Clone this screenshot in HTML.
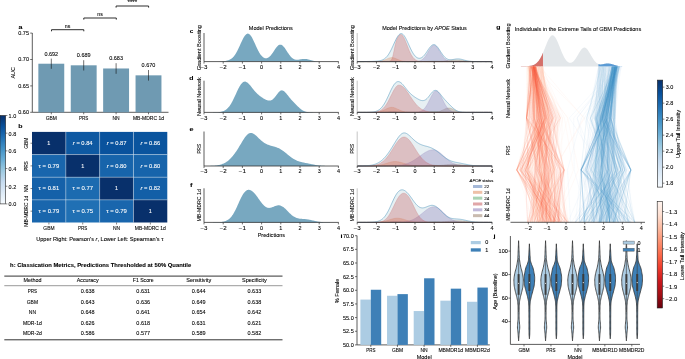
<!DOCTYPE html>
<html><head><meta charset="utf-8"><style>
html,body{margin:0;padding:0;background:#fff;}
svg{display:block;will-change:transform;}
text{font-family:"Liberation Sans", sans-serif;stroke:#000;stroke-width:0.08px;} text.w{stroke:#fff;}
</style></head><body>
<svg width="685" height="359" viewBox="0 0 685 359" font-family='"Liberation Sans", sans-serif'>
<rect width="685" height="359" fill="#fff"/>
<text x="20.6" y="29.22" font-size="5.9" text-anchor="middle" fill="#000" font-weight="bold" textLength="3.98" lengthAdjust="spacingAndGlyphs" >a</text>
<line x1="32.3" y1="33" x2="32.3" y2="112.3" stroke="#333333" stroke-width="0.8" />
<line x1="32.3" y1="112.3" x2="168.5" y2="112.3" stroke="#333333" stroke-width="0.8" />
<line x1="30.2" y1="112.3" x2="32.3" y2="112.3" stroke="#333333" stroke-width="0.7" />
<text x="29" y="114.03" font-size="4.8" text-anchor="end" fill="#000" textLength="10.69" lengthAdjust="spacingAndGlyphs" >0.60</text>
<line x1="30.2" y1="85.9" x2="32.3" y2="85.9" stroke="#333333" stroke-width="0.7" />
<text x="29" y="87.63" font-size="4.8" text-anchor="end" fill="#000" textLength="10.69" lengthAdjust="spacingAndGlyphs" >0.65</text>
<line x1="30.2" y1="59.5" x2="32.3" y2="59.5" stroke="#333333" stroke-width="0.7" />
<text x="29" y="61.23" font-size="4.8" text-anchor="end" fill="#000" textLength="10.69" lengthAdjust="spacingAndGlyphs" >0.70</text>
<line x1="30.2" y1="33.1" x2="32.3" y2="33.1" stroke="#333333" stroke-width="0.7" />
<text x="29" y="34.83" font-size="4.8" text-anchor="end" fill="#000" textLength="10.69" lengthAdjust="spacingAndGlyphs" >0.75</text>
<text transform="translate(12.8,72.8) rotate(-90)" x="0" y="1.94" font-size="5.4" text-anchor="middle" fill="#000" textLength="11.42" lengthAdjust="spacingAndGlyphs" >AUC</text>
<rect x="38.35" y="63.72" width="25.9" height="48.58" fill="#6f9ab2" />
<line x1="51.3" y1="58.6" x2="51.3" y2="68.8" stroke="#111" stroke-width="0.6" />
<text x="51.3" y="55.83" font-size="4.8" text-anchor="middle" fill="#000" textLength="13.74" lengthAdjust="spacingAndGlyphs" >0.692</text>
<line x1="51.3" y1="112.3" x2="51.3" y2="114.3" stroke="#333333" stroke-width="0.7" />
<text x="51.3" y="119.53" font-size="4.8" text-anchor="middle" fill="#000" textLength="11.15" lengthAdjust="spacingAndGlyphs" >GBM</text>
<rect x="70.75" y="65.31" width="25.9" height="46.99" fill="#6f9ab2" />
<line x1="83.7" y1="60.2" x2="83.7" y2="70.5" stroke="#111" stroke-width="0.6" />
<text x="83.7" y="57.43" font-size="4.8" text-anchor="middle" fill="#000" textLength="13.74" lengthAdjust="spacingAndGlyphs" >0.689</text>
<line x1="83.7" y1="112.3" x2="83.7" y2="114.3" stroke="#333333" stroke-width="0.7" />
<text x="83.7" y="119.53" font-size="4.8" text-anchor="middle" fill="#000" textLength="9.28" lengthAdjust="spacingAndGlyphs" >PRS</text>
<rect x="103.15" y="68.48" width="25.9" height="43.82" fill="#6f9ab2" />
<line x1="116.1" y1="63.2" x2="116.1" y2="73.8" stroke="#111" stroke-width="0.6" />
<text x="116.1" y="60.43" font-size="4.8" text-anchor="middle" fill="#000" textLength="13.74" lengthAdjust="spacingAndGlyphs" >0.683</text>
<line x1="116.1" y1="112.3" x2="116.1" y2="114.3" stroke="#333333" stroke-width="0.7" />
<text x="116.1" y="119.53" font-size="4.8" text-anchor="middle" fill="#000" textLength="7.18" lengthAdjust="spacingAndGlyphs" >NN</text>
<rect x="135.55" y="75.34" width="25.9" height="36.96" fill="#6f9ab2" />
<line x1="148.5" y1="70" x2="148.5" y2="80.6" stroke="#111" stroke-width="0.6" />
<text x="148.5" y="67.23" font-size="4.8" text-anchor="middle" fill="#000" textLength="13.74" lengthAdjust="spacingAndGlyphs" >0.670</text>
<line x1="148.5" y1="112.3" x2="148.5" y2="114.3" stroke="#333333" stroke-width="0.7" />
<text x="148.5" y="119.53" font-size="4.8" text-anchor="middle" fill="#000" textLength="31.08" lengthAdjust="spacingAndGlyphs" >MB-MDRC 1d</text>
<path d="M51.5,31.3 L51.5,29.7 L83.8,29.7 L83.8,31.3" fill="none" stroke="#222" stroke-width="0.95"/>
<text x="67.65" y="28.03" font-size="4.8" text-anchor="middle" fill="#000" textLength="5.54" lengthAdjust="spacingAndGlyphs" >ns</text>
<path d="M83.8,19.6 L83.8,18.0 L116.3,18.0 L116.3,19.6" fill="none" stroke="#222" stroke-width="0.95"/>
<text x="100.05" y="16.33" font-size="4.8" text-anchor="middle" fill="#000" textLength="5.54" lengthAdjust="spacingAndGlyphs" >ns</text>
<path d="M116.1,7.6 L116.1,6.0 L148.6,6.0 L148.6,7.6" fill="none" stroke="#222" stroke-width="0.95"/>
<text x="132.35" y="4.13" font-size="4.8" text-anchor="middle" fill="#000" textLength="9.60" lengthAdjust="spacingAndGlyphs" >****</text>
<text x="20.4" y="127.72" font-size="5.9" text-anchor="middle" fill="#000" font-weight="bold" textLength="4.22" lengthAdjust="spacingAndGlyphs" >b</text>
<defs><linearGradient id="gB" x1="0" y1="1" x2="0" y2="0"><stop offset="0.000" stop-color="#f7fbff"/><stop offset="0.062" stop-color="#eaf3fb"/><stop offset="0.125" stop-color="#deebf7"/><stop offset="0.188" stop-color="#d2e3f3"/><stop offset="0.250" stop-color="#c6dbef"/><stop offset="0.312" stop-color="#b2d2e8"/><stop offset="0.375" stop-color="#9dcae1"/><stop offset="0.438" stop-color="#84bcdb"/><stop offset="0.500" stop-color="#6aaed6"/><stop offset="0.562" stop-color="#56a0ce"/><stop offset="0.625" stop-color="#4191c6"/><stop offset="0.688" stop-color="#3181bd"/><stop offset="0.750" stop-color="#2070b4"/><stop offset="0.812" stop-color="#1460a8"/><stop offset="0.875" stop-color="#08509b"/><stop offset="0.938" stop-color="#084082"/><stop offset="1.000" stop-color="#08306b"/></linearGradient>
<linearGradient id="gBu" x1="0" y1="1" x2="0" y2="0"><stop offset="0.000" stop-color="#f7fbff"/><stop offset="0.062" stop-color="#ebf3fb"/><stop offset="0.125" stop-color="#dfebf7"/><stop offset="0.188" stop-color="#d2e3f3"/><stop offset="0.250" stop-color="#c7dbef"/><stop offset="0.312" stop-color="#b2d2e8"/><stop offset="0.375" stop-color="#9fcae1"/><stop offset="0.438" stop-color="#84bcdb"/><stop offset="0.500" stop-color="#6aaed6"/><stop offset="0.562" stop-color="#56a0ce"/><stop offset="0.625" stop-color="#4292c6"/><stop offset="0.688" stop-color="#3282be"/><stop offset="0.750" stop-color="#2070b4"/><stop offset="0.812" stop-color="#1460a8"/><stop offset="0.875" stop-color="#08509b"/><stop offset="0.938" stop-color="#084184"/><stop offset="1.000" stop-color="#08306b"/></linearGradient>
<linearGradient id="gR" x1="0" y1="0" x2="0" y2="1"><stop offset="0.000" stop-color="#fff5f0"/><stop offset="0.062" stop-color="#feeae1"/><stop offset="0.125" stop-color="#fee0d2"/><stop offset="0.188" stop-color="#fdcdb9"/><stop offset="0.250" stop-color="#fcbba1"/><stop offset="0.312" stop-color="#fca689"/><stop offset="0.375" stop-color="#fc9272"/><stop offset="0.438" stop-color="#fb7d5d"/><stop offset="0.500" stop-color="#fb694a"/><stop offset="0.562" stop-color="#f5523a"/><stop offset="0.625" stop-color="#ee3a2c"/><stop offset="0.688" stop-color="#dc2924"/><stop offset="0.750" stop-color="#ca181d"/><stop offset="0.812" stop-color="#b71319"/><stop offset="0.875" stop-color="#a30f15"/><stop offset="0.938" stop-color="#840711"/><stop offset="1.000" stop-color="#67000d"/></linearGradient></defs>
<rect x="0" y="115.5" width="5.6" height="88.4" fill="url(#gB)" stroke="#222" stroke-width="0.6"/>
<line x1="5.6" y1="115.5" x2="7.4" y2="115.5" stroke="#333333" stroke-width="0.6" />
<text x="8.6" y="117.93" font-size="4.8" text-anchor="start" fill="#000" textLength="7.63" lengthAdjust="spacingAndGlyphs" >1.0</text>
<line x1="5.6" y1="133.18" x2="7.4" y2="133.18" stroke="#333333" stroke-width="0.6" />
<text x="8.6" y="135.61" font-size="4.8" text-anchor="start" fill="#000" textLength="7.63" lengthAdjust="spacingAndGlyphs" >0.8</text>
<line x1="5.6" y1="150.86" x2="7.4" y2="150.86" stroke="#333333" stroke-width="0.6" />
<text x="8.6" y="153.29" font-size="4.8" text-anchor="start" fill="#000" textLength="7.63" lengthAdjust="spacingAndGlyphs" >0.6</text>
<line x1="5.6" y1="168.54" x2="7.4" y2="168.54" stroke="#333333" stroke-width="0.6" />
<text x="8.6" y="170.97" font-size="4.8" text-anchor="start" fill="#000" textLength="7.63" lengthAdjust="spacingAndGlyphs" >0.4</text>
<line x1="5.6" y1="186.22" x2="7.4" y2="186.22" stroke="#333333" stroke-width="0.6" />
<text x="8.6" y="188.65" font-size="4.8" text-anchor="start" fill="#000" textLength="7.63" lengthAdjust="spacingAndGlyphs" >0.2</text>
<line x1="5.6" y1="203.9" x2="7.4" y2="203.9" stroke="#333333" stroke-width="0.6" />
<text x="8.6" y="206.33" font-size="4.8" text-anchor="start" fill="#000" textLength="7.63" lengthAdjust="spacingAndGlyphs" >0.0</text>
<rect x="32" y="131.9" width="33.82" height="22.65" fill="#08306b" />
<rect x="65.82" y="131.9" width="33.82" height="22.65" fill="#0e59a2" />
<rect x="99.64" y="131.9" width="33.82" height="22.65" fill="#09529d" />
<rect x="133.46" y="131.9" width="33.82" height="22.65" fill="#0a549e" />
<rect x="32" y="154.55" width="33.82" height="22.65" fill="#1966ad" />
<rect x="65.82" y="154.55" width="33.82" height="22.65" fill="#08306b" />
<rect x="99.64" y="154.55" width="33.82" height="22.65" fill="#1764ab" />
<rect x="133.46" y="154.55" width="33.82" height="22.65" fill="#1764ab" />
<rect x="32" y="177.2" width="33.82" height="22.65" fill="#1561a9" />
<rect x="65.82" y="177.2" width="33.82" height="22.65" fill="#1c6bb0" />
<rect x="99.64" y="177.2" width="33.82" height="22.65" fill="#08306b" />
<rect x="133.46" y="177.2" width="33.82" height="22.65" fill="#135fa7" />
<rect x="32" y="199.85" width="33.82" height="22.65" fill="#1966ad" />
<rect x="65.82" y="199.85" width="33.82" height="22.65" fill="#2070b4" />
<rect x="99.64" y="199.85" width="33.82" height="22.65" fill="#1966ad" />
<rect x="133.46" y="199.85" width="33.82" height="22.65" fill="#08306b" />
<line x1="65.82" y1="131.9" x2="65.82" y2="222.5" stroke="#ffffff" stroke-width="0.5" stroke-opacity="0.7"/>
<line x1="32" y1="154.55" x2="167.28" y2="154.55" stroke="#ffffff" stroke-width="0.5" stroke-opacity="0.7"/>
<line x1="99.64" y1="131.9" x2="99.64" y2="222.5" stroke="#ffffff" stroke-width="0.5" stroke-opacity="0.7"/>
<line x1="32" y1="177.2" x2="167.28" y2="177.2" stroke="#ffffff" stroke-width="0.5" stroke-opacity="0.7"/>
<line x1="133.46" y1="131.9" x2="133.46" y2="222.5" stroke="#ffffff" stroke-width="0.5" stroke-opacity="0.7"/>
<line x1="32" y1="199.85" x2="167.28" y2="199.85" stroke="#ffffff" stroke-width="0.5" stroke-opacity="0.7"/>
<text x="48.91" y="144.95" font-size="4.8" text-anchor="middle" fill="#ffffff" textLength="3.05" lengthAdjust="spacingAndGlyphs" class="w">1</text>
<text x="82.73" y="144.95" font-size="4.8" text-anchor="middle" fill="#ffffff" textLength="19.74" lengthAdjust="spacingAndGlyphs" class="w"><tspan font-style="italic">r</tspan> = 0.84</text>
<text x="116.55" y="144.95" font-size="4.8" text-anchor="middle" fill="#ffffff" textLength="19.74" lengthAdjust="spacingAndGlyphs" class="w"><tspan font-style="italic">r</tspan> = 0.87</text>
<text x="150.37" y="144.95" font-size="4.8" text-anchor="middle" fill="#ffffff" textLength="19.74" lengthAdjust="spacingAndGlyphs" class="w"><tspan font-style="italic">r</tspan> = 0.86</text>
<text x="48.91" y="167.6" font-size="4.8" text-anchor="middle" fill="#ffffff" textLength="20.65" lengthAdjust="spacingAndGlyphs" class="w">τ = 0.79</text>
<text x="82.73" y="167.6" font-size="4.8" text-anchor="middle" fill="#ffffff" textLength="3.05" lengthAdjust="spacingAndGlyphs" class="w">1</text>
<text x="116.55" y="167.6" font-size="4.8" text-anchor="middle" fill="#ffffff" textLength="19.74" lengthAdjust="spacingAndGlyphs" class="w"><tspan font-style="italic">r</tspan> = 0.80</text>
<text x="150.37" y="167.6" font-size="4.8" text-anchor="middle" fill="#ffffff" textLength="19.74" lengthAdjust="spacingAndGlyphs" class="w"><tspan font-style="italic">r</tspan> = 0.80</text>
<text x="48.91" y="190.25" font-size="4.8" text-anchor="middle" fill="#ffffff" textLength="20.65" lengthAdjust="spacingAndGlyphs" class="w">τ = 0.81</text>
<text x="82.73" y="190.25" font-size="4.8" text-anchor="middle" fill="#ffffff" textLength="20.65" lengthAdjust="spacingAndGlyphs" class="w">τ = 0.77</text>
<text x="116.55" y="190.25" font-size="4.8" text-anchor="middle" fill="#ffffff" textLength="3.05" lengthAdjust="spacingAndGlyphs" class="w">1</text>
<text x="150.37" y="190.25" font-size="4.8" text-anchor="middle" fill="#ffffff" textLength="19.74" lengthAdjust="spacingAndGlyphs" class="w"><tspan font-style="italic">r</tspan> = 0.82</text>
<text x="48.91" y="212.9" font-size="4.8" text-anchor="middle" fill="#ffffff" textLength="20.65" lengthAdjust="spacingAndGlyphs" class="w">τ = 0.79</text>
<text x="82.73" y="212.9" font-size="4.8" text-anchor="middle" fill="#ffffff" textLength="20.65" lengthAdjust="spacingAndGlyphs" class="w">τ = 0.75</text>
<text x="116.55" y="212.9" font-size="4.8" text-anchor="middle" fill="#ffffff" textLength="20.65" lengthAdjust="spacingAndGlyphs" class="w">τ = 0.79</text>
<text x="150.37" y="212.9" font-size="4.8" text-anchor="middle" fill="#ffffff" textLength="3.05" lengthAdjust="spacingAndGlyphs" class="w">1</text>
<line x1="30.5" y1="143.22" x2="32.5" y2="143.22" stroke="#333333" stroke-width="0.6" />
<text transform="translate(26,143.22) rotate(-90)" x="0" y="1.73" font-size="4.8" text-anchor="middle" fill="#000" textLength="11.15" lengthAdjust="spacingAndGlyphs" >GBM</text>
<line x1="48.91" y1="222.5" x2="48.91" y2="224.5" stroke="#333333" stroke-width="0.6" />
<text x="48.91" y="229.73" font-size="4.8" text-anchor="middle" fill="#000" textLength="11.15" lengthAdjust="spacingAndGlyphs" >GBM</text>
<line x1="30.5" y1="165.88" x2="32.5" y2="165.88" stroke="#333333" stroke-width="0.6" />
<text transform="translate(26,165.88) rotate(-90)" x="0" y="1.73" font-size="4.8" text-anchor="middle" fill="#000" textLength="9.28" lengthAdjust="spacingAndGlyphs" >PRS</text>
<line x1="82.73" y1="222.5" x2="82.73" y2="224.5" stroke="#333333" stroke-width="0.6" />
<text x="82.73" y="229.73" font-size="4.8" text-anchor="middle" fill="#000" textLength="9.28" lengthAdjust="spacingAndGlyphs" >PRS</text>
<line x1="30.5" y1="188.53" x2="32.5" y2="188.53" stroke="#333333" stroke-width="0.6" />
<text transform="translate(26,188.53) rotate(-90)" x="0" y="1.73" font-size="4.8" text-anchor="middle" fill="#000" textLength="7.18" lengthAdjust="spacingAndGlyphs" >NN</text>
<line x1="116.55" y1="222.5" x2="116.55" y2="224.5" stroke="#333333" stroke-width="0.6" />
<text x="116.55" y="229.73" font-size="4.8" text-anchor="middle" fill="#000" textLength="7.18" lengthAdjust="spacingAndGlyphs" >NN</text>
<line x1="30.5" y1="211.18" x2="32.5" y2="211.18" stroke="#333333" stroke-width="0.6" />
<text transform="translate(26,211.18) rotate(-90)" x="0" y="1.73" font-size="4.8" text-anchor="middle" fill="#000" textLength="31.08" lengthAdjust="spacingAndGlyphs" >MB-MDRC 1d</text>
<line x1="150.37" y1="222.5" x2="150.37" y2="224.5" stroke="#333333" stroke-width="0.6" />
<text x="150.37" y="229.73" font-size="4.8" text-anchor="middle" fill="#000" textLength="31.08" lengthAdjust="spacingAndGlyphs" >MB-MDRC 1d</text>
<text x="99.8" y="240.8" font-size="5" text-anchor="middle" fill="#000" textLength="127.23" lengthAdjust="spacingAndGlyphs" >Upper Right: Pearson's <tspan font-style="italic">r</tspan>, Lower Left: Spearman's τ</text>
<text x="10.1" y="266.88" font-size="4.95" text-anchor="start" fill="#000" font-weight="bold" textLength="181.15" lengthAdjust="spacingAndGlyphs" >h: Classication Metrics, Predictions Thresholded at 50% Quantile</text>
<line x1="4.3" y1="276.1" x2="282.5" y2="276.1" stroke="#333" stroke-width="1.0" />
<line x1="4.3" y1="285.7" x2="282.5" y2="285.7" stroke="#555" stroke-width="0.6" />
<line x1="4.3" y1="339.8" x2="282.5" y2="339.8" stroke="#333" stroke-width="1.0" />
<text x="32.4" y="282.33" font-size="4.8" text-anchor="middle" fill="#000" textLength="18.00" lengthAdjust="spacingAndGlyphs" >Method</text>
<text x="87.7" y="282.33" font-size="4.8" text-anchor="middle" fill="#000" textLength="21.91" lengthAdjust="spacingAndGlyphs" >Accuracy</text>
<text x="143.2" y="282.33" font-size="4.8" text-anchor="middle" fill="#000" textLength="20.79" lengthAdjust="spacingAndGlyphs" >F1 Score</text>
<text x="198.7" y="282.33" font-size="4.8" text-anchor="middle" fill="#000" textLength="24.99" lengthAdjust="spacingAndGlyphs" >Sensitivity</text>
<text x="254.4" y="282.33" font-size="4.8" text-anchor="middle" fill="#000" textLength="24.74" lengthAdjust="spacingAndGlyphs" >Specificity</text>
<text x="32.4" y="293.23" font-size="4.8" text-anchor="middle" fill="#000" textLength="9.28" lengthAdjust="spacingAndGlyphs" >PRS</text>
<text x="87.7" y="293.23" font-size="4.8" text-anchor="middle" fill="#000" textLength="13.74" lengthAdjust="spacingAndGlyphs" >0.638</text>
<text x="143.2" y="293.23" font-size="4.8" text-anchor="middle" fill="#000" textLength="13.74" lengthAdjust="spacingAndGlyphs" >0.631</text>
<text x="198.7" y="293.23" font-size="4.8" text-anchor="middle" fill="#000" textLength="13.74" lengthAdjust="spacingAndGlyphs" >0.644</text>
<text x="254.4" y="293.23" font-size="4.8" text-anchor="middle" fill="#000" textLength="13.74" lengthAdjust="spacingAndGlyphs" >0.633</text>
<text x="32.4" y="303.53" font-size="4.8" text-anchor="middle" fill="#000" textLength="11.15" lengthAdjust="spacingAndGlyphs" >GBM</text>
<text x="87.7" y="303.53" font-size="4.8" text-anchor="middle" fill="#000" textLength="13.74" lengthAdjust="spacingAndGlyphs" >0.643</text>
<text x="143.2" y="303.53" font-size="4.8" text-anchor="middle" fill="#000" textLength="13.74" lengthAdjust="spacingAndGlyphs" >0.636</text>
<text x="198.7" y="303.53" font-size="4.8" text-anchor="middle" fill="#000" textLength="13.74" lengthAdjust="spacingAndGlyphs" >0.649</text>
<text x="254.4" y="303.53" font-size="4.8" text-anchor="middle" fill="#000" textLength="13.74" lengthAdjust="spacingAndGlyphs" >0.638</text>
<text x="32.4" y="314.03" font-size="4.8" text-anchor="middle" fill="#000" textLength="7.18" lengthAdjust="spacingAndGlyphs" >NN</text>
<text x="87.7" y="314.03" font-size="4.8" text-anchor="middle" fill="#000" textLength="13.74" lengthAdjust="spacingAndGlyphs" >0.648</text>
<text x="143.2" y="314.03" font-size="4.8" text-anchor="middle" fill="#000" textLength="13.74" lengthAdjust="spacingAndGlyphs" >0.641</text>
<text x="198.7" y="314.03" font-size="4.8" text-anchor="middle" fill="#000" textLength="13.74" lengthAdjust="spacingAndGlyphs" >0.654</text>
<text x="254.4" y="314.03" font-size="4.8" text-anchor="middle" fill="#000" textLength="13.74" lengthAdjust="spacingAndGlyphs" >0.642</text>
<text x="32.4" y="324.83" font-size="4.8" text-anchor="middle" fill="#000" textLength="18.81" lengthAdjust="spacingAndGlyphs" >MDR-1d</text>
<text x="87.7" y="324.83" font-size="4.8" text-anchor="middle" fill="#000" textLength="13.74" lengthAdjust="spacingAndGlyphs" >0.626</text>
<text x="143.2" y="324.83" font-size="4.8" text-anchor="middle" fill="#000" textLength="13.74" lengthAdjust="spacingAndGlyphs" >0.618</text>
<text x="198.7" y="324.83" font-size="4.8" text-anchor="middle" fill="#000" textLength="13.74" lengthAdjust="spacingAndGlyphs" >0.631</text>
<text x="254.4" y="324.83" font-size="4.8" text-anchor="middle" fill="#000" textLength="13.74" lengthAdjust="spacingAndGlyphs" >0.621</text>
<text x="32.4" y="335.23" font-size="4.8" text-anchor="middle" fill="#000" textLength="18.81" lengthAdjust="spacingAndGlyphs" >MDR-2d</text>
<text x="87.7" y="335.23" font-size="4.8" text-anchor="middle" fill="#000" textLength="13.74" lengthAdjust="spacingAndGlyphs" >0.586</text>
<text x="143.2" y="335.23" font-size="4.8" text-anchor="middle" fill="#000" textLength="13.74" lengthAdjust="spacingAndGlyphs" >0.577</text>
<text x="198.7" y="335.23" font-size="4.8" text-anchor="middle" fill="#000" textLength="13.74" lengthAdjust="spacingAndGlyphs" >0.589</text>
<text x="254.4" y="335.23" font-size="4.8" text-anchor="middle" fill="#000" textLength="13.74" lengthAdjust="spacingAndGlyphs" >0.582</text>
<path d="M204,61.58 L204.48,61.58 L204.96,61.58 L205.44,61.57 L205.92,61.57 L206.4,61.57 L206.88,61.57 L207.36,61.56 L207.84,61.56 L208.32,61.56 L208.8,61.55 L209.28,61.55 L209.76,61.54 L210.24,61.54 L210.72,61.54 L211.2,61.53 L211.68,61.53 L212.16,61.52 L212.64,61.51 L213.12,61.51 L213.6,61.5 L214.08,61.49 L214.56,61.49 L215.04,61.48 L215.52,61.47 L216,61.46 L216.48,61.45 L216.96,61.44 L217.44,61.43 L217.92,61.42 L218.4,61.41 L218.88,61.39 L219.36,61.38 L219.84,61.36 L220.32,61.34 L220.8,61.32 L221.28,61.3 L221.76,61.27 L222.24,61.24 L222.72,61.21 L223.2,61.18 L223.68,61.13 L224.16,61.09 L224.64,61.03 L225.12,60.97 L225.6,60.9 L226.08,60.82 L226.56,60.72 L227.04,60.61 L227.52,60.49 L228,60.35 L228.48,60.19 L228.96,60 L229.44,59.79 L229.92,59.56 L230.4,59.29 L230.88,58.99 L231.36,58.66 L231.84,58.29 L232.32,57.88 L232.8,57.42 L233.28,56.92 L233.76,56.38 L234.24,55.79 L234.72,55.14 L235.2,54.45 L235.68,53.71 L236.16,52.92 L236.64,52.08 L237.12,51.2 L237.6,50.27 L238.08,49.31 L238.56,48.31 L239.04,47.28 L239.52,46.24 L240,45.18 L240.48,44.11 L240.96,43.05 L241.44,41.99 L241.92,40.96 L242.4,39.96 L242.88,39 L243.36,38.09 L243.84,37.25 L244.32,36.47 L244.8,35.77 L245.28,35.16 L245.76,34.64 L246.24,34.23 L246.72,33.91 L247.2,33.71 L247.68,33.62 L248.16,33.65 L248.64,33.78 L249.12,34.03 L249.6,34.39 L250.08,34.85 L250.56,35.4 L251.04,36.05 L251.52,36.79 L252,37.6 L252.48,38.47 L252.96,39.4 L253.44,40.38 L253.92,41.4 L254.4,42.44 L254.88,43.5 L255.36,44.57 L255.84,45.64 L256.32,46.69 L256.8,47.73 L257.28,48.74 L257.76,49.72 L258.24,50.66 L258.72,51.56 L259.2,52.41 L259.68,53.21 L260.16,53.96 L260.64,54.65 L261.12,55.28 L261.6,55.85 L262.08,56.37 L262.56,56.82 L263.04,57.21 L263.52,57.54 L264,57.81 L264.48,58.02 L264.96,58.17 L265.44,58.26 L265.92,58.29 L266.4,58.27 L266.88,58.18 L267.36,58.03 L267.84,57.82 L268.32,57.56 L268.8,57.24 L269.28,56.86 L269.76,56.43 L270.24,55.95 L270.72,55.42 L271.2,54.85 L271.68,54.23 L272.16,53.58 L272.64,52.9 L273.12,52.2 L273.6,51.48 L274.08,50.76 L274.56,50.03 L275.04,49.32 L275.52,48.62 L276,47.96 L276.48,47.33 L276.96,46.75 L277.44,46.22 L277.92,45.76 L278.4,45.37 L278.88,45.06 L279.36,44.83 L279.84,44.69 L280.32,44.63 L280.8,44.67 L281.28,44.79 L281.76,45.01 L282.24,45.3 L282.72,45.68 L283.2,46.13 L283.68,46.65 L284.16,47.23 L284.64,47.85 L285.12,48.52 L285.6,49.22 L286.08,49.95 L286.56,50.69 L287.04,51.44 L287.52,52.18 L288,52.91 L288.48,53.62 L288.96,54.31 L289.44,54.97 L289.92,55.59 L290.4,56.17 L290.88,56.71 L291.36,57.21 L291.84,57.66 L292.32,58.06 L292.8,58.42 L293.28,58.73 L293.76,58.99 L294.24,59.21 L294.72,59.39 L295.2,59.53 L295.68,59.63 L296.16,59.7 L296.64,59.73 L297.12,59.74 L297.6,59.73 L298.08,59.69 L298.56,59.64 L299.04,59.57 L299.52,59.49 L300,59.41 L300.48,59.32 L300.96,59.24 L301.44,59.15 L301.92,59.08 L302.4,59.01 L302.88,58.96 L303.36,58.92 L303.84,58.9 L304.32,58.89 L304.8,58.9 L305.28,58.92 L305.76,58.96 L306.24,59.02 L306.72,59.1 L307.2,59.19 L307.68,59.29 L308.16,59.4 L308.64,59.52 L309.12,59.65 L309.6,59.78 L310.08,59.92 L310.56,60.05 L311.04,60.19 L311.52,60.32 L312,60.44 L312.48,60.57 L312.96,60.68 L313.44,60.79 L313.92,60.89 L314.4,60.98 L314.88,61.07 L315.36,61.14 L315.84,61.21 L316.32,61.27 L316.8,61.32 L317.28,61.37 L317.76,61.41 L318.24,61.44 L318.72,61.47 L319.2,61.49 L319.68,61.51 L320.16,61.53 L320.64,61.55 L321.12,61.56 L321.6,61.57 L322.08,61.57 L322.56,61.58 L323.04,61.58 L323.52,61.59 L324,61.59 L324.48,61.59 L324.96,61.59 L325.44,61.6 L325.92,61.6 L326.4,61.6 L326.88,61.6 L327.36,61.6 L327.84,61.6 L328.32,61.6 L328.8,61.6 L329.28,61.6 L329.76,61.6 L330.24,61.6 L330.72,61.6 L331.2,61.6 L331.68,61.6 L332.16,61.6 L332.64,61.6 L333.12,61.6 L333.6,61.6 L334.08,61.6 L334.56,61.6 L335.04,61.6 L335.52,61.6 L336,61.6 L336.48,61.6 L336.96,61.6 L337.44,61.6 L337.92,61.6 L338.4,61.6 L338.4,61.6 L204,61.6 Z" fill="#78a8c0"/>
<path d="M357.2,61.58 L357.68,61.58 L358.16,61.58 L358.64,61.57 L359.13,61.57 L359.61,61.57 L360.09,61.57 L360.57,61.56 L361.05,61.56 L361.53,61.56 L362.01,61.55 L362.5,61.55 L362.98,61.54 L363.46,61.54 L363.94,61.54 L364.42,61.53 L364.9,61.53 L365.39,61.52 L365.87,61.51 L366.35,61.51 L366.83,61.5 L367.31,61.49 L367.79,61.49 L368.27,61.48 L368.76,61.47 L369.24,61.46 L369.72,61.45 L370.2,61.44 L370.68,61.43 L371.16,61.42 L371.64,61.41 L372.13,61.39 L372.61,61.38 L373.09,61.36 L373.57,61.34 L374.05,61.32 L374.53,61.3 L375.02,61.27 L375.5,61.24 L375.98,61.21 L376.46,61.18 L376.94,61.13 L377.42,61.09 L377.9,61.03 L378.39,60.97 L378.87,60.9 L379.35,60.82 L379.83,60.72 L380.31,60.61 L380.79,60.49 L381.27,60.35 L381.76,60.19 L382.24,60 L382.72,59.79 L383.2,59.56 L383.68,59.29 L384.16,58.99 L384.65,58.66 L385.13,58.29 L385.61,57.88 L386.09,57.42 L386.57,56.92 L387.05,56.38 L387.53,55.79 L388.02,55.14 L388.5,54.45 L388.98,53.71 L389.46,52.92 L389.94,52.08 L390.42,51.2 L390.9,50.27 L391.39,49.31 L391.87,48.31 L392.35,47.28 L392.83,46.24 L393.31,45.18 L393.79,44.11 L394.28,43.05 L394.76,41.99 L395.24,40.96 L395.72,39.96 L396.2,39 L396.68,38.09 L397.16,37.25 L397.65,36.47 L398.13,35.77 L398.61,35.16 L399.09,34.64 L399.57,34.23 L400.05,33.91 L400.53,33.71 L401.02,33.62 L401.5,33.65 L401.98,33.78 L402.46,34.03 L402.94,34.39 L403.42,34.85 L403.91,35.4 L404.39,36.05 L404.87,36.79 L405.35,37.6 L405.83,38.47 L406.31,39.4 L406.79,40.38 L407.28,41.4 L407.76,42.44 L408.24,43.5 L408.72,44.57 L409.2,45.64 L409.68,46.69 L410.16,47.73 L410.65,48.74 L411.13,49.72 L411.61,50.66 L412.09,51.56 L412.57,52.41 L413.05,53.21 L413.54,53.96 L414.02,54.65 L414.5,55.28 L414.98,55.85 L415.46,56.37 L415.94,56.82 L416.42,57.21 L416.91,57.54 L417.39,57.81 L417.87,58.02 L418.35,58.17 L418.83,58.26 L419.31,58.29 L419.8,58.27 L420.28,58.18 L420.76,58.03 L421.24,57.82 L421.72,57.56 L422.2,57.24 L422.68,56.86 L423.17,56.43 L423.65,55.95 L424.13,55.42 L424.61,54.85 L425.09,54.23 L425.57,53.58 L426.05,52.9 L426.54,52.2 L427.02,51.48 L427.5,50.76 L427.98,50.03 L428.46,49.32 L428.94,48.62 L429.43,47.96 L429.91,47.33 L430.39,46.75 L430.87,46.22 L431.35,45.76 L431.83,45.37 L432.31,45.06 L432.8,44.83 L433.28,44.69 L433.76,44.63 L434.24,44.67 L434.72,44.79 L435.2,45.01 L435.68,45.3 L436.17,45.68 L436.65,46.13 L437.13,46.65 L437.61,47.23 L438.09,47.85 L438.57,48.52 L439.06,49.22 L439.54,49.95 L440.02,50.69 L440.5,51.44 L440.98,52.18 L441.46,52.91 L441.94,53.62 L442.43,54.31 L442.91,54.97 L443.39,55.59 L443.87,56.17 L444.35,56.71 L444.83,57.21 L445.31,57.66 L445.8,58.06 L446.28,58.42 L446.76,58.73 L447.24,58.99 L447.72,59.21 L448.2,59.39 L448.69,59.53 L449.17,59.63 L449.65,59.7 L450.13,59.73 L450.61,59.74 L451.09,59.73 L451.57,59.69 L452.06,59.64 L452.54,59.57 L453.02,59.49 L453.5,59.41 L453.98,59.32 L454.46,59.24 L454.94,59.15 L455.43,59.08 L455.91,59.01 L456.39,58.96 L456.87,58.92 L457.35,58.9 L457.83,58.89 L458.31,58.9 L458.8,58.92 L459.28,58.96 L459.76,59.02 L460.24,59.1 L460.72,59.19 L461.2,59.29 L461.69,59.4 L462.17,59.52 L462.65,59.65 L463.13,59.78 L463.61,59.92 L464.09,60.05 L464.57,60.19 L465.06,60.32 L465.54,60.44 L466.02,60.57 L466.5,60.68 L466.98,60.79 L467.46,60.89 L467.94,60.98 L468.43,61.07 L468.91,61.14 L469.39,61.21 L469.87,61.27 L470.35,61.32 L470.83,61.37 L471.32,61.41 L471.8,61.44 L472.28,61.47 L472.76,61.49 L473.24,61.51 L473.72,61.53 L474.2,61.55 L474.69,61.56 L475.17,61.57 L475.65,61.57 L476.13,61.58 L476.61,61.58 L477.09,61.59 L477.57,61.59 L478.06,61.59 L478.54,61.59 L479.02,61.6 L479.5,61.6 L479.98,61.6 L480.46,61.6 L480.95,61.6 L481.43,61.6 L481.91,61.6 L482.39,61.6 L482.87,61.6 L483.35,61.6 L483.83,61.6 L484.32,61.6 L484.8,61.6 L485.28,61.6 L485.76,61.6 L486.24,61.6 L486.72,61.6 L487.21,61.6 L487.69,61.6 L488.17,61.6 L488.65,61.6 L489.13,61.6 L489.61,61.6 L490.09,61.6 L490.58,61.6 L491.06,61.6 L491.54,61.6 L492.02,61.6 L492.02,61.6 L357.2,61.6 Z" fill="#e7f0f3"/>
<path d="M357.2,61.6 L357.68,61.6 L358.16,61.6 L358.64,61.6 L359.13,61.6 L359.61,61.6 L360.09,61.6 L360.57,61.6 L361.05,61.6 L361.53,61.6 L362.01,61.6 L362.5,61.6 L362.98,61.6 L363.46,61.6 L363.94,61.6 L364.42,61.6 L364.9,61.6 L365.39,61.6 L365.87,61.6 L366.35,61.6 L366.83,61.6 L367.31,61.6 L367.79,61.6 L368.27,61.6 L368.76,61.6 L369.24,61.6 L369.72,61.6 L370.2,61.6 L370.68,61.6 L371.16,61.6 L371.64,61.6 L372.13,61.6 L372.61,61.59 L373.09,61.59 L373.57,61.59 L374.05,61.59 L374.53,61.58 L375.02,61.58 L375.5,61.57 L375.98,61.57 L376.46,61.56 L376.94,61.55 L377.42,61.55 L377.9,61.53 L378.39,61.52 L378.87,61.51 L379.35,61.49 L379.83,61.48 L380.31,61.46 L380.79,61.44 L381.27,61.41 L381.76,61.39 L382.24,61.36 L382.72,61.34 L383.2,61.31 L383.68,61.28 L384.16,61.25 L384.65,61.22 L385.13,61.2 L385.61,61.17 L386.09,61.14 L386.57,61.12 L387.05,61.1 L387.53,61.08 L388.02,61.06 L388.5,61.05 L388.98,61.04 L389.46,61.03 L389.94,61.03 L390.42,61.03 L390.9,61.04 L391.39,61.05 L391.87,61.06 L392.35,61.08 L392.83,61.1 L393.31,61.12 L393.79,61.14 L394.28,61.17 L394.76,61.2 L395.24,61.22 L395.72,61.25 L396.2,61.28 L396.68,61.31 L397.16,61.34 L397.65,61.36 L398.13,61.39 L398.61,61.41 L399.09,61.44 L399.57,61.46 L400.05,61.48 L400.53,61.49 L401.02,61.51 L401.5,61.52 L401.98,61.53 L402.46,61.55 L402.94,61.55 L403.42,61.56 L403.91,61.57 L404.39,61.57 L404.87,61.58 L405.35,61.58 L405.83,61.59 L406.31,61.59 L406.79,61.59 L407.28,61.59 L407.76,61.6 L408.24,61.6 L408.72,61.6 L409.2,61.6 L409.68,61.6 L410.16,61.6 L410.65,61.6 L411.13,61.6 L411.61,61.6 L412.09,61.6 L412.57,61.6 L413.05,61.6 L413.54,61.6 L414.02,61.6 L414.5,61.6 L414.98,61.6 L415.46,61.6 L415.94,61.6 L416.42,61.6 L416.91,61.6 L417.39,61.6 L417.87,61.6 L418.35,61.6 L418.83,61.6 L419.31,61.6 L419.8,61.6 L420.28,61.6 L420.76,61.6 L421.24,61.6 L421.72,61.6 L422.2,61.6 L422.68,61.6 L423.17,61.6 L423.65,61.6 L424.13,61.6 L424.61,61.6 L425.09,61.6 L425.57,61.6 L426.05,61.6 L426.54,61.6 L427.02,61.6 L427.5,61.6 L427.98,61.6 L428.46,61.6 L428.94,61.6 L429.43,61.6 L429.91,61.6 L430.39,61.6 L430.87,61.6 L431.35,61.6 L431.83,61.6 L432.31,61.6 L432.8,61.6 L433.28,61.6 L433.76,61.6 L434.24,61.6 L434.72,61.6 L435.2,61.6 L435.68,61.6 L436.17,61.6 L436.65,61.6 L437.13,61.6 L437.61,61.6 L438.09,61.6 L438.57,61.6 L439.06,61.6 L439.54,61.6 L440.02,61.6 L440.5,61.6 L440.98,61.6 L441.46,61.6 L441.94,61.6 L442.43,61.6 L442.91,61.6 L443.39,61.6 L443.87,61.6 L444.35,61.6 L444.83,61.6 L445.31,61.6 L445.8,61.6 L446.28,61.6 L446.76,61.6 L447.24,61.6 L447.72,61.6 L448.2,61.6 L448.69,61.6 L449.17,61.6 L449.65,61.6 L450.13,61.6 L450.61,61.6 L451.09,61.6 L451.57,61.6 L452.06,61.6 L452.54,61.6 L453.02,61.6 L453.5,61.6 L453.98,61.6 L454.46,61.6 L454.94,61.6 L455.43,61.6 L455.91,61.6 L456.39,61.6 L456.87,61.6 L457.35,61.6 L457.83,61.6 L458.31,61.6 L458.8,61.6 L459.28,61.6 L459.76,61.6 L460.24,61.6 L460.72,61.6 L461.2,61.6 L461.69,61.6 L462.17,61.6 L462.65,61.6 L463.13,61.6 L463.61,61.6 L464.09,61.6 L464.57,61.6 L465.06,61.6 L465.54,61.6 L466.02,61.6 L466.5,61.6 L466.98,61.6 L467.46,61.6 L467.94,61.6 L468.43,61.6 L468.91,61.6 L469.39,61.6 L469.87,61.6 L470.35,61.6 L470.83,61.6 L471.32,61.6 L471.8,61.6 L472.28,61.6 L472.76,61.6 L473.24,61.6 L473.72,61.6 L474.2,61.6 L474.69,61.6 L475.17,61.6 L475.65,61.6 L476.13,61.6 L476.61,61.6 L477.09,61.6 L477.57,61.6 L478.06,61.6 L478.54,61.6 L479.02,61.6 L479.5,61.6 L479.98,61.6 L480.46,61.6 L480.95,61.6 L481.43,61.6 L481.91,61.6 L482.39,61.6 L482.87,61.6 L483.35,61.6 L483.83,61.6 L484.32,61.6 L484.8,61.6 L485.28,61.6 L485.76,61.6 L486.24,61.6 L486.72,61.6 L487.21,61.6 L487.69,61.6 L488.17,61.6 L488.65,61.6 L489.13,61.6 L489.61,61.6 L490.09,61.6 L490.58,61.6 L491.06,61.6 L491.54,61.6 L492.02,61.6 L492.02,61.6 L357.2,61.6 Z" fill="#4c72b0" fill-opacity="0.3" stroke="#4c72b0" stroke-opacity="0.4" stroke-width="0.5"/>
<path d="M357.2,61.6 L357.68,61.6 L358.16,61.6 L358.64,61.6 L359.13,61.6 L359.61,61.6 L360.09,61.6 L360.57,61.6 L361.05,61.6 L361.53,61.6 L362.01,61.6 L362.5,61.6 L362.98,61.6 L363.46,61.6 L363.94,61.6 L364.42,61.6 L364.9,61.6 L365.39,61.6 L365.87,61.6 L366.35,61.6 L366.83,61.6 L367.31,61.6 L367.79,61.6 L368.27,61.6 L368.76,61.6 L369.24,61.6 L369.72,61.6 L370.2,61.6 L370.68,61.6 L371.16,61.6 L371.64,61.6 L372.13,61.6 L372.61,61.59 L373.09,61.59 L373.57,61.59 L374.05,61.58 L374.53,61.58 L375.02,61.57 L375.5,61.56 L375.98,61.55 L376.46,61.53 L376.94,61.51 L377.42,61.49 L377.9,61.46 L378.39,61.42 L378.87,61.38 L379.35,61.33 L379.83,61.27 L380.31,61.2 L380.79,61.11 L381.27,61.02 L381.76,60.91 L382.24,60.79 L382.72,60.65 L383.2,60.5 L383.68,60.33 L384.16,60.16 L384.65,59.97 L385.13,59.77 L385.61,59.56 L386.09,59.34 L386.57,59.13 L387.05,58.91 L387.53,58.7 L388.02,58.5 L388.5,58.31 L388.98,58.13 L389.46,57.98 L389.94,57.84 L390.42,57.74 L390.9,57.66 L391.39,57.61 L391.87,57.6 L392.35,57.61 L392.83,57.66 L393.31,57.74 L393.79,57.84 L394.28,57.98 L394.76,58.13 L395.24,58.31 L395.72,58.5 L396.2,58.7 L396.68,58.91 L397.16,59.13 L397.65,59.34 L398.13,59.56 L398.61,59.77 L399.09,59.97 L399.57,60.16 L400.05,60.33 L400.53,60.5 L401.02,60.65 L401.5,60.79 L401.98,60.91 L402.46,61.02 L402.94,61.11 L403.42,61.2 L403.91,61.27 L404.39,61.33 L404.87,61.38 L405.35,61.42 L405.83,61.46 L406.31,61.49 L406.79,61.51 L407.28,61.53 L407.76,61.55 L408.24,61.56 L408.72,61.57 L409.2,61.58 L409.68,61.58 L410.16,61.59 L410.65,61.59 L411.13,61.59 L411.61,61.6 L412.09,61.6 L412.57,61.6 L413.05,61.6 L413.54,61.6 L414.02,61.6 L414.5,61.6 L414.98,61.6 L415.46,61.6 L415.94,61.6 L416.42,61.6 L416.91,61.6 L417.39,61.6 L417.87,61.6 L418.35,61.6 L418.83,61.6 L419.31,61.6 L419.8,61.6 L420.28,61.6 L420.76,61.6 L421.24,61.6 L421.72,61.6 L422.2,61.6 L422.68,61.6 L423.17,61.6 L423.65,61.6 L424.13,61.6 L424.61,61.6 L425.09,61.6 L425.57,61.6 L426.05,61.6 L426.54,61.6 L427.02,61.6 L427.5,61.6 L427.98,61.6 L428.46,61.6 L428.94,61.6 L429.43,61.6 L429.91,61.6 L430.39,61.6 L430.87,61.6 L431.35,61.6 L431.83,61.6 L432.31,61.6 L432.8,61.6 L433.28,61.6 L433.76,61.6 L434.24,61.6 L434.72,61.6 L435.2,61.6 L435.68,61.6 L436.17,61.6 L436.65,61.6 L437.13,61.6 L437.61,61.6 L438.09,61.6 L438.57,61.6 L439.06,61.6 L439.54,61.6 L440.02,61.6 L440.5,61.6 L440.98,61.6 L441.46,61.6 L441.94,61.6 L442.43,61.6 L442.91,61.6 L443.39,61.6 L443.87,61.6 L444.35,61.6 L444.83,61.6 L445.31,61.6 L445.8,61.6 L446.28,61.6 L446.76,61.6 L447.24,61.6 L447.72,61.6 L448.2,61.6 L448.69,61.6 L449.17,61.6 L449.65,61.6 L450.13,61.6 L450.61,61.6 L451.09,61.6 L451.57,61.6 L452.06,61.6 L452.54,61.6 L453.02,61.6 L453.5,61.6 L453.98,61.6 L454.46,61.6 L454.94,61.6 L455.43,61.6 L455.91,61.6 L456.39,61.6 L456.87,61.6 L457.35,61.6 L457.83,61.6 L458.31,61.6 L458.8,61.6 L459.28,61.6 L459.76,61.6 L460.24,61.6 L460.72,61.6 L461.2,61.6 L461.69,61.6 L462.17,61.6 L462.65,61.6 L463.13,61.6 L463.61,61.6 L464.09,61.6 L464.57,61.6 L465.06,61.6 L465.54,61.6 L466.02,61.6 L466.5,61.6 L466.98,61.6 L467.46,61.6 L467.94,61.6 L468.43,61.6 L468.91,61.6 L469.39,61.6 L469.87,61.6 L470.35,61.6 L470.83,61.6 L471.32,61.6 L471.8,61.6 L472.28,61.6 L472.76,61.6 L473.24,61.6 L473.72,61.6 L474.2,61.6 L474.69,61.6 L475.17,61.6 L475.65,61.6 L476.13,61.6 L476.61,61.6 L477.09,61.6 L477.57,61.6 L478.06,61.6 L478.54,61.6 L479.02,61.6 L479.5,61.6 L479.98,61.6 L480.46,61.6 L480.95,61.6 L481.43,61.6 L481.91,61.6 L482.39,61.6 L482.87,61.6 L483.35,61.6 L483.83,61.6 L484.32,61.6 L484.8,61.6 L485.28,61.6 L485.76,61.6 L486.24,61.6 L486.72,61.6 L487.21,61.6 L487.69,61.6 L488.17,61.6 L488.65,61.6 L489.13,61.6 L489.61,61.6 L490.09,61.6 L490.58,61.6 L491.06,61.6 L491.54,61.6 L492.02,61.6 L492.02,61.6 L357.2,61.6 Z" fill="#dd8452" fill-opacity="0.3" stroke="#dd8452" stroke-opacity="0.4" stroke-width="0.5"/>
<path d="M357.2,61.6 L357.68,61.6 L358.16,61.6 L358.64,61.6 L359.13,61.6 L359.61,61.6 L360.09,61.6 L360.57,61.6 L361.05,61.6 L361.53,61.6 L362.01,61.6 L362.5,61.6 L362.98,61.6 L363.46,61.6 L363.94,61.6 L364.42,61.6 L364.9,61.6 L365.39,61.6 L365.87,61.6 L366.35,61.6 L366.83,61.6 L367.31,61.6 L367.79,61.6 L368.27,61.6 L368.76,61.6 L369.24,61.6 L369.72,61.6 L370.2,61.6 L370.68,61.6 L371.16,61.6 L371.64,61.6 L372.13,61.6 L372.61,61.6 L373.09,61.6 L373.57,61.6 L374.05,61.6 L374.53,61.6 L375.02,61.6 L375.5,61.6 L375.98,61.6 L376.46,61.6 L376.94,61.6 L377.42,61.6 L377.9,61.6 L378.39,61.6 L378.87,61.6 L379.35,61.6 L379.83,61.6 L380.31,61.6 L380.79,61.6 L381.27,61.6 L381.76,61.6 L382.24,61.6 L382.72,61.6 L383.2,61.6 L383.68,61.6 L384.16,61.6 L384.65,61.6 L385.13,61.6 L385.61,61.6 L386.09,61.6 L386.57,61.6 L387.05,61.6 L387.53,61.6 L388.02,61.6 L388.5,61.6 L388.98,61.6 L389.46,61.6 L389.94,61.6 L390.42,61.6 L390.9,61.6 L391.39,61.6 L391.87,61.6 L392.35,61.6 L392.83,61.6 L393.31,61.6 L393.79,61.6 L394.28,61.6 L394.76,61.6 L395.24,61.6 L395.72,61.6 L396.2,61.6 L396.68,61.6 L397.16,61.6 L397.65,61.6 L398.13,61.6 L398.61,61.6 L399.09,61.6 L399.57,61.6 L400.05,61.6 L400.53,61.6 L401.02,61.6 L401.5,61.6 L401.98,61.6 L402.46,61.6 L402.94,61.6 L403.42,61.6 L403.91,61.6 L404.39,61.6 L404.87,61.6 L405.35,61.6 L405.83,61.6 L406.31,61.6 L406.79,61.6 L407.28,61.6 L407.76,61.6 L408.24,61.6 L408.72,61.6 L409.2,61.6 L409.68,61.6 L410.16,61.6 L410.65,61.6 L411.13,61.6 L411.61,61.6 L412.09,61.6 L412.57,61.6 L413.05,61.6 L413.54,61.6 L414.02,61.6 L414.5,61.6 L414.98,61.6 L415.46,61.6 L415.94,61.6 L416.42,61.6 L416.91,61.59 L417.39,61.59 L417.87,61.59 L418.35,61.59 L418.83,61.58 L419.31,61.58 L419.8,61.57 L420.28,61.57 L420.76,61.56 L421.24,61.55 L421.72,61.55 L422.2,61.53 L422.68,61.52 L423.17,61.51 L423.65,61.49 L424.13,61.48 L424.61,61.46 L425.09,61.44 L425.57,61.41 L426.05,61.39 L426.54,61.36 L427.02,61.34 L427.5,61.31 L427.98,61.28 L428.46,61.25 L428.94,61.22 L429.43,61.2 L429.91,61.17 L430.39,61.14 L430.87,61.12 L431.35,61.1 L431.83,61.08 L432.31,61.06 L432.8,61.05 L433.28,61.04 L433.76,61.03 L434.24,61.03 L434.72,61.03 L435.2,61.04 L435.68,61.05 L436.17,61.06 L436.65,61.08 L437.13,61.1 L437.61,61.12 L438.09,61.14 L438.57,61.17 L439.06,61.2 L439.54,61.22 L440.02,61.25 L440.5,61.28 L440.98,61.31 L441.46,61.34 L441.94,61.36 L442.43,61.39 L442.91,61.41 L443.39,61.44 L443.87,61.46 L444.35,61.48 L444.83,61.49 L445.31,61.51 L445.8,61.52 L446.28,61.53 L446.76,61.55 L447.24,61.55 L447.72,61.56 L448.2,61.57 L448.69,61.57 L449.17,61.58 L449.65,61.58 L450.13,61.59 L450.61,61.59 L451.09,61.59 L451.57,61.59 L452.06,61.6 L452.54,61.6 L453.02,61.6 L453.5,61.6 L453.98,61.6 L454.46,61.6 L454.94,61.6 L455.43,61.6 L455.91,61.6 L456.39,61.6 L456.87,61.6 L457.35,61.6 L457.83,61.6 L458.31,61.6 L458.8,61.6 L459.28,61.6 L459.76,61.6 L460.24,61.6 L460.72,61.6 L461.2,61.6 L461.69,61.6 L462.17,61.6 L462.65,61.6 L463.13,61.6 L463.61,61.6 L464.09,61.6 L464.57,61.6 L465.06,61.6 L465.54,61.6 L466.02,61.6 L466.5,61.6 L466.98,61.6 L467.46,61.6 L467.94,61.6 L468.43,61.6 L468.91,61.6 L469.39,61.6 L469.87,61.6 L470.35,61.6 L470.83,61.6 L471.32,61.6 L471.8,61.6 L472.28,61.6 L472.76,61.6 L473.24,61.6 L473.72,61.6 L474.2,61.6 L474.69,61.6 L475.17,61.6 L475.65,61.6 L476.13,61.6 L476.61,61.6 L477.09,61.6 L477.57,61.6 L478.06,61.6 L478.54,61.6 L479.02,61.6 L479.5,61.6 L479.98,61.6 L480.46,61.6 L480.95,61.6 L481.43,61.6 L481.91,61.6 L482.39,61.6 L482.87,61.6 L483.35,61.6 L483.83,61.6 L484.32,61.6 L484.8,61.6 L485.28,61.6 L485.76,61.6 L486.24,61.6 L486.72,61.6 L487.21,61.6 L487.69,61.6 L488.17,61.6 L488.65,61.6 L489.13,61.6 L489.61,61.6 L490.09,61.6 L490.58,61.6 L491.06,61.6 L491.54,61.6 L492.02,61.6 L492.02,61.6 L357.2,61.6 Z" fill="#55a868" fill-opacity="0.3" stroke="#55a868" stroke-opacity="0.4" stroke-width="0.5"/>
<path d="M357.2,61.6 L357.68,61.6 L358.16,61.6 L358.64,61.6 L359.13,61.6 L359.61,61.6 L360.09,61.6 L360.57,61.6 L361.05,61.6 L361.53,61.6 L362.01,61.6 L362.5,61.6 L362.98,61.6 L363.46,61.6 L363.94,61.6 L364.42,61.6 L364.9,61.6 L365.39,61.6 L365.87,61.6 L366.35,61.6 L366.83,61.6 L367.31,61.6 L367.79,61.6 L368.27,61.6 L368.76,61.6 L369.24,61.6 L369.72,61.6 L370.2,61.6 L370.68,61.6 L371.16,61.6 L371.64,61.6 L372.13,61.6 L372.61,61.6 L373.09,61.6 L373.57,61.6 L374.05,61.6 L374.53,61.6 L375.02,61.6 L375.5,61.6 L375.98,61.6 L376.46,61.6 L376.94,61.6 L377.42,61.6 L377.9,61.6 L378.39,61.6 L378.87,61.6 L379.35,61.6 L379.83,61.6 L380.31,61.6 L380.79,61.6 L381.27,61.6 L381.76,61.6 L382.24,61.6 L382.72,61.6 L383.2,61.6 L383.68,61.6 L384.16,61.6 L384.65,61.6 L385.13,61.6 L385.61,61.6 L386.09,61.6 L386.57,61.6 L387.05,61.6 L387.53,61.6 L388.02,61.6 L388.5,61.6 L388.98,61.6 L389.46,61.6 L389.94,61.6 L390.42,61.6 L390.9,61.6 L391.39,61.6 L391.87,61.6 L392.35,61.6 L392.83,61.6 L393.31,61.6 L393.79,61.6 L394.28,61.6 L394.76,61.6 L395.24,61.6 L395.72,61.6 L396.2,61.6 L396.68,61.6 L397.16,61.6 L397.65,61.6 L398.13,61.6 L398.61,61.6 L399.09,61.6 L399.57,61.6 L400.05,61.6 L400.53,61.6 L401.02,61.6 L401.5,61.6 L401.98,61.6 L402.46,61.6 L402.94,61.6 L403.42,61.6 L403.91,61.6 L404.39,61.6 L404.87,61.6 L405.35,61.6 L405.83,61.6 L406.31,61.6 L406.79,61.6 L407.28,61.6 L407.76,61.6 L408.24,61.6 L408.72,61.6 L409.2,61.6 L409.68,61.6 L410.16,61.6 L410.65,61.6 L411.13,61.6 L411.61,61.6 L412.09,61.6 L412.57,61.6 L413.05,61.6 L413.54,61.6 L414.02,61.6 L414.5,61.6 L414.98,61.6 L415.46,61.6 L415.94,61.6 L416.42,61.6 L416.91,61.6 L417.39,61.6 L417.87,61.6 L418.35,61.6 L418.83,61.6 L419.31,61.6 L419.8,61.6 L420.28,61.6 L420.76,61.6 L421.24,61.6 L421.72,61.6 L422.2,61.6 L422.68,61.6 L423.17,61.6 L423.65,61.6 L424.13,61.6 L424.61,61.6 L425.09,61.6 L425.57,61.6 L426.05,61.6 L426.54,61.6 L427.02,61.6 L427.5,61.6 L427.98,61.59 L428.46,61.59 L428.94,61.59 L429.43,61.59 L429.91,61.59 L430.39,61.59 L430.87,61.58 L431.35,61.58 L431.83,61.58 L432.31,61.57 L432.8,61.57 L433.28,61.56 L433.76,61.55 L434.24,61.54 L434.72,61.54 L435.2,61.52 L435.68,61.51 L436.17,61.5 L436.65,61.48 L437.13,61.47 L437.61,61.45 L438.09,61.43 L438.57,61.4 L439.06,61.38 L439.54,61.35 L440.02,61.32 L440.5,61.29 L440.98,61.25 L441.46,61.21 L441.94,61.17 L442.43,61.13 L442.91,61.08 L443.39,61.03 L443.87,60.98 L444.35,60.93 L444.83,60.87 L445.31,60.81 L445.8,60.76 L446.28,60.69 L446.76,60.63 L447.24,60.57 L447.72,60.51 L448.2,60.45 L448.69,60.39 L449.17,60.33 L449.65,60.27 L450.13,60.22 L450.61,60.16 L451.09,60.11 L451.57,60.07 L452.06,60.03 L452.54,59.99 L453.02,59.96 L453.5,59.93 L453.98,59.91 L454.46,59.9 L454.94,59.89 L455.43,59.88 L455.91,59.89 L456.39,59.9 L456.87,59.91 L457.35,59.93 L457.83,59.96 L458.31,59.99 L458.8,60.03 L459.28,60.07 L459.76,60.11 L460.24,60.16 L460.72,60.22 L461.2,60.27 L461.69,60.33 L462.17,60.39 L462.65,60.45 L463.13,60.51 L463.61,60.57 L464.09,60.63 L464.57,60.69 L465.06,60.76 L465.54,60.81 L466.02,60.87 L466.5,60.93 L466.98,60.98 L467.46,61.03 L467.94,61.08 L468.43,61.13 L468.91,61.17 L469.39,61.21 L469.87,61.25 L470.35,61.29 L470.83,61.32 L471.32,61.35 L471.8,61.38 L472.28,61.4 L472.76,61.43 L473.24,61.45 L473.72,61.47 L474.2,61.48 L474.69,61.5 L475.17,61.51 L475.65,61.52 L476.13,61.54 L476.61,61.54 L477.09,61.55 L477.57,61.56 L478.06,61.57 L478.54,61.57 L479.02,61.58 L479.5,61.58 L479.98,61.58 L480.46,61.59 L480.95,61.59 L481.43,61.59 L481.91,61.59 L482.39,61.59 L482.87,61.59 L483.35,61.6 L483.83,61.6 L484.32,61.6 L484.8,61.6 L485.28,61.6 L485.76,61.6 L486.24,61.6 L486.72,61.6 L487.21,61.6 L487.69,61.6 L488.17,61.6 L488.65,61.6 L489.13,61.6 L489.61,61.6 L490.09,61.6 L490.58,61.6 L491.06,61.6 L491.54,61.6 L492.02,61.6 L492.02,61.6 L357.2,61.6 Z" fill="#937860" fill-opacity="0.3" stroke="#937860" stroke-opacity="0.4" stroke-width="0.5"/>
<path d="M357.2,61.6 L357.68,61.6 L358.16,61.6 L358.64,61.6 L359.13,61.6 L359.61,61.6 L360.09,61.6 L360.57,61.6 L361.05,61.6 L361.53,61.6 L362.01,61.6 L362.5,61.6 L362.98,61.6 L363.46,61.6 L363.94,61.6 L364.42,61.6 L364.9,61.6 L365.39,61.6 L365.87,61.6 L366.35,61.6 L366.83,61.6 L367.31,61.6 L367.79,61.6 L368.27,61.6 L368.76,61.6 L369.24,61.6 L369.72,61.6 L370.2,61.6 L370.68,61.6 L371.16,61.6 L371.64,61.6 L372.13,61.6 L372.61,61.6 L373.09,61.6 L373.57,61.6 L374.05,61.6 L374.53,61.6 L375.02,61.6 L375.5,61.6 L375.98,61.6 L376.46,61.6 L376.94,61.6 L377.42,61.6 L377.9,61.6 L378.39,61.6 L378.87,61.6 L379.35,61.6 L379.83,61.6 L380.31,61.6 L380.79,61.6 L381.27,61.6 L381.76,61.6 L382.24,61.6 L382.72,61.6 L383.2,61.6 L383.68,61.6 L384.16,61.6 L384.65,61.6 L385.13,61.6 L385.61,61.6 L386.09,61.6 L386.57,61.6 L387.05,61.6 L387.53,61.6 L388.02,61.6 L388.5,61.6 L388.98,61.6 L389.46,61.6 L389.94,61.6 L390.42,61.6 L390.9,61.6 L391.39,61.6 L391.87,61.6 L392.35,61.6 L392.83,61.6 L393.31,61.6 L393.79,61.6 L394.28,61.6 L394.76,61.6 L395.24,61.6 L395.72,61.6 L396.2,61.6 L396.68,61.6 L397.16,61.6 L397.65,61.6 L398.13,61.6 L398.61,61.6 L399.09,61.6 L399.57,61.6 L400.05,61.6 L400.53,61.6 L401.02,61.6 L401.5,61.6 L401.98,61.6 L402.46,61.6 L402.94,61.6 L403.42,61.6 L403.91,61.6 L404.39,61.6 L404.87,61.6 L405.35,61.6 L405.83,61.6 L406.31,61.6 L406.79,61.6 L407.28,61.6 L407.76,61.6 L408.24,61.6 L408.72,61.6 L409.2,61.6 L409.68,61.6 L410.16,61.6 L410.65,61.6 L411.13,61.59 L411.61,61.59 L412.09,61.59 L412.57,61.58 L413.05,61.58 L413.54,61.57 L414.02,61.56 L414.5,61.55 L414.98,61.53 L415.46,61.51 L415.94,61.48 L416.42,61.44 L416.91,61.4 L417.39,61.34 L417.87,61.27 L418.35,61.19 L418.83,61.09 L419.31,60.96 L419.8,60.82 L420.28,60.64 L420.76,60.43 L421.24,60.19 L421.72,59.91 L422.2,59.59 L422.68,59.22 L423.17,58.81 L423.65,58.35 L424.13,57.83 L424.61,57.27 L425.09,56.65 L425.57,55.99 L426.05,55.28 L426.54,54.54 L427.02,53.75 L427.5,52.95 L427.98,52.12 L428.46,51.29 L428.94,50.47 L429.43,49.66 L429.91,48.88 L430.39,48.14 L430.87,47.46 L431.35,46.85 L431.83,46.32 L432.31,45.88 L432.8,45.54 L433.28,45.3 L433.76,45.18 L434.24,45.16 L434.72,45.27 L435.2,45.48 L435.68,45.8 L436.17,46.22 L436.65,46.74 L437.13,47.34 L437.61,48 L438.09,48.73 L438.57,49.5 L439.06,50.3 L439.54,51.13 L440.02,51.96 L440.5,52.78 L440.98,53.6 L441.46,54.38 L441.94,55.14 L442.43,55.85 L442.91,56.52 L443.39,57.15 L443.87,57.72 L444.35,58.25 L444.83,58.72 L445.31,59.14 L445.8,59.52 L446.28,59.85 L446.76,60.14 L447.24,60.39 L447.72,60.6 L448.2,60.78 L448.69,60.94 L449.17,61.06 L449.65,61.17 L450.13,61.26 L450.61,61.33 L451.09,61.39 L451.57,61.43 L452.06,61.47 L452.54,61.5 L453.02,61.52 L453.5,61.54 L453.98,61.56 L454.46,61.57 L454.94,61.58 L455.43,61.58 L455.91,61.59 L456.39,61.59 L456.87,61.59 L457.35,61.6 L457.83,61.6 L458.31,61.6 L458.8,61.6 L459.28,61.6 L459.76,61.6 L460.24,61.6 L460.72,61.6 L461.2,61.6 L461.69,61.6 L462.17,61.6 L462.65,61.6 L463.13,61.6 L463.61,61.6 L464.09,61.6 L464.57,61.6 L465.06,61.6 L465.54,61.6 L466.02,61.6 L466.5,61.6 L466.98,61.6 L467.46,61.6 L467.94,61.6 L468.43,61.6 L468.91,61.6 L469.39,61.6 L469.87,61.6 L470.35,61.6 L470.83,61.6 L471.32,61.6 L471.8,61.6 L472.28,61.6 L472.76,61.6 L473.24,61.6 L473.72,61.6 L474.2,61.6 L474.69,61.6 L475.17,61.6 L475.65,61.6 L476.13,61.6 L476.61,61.6 L477.09,61.6 L477.57,61.6 L478.06,61.6 L478.54,61.6 L479.02,61.6 L479.5,61.6 L479.98,61.6 L480.46,61.6 L480.95,61.6 L481.43,61.6 L481.91,61.6 L482.39,61.6 L482.87,61.6 L483.35,61.6 L483.83,61.6 L484.32,61.6 L484.8,61.6 L485.28,61.6 L485.76,61.6 L486.24,61.6 L486.72,61.6 L487.21,61.6 L487.69,61.6 L488.17,61.6 L488.65,61.6 L489.13,61.6 L489.61,61.6 L490.09,61.6 L490.58,61.6 L491.06,61.6 L491.54,61.6 L492.02,61.6 L492.02,61.6 L357.2,61.6 Z" fill="#8172b3" fill-opacity="0.3" stroke="#8172b3" stroke-opacity="0.4" stroke-width="0.5"/>
<path d="M357.2,61.6 L357.68,61.6 L358.16,61.6 L358.64,61.6 L359.13,61.6 L359.61,61.6 L360.09,61.6 L360.57,61.6 L361.05,61.6 L361.53,61.6 L362.01,61.6 L362.5,61.6 L362.98,61.6 L363.46,61.6 L363.94,61.6 L364.42,61.6 L364.9,61.6 L365.39,61.6 L365.87,61.6 L366.35,61.6 L366.83,61.6 L367.31,61.6 L367.79,61.6 L368.27,61.6 L368.76,61.6 L369.24,61.6 L369.72,61.6 L370.2,61.6 L370.68,61.6 L371.16,61.6 L371.64,61.6 L372.13,61.6 L372.61,61.6 L373.09,61.6 L373.57,61.6 L374.05,61.6 L374.53,61.6 L375.02,61.6 L375.5,61.6 L375.98,61.6 L376.46,61.6 L376.94,61.6 L377.42,61.6 L377.9,61.6 L378.39,61.6 L378.87,61.6 L379.35,61.6 L379.83,61.6 L380.31,61.6 L380.79,61.6 L381.27,61.6 L381.76,61.6 L382.24,61.6 L382.72,61.6 L383.2,61.6 L383.68,61.6 L384.16,61.6 L384.65,61.6 L385.13,61.6 L385.61,61.6 L386.09,61.59 L386.57,61.59 L387.05,61.58 L387.53,61.57 L388.02,61.55 L388.5,61.51 L388.98,61.45 L389.46,61.35 L389.94,61.19 L390.42,60.93 L390.9,60.52 L391.39,59.9 L391.87,58.98 L392.35,57.71 L392.83,56.05 L393.31,54.02 L393.79,51.74 L394.28,49.35 L394.76,47.01 L395.24,44.84 L395.72,42.9 L396.2,41.21 L396.68,39.76 L397.16,38.52 L397.65,37.47 L398.13,36.6 L398.61,35.89 L399.09,35.33 L399.57,34.91 L400.05,34.64 L400.53,34.5 L401.02,34.5 L401.5,34.65 L401.98,34.97 L402.46,35.43 L402.94,36.04 L403.42,36.77 L403.91,37.63 L404.39,38.58 L404.87,39.63 L405.35,40.74 L405.83,41.92 L406.31,43.13 L406.79,44.37 L407.28,45.62 L407.76,46.86 L408.24,48.09 L408.72,49.28 L409.2,50.43 L409.68,51.53 L410.16,52.58 L410.65,53.56 L411.13,54.48 L411.61,55.33 L412.09,56.1 L412.57,56.81 L413.05,57.46 L413.54,58.03 L414.02,58.55 L414.5,59 L414.98,59.4 L415.46,59.75 L415.94,60.05 L416.42,60.31 L416.91,60.54 L417.39,60.72 L417.87,60.88 L418.35,61.02 L418.83,61.13 L419.31,61.22 L419.8,61.3 L420.28,61.36 L420.76,61.41 L421.24,61.45 L421.72,61.48 L422.2,61.51 L422.68,61.53 L423.17,61.55 L423.65,61.56 L424.13,61.57 L424.61,61.58 L425.09,61.58 L425.57,61.59 L426.05,61.59 L426.54,61.59 L427.02,61.59 L427.5,61.6 L427.98,61.6 L428.46,61.6 L428.94,61.6 L429.43,61.6 L429.91,61.6 L430.39,61.6 L430.87,61.6 L431.35,61.6 L431.83,61.6 L432.31,61.6 L432.8,61.6 L433.28,61.6 L433.76,61.6 L434.24,61.6 L434.72,61.6 L435.2,61.6 L435.68,61.6 L436.17,61.6 L436.65,61.6 L437.13,61.6 L437.61,61.6 L438.09,61.6 L438.57,61.6 L439.06,61.6 L439.54,61.6 L440.02,61.6 L440.5,61.6 L440.98,61.6 L441.46,61.6 L441.94,61.6 L442.43,61.6 L442.91,61.6 L443.39,61.6 L443.87,61.6 L444.35,61.6 L444.83,61.6 L445.31,61.6 L445.8,61.6 L446.28,61.6 L446.76,61.6 L447.24,61.6 L447.72,61.6 L448.2,61.6 L448.69,61.6 L449.17,61.6 L449.65,61.6 L450.13,61.6 L450.61,61.6 L451.09,61.6 L451.57,61.6 L452.06,61.6 L452.54,61.6 L453.02,61.6 L453.5,61.6 L453.98,61.6 L454.46,61.6 L454.94,61.6 L455.43,61.6 L455.91,61.6 L456.39,61.6 L456.87,61.6 L457.35,61.6 L457.83,61.6 L458.31,61.6 L458.8,61.6 L459.28,61.6 L459.76,61.6 L460.24,61.6 L460.72,61.6 L461.2,61.6 L461.69,61.6 L462.17,61.6 L462.65,61.6 L463.13,61.6 L463.61,61.6 L464.09,61.6 L464.57,61.6 L465.06,61.6 L465.54,61.6 L466.02,61.6 L466.5,61.6 L466.98,61.6 L467.46,61.6 L467.94,61.6 L468.43,61.6 L468.91,61.6 L469.39,61.6 L469.87,61.6 L470.35,61.6 L470.83,61.6 L471.32,61.6 L471.8,61.6 L472.28,61.6 L472.76,61.6 L473.24,61.6 L473.72,61.6 L474.2,61.6 L474.69,61.6 L475.17,61.6 L475.65,61.6 L476.13,61.6 L476.61,61.6 L477.09,61.6 L477.57,61.6 L478.06,61.6 L478.54,61.6 L479.02,61.6 L479.5,61.6 L479.98,61.6 L480.46,61.6 L480.95,61.6 L481.43,61.6 L481.91,61.6 L482.39,61.6 L482.87,61.6 L483.35,61.6 L483.83,61.6 L484.32,61.6 L484.8,61.6 L485.28,61.6 L485.76,61.6 L486.24,61.6 L486.72,61.6 L487.21,61.6 L487.69,61.6 L488.17,61.6 L488.65,61.6 L489.13,61.6 L489.61,61.6 L490.09,61.6 L490.58,61.6 L491.06,61.6 L491.54,61.6 L492.02,61.6 L492.02,61.6 L357.2,61.6 Z" fill="#c44e52" fill-opacity="0.3" stroke="#c44e52" stroke-opacity="0.4" stroke-width="0.5"/>
<path d="M357.2,61.58 L357.68,61.58 L358.16,61.58 L358.64,61.57 L359.13,61.57 L359.61,61.57 L360.09,61.57 L360.57,61.56 L361.05,61.56 L361.53,61.56 L362.01,61.55 L362.5,61.55 L362.98,61.54 L363.46,61.54 L363.94,61.54 L364.42,61.53 L364.9,61.53 L365.39,61.52 L365.87,61.51 L366.35,61.51 L366.83,61.5 L367.31,61.49 L367.79,61.49 L368.27,61.48 L368.76,61.47 L369.24,61.46 L369.72,61.45 L370.2,61.44 L370.68,61.43 L371.16,61.42 L371.64,61.41 L372.13,61.39 L372.61,61.38 L373.09,61.36 L373.57,61.34 L374.05,61.32 L374.53,61.3 L375.02,61.27 L375.5,61.24 L375.98,61.21 L376.46,61.18 L376.94,61.13 L377.42,61.09 L377.9,61.03 L378.39,60.97 L378.87,60.9 L379.35,60.82 L379.83,60.72 L380.31,60.61 L380.79,60.49 L381.27,60.35 L381.76,60.19 L382.24,60 L382.72,59.79 L383.2,59.56 L383.68,59.29 L384.16,58.99 L384.65,58.66 L385.13,58.29 L385.61,57.88 L386.09,57.42 L386.57,56.92 L387.05,56.38 L387.53,55.79 L388.02,55.14 L388.5,54.45 L388.98,53.71 L389.46,52.92 L389.94,52.08 L390.42,51.2 L390.9,50.27 L391.39,49.31 L391.87,48.31 L392.35,47.28 L392.83,46.24 L393.31,45.18 L393.79,44.11 L394.28,43.05 L394.76,41.99 L395.24,40.96 L395.72,39.96 L396.2,39 L396.68,38.09 L397.16,37.25 L397.65,36.47 L398.13,35.77 L398.61,35.16 L399.09,34.64 L399.57,34.23 L400.05,33.91 L400.53,33.71 L401.02,33.62 L401.5,33.65 L401.98,33.78 L402.46,34.03 L402.94,34.39 L403.42,34.85 L403.91,35.4 L404.39,36.05 L404.87,36.79 L405.35,37.6 L405.83,38.47 L406.31,39.4 L406.79,40.38 L407.28,41.4 L407.76,42.44 L408.24,43.5 L408.72,44.57 L409.2,45.64 L409.68,46.69 L410.16,47.73 L410.65,48.74 L411.13,49.72 L411.61,50.66 L412.09,51.56 L412.57,52.41 L413.05,53.21 L413.54,53.96 L414.02,54.65 L414.5,55.28 L414.98,55.85 L415.46,56.37 L415.94,56.82 L416.42,57.21 L416.91,57.54 L417.39,57.81 L417.87,58.02 L418.35,58.17 L418.83,58.26 L419.31,58.29 L419.8,58.27 L420.28,58.18 L420.76,58.03 L421.24,57.82 L421.72,57.56 L422.2,57.24 L422.68,56.86 L423.17,56.43 L423.65,55.95 L424.13,55.42 L424.61,54.85 L425.09,54.23 L425.57,53.58 L426.05,52.9 L426.54,52.2 L427.02,51.48 L427.5,50.76 L427.98,50.03 L428.46,49.32 L428.94,48.62 L429.43,47.96 L429.91,47.33 L430.39,46.75 L430.87,46.22 L431.35,45.76 L431.83,45.37 L432.31,45.06 L432.8,44.83 L433.28,44.69 L433.76,44.63 L434.24,44.67 L434.72,44.79 L435.2,45.01 L435.68,45.3 L436.17,45.68 L436.65,46.13 L437.13,46.65 L437.61,47.23 L438.09,47.85 L438.57,48.52 L439.06,49.22 L439.54,49.95 L440.02,50.69 L440.5,51.44 L440.98,52.18 L441.46,52.91 L441.94,53.62 L442.43,54.31 L442.91,54.97 L443.39,55.59 L443.87,56.17 L444.35,56.71 L444.83,57.21 L445.31,57.66 L445.8,58.06 L446.28,58.42 L446.76,58.73 L447.24,58.99 L447.72,59.21 L448.2,59.39 L448.69,59.53 L449.17,59.63 L449.65,59.7 L450.13,59.73 L450.61,59.74 L451.09,59.73 L451.57,59.69 L452.06,59.64 L452.54,59.57 L453.02,59.49 L453.5,59.41 L453.98,59.32 L454.46,59.24 L454.94,59.15 L455.43,59.08 L455.91,59.01 L456.39,58.96 L456.87,58.92 L457.35,58.9 L457.83,58.89 L458.31,58.9 L458.8,58.92 L459.28,58.96 L459.76,59.02 L460.24,59.1 L460.72,59.19 L461.2,59.29 L461.69,59.4 L462.17,59.52 L462.65,59.65 L463.13,59.78 L463.61,59.92 L464.09,60.05 L464.57,60.19 L465.06,60.32 L465.54,60.44 L466.02,60.57 L466.5,60.68 L466.98,60.79 L467.46,60.89 L467.94,60.98 L468.43,61.07 L468.91,61.14 L469.39,61.21 L469.87,61.27 L470.35,61.32 L470.83,61.37 L471.32,61.41 L471.8,61.44 L472.28,61.47 L472.76,61.49 L473.24,61.51 L473.72,61.53 L474.2,61.55 L474.69,61.56 L475.17,61.57 L475.65,61.57 L476.13,61.58 L476.61,61.58 L477.09,61.59 L477.57,61.59 L478.06,61.59 L478.54,61.59 L479.02,61.6 L479.5,61.6 L479.98,61.6 L480.46,61.6 L480.95,61.6 L481.43,61.6 L481.91,61.6 L482.39,61.6 L482.87,61.6 L483.35,61.6 L483.83,61.6 L484.32,61.6 L484.8,61.6 L485.28,61.6 L485.76,61.6 L486.24,61.6 L486.72,61.6 L487.21,61.6 L487.69,61.6 L488.17,61.6 L488.65,61.6 L489.13,61.6 L489.61,61.6 L490.09,61.6 L490.58,61.6 L491.06,61.6 L491.54,61.6 L492.02,61.6" fill="none" stroke="#5b9cc0" stroke-opacity="0.9" stroke-width="0.65"/>
<line x1="204" y1="33" x2="204" y2="61.6" stroke="#333333" stroke-width="0.8" />
<line x1="204" y1="61.6" x2="338.7" y2="61.6" stroke="#333333" stroke-width="0.8" />
<line x1="204" y1="61.6" x2="204" y2="63.6" stroke="#333333" stroke-width="0.7" />
<text x="204" y="69.03" font-size="4.8" text-anchor="middle" fill="#000" textLength="7.08" lengthAdjust="spacingAndGlyphs" >−3</text>
<line x1="223.2" y1="61.6" x2="223.2" y2="63.6" stroke="#333333" stroke-width="0.7" />
<text x="223.2" y="69.03" font-size="4.8" text-anchor="middle" fill="#000" textLength="7.08" lengthAdjust="spacingAndGlyphs" >−2</text>
<line x1="242.4" y1="61.6" x2="242.4" y2="63.6" stroke="#333333" stroke-width="0.7" />
<text x="242.4" y="69.03" font-size="4.8" text-anchor="middle" fill="#000" textLength="7.08" lengthAdjust="spacingAndGlyphs" >−1</text>
<line x1="261.6" y1="61.6" x2="261.6" y2="63.6" stroke="#333333" stroke-width="0.7" />
<text x="261.6" y="69.03" font-size="4.8" text-anchor="middle" fill="#000" textLength="3.05" lengthAdjust="spacingAndGlyphs" >0</text>
<line x1="280.8" y1="61.6" x2="280.8" y2="63.6" stroke="#333333" stroke-width="0.7" />
<text x="280.8" y="69.03" font-size="4.8" text-anchor="middle" fill="#000" textLength="3.05" lengthAdjust="spacingAndGlyphs" >1</text>
<line x1="300" y1="61.6" x2="300" y2="63.6" stroke="#333333" stroke-width="0.7" />
<text x="300" y="69.03" font-size="4.8" text-anchor="middle" fill="#000" textLength="3.05" lengthAdjust="spacingAndGlyphs" >2</text>
<line x1="319.2" y1="61.6" x2="319.2" y2="63.6" stroke="#333333" stroke-width="0.7" />
<text x="319.2" y="69.03" font-size="4.8" text-anchor="middle" fill="#000" textLength="3.05" lengthAdjust="spacingAndGlyphs" >3</text>
<line x1="338.4" y1="61.6" x2="338.4" y2="63.6" stroke="#333333" stroke-width="0.7" />
<text x="338.4" y="69.03" font-size="4.8" text-anchor="middle" fill="#000" textLength="3.05" lengthAdjust="spacingAndGlyphs" >4</text>
<line x1="357.2" y1="33" x2="357.2" y2="61.6" stroke="#b8b8b8" stroke-width="0.8" />
<line x1="357.2" y1="61.6" x2="492.32" y2="61.6" stroke="#333333" stroke-width="0.8" />
<line x1="357.2" y1="61.6" x2="357.2" y2="63.6" stroke="#333333" stroke-width="0.7" />
<text x="357.2" y="69.03" font-size="4.8" text-anchor="middle" fill="#000" textLength="7.08" lengthAdjust="spacingAndGlyphs" >−3</text>
<line x1="376.46" y1="61.6" x2="376.46" y2="63.6" stroke="#333333" stroke-width="0.7" />
<text x="376.46" y="69.03" font-size="4.8" text-anchor="middle" fill="#000" textLength="7.08" lengthAdjust="spacingAndGlyphs" >−2</text>
<line x1="395.72" y1="61.6" x2="395.72" y2="63.6" stroke="#333333" stroke-width="0.7" />
<text x="395.72" y="69.03" font-size="4.8" text-anchor="middle" fill="#000" textLength="7.08" lengthAdjust="spacingAndGlyphs" >−1</text>
<line x1="414.98" y1="61.6" x2="414.98" y2="63.6" stroke="#333333" stroke-width="0.7" />
<text x="414.98" y="69.03" font-size="4.8" text-anchor="middle" fill="#000" textLength="3.05" lengthAdjust="spacingAndGlyphs" >0</text>
<line x1="434.24" y1="61.6" x2="434.24" y2="63.6" stroke="#333333" stroke-width="0.7" />
<text x="434.24" y="69.03" font-size="4.8" text-anchor="middle" fill="#000" textLength="3.05" lengthAdjust="spacingAndGlyphs" >1</text>
<line x1="453.5" y1="61.6" x2="453.5" y2="63.6" stroke="#333333" stroke-width="0.7" />
<text x="453.5" y="69.03" font-size="4.8" text-anchor="middle" fill="#000" textLength="3.05" lengthAdjust="spacingAndGlyphs" >2</text>
<line x1="472.76" y1="61.6" x2="472.76" y2="63.6" stroke="#333333" stroke-width="0.7" />
<text x="472.76" y="69.03" font-size="4.8" text-anchor="middle" fill="#000" textLength="3.05" lengthAdjust="spacingAndGlyphs" >3</text>
<line x1="492.02" y1="61.6" x2="492.02" y2="63.6" stroke="#333333" stroke-width="0.7" />
<text x="492.02" y="69.03" font-size="4.8" text-anchor="middle" fill="#000" textLength="3.05" lengthAdjust="spacingAndGlyphs" >4</text>
<text transform="translate(199.1,47.6) rotate(-90)" x="0" y="1.8" font-size="5" text-anchor="middle" fill="#000" textLength="45.20" lengthAdjust="spacingAndGlyphs" >Gradient Boosting</text>
<text transform="translate(352.6,47.6) rotate(-90)" x="0" y="1.8" font-size="5" text-anchor="middle" fill="#000" textLength="45.20" lengthAdjust="spacingAndGlyphs" >Gradient Boosting</text>
<text x="191.4" y="32.52" font-size="5.9" text-anchor="middle" fill="#000" font-weight="bold" textLength="3.50" lengthAdjust="spacingAndGlyphs" >c</text>
<path d="M204,112.4 L204.48,112.4 L204.96,112.4 L205.44,112.4 L205.92,112.4 L206.4,112.4 L206.88,112.4 L207.36,112.4 L207.84,112.4 L208.32,112.4 L208.8,112.4 L209.28,112.39 L209.76,112.39 L210.24,112.39 L210.72,112.39 L211.2,112.39 L211.68,112.38 L212.16,112.38 L212.64,112.38 L213.12,112.37 L213.6,112.36 L214.08,112.36 L214.56,112.35 L215.04,112.33 L215.52,112.32 L216,112.3 L216.48,112.28 L216.96,112.26 L217.44,112.23 L217.92,112.2 L218.4,112.16 L218.88,112.11 L219.36,112.06 L219.84,111.99 L220.32,111.92 L220.8,111.83 L221.28,111.73 L221.76,111.62 L222.24,111.49 L222.72,111.34 L223.2,111.17 L223.68,110.98 L224.16,110.76 L224.64,110.52 L225.12,110.24 L225.6,109.94 L226.08,109.6 L226.56,109.23 L227.04,108.81 L227.52,108.36 L228,107.87 L228.48,107.34 L228.96,106.76 L229.44,106.13 L229.92,105.46 L230.4,104.75 L230.88,103.99 L231.36,103.19 L231.84,102.34 L232.32,101.46 L232.8,100.54 L233.28,99.58 L233.76,98.6 L234.24,97.59 L234.72,96.56 L235.2,95.51 L235.68,94.46 L236.16,93.4 L236.64,92.35 L237.12,91.31 L237.6,90.29 L238.08,89.3 L238.56,88.34 L239.04,87.43 L239.52,86.56 L240,85.74 L240.48,84.99 L240.96,84.3 L241.44,83.69 L241.92,83.15 L242.4,82.68 L242.88,82.3 L243.36,82 L243.84,81.78 L244.32,81.65 L244.8,81.59 L245.28,81.62 L245.76,81.72 L246.24,81.89 L246.72,82.13 L247.2,82.44 L247.68,82.8 L248.16,83.21 L248.64,83.67 L249.12,84.17 L249.6,84.71 L250.08,85.27 L250.56,85.85 L251.04,86.45 L251.52,87.06 L252,87.67 L252.48,88.29 L252.96,88.9 L253.44,89.5 L253.92,90.09 L254.4,90.67 L254.88,91.23 L255.36,91.77 L255.84,92.29 L256.32,92.8 L256.8,93.28 L257.28,93.75 L257.76,94.2 L258.24,94.62 L258.72,95.03 L259.2,95.43 L259.68,95.81 L260.16,96.17 L260.64,96.53 L261.12,96.87 L261.6,97.2 L262.08,97.52 L262.56,97.83 L263.04,98.13 L263.52,98.43 L264,98.71 L264.48,98.98 L264.96,99.24 L265.44,99.48 L265.92,99.71 L266.4,99.92 L266.88,100.11 L267.36,100.28 L267.84,100.41 L268.32,100.52 L268.8,100.58 L269.28,100.61 L269.76,100.59 L270.24,100.52 L270.72,100.41 L271.2,100.23 L271.68,100.01 L272.16,99.72 L272.64,99.38 L273.12,98.99 L273.6,98.54 L274.08,98.04 L274.56,97.5 L275.04,96.92 L275.52,96.31 L276,95.68 L276.48,95.03 L276.96,94.39 L277.44,93.76 L277.92,93.15 L278.4,92.58 L278.88,92.06 L279.36,91.59 L279.84,91.18 L280.32,90.85 L280.8,90.6 L281.28,90.44 L281.76,90.37 L282.24,90.38 L282.72,90.48 L283.2,90.67 L283.68,90.94 L284.16,91.28 L284.64,91.69 L285.12,92.15 L285.6,92.67 L286.08,93.22 L286.56,93.8 L287.04,94.4 L287.52,95.01 L288,95.62 L288.48,96.24 L288.96,96.84 L289.44,97.44 L289.92,98.02 L290.4,98.59 L290.88,99.14 L291.36,99.68 L291.84,100.2 L292.32,100.72 L292.8,101.22 L293.28,101.72 L293.76,102.22 L294.24,102.71 L294.72,103.2 L295.2,103.7 L295.68,104.19 L296.16,104.69 L296.64,105.18 L297.12,105.67 L297.6,106.15 L298.08,106.63 L298.56,107.1 L299.04,107.55 L299.52,107.99 L300,108.42 L300.48,108.82 L300.96,109.2 L301.44,109.56 L301.92,109.89 L302.4,110.2 L302.88,110.48 L303.36,110.74 L303.84,110.97 L304.32,111.18 L304.8,111.36 L305.28,111.52 L305.76,111.66 L306.24,111.79 L306.72,111.89 L307.2,111.98 L307.68,112.06 L308.16,112.12 L308.64,112.18 L309.12,112.22 L309.6,112.26 L310.08,112.29 L310.56,112.31 L311.04,112.33 L311.52,112.35 L312,112.36 L312.48,112.37 L312.96,112.38 L313.44,112.38 L313.92,112.39 L314.4,112.39 L314.88,112.39 L315.36,112.39 L315.84,112.4 L316.32,112.4 L316.8,112.4 L317.28,112.4 L317.76,112.4 L318.24,112.4 L318.72,112.4 L319.2,112.4 L319.68,112.4 L320.16,112.4 L320.64,112.4 L321.12,112.4 L321.6,112.4 L322.08,112.4 L322.56,112.4 L323.04,112.4 L323.52,112.4 L324,112.4 L324.48,112.4 L324.96,112.4 L325.44,112.4 L325.92,112.4 L326.4,112.4 L326.88,112.4 L327.36,112.4 L327.84,112.4 L328.32,112.4 L328.8,112.4 L329.28,112.4 L329.76,112.4 L330.24,112.4 L330.72,112.4 L331.2,112.4 L331.68,112.4 L332.16,112.4 L332.64,112.4 L333.12,112.4 L333.6,112.4 L334.08,112.4 L334.56,112.4 L335.04,112.4 L335.52,112.4 L336,112.4 L336.48,112.4 L336.96,112.4 L337.44,112.4 L337.92,112.4 L338.4,112.4 L338.4,112.4 L204,112.4 Z" fill="#78a8c0"/>
<path d="M357.2,112.4 L357.68,112.4 L358.16,112.4 L358.64,112.4 L359.13,112.4 L359.61,112.4 L360.09,112.4 L360.57,112.4 L361.05,112.4 L361.53,112.4 L362.01,112.4 L362.5,112.39 L362.98,112.39 L363.46,112.39 L363.94,112.39 L364.42,112.39 L364.9,112.38 L365.39,112.38 L365.87,112.38 L366.35,112.37 L366.83,112.36 L367.31,112.36 L367.79,112.35 L368.27,112.33 L368.76,112.32 L369.24,112.3 L369.72,112.28 L370.2,112.26 L370.68,112.23 L371.16,112.2 L371.64,112.16 L372.13,112.11 L372.61,112.06 L373.09,111.99 L373.57,111.92 L374.05,111.83 L374.53,111.73 L375.02,111.62 L375.5,111.49 L375.98,111.34 L376.46,111.17 L376.94,110.98 L377.42,110.76 L377.9,110.52 L378.39,110.24 L378.87,109.94 L379.35,109.6 L379.83,109.23 L380.31,108.81 L380.79,108.36 L381.27,107.87 L381.76,107.34 L382.24,106.76 L382.72,106.13 L383.2,105.46 L383.68,104.75 L384.16,103.99 L384.65,103.19 L385.13,102.34 L385.61,101.46 L386.09,100.54 L386.57,99.58 L387.05,98.6 L387.53,97.59 L388.02,96.56 L388.5,95.51 L388.98,94.46 L389.46,93.4 L389.94,92.35 L390.42,91.31 L390.9,90.29 L391.39,89.3 L391.87,88.34 L392.35,87.43 L392.83,86.56 L393.31,85.74 L393.79,84.99 L394.28,84.3 L394.76,83.69 L395.24,83.15 L395.72,82.68 L396.2,82.3 L396.68,82 L397.16,81.78 L397.65,81.65 L398.13,81.59 L398.61,81.62 L399.09,81.72 L399.57,81.89 L400.05,82.13 L400.53,82.44 L401.02,82.8 L401.5,83.21 L401.98,83.67 L402.46,84.17 L402.94,84.71 L403.42,85.27 L403.91,85.85 L404.39,86.45 L404.87,87.06 L405.35,87.67 L405.83,88.29 L406.31,88.9 L406.79,89.5 L407.28,90.09 L407.76,90.67 L408.24,91.23 L408.72,91.77 L409.2,92.29 L409.68,92.8 L410.16,93.28 L410.65,93.75 L411.13,94.2 L411.61,94.62 L412.09,95.03 L412.57,95.43 L413.05,95.81 L413.54,96.17 L414.02,96.53 L414.5,96.87 L414.98,97.2 L415.46,97.52 L415.94,97.83 L416.42,98.13 L416.91,98.43 L417.39,98.71 L417.87,98.98 L418.35,99.24 L418.83,99.48 L419.31,99.71 L419.8,99.92 L420.28,100.11 L420.76,100.28 L421.24,100.41 L421.72,100.52 L422.2,100.58 L422.68,100.61 L423.17,100.59 L423.65,100.52 L424.13,100.41 L424.61,100.23 L425.09,100.01 L425.57,99.72 L426.05,99.38 L426.54,98.99 L427.02,98.54 L427.5,98.04 L427.98,97.5 L428.46,96.92 L428.94,96.31 L429.43,95.68 L429.91,95.03 L430.39,94.39 L430.87,93.76 L431.35,93.15 L431.83,92.58 L432.31,92.06 L432.8,91.59 L433.28,91.18 L433.76,90.85 L434.24,90.6 L434.72,90.44 L435.2,90.37 L435.68,90.38 L436.17,90.48 L436.65,90.67 L437.13,90.94 L437.61,91.28 L438.09,91.69 L438.57,92.15 L439.06,92.67 L439.54,93.22 L440.02,93.8 L440.5,94.4 L440.98,95.01 L441.46,95.62 L441.94,96.24 L442.43,96.84 L442.91,97.44 L443.39,98.02 L443.87,98.59 L444.35,99.14 L444.83,99.68 L445.31,100.2 L445.8,100.72 L446.28,101.22 L446.76,101.72 L447.24,102.22 L447.72,102.71 L448.2,103.2 L448.69,103.7 L449.17,104.19 L449.65,104.69 L450.13,105.18 L450.61,105.67 L451.09,106.15 L451.57,106.63 L452.06,107.1 L452.54,107.55 L453.02,107.99 L453.5,108.42 L453.98,108.82 L454.46,109.2 L454.94,109.56 L455.43,109.89 L455.91,110.2 L456.39,110.48 L456.87,110.74 L457.35,110.97 L457.83,111.18 L458.31,111.36 L458.8,111.52 L459.28,111.66 L459.76,111.79 L460.24,111.89 L460.72,111.98 L461.2,112.06 L461.69,112.12 L462.17,112.18 L462.65,112.22 L463.13,112.26 L463.61,112.29 L464.09,112.31 L464.57,112.33 L465.06,112.35 L465.54,112.36 L466.02,112.37 L466.5,112.38 L466.98,112.38 L467.46,112.39 L467.94,112.39 L468.43,112.39 L468.91,112.39 L469.39,112.4 L469.87,112.4 L470.35,112.4 L470.83,112.4 L471.32,112.4 L471.8,112.4 L472.28,112.4 L472.76,112.4 L473.24,112.4 L473.72,112.4 L474.2,112.4 L474.69,112.4 L475.17,112.4 L475.65,112.4 L476.13,112.4 L476.61,112.4 L477.09,112.4 L477.57,112.4 L478.06,112.4 L478.54,112.4 L479.02,112.4 L479.5,112.4 L479.98,112.4 L480.46,112.4 L480.95,112.4 L481.43,112.4 L481.91,112.4 L482.39,112.4 L482.87,112.4 L483.35,112.4 L483.83,112.4 L484.32,112.4 L484.8,112.4 L485.28,112.4 L485.76,112.4 L486.24,112.4 L486.72,112.4 L487.21,112.4 L487.69,112.4 L488.17,112.4 L488.65,112.4 L489.13,112.4 L489.61,112.4 L490.09,112.4 L490.58,112.4 L491.06,112.4 L491.54,112.4 L492.02,112.4 L492.02,112.4 L357.2,112.4 Z" fill="#e7f0f3"/>
<path d="M357.2,112.4 L357.68,112.4 L358.16,112.4 L358.64,112.4 L359.13,112.4 L359.61,112.4 L360.09,112.4 L360.57,112.4 L361.05,112.4 L361.53,112.4 L362.01,112.4 L362.5,112.4 L362.98,112.4 L363.46,112.4 L363.94,112.4 L364.42,112.4 L364.9,112.4 L365.39,112.4 L365.87,112.4 L366.35,112.4 L366.83,112.4 L367.31,112.4 L367.79,112.4 L368.27,112.4 L368.76,112.4 L369.24,112.4 L369.72,112.4 L370.2,112.4 L370.68,112.4 L371.16,112.4 L371.64,112.4 L372.13,112.4 L372.61,112.4 L373.09,112.4 L373.57,112.4 L374.05,112.39 L374.53,112.39 L375.02,112.39 L375.5,112.39 L375.98,112.39 L376.46,112.38 L376.94,112.38 L377.42,112.37 L377.9,112.37 L378.39,112.36 L378.87,112.35 L379.35,112.34 L379.83,112.33 L380.31,112.31 L380.79,112.3 L381.27,112.28 L381.76,112.26 L382.24,112.24 L382.72,112.22 L383.2,112.19 L383.68,112.17 L384.16,112.14 L384.65,112.11 L385.13,112.08 L385.61,112.05 L386.09,112.02 L386.57,111.98 L387.05,111.95 L387.53,111.92 L388.02,111.89 L388.5,111.87 L388.98,111.84 L389.46,111.82 L389.94,111.8 L390.42,111.79 L390.9,111.77 L391.39,111.77 L391.87,111.77 L392.35,111.77 L392.83,111.77 L393.31,111.79 L393.79,111.8 L394.28,111.82 L394.76,111.84 L395.24,111.87 L395.72,111.89 L396.2,111.92 L396.68,111.95 L397.16,111.98 L397.65,112.02 L398.13,112.05 L398.61,112.08 L399.09,112.11 L399.57,112.14 L400.05,112.17 L400.53,112.19 L401.02,112.22 L401.5,112.24 L401.98,112.26 L402.46,112.28 L402.94,112.3 L403.42,112.31 L403.91,112.33 L404.39,112.34 L404.87,112.35 L405.35,112.36 L405.83,112.37 L406.31,112.37 L406.79,112.38 L407.28,112.38 L407.76,112.39 L408.24,112.39 L408.72,112.39 L409.2,112.39 L409.68,112.39 L410.16,112.4 L410.65,112.4 L411.13,112.4 L411.61,112.4 L412.09,112.4 L412.57,112.4 L413.05,112.4 L413.54,112.4 L414.02,112.4 L414.5,112.4 L414.98,112.4 L415.46,112.4 L415.94,112.4 L416.42,112.4 L416.91,112.4 L417.39,112.4 L417.87,112.4 L418.35,112.4 L418.83,112.4 L419.31,112.4 L419.8,112.4 L420.28,112.4 L420.76,112.4 L421.24,112.4 L421.72,112.4 L422.2,112.4 L422.68,112.4 L423.17,112.4 L423.65,112.4 L424.13,112.4 L424.61,112.4 L425.09,112.4 L425.57,112.4 L426.05,112.4 L426.54,112.4 L427.02,112.4 L427.5,112.4 L427.98,112.4 L428.46,112.4 L428.94,112.4 L429.43,112.4 L429.91,112.4 L430.39,112.4 L430.87,112.4 L431.35,112.4 L431.83,112.4 L432.31,112.4 L432.8,112.4 L433.28,112.4 L433.76,112.4 L434.24,112.4 L434.72,112.4 L435.2,112.4 L435.68,112.4 L436.17,112.4 L436.65,112.4 L437.13,112.4 L437.61,112.4 L438.09,112.4 L438.57,112.4 L439.06,112.4 L439.54,112.4 L440.02,112.4 L440.5,112.4 L440.98,112.4 L441.46,112.4 L441.94,112.4 L442.43,112.4 L442.91,112.4 L443.39,112.4 L443.87,112.4 L444.35,112.4 L444.83,112.4 L445.31,112.4 L445.8,112.4 L446.28,112.4 L446.76,112.4 L447.24,112.4 L447.72,112.4 L448.2,112.4 L448.69,112.4 L449.17,112.4 L449.65,112.4 L450.13,112.4 L450.61,112.4 L451.09,112.4 L451.57,112.4 L452.06,112.4 L452.54,112.4 L453.02,112.4 L453.5,112.4 L453.98,112.4 L454.46,112.4 L454.94,112.4 L455.43,112.4 L455.91,112.4 L456.39,112.4 L456.87,112.4 L457.35,112.4 L457.83,112.4 L458.31,112.4 L458.8,112.4 L459.28,112.4 L459.76,112.4 L460.24,112.4 L460.72,112.4 L461.2,112.4 L461.69,112.4 L462.17,112.4 L462.65,112.4 L463.13,112.4 L463.61,112.4 L464.09,112.4 L464.57,112.4 L465.06,112.4 L465.54,112.4 L466.02,112.4 L466.5,112.4 L466.98,112.4 L467.46,112.4 L467.94,112.4 L468.43,112.4 L468.91,112.4 L469.39,112.4 L469.87,112.4 L470.35,112.4 L470.83,112.4 L471.32,112.4 L471.8,112.4 L472.28,112.4 L472.76,112.4 L473.24,112.4 L473.72,112.4 L474.2,112.4 L474.69,112.4 L475.17,112.4 L475.65,112.4 L476.13,112.4 L476.61,112.4 L477.09,112.4 L477.57,112.4 L478.06,112.4 L478.54,112.4 L479.02,112.4 L479.5,112.4 L479.98,112.4 L480.46,112.4 L480.95,112.4 L481.43,112.4 L481.91,112.4 L482.39,112.4 L482.87,112.4 L483.35,112.4 L483.83,112.4 L484.32,112.4 L484.8,112.4 L485.28,112.4 L485.76,112.4 L486.24,112.4 L486.72,112.4 L487.21,112.4 L487.69,112.4 L488.17,112.4 L488.65,112.4 L489.13,112.4 L489.61,112.4 L490.09,112.4 L490.58,112.4 L491.06,112.4 L491.54,112.4 L492.02,112.4 L492.02,112.4 L357.2,112.4 Z" fill="#4c72b0" fill-opacity="0.3" stroke="#4c72b0" stroke-opacity="0.4" stroke-width="0.5"/>
<path d="M357.2,112.4 L357.68,112.4 L358.16,112.4 L358.64,112.4 L359.13,112.4 L359.61,112.4 L360.09,112.4 L360.57,112.4 L361.05,112.4 L361.53,112.4 L362.01,112.4 L362.5,112.4 L362.98,112.4 L363.46,112.4 L363.94,112.4 L364.42,112.4 L364.9,112.4 L365.39,112.4 L365.87,112.4 L366.35,112.4 L366.83,112.4 L367.31,112.4 L367.79,112.4 L368.27,112.39 L368.76,112.39 L369.24,112.39 L369.72,112.39 L370.2,112.38 L370.68,112.38 L371.16,112.37 L371.64,112.36 L372.13,112.36 L372.61,112.34 L373.09,112.33 L373.57,112.31 L374.05,112.29 L374.53,112.27 L375.02,112.24 L375.5,112.2 L375.98,112.16 L376.46,112.11 L376.94,112.05 L377.42,111.99 L377.9,111.91 L378.39,111.83 L378.87,111.73 L379.35,111.63 L379.83,111.51 L380.31,111.37 L380.79,111.23 L381.27,111.07 L381.76,110.9 L382.24,110.72 L382.72,110.52 L383.2,110.31 L383.68,110.1 L384.16,109.88 L384.65,109.65 L385.13,109.42 L385.61,109.18 L386.09,108.95 L386.57,108.73 L387.05,108.51 L387.53,108.3 L388.02,108.1 L388.5,107.92 L388.98,107.76 L389.46,107.63 L389.94,107.51 L390.42,107.43 L390.9,107.37 L391.39,107.33 L391.87,107.33 L392.35,107.36 L392.83,107.41 L393.31,107.49 L393.79,107.6 L394.28,107.74 L394.76,107.89 L395.24,108.07 L395.72,108.26 L396.2,108.46 L396.68,108.68 L397.16,108.91 L397.65,109.14 L398.13,109.37 L398.61,109.6 L399.09,109.83 L399.57,110.06 L400.05,110.27 L400.53,110.48 L401.02,110.68 L401.5,110.86 L401.98,111.04 L402.46,111.2 L402.94,111.35 L403.42,111.48 L403.91,111.6 L404.39,111.71 L404.87,111.81 L405.35,111.9 L405.83,111.98 L406.31,112.04 L406.79,112.1 L407.28,112.15 L407.76,112.19 L408.24,112.23 L408.72,112.26 L409.2,112.29 L409.68,112.31 L410.16,112.33 L410.65,112.34 L411.13,112.35 L411.61,112.36 L412.09,112.37 L412.57,112.38 L413.05,112.38 L413.54,112.39 L414.02,112.39 L414.5,112.39 L414.98,112.39 L415.46,112.4 L415.94,112.4 L416.42,112.4 L416.91,112.4 L417.39,112.4 L417.87,112.4 L418.35,112.4 L418.83,112.4 L419.31,112.4 L419.8,112.4 L420.28,112.4 L420.76,112.4 L421.24,112.4 L421.72,112.4 L422.2,112.4 L422.68,112.4 L423.17,112.4 L423.65,112.4 L424.13,112.4 L424.61,112.4 L425.09,112.4 L425.57,112.4 L426.05,112.4 L426.54,112.4 L427.02,112.4 L427.5,112.4 L427.98,112.4 L428.46,112.4 L428.94,112.4 L429.43,112.4 L429.91,112.4 L430.39,112.4 L430.87,112.4 L431.35,112.4 L431.83,112.4 L432.31,112.4 L432.8,112.4 L433.28,112.4 L433.76,112.4 L434.24,112.4 L434.72,112.4 L435.2,112.4 L435.68,112.4 L436.17,112.4 L436.65,112.4 L437.13,112.4 L437.61,112.4 L438.09,112.4 L438.57,112.4 L439.06,112.4 L439.54,112.4 L440.02,112.4 L440.5,112.4 L440.98,112.4 L441.46,112.4 L441.94,112.4 L442.43,112.4 L442.91,112.4 L443.39,112.4 L443.87,112.4 L444.35,112.4 L444.83,112.4 L445.31,112.4 L445.8,112.4 L446.28,112.4 L446.76,112.4 L447.24,112.4 L447.72,112.4 L448.2,112.4 L448.69,112.4 L449.17,112.4 L449.65,112.4 L450.13,112.4 L450.61,112.4 L451.09,112.4 L451.57,112.4 L452.06,112.4 L452.54,112.4 L453.02,112.4 L453.5,112.4 L453.98,112.4 L454.46,112.4 L454.94,112.4 L455.43,112.4 L455.91,112.4 L456.39,112.4 L456.87,112.4 L457.35,112.4 L457.83,112.4 L458.31,112.4 L458.8,112.4 L459.28,112.4 L459.76,112.4 L460.24,112.4 L460.72,112.4 L461.2,112.4 L461.69,112.4 L462.17,112.4 L462.65,112.4 L463.13,112.4 L463.61,112.4 L464.09,112.4 L464.57,112.4 L465.06,112.4 L465.54,112.4 L466.02,112.4 L466.5,112.4 L466.98,112.4 L467.46,112.4 L467.94,112.4 L468.43,112.4 L468.91,112.4 L469.39,112.4 L469.87,112.4 L470.35,112.4 L470.83,112.4 L471.32,112.4 L471.8,112.4 L472.28,112.4 L472.76,112.4 L473.24,112.4 L473.72,112.4 L474.2,112.4 L474.69,112.4 L475.17,112.4 L475.65,112.4 L476.13,112.4 L476.61,112.4 L477.09,112.4 L477.57,112.4 L478.06,112.4 L478.54,112.4 L479.02,112.4 L479.5,112.4 L479.98,112.4 L480.46,112.4 L480.95,112.4 L481.43,112.4 L481.91,112.4 L482.39,112.4 L482.87,112.4 L483.35,112.4 L483.83,112.4 L484.32,112.4 L484.8,112.4 L485.28,112.4 L485.76,112.4 L486.24,112.4 L486.72,112.4 L487.21,112.4 L487.69,112.4 L488.17,112.4 L488.65,112.4 L489.13,112.4 L489.61,112.4 L490.09,112.4 L490.58,112.4 L491.06,112.4 L491.54,112.4 L492.02,112.4 L492.02,112.4 L357.2,112.4 Z" fill="#dd8452" fill-opacity="0.3" stroke="#dd8452" stroke-opacity="0.4" stroke-width="0.5"/>
<path d="M357.2,112.4 L357.68,112.4 L358.16,112.4 L358.64,112.4 L359.13,112.4 L359.61,112.4 L360.09,112.4 L360.57,112.4 L361.05,112.4 L361.53,112.4 L362.01,112.4 L362.5,112.4 L362.98,112.4 L363.46,112.4 L363.94,112.4 L364.42,112.4 L364.9,112.4 L365.39,112.4 L365.87,112.4 L366.35,112.4 L366.83,112.4 L367.31,112.4 L367.79,112.4 L368.27,112.4 L368.76,112.4 L369.24,112.4 L369.72,112.4 L370.2,112.4 L370.68,112.4 L371.16,112.4 L371.64,112.4 L372.13,112.4 L372.61,112.4 L373.09,112.4 L373.57,112.4 L374.05,112.4 L374.53,112.4 L375.02,112.4 L375.5,112.4 L375.98,112.4 L376.46,112.4 L376.94,112.4 L377.42,112.4 L377.9,112.4 L378.39,112.4 L378.87,112.4 L379.35,112.4 L379.83,112.4 L380.31,112.4 L380.79,112.4 L381.27,112.4 L381.76,112.4 L382.24,112.4 L382.72,112.4 L383.2,112.4 L383.68,112.4 L384.16,112.4 L384.65,112.4 L385.13,112.4 L385.61,112.4 L386.09,112.4 L386.57,112.4 L387.05,112.4 L387.53,112.4 L388.02,112.4 L388.5,112.4 L388.98,112.4 L389.46,112.4 L389.94,112.4 L390.42,112.4 L390.9,112.4 L391.39,112.4 L391.87,112.4 L392.35,112.4 L392.83,112.4 L393.31,112.4 L393.79,112.4 L394.28,112.4 L394.76,112.4 L395.24,112.4 L395.72,112.4 L396.2,112.4 L396.68,112.4 L397.16,112.4 L397.65,112.4 L398.13,112.4 L398.61,112.4 L399.09,112.4 L399.57,112.4 L400.05,112.4 L400.53,112.4 L401.02,112.4 L401.5,112.4 L401.98,112.4 L402.46,112.4 L402.94,112.4 L403.42,112.4 L403.91,112.4 L404.39,112.4 L404.87,112.4 L405.35,112.4 L405.83,112.4 L406.31,112.4 L406.79,112.4 L407.28,112.4 L407.76,112.4 L408.24,112.4 L408.72,112.4 L409.2,112.4 L409.68,112.4 L410.16,112.4 L410.65,112.4 L411.13,112.4 L411.61,112.4 L412.09,112.4 L412.57,112.4 L413.05,112.4 L413.54,112.4 L414.02,112.4 L414.5,112.4 L414.98,112.4 L415.46,112.4 L415.94,112.39 L416.42,112.39 L416.91,112.39 L417.39,112.39 L417.87,112.38 L418.35,112.38 L418.83,112.37 L419.31,112.37 L419.8,112.36 L420.28,112.35 L420.76,112.34 L421.24,112.32 L421.72,112.31 L422.2,112.29 L422.68,112.27 L423.17,112.25 L423.65,112.22 L424.13,112.19 L424.61,112.16 L425.09,112.13 L425.57,112.09 L426.05,112.05 L426.54,112.01 L427.02,111.96 L427.5,111.92 L427.98,111.87 L428.46,111.82 L428.94,111.78 L429.43,111.73 L429.91,111.68 L430.39,111.64 L430.87,111.6 L431.35,111.56 L431.83,111.53 L432.31,111.5 L432.8,111.48 L433.28,111.46 L433.76,111.45 L434.24,111.45 L434.72,111.45 L435.2,111.46 L435.68,111.48 L436.17,111.5 L436.65,111.53 L437.13,111.56 L437.61,111.6 L438.09,111.64 L438.57,111.68 L439.06,111.73 L439.54,111.78 L440.02,111.82 L440.5,111.87 L440.98,111.92 L441.46,111.96 L441.94,112.01 L442.43,112.05 L442.91,112.09 L443.39,112.13 L443.87,112.16 L444.35,112.19 L444.83,112.22 L445.31,112.25 L445.8,112.27 L446.28,112.29 L446.76,112.31 L447.24,112.32 L447.72,112.34 L448.2,112.35 L448.69,112.36 L449.17,112.37 L449.65,112.37 L450.13,112.38 L450.61,112.38 L451.09,112.39 L451.57,112.39 L452.06,112.39 L452.54,112.39 L453.02,112.4 L453.5,112.4 L453.98,112.4 L454.46,112.4 L454.94,112.4 L455.43,112.4 L455.91,112.4 L456.39,112.4 L456.87,112.4 L457.35,112.4 L457.83,112.4 L458.31,112.4 L458.8,112.4 L459.28,112.4 L459.76,112.4 L460.24,112.4 L460.72,112.4 L461.2,112.4 L461.69,112.4 L462.17,112.4 L462.65,112.4 L463.13,112.4 L463.61,112.4 L464.09,112.4 L464.57,112.4 L465.06,112.4 L465.54,112.4 L466.02,112.4 L466.5,112.4 L466.98,112.4 L467.46,112.4 L467.94,112.4 L468.43,112.4 L468.91,112.4 L469.39,112.4 L469.87,112.4 L470.35,112.4 L470.83,112.4 L471.32,112.4 L471.8,112.4 L472.28,112.4 L472.76,112.4 L473.24,112.4 L473.72,112.4 L474.2,112.4 L474.69,112.4 L475.17,112.4 L475.65,112.4 L476.13,112.4 L476.61,112.4 L477.09,112.4 L477.57,112.4 L478.06,112.4 L478.54,112.4 L479.02,112.4 L479.5,112.4 L479.98,112.4 L480.46,112.4 L480.95,112.4 L481.43,112.4 L481.91,112.4 L482.39,112.4 L482.87,112.4 L483.35,112.4 L483.83,112.4 L484.32,112.4 L484.8,112.4 L485.28,112.4 L485.76,112.4 L486.24,112.4 L486.72,112.4 L487.21,112.4 L487.69,112.4 L488.17,112.4 L488.65,112.4 L489.13,112.4 L489.61,112.4 L490.09,112.4 L490.58,112.4 L491.06,112.4 L491.54,112.4 L492.02,112.4 L492.02,112.4 L357.2,112.4 Z" fill="#55a868" fill-opacity="0.3" stroke="#55a868" stroke-opacity="0.4" stroke-width="0.5"/>
<path d="M357.2,112.4 L357.68,112.4 L358.16,112.4 L358.64,112.4 L359.13,112.4 L359.61,112.4 L360.09,112.4 L360.57,112.4 L361.05,112.4 L361.53,112.4 L362.01,112.4 L362.5,112.4 L362.98,112.4 L363.46,112.4 L363.94,112.4 L364.42,112.4 L364.9,112.4 L365.39,112.4 L365.87,112.4 L366.35,112.4 L366.83,112.4 L367.31,112.4 L367.79,112.4 L368.27,112.4 L368.76,112.4 L369.24,112.4 L369.72,112.4 L370.2,112.4 L370.68,112.4 L371.16,112.4 L371.64,112.4 L372.13,112.4 L372.61,112.4 L373.09,112.4 L373.57,112.4 L374.05,112.4 L374.53,112.4 L375.02,112.4 L375.5,112.4 L375.98,112.4 L376.46,112.4 L376.94,112.4 L377.42,112.4 L377.9,112.4 L378.39,112.4 L378.87,112.4 L379.35,112.4 L379.83,112.4 L380.31,112.4 L380.79,112.4 L381.27,112.4 L381.76,112.4 L382.24,112.4 L382.72,112.4 L383.2,112.4 L383.68,112.4 L384.16,112.4 L384.65,112.4 L385.13,112.4 L385.61,112.4 L386.09,112.4 L386.57,112.4 L387.05,112.4 L387.53,112.4 L388.02,112.4 L388.5,112.4 L388.98,112.4 L389.46,112.4 L389.94,112.4 L390.42,112.4 L390.9,112.4 L391.39,112.4 L391.87,112.4 L392.35,112.4 L392.83,112.4 L393.31,112.4 L393.79,112.4 L394.28,112.4 L394.76,112.4 L395.24,112.4 L395.72,112.4 L396.2,112.4 L396.68,112.4 L397.16,112.4 L397.65,112.4 L398.13,112.4 L398.61,112.4 L399.09,112.4 L399.57,112.4 L400.05,112.4 L400.53,112.4 L401.02,112.4 L401.5,112.4 L401.98,112.4 L402.46,112.4 L402.94,112.4 L403.42,112.4 L403.91,112.4 L404.39,112.4 L404.87,112.4 L405.35,112.4 L405.83,112.4 L406.31,112.4 L406.79,112.4 L407.28,112.4 L407.76,112.4 L408.24,112.4 L408.72,112.4 L409.2,112.4 L409.68,112.4 L410.16,112.4 L410.65,112.4 L411.13,112.4 L411.61,112.4 L412.09,112.4 L412.57,112.4 L413.05,112.4 L413.54,112.4 L414.02,112.4 L414.5,112.4 L414.98,112.4 L415.46,112.4 L415.94,112.4 L416.42,112.4 L416.91,112.4 L417.39,112.4 L417.87,112.4 L418.35,112.4 L418.83,112.4 L419.31,112.4 L419.8,112.4 L420.28,112.4 L420.76,112.4 L421.24,112.4 L421.72,112.4 L422.2,112.4 L422.68,112.4 L423.17,112.4 L423.65,112.4 L424.13,112.4 L424.61,112.4 L425.09,112.4 L425.57,112.4 L426.05,112.4 L426.54,112.4 L427.02,112.4 L427.5,112.4 L427.98,112.4 L428.46,112.4 L428.94,112.39 L429.43,112.39 L429.91,112.39 L430.39,112.39 L430.87,112.38 L431.35,112.37 L431.83,112.37 L432.31,112.36 L432.8,112.34 L433.28,112.33 L433.76,112.3 L434.24,112.28 L434.72,112.24 L435.2,112.21 L435.68,112.16 L436.17,112.1 L436.65,112.03 L437.13,111.95 L437.61,111.86 L438.09,111.76 L438.57,111.63 L439.06,111.5 L439.54,111.35 L440.02,111.18 L440.5,111 L440.98,110.8 L441.46,110.59 L441.94,110.37 L442.43,110.14 L442.91,109.9 L443.39,109.66 L443.87,109.42 L444.35,109.19 L444.83,108.96 L445.31,108.75 L445.8,108.56 L446.28,108.38 L446.76,108.24 L447.24,108.12 L447.72,108.03 L448.2,107.98 L448.69,107.96 L449.17,107.98 L449.65,108.03 L450.13,108.12 L450.61,108.24 L451.09,108.38 L451.57,108.56 L452.06,108.75 L452.54,108.96 L453.02,109.19 L453.5,109.42 L453.98,109.66 L454.46,109.9 L454.94,110.14 L455.43,110.37 L455.91,110.59 L456.39,110.8 L456.87,111 L457.35,111.18 L457.83,111.35 L458.31,111.5 L458.8,111.63 L459.28,111.76 L459.76,111.86 L460.24,111.95 L460.72,112.03 L461.2,112.1 L461.69,112.16 L462.17,112.21 L462.65,112.24 L463.13,112.28 L463.61,112.3 L464.09,112.33 L464.57,112.34 L465.06,112.36 L465.54,112.37 L466.02,112.37 L466.5,112.38 L466.98,112.39 L467.46,112.39 L467.94,112.39 L468.43,112.39 L468.91,112.4 L469.39,112.4 L469.87,112.4 L470.35,112.4 L470.83,112.4 L471.32,112.4 L471.8,112.4 L472.28,112.4 L472.76,112.4 L473.24,112.4 L473.72,112.4 L474.2,112.4 L474.69,112.4 L475.17,112.4 L475.65,112.4 L476.13,112.4 L476.61,112.4 L477.09,112.4 L477.57,112.4 L478.06,112.4 L478.54,112.4 L479.02,112.4 L479.5,112.4 L479.98,112.4 L480.46,112.4 L480.95,112.4 L481.43,112.4 L481.91,112.4 L482.39,112.4 L482.87,112.4 L483.35,112.4 L483.83,112.4 L484.32,112.4 L484.8,112.4 L485.28,112.4 L485.76,112.4 L486.24,112.4 L486.72,112.4 L487.21,112.4 L487.69,112.4 L488.17,112.4 L488.65,112.4 L489.13,112.4 L489.61,112.4 L490.09,112.4 L490.58,112.4 L491.06,112.4 L491.54,112.4 L492.02,112.4 L492.02,112.4 L357.2,112.4 Z" fill="#937860" fill-opacity="0.3" stroke="#937860" stroke-opacity="0.4" stroke-width="0.5"/>
<path d="M357.2,112.4 L357.68,112.4 L358.16,112.4 L358.64,112.4 L359.13,112.4 L359.61,112.4 L360.09,112.4 L360.57,112.4 L361.05,112.4 L361.53,112.4 L362.01,112.4 L362.5,112.4 L362.98,112.4 L363.46,112.4 L363.94,112.4 L364.42,112.4 L364.9,112.4 L365.39,112.4 L365.87,112.4 L366.35,112.4 L366.83,112.4 L367.31,112.4 L367.79,112.4 L368.27,112.4 L368.76,112.4 L369.24,112.4 L369.72,112.4 L370.2,112.4 L370.68,112.4 L371.16,112.4 L371.64,112.4 L372.13,112.4 L372.61,112.4 L373.09,112.4 L373.57,112.4 L374.05,112.4 L374.53,112.4 L375.02,112.4 L375.5,112.4 L375.98,112.4 L376.46,112.4 L376.94,112.4 L377.42,112.4 L377.9,112.4 L378.39,112.4 L378.87,112.4 L379.35,112.4 L379.83,112.4 L380.31,112.4 L380.79,112.4 L381.27,112.4 L381.76,112.4 L382.24,112.4 L382.72,112.4 L383.2,112.4 L383.68,112.4 L384.16,112.4 L384.65,112.4 L385.13,112.4 L385.61,112.4 L386.09,112.4 L386.57,112.4 L387.05,112.4 L387.53,112.4 L388.02,112.4 L388.5,112.4 L388.98,112.4 L389.46,112.4 L389.94,112.4 L390.42,112.4 L390.9,112.4 L391.39,112.4 L391.87,112.4 L392.35,112.4 L392.83,112.4 L393.31,112.4 L393.79,112.4 L394.28,112.4 L394.76,112.4 L395.24,112.4 L395.72,112.4 L396.2,112.4 L396.68,112.4 L397.16,112.4 L397.65,112.4 L398.13,112.4 L398.61,112.4 L399.09,112.4 L399.57,112.4 L400.05,112.4 L400.53,112.4 L401.02,112.4 L401.5,112.4 L401.98,112.4 L402.46,112.4 L402.94,112.4 L403.42,112.4 L403.91,112.4 L404.39,112.4 L404.87,112.4 L405.35,112.4 L405.83,112.4 L406.31,112.4 L406.79,112.4 L407.28,112.4 L407.76,112.4 L408.24,112.4 L408.72,112.4 L409.2,112.4 L409.68,112.4 L410.16,112.39 L410.65,112.39 L411.13,112.39 L411.61,112.39 L412.09,112.38 L412.57,112.38 L413.05,112.37 L413.54,112.36 L414.02,112.35 L414.5,112.34 L414.98,112.32 L415.46,112.29 L415.94,112.26 L416.42,112.23 L416.91,112.18 L417.39,112.13 L417.87,112.06 L418.35,111.98 L418.83,111.88 L419.31,111.76 L419.8,111.62 L420.28,111.45 L420.76,111.26 L421.24,111.03 L421.72,110.77 L422.2,110.47 L422.68,110.13 L423.17,109.74 L423.65,109.3 L424.13,108.81 L424.61,108.27 L425.09,107.68 L425.57,107.02 L426.05,106.32 L426.54,105.56 L427.02,104.75 L427.5,103.89 L427.98,102.99 L428.46,102.06 L428.94,101.1 L429.43,100.12 L429.91,99.13 L430.39,98.14 L430.87,97.17 L431.35,96.22 L431.83,95.31 L432.31,94.46 L432.8,93.67 L433.28,92.96 L433.76,92.34 L434.24,91.81 L434.72,91.39 L435.2,91.09 L435.68,90.91 L436.17,90.84 L436.65,90.91 L437.13,91.09 L437.61,91.39 L438.09,91.81 L438.57,92.34 L439.06,92.96 L439.54,93.67 L440.02,94.46 L440.5,95.31 L440.98,96.22 L441.46,97.17 L441.94,98.14 L442.43,99.13 L442.91,100.12 L443.39,101.1 L443.87,102.06 L444.35,102.99 L444.83,103.89 L445.31,104.75 L445.8,105.56 L446.28,106.32 L446.76,107.02 L447.24,107.68 L447.72,108.27 L448.2,108.81 L448.69,109.3 L449.17,109.74 L449.65,110.13 L450.13,110.47 L450.61,110.77 L451.09,111.03 L451.57,111.26 L452.06,111.45 L452.54,111.62 L453.02,111.76 L453.5,111.88 L453.98,111.98 L454.46,112.06 L454.94,112.13 L455.43,112.18 L455.91,112.23 L456.39,112.26 L456.87,112.29 L457.35,112.32 L457.83,112.34 L458.31,112.35 L458.8,112.36 L459.28,112.37 L459.76,112.38 L460.24,112.38 L460.72,112.39 L461.2,112.39 L461.69,112.39 L462.17,112.39 L462.65,112.4 L463.13,112.4 L463.61,112.4 L464.09,112.4 L464.57,112.4 L465.06,112.4 L465.54,112.4 L466.02,112.4 L466.5,112.4 L466.98,112.4 L467.46,112.4 L467.94,112.4 L468.43,112.4 L468.91,112.4 L469.39,112.4 L469.87,112.4 L470.35,112.4 L470.83,112.4 L471.32,112.4 L471.8,112.4 L472.28,112.4 L472.76,112.4 L473.24,112.4 L473.72,112.4 L474.2,112.4 L474.69,112.4 L475.17,112.4 L475.65,112.4 L476.13,112.4 L476.61,112.4 L477.09,112.4 L477.57,112.4 L478.06,112.4 L478.54,112.4 L479.02,112.4 L479.5,112.4 L479.98,112.4 L480.46,112.4 L480.95,112.4 L481.43,112.4 L481.91,112.4 L482.39,112.4 L482.87,112.4 L483.35,112.4 L483.83,112.4 L484.32,112.4 L484.8,112.4 L485.28,112.4 L485.76,112.4 L486.24,112.4 L486.72,112.4 L487.21,112.4 L487.69,112.4 L488.17,112.4 L488.65,112.4 L489.13,112.4 L489.61,112.4 L490.09,112.4 L490.58,112.4 L491.06,112.4 L491.54,112.4 L492.02,112.4 L492.02,112.4 L357.2,112.4 Z" fill="#8172b3" fill-opacity="0.3" stroke="#8172b3" stroke-opacity="0.4" stroke-width="0.5"/>
<path d="M357.2,112.4 L357.68,112.4 L358.16,112.4 L358.64,112.4 L359.13,112.4 L359.61,112.4 L360.09,112.4 L360.57,112.4 L361.05,112.4 L361.53,112.4 L362.01,112.4 L362.5,112.4 L362.98,112.4 L363.46,112.4 L363.94,112.4 L364.42,112.4 L364.9,112.4 L365.39,112.4 L365.87,112.39 L366.35,112.39 L366.83,112.39 L367.31,112.39 L367.79,112.38 L368.27,112.38 L368.76,112.37 L369.24,112.37 L369.72,112.36 L370.2,112.35 L370.68,112.34 L371.16,112.33 L371.64,112.31 L372.13,112.29 L372.61,112.27 L373.09,112.24 L373.57,112.2 L374.05,112.16 L374.53,112.12 L375.02,112.06 L375.5,112 L375.98,111.92 L376.46,111.84 L376.94,111.74 L377.42,111.62 L377.9,111.49 L378.39,111.34 L378.87,111.17 L379.35,110.97 L379.83,110.75 L380.31,110.51 L380.79,110.23 L381.27,109.92 L381.76,109.58 L382.24,109.21 L382.72,108.8 L383.2,108.35 L383.68,107.85 L384.16,107.32 L384.65,106.75 L385.13,106.13 L385.61,105.47 L386.09,104.76 L386.57,104.02 L387.05,103.23 L387.53,102.41 L388.02,101.55 L388.5,100.65 L388.98,99.73 L389.46,98.79 L389.94,97.82 L390.42,96.85 L390.9,95.86 L391.39,94.88 L391.87,93.91 L392.35,92.94 L392.83,92.01 L393.31,91.1 L393.79,90.23 L394.28,89.4 L394.76,88.63 L395.24,87.92 L395.72,87.28 L396.2,86.72 L396.68,86.23 L397.16,85.83 L397.65,85.51 L398.13,85.29 L398.61,85.17 L399.09,85.14 L399.57,85.18 L400.05,85.26 L400.53,85.41 L401.02,85.6 L401.5,85.84 L401.98,86.13 L402.46,86.46 L402.94,86.85 L403.42,87.27 L403.91,87.73 L404.39,88.24 L404.87,88.77 L405.35,89.34 L405.83,89.94 L406.31,90.57 L406.79,91.22 L407.28,91.89 L407.76,92.58 L408.24,93.28 L408.72,93.99 L409.2,94.71 L409.68,95.43 L410.16,96.15 L410.65,96.88 L411.13,97.6 L411.61,98.31 L412.09,99.02 L412.57,99.71 L413.05,100.39 L413.54,101.06 L414.02,101.71 L414.5,102.34 L414.98,102.96 L415.46,103.55 L415.94,104.12 L416.42,104.67 L416.91,105.2 L417.39,105.7 L417.87,106.18 L418.35,106.64 L418.83,107.07 L419.31,107.48 L419.8,107.87 L420.28,108.24 L420.76,108.58 L421.24,108.9 L421.72,109.2 L422.2,109.48 L422.68,109.74 L423.17,109.99 L423.65,110.21 L424.13,110.42 L424.61,110.61 L425.09,110.78 L425.57,110.95 L426.05,111.09 L426.54,111.23 L427.02,111.35 L427.5,111.46 L427.98,111.56 L428.46,111.66 L428.94,111.74 L429.43,111.82 L429.91,111.88 L430.39,111.94 L430.87,112 L431.35,112.05 L431.83,112.09 L432.31,112.13 L432.8,112.16 L433.28,112.19 L433.76,112.22 L434.24,112.24 L434.72,112.26 L435.2,112.28 L435.68,112.3 L436.17,112.31 L436.65,112.32 L437.13,112.33 L437.61,112.34 L438.09,112.35 L438.57,112.36 L439.06,112.37 L439.54,112.37 L440.02,112.37 L440.5,112.38 L440.98,112.38 L441.46,112.38 L441.94,112.39 L442.43,112.39 L442.91,112.39 L443.39,112.39 L443.87,112.39 L444.35,112.39 L444.83,112.4 L445.31,112.4 L445.8,112.4 L446.28,112.4 L446.76,112.4 L447.24,112.4 L447.72,112.4 L448.2,112.4 L448.69,112.4 L449.17,112.4 L449.65,112.4 L450.13,112.4 L450.61,112.4 L451.09,112.4 L451.57,112.4 L452.06,112.4 L452.54,112.4 L453.02,112.4 L453.5,112.4 L453.98,112.4 L454.46,112.4 L454.94,112.4 L455.43,112.4 L455.91,112.4 L456.39,112.4 L456.87,112.4 L457.35,112.4 L457.83,112.4 L458.31,112.4 L458.8,112.4 L459.28,112.4 L459.76,112.4 L460.24,112.4 L460.72,112.4 L461.2,112.4 L461.69,112.4 L462.17,112.4 L462.65,112.4 L463.13,112.4 L463.61,112.4 L464.09,112.4 L464.57,112.4 L465.06,112.4 L465.54,112.4 L466.02,112.4 L466.5,112.4 L466.98,112.4 L467.46,112.4 L467.94,112.4 L468.43,112.4 L468.91,112.4 L469.39,112.4 L469.87,112.4 L470.35,112.4 L470.83,112.4 L471.32,112.4 L471.8,112.4 L472.28,112.4 L472.76,112.4 L473.24,112.4 L473.72,112.4 L474.2,112.4 L474.69,112.4 L475.17,112.4 L475.65,112.4 L476.13,112.4 L476.61,112.4 L477.09,112.4 L477.57,112.4 L478.06,112.4 L478.54,112.4 L479.02,112.4 L479.5,112.4 L479.98,112.4 L480.46,112.4 L480.95,112.4 L481.43,112.4 L481.91,112.4 L482.39,112.4 L482.87,112.4 L483.35,112.4 L483.83,112.4 L484.32,112.4 L484.8,112.4 L485.28,112.4 L485.76,112.4 L486.24,112.4 L486.72,112.4 L487.21,112.4 L487.69,112.4 L488.17,112.4 L488.65,112.4 L489.13,112.4 L489.61,112.4 L490.09,112.4 L490.58,112.4 L491.06,112.4 L491.54,112.4 L492.02,112.4 L492.02,112.4 L357.2,112.4 Z" fill="#c44e52" fill-opacity="0.3" stroke="#c44e52" stroke-opacity="0.4" stroke-width="0.5"/>
<path d="M357.2,112.4 L357.68,112.4 L358.16,112.4 L358.64,112.4 L359.13,112.4 L359.61,112.4 L360.09,112.4 L360.57,112.4 L361.05,112.4 L361.53,112.4 L362.01,112.4 L362.5,112.39 L362.98,112.39 L363.46,112.39 L363.94,112.39 L364.42,112.39 L364.9,112.38 L365.39,112.38 L365.87,112.38 L366.35,112.37 L366.83,112.36 L367.31,112.36 L367.79,112.35 L368.27,112.33 L368.76,112.32 L369.24,112.3 L369.72,112.28 L370.2,112.26 L370.68,112.23 L371.16,112.2 L371.64,112.16 L372.13,112.11 L372.61,112.06 L373.09,111.99 L373.57,111.92 L374.05,111.83 L374.53,111.73 L375.02,111.62 L375.5,111.49 L375.98,111.34 L376.46,111.17 L376.94,110.98 L377.42,110.76 L377.9,110.52 L378.39,110.24 L378.87,109.94 L379.35,109.6 L379.83,109.23 L380.31,108.81 L380.79,108.36 L381.27,107.87 L381.76,107.34 L382.24,106.76 L382.72,106.13 L383.2,105.46 L383.68,104.75 L384.16,103.99 L384.65,103.19 L385.13,102.34 L385.61,101.46 L386.09,100.54 L386.57,99.58 L387.05,98.6 L387.53,97.59 L388.02,96.56 L388.5,95.51 L388.98,94.46 L389.46,93.4 L389.94,92.35 L390.42,91.31 L390.9,90.29 L391.39,89.3 L391.87,88.34 L392.35,87.43 L392.83,86.56 L393.31,85.74 L393.79,84.99 L394.28,84.3 L394.76,83.69 L395.24,83.15 L395.72,82.68 L396.2,82.3 L396.68,82 L397.16,81.78 L397.65,81.65 L398.13,81.59 L398.61,81.62 L399.09,81.72 L399.57,81.89 L400.05,82.13 L400.53,82.44 L401.02,82.8 L401.5,83.21 L401.98,83.67 L402.46,84.17 L402.94,84.71 L403.42,85.27 L403.91,85.85 L404.39,86.45 L404.87,87.06 L405.35,87.67 L405.83,88.29 L406.31,88.9 L406.79,89.5 L407.28,90.09 L407.76,90.67 L408.24,91.23 L408.72,91.77 L409.2,92.29 L409.68,92.8 L410.16,93.28 L410.65,93.75 L411.13,94.2 L411.61,94.62 L412.09,95.03 L412.57,95.43 L413.05,95.81 L413.54,96.17 L414.02,96.53 L414.5,96.87 L414.98,97.2 L415.46,97.52 L415.94,97.83 L416.42,98.13 L416.91,98.43 L417.39,98.71 L417.87,98.98 L418.35,99.24 L418.83,99.48 L419.31,99.71 L419.8,99.92 L420.28,100.11 L420.76,100.28 L421.24,100.41 L421.72,100.52 L422.2,100.58 L422.68,100.61 L423.17,100.59 L423.65,100.52 L424.13,100.41 L424.61,100.23 L425.09,100.01 L425.57,99.72 L426.05,99.38 L426.54,98.99 L427.02,98.54 L427.5,98.04 L427.98,97.5 L428.46,96.92 L428.94,96.31 L429.43,95.68 L429.91,95.03 L430.39,94.39 L430.87,93.76 L431.35,93.15 L431.83,92.58 L432.31,92.06 L432.8,91.59 L433.28,91.18 L433.76,90.85 L434.24,90.6 L434.72,90.44 L435.2,90.37 L435.68,90.38 L436.17,90.48 L436.65,90.67 L437.13,90.94 L437.61,91.28 L438.09,91.69 L438.57,92.15 L439.06,92.67 L439.54,93.22 L440.02,93.8 L440.5,94.4 L440.98,95.01 L441.46,95.62 L441.94,96.24 L442.43,96.84 L442.91,97.44 L443.39,98.02 L443.87,98.59 L444.35,99.14 L444.83,99.68 L445.31,100.2 L445.8,100.72 L446.28,101.22 L446.76,101.72 L447.24,102.22 L447.72,102.71 L448.2,103.2 L448.69,103.7 L449.17,104.19 L449.65,104.69 L450.13,105.18 L450.61,105.67 L451.09,106.15 L451.57,106.63 L452.06,107.1 L452.54,107.55 L453.02,107.99 L453.5,108.42 L453.98,108.82 L454.46,109.2 L454.94,109.56 L455.43,109.89 L455.91,110.2 L456.39,110.48 L456.87,110.74 L457.35,110.97 L457.83,111.18 L458.31,111.36 L458.8,111.52 L459.28,111.66 L459.76,111.79 L460.24,111.89 L460.72,111.98 L461.2,112.06 L461.69,112.12 L462.17,112.18 L462.65,112.22 L463.13,112.26 L463.61,112.29 L464.09,112.31 L464.57,112.33 L465.06,112.35 L465.54,112.36 L466.02,112.37 L466.5,112.38 L466.98,112.38 L467.46,112.39 L467.94,112.39 L468.43,112.39 L468.91,112.39 L469.39,112.4 L469.87,112.4 L470.35,112.4 L470.83,112.4 L471.32,112.4 L471.8,112.4 L472.28,112.4 L472.76,112.4 L473.24,112.4 L473.72,112.4 L474.2,112.4 L474.69,112.4 L475.17,112.4 L475.65,112.4 L476.13,112.4 L476.61,112.4 L477.09,112.4 L477.57,112.4 L478.06,112.4 L478.54,112.4 L479.02,112.4 L479.5,112.4 L479.98,112.4 L480.46,112.4 L480.95,112.4 L481.43,112.4 L481.91,112.4 L482.39,112.4 L482.87,112.4 L483.35,112.4 L483.83,112.4 L484.32,112.4 L484.8,112.4 L485.28,112.4 L485.76,112.4 L486.24,112.4 L486.72,112.4 L487.21,112.4 L487.69,112.4 L488.17,112.4 L488.65,112.4 L489.13,112.4 L489.61,112.4 L490.09,112.4 L490.58,112.4 L491.06,112.4 L491.54,112.4 L492.02,112.4" fill="none" stroke="#5b9cc0" stroke-opacity="0.9" stroke-width="0.65"/>
<line x1="204" y1="80.7" x2="204" y2="112.4" stroke="#333333" stroke-width="0.8" />
<line x1="204" y1="112.4" x2="338.7" y2="112.4" stroke="#333333" stroke-width="0.8" />
<line x1="204" y1="112.4" x2="204" y2="114.4" stroke="#333333" stroke-width="0.7" />
<text x="204" y="119.83" font-size="4.8" text-anchor="middle" fill="#000" textLength="7.08" lengthAdjust="spacingAndGlyphs" >−3</text>
<line x1="223.2" y1="112.4" x2="223.2" y2="114.4" stroke="#333333" stroke-width="0.7" />
<text x="223.2" y="119.83" font-size="4.8" text-anchor="middle" fill="#000" textLength="7.08" lengthAdjust="spacingAndGlyphs" >−2</text>
<line x1="242.4" y1="112.4" x2="242.4" y2="114.4" stroke="#333333" stroke-width="0.7" />
<text x="242.4" y="119.83" font-size="4.8" text-anchor="middle" fill="#000" textLength="7.08" lengthAdjust="spacingAndGlyphs" >−1</text>
<line x1="261.6" y1="112.4" x2="261.6" y2="114.4" stroke="#333333" stroke-width="0.7" />
<text x="261.6" y="119.83" font-size="4.8" text-anchor="middle" fill="#000" textLength="3.05" lengthAdjust="spacingAndGlyphs" >0</text>
<line x1="280.8" y1="112.4" x2="280.8" y2="114.4" stroke="#333333" stroke-width="0.7" />
<text x="280.8" y="119.83" font-size="4.8" text-anchor="middle" fill="#000" textLength="3.05" lengthAdjust="spacingAndGlyphs" >1</text>
<line x1="300" y1="112.4" x2="300" y2="114.4" stroke="#333333" stroke-width="0.7" />
<text x="300" y="119.83" font-size="4.8" text-anchor="middle" fill="#000" textLength="3.05" lengthAdjust="spacingAndGlyphs" >2</text>
<line x1="319.2" y1="112.4" x2="319.2" y2="114.4" stroke="#333333" stroke-width="0.7" />
<text x="319.2" y="119.83" font-size="4.8" text-anchor="middle" fill="#000" textLength="3.05" lengthAdjust="spacingAndGlyphs" >3</text>
<line x1="338.4" y1="112.4" x2="338.4" y2="114.4" stroke="#333333" stroke-width="0.7" />
<text x="338.4" y="119.83" font-size="4.8" text-anchor="middle" fill="#000" textLength="3.05" lengthAdjust="spacingAndGlyphs" >4</text>
<line x1="357.2" y1="80.7" x2="357.2" y2="112.4" stroke="#b8b8b8" stroke-width="0.8" />
<line x1="357.2" y1="112.4" x2="492.32" y2="112.4" stroke="#333333" stroke-width="0.8" />
<line x1="357.2" y1="112.4" x2="357.2" y2="114.4" stroke="#333333" stroke-width="0.7" />
<text x="357.2" y="119.83" font-size="4.8" text-anchor="middle" fill="#000" textLength="7.08" lengthAdjust="spacingAndGlyphs" >−3</text>
<line x1="376.46" y1="112.4" x2="376.46" y2="114.4" stroke="#333333" stroke-width="0.7" />
<text x="376.46" y="119.83" font-size="4.8" text-anchor="middle" fill="#000" textLength="7.08" lengthAdjust="spacingAndGlyphs" >−2</text>
<line x1="395.72" y1="112.4" x2="395.72" y2="114.4" stroke="#333333" stroke-width="0.7" />
<text x="395.72" y="119.83" font-size="4.8" text-anchor="middle" fill="#000" textLength="7.08" lengthAdjust="spacingAndGlyphs" >−1</text>
<line x1="414.98" y1="112.4" x2="414.98" y2="114.4" stroke="#333333" stroke-width="0.7" />
<text x="414.98" y="119.83" font-size="4.8" text-anchor="middle" fill="#000" textLength="3.05" lengthAdjust="spacingAndGlyphs" >0</text>
<line x1="434.24" y1="112.4" x2="434.24" y2="114.4" stroke="#333333" stroke-width="0.7" />
<text x="434.24" y="119.83" font-size="4.8" text-anchor="middle" fill="#000" textLength="3.05" lengthAdjust="spacingAndGlyphs" >1</text>
<line x1="453.5" y1="112.4" x2="453.5" y2="114.4" stroke="#333333" stroke-width="0.7" />
<text x="453.5" y="119.83" font-size="4.8" text-anchor="middle" fill="#000" textLength="3.05" lengthAdjust="spacingAndGlyphs" >2</text>
<line x1="472.76" y1="112.4" x2="472.76" y2="114.4" stroke="#333333" stroke-width="0.7" />
<text x="472.76" y="119.83" font-size="4.8" text-anchor="middle" fill="#000" textLength="3.05" lengthAdjust="spacingAndGlyphs" >3</text>
<line x1="492.02" y1="112.4" x2="492.02" y2="114.4" stroke="#333333" stroke-width="0.7" />
<text x="492.02" y="119.83" font-size="4.8" text-anchor="middle" fill="#000" textLength="3.05" lengthAdjust="spacingAndGlyphs" >4</text>
<text transform="translate(199.1,96.55) rotate(-90)" x="0" y="1.8" font-size="5" text-anchor="middle" fill="#000" textLength="38.96" lengthAdjust="spacingAndGlyphs" >Neural Network</text>
<text transform="translate(352.6,96.55) rotate(-90)" x="0" y="1.8" font-size="5" text-anchor="middle" fill="#000" textLength="38.96" lengthAdjust="spacingAndGlyphs" >Neural Network</text>
<text x="191.4" y="79.82" font-size="5.9" text-anchor="middle" fill="#000" font-weight="bold" textLength="4.22" lengthAdjust="spacingAndGlyphs" >d</text>
<path d="M204,165.98 L204.48,165.98 L204.96,165.97 L205.44,165.97 L205.92,165.96 L206.4,165.96 L206.88,165.95 L207.36,165.95 L207.84,165.94 L208.32,165.93 L208.8,165.92 L209.28,165.91 L209.76,165.89 L210.24,165.88 L210.72,165.86 L211.2,165.84 L211.68,165.82 L212.16,165.8 L212.64,165.77 L213.12,165.74 L213.6,165.71 L214.08,165.67 L214.56,165.63 L215.04,165.59 L215.52,165.54 L216,165.48 L216.48,165.42 L216.96,165.35 L217.44,165.28 L217.92,165.2 L218.4,165.11 L218.88,165.01 L219.36,164.91 L219.84,164.79 L220.32,164.67 L220.8,164.53 L221.28,164.38 L221.76,164.22 L222.24,164.05 L222.72,163.87 L223.2,163.67 L223.68,163.45 L224.16,163.23 L224.64,162.98 L225.12,162.72 L225.6,162.44 L226.08,162.15 L226.56,161.83 L227.04,161.5 L227.52,161.15 L228,160.78 L228.48,160.39 L228.96,159.97 L229.44,159.54 L229.92,159.09 L230.4,158.62 L230.88,158.13 L231.36,157.61 L231.84,157.08 L232.32,156.52 L232.8,155.95 L233.28,155.35 L233.76,154.74 L234.24,154.11 L234.72,153.45 L235.2,152.78 L235.68,152.1 L236.16,151.39 L236.64,150.67 L237.12,149.94 L237.6,149.19 L238.08,148.42 L238.56,147.65 L239.04,146.87 L239.52,146.08 L240,145.28 L240.48,144.48 L240.96,143.68 L241.44,142.88 L241.92,142.08 L242.4,141.29 L242.88,140.52 L243.36,139.76 L243.84,139.02 L244.32,138.3 L244.8,137.61 L245.28,136.95 L245.76,136.33 L246.24,135.75 L246.72,135.22 L247.2,134.74 L247.68,134.3 L248.16,133.93 L248.64,133.61 L249.12,133.35 L249.6,133.15 L250.08,133.01 L250.56,132.94 L251.04,132.92 L251.52,132.96 L252,133.06 L252.48,133.21 L252.96,133.41 L253.44,133.66 L253.92,133.95 L254.4,134.28 L254.88,134.64 L255.36,135.03 L255.84,135.44 L256.32,135.87 L256.8,136.32 L257.28,136.78 L257.76,137.24 L258.24,137.71 L258.72,138.18 L259.2,138.64 L259.68,139.1 L260.16,139.55 L260.64,139.99 L261.12,140.41 L261.6,140.82 L262.08,141.22 L262.56,141.6 L263.04,141.96 L263.52,142.31 L264,142.64 L264.48,142.95 L264.96,143.25 L265.44,143.53 L265.92,143.79 L266.4,144.03 L266.88,144.26 L267.36,144.48 L267.84,144.68 L268.32,144.87 L268.8,145.04 L269.28,145.21 L269.76,145.36 L270.24,145.51 L270.72,145.65 L271.2,145.79 L271.68,145.92 L272.16,146.05 L272.64,146.17 L273.12,146.3 L273.6,146.43 L274.08,146.57 L274.56,146.7 L275.04,146.85 L275.52,147 L276,147.16 L276.48,147.33 L276.96,147.51 L277.44,147.7 L277.92,147.9 L278.4,148.12 L278.88,148.35 L279.36,148.59 L279.84,148.84 L280.32,149.11 L280.8,149.39 L281.28,149.69 L281.76,150 L282.24,150.32 L282.72,150.65 L283.2,150.99 L283.68,151.35 L284.16,151.71 L284.64,152.08 L285.12,152.46 L285.6,152.84 L286.08,153.23 L286.56,153.62 L287.04,154.01 L287.52,154.41 L288,154.8 L288.48,155.19 L288.96,155.58 L289.44,155.97 L289.92,156.34 L290.4,156.72 L290.88,157.08 L291.36,157.43 L291.84,157.78 L292.32,158.11 L292.8,158.44 L293.28,158.75 L293.76,159.04 L294.24,159.33 L294.72,159.6 L295.2,159.86 L295.68,160.1 L296.16,160.33 L296.64,160.55 L297.12,160.75 L297.6,160.94 L298.08,161.12 L298.56,161.29 L299.04,161.45 L299.52,161.59 L300,161.73 L300.48,161.86 L300.96,161.98 L301.44,162.1 L301.92,162.21 L302.4,162.31 L302.88,162.41 L303.36,162.51 L303.84,162.6 L304.32,162.69 L304.8,162.78 L305.28,162.88 L305.76,162.97 L306.24,163.06 L306.72,163.15 L307.2,163.24 L307.68,163.34 L308.16,163.43 L308.64,163.53 L309.12,163.63 L309.6,163.73 L310.08,163.83 L310.56,163.93 L311.04,164.03 L311.52,164.13 L312,164.23 L312.48,164.33 L312.96,164.42 L313.44,164.52 L313.92,164.62 L314.4,164.71 L314.88,164.8 L315.36,164.89 L315.84,164.97 L316.32,165.05 L316.8,165.13 L317.28,165.2 L317.76,165.27 L318.24,165.34 L318.72,165.4 L319.2,165.46 L319.68,165.51 L320.16,165.56 L320.64,165.61 L321.12,165.65 L321.6,165.69 L322.08,165.72 L322.56,165.76 L323.04,165.79 L323.52,165.81 L324,165.84 L324.48,165.86 L324.96,165.88 L325.44,165.89 L325.92,165.91 L326.4,165.92 L326.88,165.93 L327.36,165.94 L327.84,165.95 L328.32,165.96 L328.8,165.96 L329.28,165.97 L329.76,165.98 L330.24,165.98 L330.72,165.98 L331.2,165.99 L331.68,165.99 L332.16,165.99 L332.64,165.99 L333.12,165.99 L333.6,165.99 L334.08,166 L334.56,166 L335.04,166 L335.52,166 L336,166 L336.48,166 L336.96,166 L337.44,166 L337.92,166 L338.4,166 L338.4,166 L204,166 Z" fill="#78a8c0"/>
<path d="M357.2,165.98 L357.68,165.98 L358.16,165.97 L358.64,165.97 L359.13,165.96 L359.61,165.96 L360.09,165.95 L360.57,165.95 L361.05,165.94 L361.53,165.93 L362.01,165.92 L362.5,165.91 L362.98,165.89 L363.46,165.88 L363.94,165.86 L364.42,165.84 L364.9,165.82 L365.39,165.8 L365.87,165.77 L366.35,165.74 L366.83,165.71 L367.31,165.67 L367.79,165.63 L368.27,165.59 L368.76,165.54 L369.24,165.48 L369.72,165.42 L370.2,165.35 L370.68,165.28 L371.16,165.2 L371.64,165.11 L372.13,165.01 L372.61,164.91 L373.09,164.79 L373.57,164.67 L374.05,164.53 L374.53,164.38 L375.02,164.22 L375.5,164.05 L375.98,163.87 L376.46,163.67 L376.94,163.45 L377.42,163.23 L377.9,162.98 L378.39,162.72 L378.87,162.44 L379.35,162.15 L379.83,161.83 L380.31,161.5 L380.79,161.15 L381.27,160.78 L381.76,160.39 L382.24,159.97 L382.72,159.54 L383.2,159.09 L383.68,158.62 L384.16,158.13 L384.65,157.61 L385.13,157.08 L385.61,156.52 L386.09,155.95 L386.57,155.35 L387.05,154.74 L387.53,154.11 L388.02,153.45 L388.5,152.78 L388.98,152.1 L389.46,151.39 L389.94,150.67 L390.42,149.94 L390.9,149.19 L391.39,148.42 L391.87,147.65 L392.35,146.87 L392.83,146.08 L393.31,145.28 L393.79,144.48 L394.28,143.68 L394.76,142.88 L395.24,142.08 L395.72,141.29 L396.2,140.52 L396.68,139.76 L397.16,139.02 L397.65,138.3 L398.13,137.61 L398.61,136.95 L399.09,136.33 L399.57,135.75 L400.05,135.22 L400.53,134.74 L401.02,134.3 L401.5,133.93 L401.98,133.61 L402.46,133.35 L402.94,133.15 L403.42,133.01 L403.91,132.94 L404.39,132.92 L404.87,132.96 L405.35,133.06 L405.83,133.21 L406.31,133.41 L406.79,133.66 L407.28,133.95 L407.76,134.28 L408.24,134.64 L408.72,135.03 L409.2,135.44 L409.68,135.87 L410.16,136.32 L410.65,136.78 L411.13,137.24 L411.61,137.71 L412.09,138.18 L412.57,138.64 L413.05,139.1 L413.54,139.55 L414.02,139.99 L414.5,140.41 L414.98,140.82 L415.46,141.22 L415.94,141.6 L416.42,141.96 L416.91,142.31 L417.39,142.64 L417.87,142.95 L418.35,143.25 L418.83,143.53 L419.31,143.79 L419.8,144.03 L420.28,144.26 L420.76,144.48 L421.24,144.68 L421.72,144.87 L422.2,145.04 L422.68,145.21 L423.17,145.36 L423.65,145.51 L424.13,145.65 L424.61,145.79 L425.09,145.92 L425.57,146.05 L426.05,146.17 L426.54,146.3 L427.02,146.43 L427.5,146.57 L427.98,146.7 L428.46,146.85 L428.94,147 L429.43,147.16 L429.91,147.33 L430.39,147.51 L430.87,147.7 L431.35,147.9 L431.83,148.12 L432.31,148.35 L432.8,148.59 L433.28,148.84 L433.76,149.11 L434.24,149.39 L434.72,149.69 L435.2,150 L435.68,150.32 L436.17,150.65 L436.65,150.99 L437.13,151.35 L437.61,151.71 L438.09,152.08 L438.57,152.46 L439.06,152.84 L439.54,153.23 L440.02,153.62 L440.5,154.01 L440.98,154.41 L441.46,154.8 L441.94,155.19 L442.43,155.58 L442.91,155.97 L443.39,156.34 L443.87,156.72 L444.35,157.08 L444.83,157.43 L445.31,157.78 L445.8,158.11 L446.28,158.44 L446.76,158.75 L447.24,159.04 L447.72,159.33 L448.2,159.6 L448.69,159.86 L449.17,160.1 L449.65,160.33 L450.13,160.55 L450.61,160.75 L451.09,160.94 L451.57,161.12 L452.06,161.29 L452.54,161.45 L453.02,161.59 L453.5,161.73 L453.98,161.86 L454.46,161.98 L454.94,162.1 L455.43,162.21 L455.91,162.31 L456.39,162.41 L456.87,162.51 L457.35,162.6 L457.83,162.69 L458.31,162.78 L458.8,162.88 L459.28,162.97 L459.76,163.06 L460.24,163.15 L460.72,163.24 L461.2,163.34 L461.69,163.43 L462.17,163.53 L462.65,163.63 L463.13,163.73 L463.61,163.83 L464.09,163.93 L464.57,164.03 L465.06,164.13 L465.54,164.23 L466.02,164.33 L466.5,164.42 L466.98,164.52 L467.46,164.62 L467.94,164.71 L468.43,164.8 L468.91,164.89 L469.39,164.97 L469.87,165.05 L470.35,165.13 L470.83,165.2 L471.32,165.27 L471.8,165.34 L472.28,165.4 L472.76,165.46 L473.24,165.51 L473.72,165.56 L474.2,165.61 L474.69,165.65 L475.17,165.69 L475.65,165.72 L476.13,165.76 L476.61,165.79 L477.09,165.81 L477.57,165.84 L478.06,165.86 L478.54,165.88 L479.02,165.89 L479.5,165.91 L479.98,165.92 L480.46,165.93 L480.95,165.94 L481.43,165.95 L481.91,165.96 L482.39,165.96 L482.87,165.97 L483.35,165.98 L483.83,165.98 L484.32,165.98 L484.8,165.99 L485.28,165.99 L485.76,165.99 L486.24,165.99 L486.72,165.99 L487.21,165.99 L487.69,166 L488.17,166 L488.65,166 L489.13,166 L489.61,166 L490.09,166 L490.58,166 L491.06,166 L491.54,166 L492.02,166 L492.02,166 L357.2,166 Z" fill="#e7f0f3"/>
<path d="M357.2,166 L357.68,166 L358.16,166 L358.64,166 L359.13,166 L359.61,166 L360.09,166 L360.57,166 L361.05,166 L361.53,166 L362.01,166 L362.5,166 L362.98,166 L363.46,166 L363.94,166 L364.42,166 L364.9,166 L365.39,166 L365.87,166 L366.35,166 L366.83,166 L367.31,166 L367.79,166 L368.27,166 L368.76,166 L369.24,166 L369.72,166 L370.2,166 L370.68,166 L371.16,166 L371.64,165.99 L372.13,165.99 L372.61,165.99 L373.09,165.99 L373.57,165.99 L374.05,165.99 L374.53,165.98 L375.02,165.98 L375.5,165.98 L375.98,165.97 L376.46,165.97 L376.94,165.96 L377.42,165.96 L377.9,165.95 L378.39,165.95 L378.87,165.94 L379.35,165.93 L379.83,165.92 L380.31,165.91 L380.79,165.89 L381.27,165.88 L381.76,165.87 L382.24,165.85 L382.72,165.83 L383.2,165.82 L383.68,165.8 L384.16,165.78 L384.65,165.75 L385.13,165.73 L385.61,165.71 L386.09,165.68 L386.57,165.66 L387.05,165.63 L387.53,165.61 L388.02,165.58 L388.5,165.56 L388.98,165.53 L389.46,165.5 L389.94,165.48 L390.42,165.46 L390.9,165.43 L391.39,165.41 L391.87,165.39 L392.35,165.37 L392.83,165.36 L393.31,165.34 L393.79,165.33 L394.28,165.32 L394.76,165.32 L395.24,165.31 L395.72,165.31 L396.2,165.31 L396.68,165.32 L397.16,165.32 L397.65,165.33 L398.13,165.34 L398.61,165.36 L399.09,165.37 L399.57,165.39 L400.05,165.41 L400.53,165.43 L401.02,165.46 L401.5,165.48 L401.98,165.5 L402.46,165.53 L402.94,165.56 L403.42,165.58 L403.91,165.61 L404.39,165.63 L404.87,165.66 L405.35,165.68 L405.83,165.71 L406.31,165.73 L406.79,165.75 L407.28,165.78 L407.76,165.8 L408.24,165.82 L408.72,165.83 L409.2,165.85 L409.68,165.87 L410.16,165.88 L410.65,165.89 L411.13,165.91 L411.61,165.92 L412.09,165.93 L412.57,165.94 L413.05,165.95 L413.54,165.95 L414.02,165.96 L414.5,165.96 L414.98,165.97 L415.46,165.97 L415.94,165.98 L416.42,165.98 L416.91,165.98 L417.39,165.99 L417.87,165.99 L418.35,165.99 L418.83,165.99 L419.31,165.99 L419.8,165.99 L420.28,166 L420.76,166 L421.24,166 L421.72,166 L422.2,166 L422.68,166 L423.17,166 L423.65,166 L424.13,166 L424.61,166 L425.09,166 L425.57,166 L426.05,166 L426.54,166 L427.02,166 L427.5,166 L427.98,166 L428.46,166 L428.94,166 L429.43,166 L429.91,166 L430.39,166 L430.87,166 L431.35,166 L431.83,166 L432.31,166 L432.8,166 L433.28,166 L433.76,166 L434.24,166 L434.72,166 L435.2,166 L435.68,166 L436.17,166 L436.65,166 L437.13,166 L437.61,166 L438.09,166 L438.57,166 L439.06,166 L439.54,166 L440.02,166 L440.5,166 L440.98,166 L441.46,166 L441.94,166 L442.43,166 L442.91,166 L443.39,166 L443.87,166 L444.35,166 L444.83,166 L445.31,166 L445.8,166 L446.28,166 L446.76,166 L447.24,166 L447.72,166 L448.2,166 L448.69,166 L449.17,166 L449.65,166 L450.13,166 L450.61,166 L451.09,166 L451.57,166 L452.06,166 L452.54,166 L453.02,166 L453.5,166 L453.98,166 L454.46,166 L454.94,166 L455.43,166 L455.91,166 L456.39,166 L456.87,166 L457.35,166 L457.83,166 L458.31,166 L458.8,166 L459.28,166 L459.76,166 L460.24,166 L460.72,166 L461.2,166 L461.69,166 L462.17,166 L462.65,166 L463.13,166 L463.61,166 L464.09,166 L464.57,166 L465.06,166 L465.54,166 L466.02,166 L466.5,166 L466.98,166 L467.46,166 L467.94,166 L468.43,166 L468.91,166 L469.39,166 L469.87,166 L470.35,166 L470.83,166 L471.32,166 L471.8,166 L472.28,166 L472.76,166 L473.24,166 L473.72,166 L474.2,166 L474.69,166 L475.17,166 L475.65,166 L476.13,166 L476.61,166 L477.09,166 L477.57,166 L478.06,166 L478.54,166 L479.02,166 L479.5,166 L479.98,166 L480.46,166 L480.95,166 L481.43,166 L481.91,166 L482.39,166 L482.87,166 L483.35,166 L483.83,166 L484.32,166 L484.8,166 L485.28,166 L485.76,166 L486.24,166 L486.72,166 L487.21,166 L487.69,166 L488.17,166 L488.65,166 L489.13,166 L489.61,166 L490.09,166 L490.58,166 L491.06,166 L491.54,166 L492.02,166 L492.02,166 L357.2,166 Z" fill="#4c72b0" fill-opacity="0.3" stroke="#4c72b0" stroke-opacity="0.4" stroke-width="0.5"/>
<path d="M357.2,166 L357.68,166 L358.16,166 L358.64,166 L359.13,166 L359.61,166 L360.09,166 L360.57,166 L361.05,166 L361.53,166 L362.01,166 L362.5,166 L362.98,166 L363.46,165.99 L363.94,165.99 L364.42,165.99 L364.9,165.99 L365.39,165.99 L365.87,165.99 L366.35,165.98 L366.83,165.98 L367.31,165.97 L367.79,165.97 L368.27,165.96 L368.76,165.96 L369.24,165.95 L369.72,165.94 L370.2,165.93 L370.68,165.92 L371.16,165.9 L371.64,165.89 L372.13,165.87 L372.61,165.85 L373.09,165.82 L373.57,165.8 L374.05,165.77 L374.53,165.73 L375.02,165.7 L375.5,165.66 L375.98,165.61 L376.46,165.56 L376.94,165.51 L377.42,165.45 L377.9,165.38 L378.39,165.31 L378.87,165.23 L379.35,165.15 L379.83,165.06 L380.31,164.96 L380.79,164.86 L381.27,164.75 L381.76,164.64 L382.24,164.52 L382.72,164.39 L383.2,164.26 L383.68,164.13 L384.16,163.99 L384.65,163.85 L385.13,163.7 L385.61,163.55 L386.09,163.4 L386.57,163.25 L387.05,163.1 L387.53,162.95 L388.02,162.8 L388.5,162.66 L388.98,162.52 L389.46,162.38 L389.94,162.25 L390.42,162.13 L390.9,162.02 L391.39,161.92 L391.87,161.82 L392.35,161.74 L392.83,161.67 L393.31,161.61 L393.79,161.57 L394.28,161.54 L394.76,161.52 L395.24,161.52 L395.72,161.52 L396.2,161.55 L396.68,161.59 L397.16,161.64 L397.65,161.7 L398.13,161.77 L398.61,161.86 L399.09,161.96 L399.57,162.06 L400.05,162.18 L400.53,162.3 L401.02,162.44 L401.5,162.57 L401.98,162.71 L402.46,162.86 L402.94,163.01 L403.42,163.16 L403.91,163.31 L404.39,163.46 L404.87,163.61 L405.35,163.76 L405.83,163.9 L406.31,164.05 L406.79,164.18 L407.28,164.32 L407.76,164.45 L408.24,164.57 L408.72,164.69 L409.2,164.8 L409.68,164.9 L410.16,165 L410.65,165.09 L411.13,165.18 L411.61,165.26 L412.09,165.34 L412.57,165.41 L413.05,165.47 L413.54,165.53 L414.02,165.58 L414.5,165.63 L414.98,165.67 L415.46,165.71 L415.94,165.75 L416.42,165.78 L416.91,165.81 L417.39,165.83 L417.87,165.86 L418.35,165.88 L418.83,165.89 L419.31,165.91 L419.8,165.92 L420.28,165.93 L420.76,165.94 L421.24,165.95 L421.72,165.96 L422.2,165.97 L422.68,165.97 L423.17,165.98 L423.65,165.98 L424.13,165.98 L424.61,165.99 L425.09,165.99 L425.57,165.99 L426.05,165.99 L426.54,165.99 L427.02,165.99 L427.5,166 L427.98,166 L428.46,166 L428.94,166 L429.43,166 L429.91,166 L430.39,166 L430.87,166 L431.35,166 L431.83,166 L432.31,166 L432.8,166 L433.28,166 L433.76,166 L434.24,166 L434.72,166 L435.2,166 L435.68,166 L436.17,166 L436.65,166 L437.13,166 L437.61,166 L438.09,166 L438.57,166 L439.06,166 L439.54,166 L440.02,166 L440.5,166 L440.98,166 L441.46,166 L441.94,166 L442.43,166 L442.91,166 L443.39,166 L443.87,166 L444.35,166 L444.83,166 L445.31,166 L445.8,166 L446.28,166 L446.76,166 L447.24,166 L447.72,166 L448.2,166 L448.69,166 L449.17,166 L449.65,166 L450.13,166 L450.61,166 L451.09,166 L451.57,166 L452.06,166 L452.54,166 L453.02,166 L453.5,166 L453.98,166 L454.46,166 L454.94,166 L455.43,166 L455.91,166 L456.39,166 L456.87,166 L457.35,166 L457.83,166 L458.31,166 L458.8,166 L459.28,166 L459.76,166 L460.24,166 L460.72,166 L461.2,166 L461.69,166 L462.17,166 L462.65,166 L463.13,166 L463.61,166 L464.09,166 L464.57,166 L465.06,166 L465.54,166 L466.02,166 L466.5,166 L466.98,166 L467.46,166 L467.94,166 L468.43,166 L468.91,166 L469.39,166 L469.87,166 L470.35,166 L470.83,166 L471.32,166 L471.8,166 L472.28,166 L472.76,166 L473.24,166 L473.72,166 L474.2,166 L474.69,166 L475.17,166 L475.65,166 L476.13,166 L476.61,166 L477.09,166 L477.57,166 L478.06,166 L478.54,166 L479.02,166 L479.5,166 L479.98,166 L480.46,166 L480.95,166 L481.43,166 L481.91,166 L482.39,166 L482.87,166 L483.35,166 L483.83,166 L484.32,166 L484.8,166 L485.28,166 L485.76,166 L486.24,166 L486.72,166 L487.21,166 L487.69,166 L488.17,166 L488.65,166 L489.13,166 L489.61,166 L490.09,166 L490.58,166 L491.06,166 L491.54,166 L492.02,166 L492.02,166 L357.2,166 Z" fill="#dd8452" fill-opacity="0.3" stroke="#dd8452" stroke-opacity="0.4" stroke-width="0.5"/>
<path d="M357.2,166 L357.68,166 L358.16,166 L358.64,166 L359.13,166 L359.61,166 L360.09,166 L360.57,166 L361.05,166 L361.53,166 L362.01,166 L362.5,166 L362.98,166 L363.46,166 L363.94,166 L364.42,166 L364.9,166 L365.39,166 L365.87,166 L366.35,166 L366.83,166 L367.31,166 L367.79,166 L368.27,166 L368.76,166 L369.24,166 L369.72,166 L370.2,166 L370.68,166 L371.16,166 L371.64,166 L372.13,166 L372.61,166 L373.09,166 L373.57,166 L374.05,166 L374.53,166 L375.02,166 L375.5,166 L375.98,166 L376.46,166 L376.94,166 L377.42,166 L377.9,166 L378.39,166 L378.87,166 L379.35,166 L379.83,166 L380.31,166 L380.79,166 L381.27,166 L381.76,166 L382.24,166 L382.72,166 L383.2,166 L383.68,166 L384.16,166 L384.65,166 L385.13,166 L385.61,166 L386.09,166 L386.57,166 L387.05,166 L387.53,166 L388.02,166 L388.5,166 L388.98,166 L389.46,166 L389.94,166 L390.42,166 L390.9,166 L391.39,166 L391.87,166 L392.35,166 L392.83,166 L393.31,166 L393.79,166 L394.28,166 L394.76,166 L395.24,166 L395.72,166 L396.2,166 L396.68,166 L397.16,166 L397.65,166 L398.13,166 L398.61,166 L399.09,166 L399.57,166 L400.05,166 L400.53,166 L401.02,166 L401.5,166 L401.98,166 L402.46,166 L402.94,166 L403.42,166 L403.91,166 L404.39,166 L404.87,166 L405.35,166 L405.83,166 L406.31,166 L406.79,166 L407.28,166 L407.76,166 L408.24,166 L408.72,166 L409.2,166 L409.68,166 L410.16,165.99 L410.65,165.99 L411.13,165.99 L411.61,165.99 L412.09,165.99 L412.57,165.99 L413.05,165.98 L413.54,165.98 L414.02,165.98 L414.5,165.97 L414.98,165.97 L415.46,165.96 L415.94,165.96 L416.42,165.95 L416.91,165.95 L417.39,165.94 L417.87,165.93 L418.35,165.92 L418.83,165.91 L419.31,165.89 L419.8,165.88 L420.28,165.87 L420.76,165.85 L421.24,165.83 L421.72,165.82 L422.2,165.8 L422.68,165.78 L423.17,165.75 L423.65,165.73 L424.13,165.71 L424.61,165.68 L425.09,165.66 L425.57,165.63 L426.05,165.61 L426.54,165.58 L427.02,165.56 L427.5,165.53 L427.98,165.5 L428.46,165.48 L428.94,165.46 L429.43,165.43 L429.91,165.41 L430.39,165.39 L430.87,165.37 L431.35,165.36 L431.83,165.34 L432.31,165.33 L432.8,165.32 L433.28,165.32 L433.76,165.31 L434.24,165.31 L434.72,165.31 L435.2,165.32 L435.68,165.32 L436.17,165.33 L436.65,165.34 L437.13,165.36 L437.61,165.37 L438.09,165.39 L438.57,165.41 L439.06,165.43 L439.54,165.46 L440.02,165.48 L440.5,165.5 L440.98,165.53 L441.46,165.56 L441.94,165.58 L442.43,165.61 L442.91,165.63 L443.39,165.66 L443.87,165.68 L444.35,165.71 L444.83,165.73 L445.31,165.75 L445.8,165.78 L446.28,165.8 L446.76,165.82 L447.24,165.83 L447.72,165.85 L448.2,165.87 L448.69,165.88 L449.17,165.89 L449.65,165.91 L450.13,165.92 L450.61,165.93 L451.09,165.94 L451.57,165.95 L452.06,165.95 L452.54,165.96 L453.02,165.96 L453.5,165.97 L453.98,165.97 L454.46,165.98 L454.94,165.98 L455.43,165.98 L455.91,165.99 L456.39,165.99 L456.87,165.99 L457.35,165.99 L457.83,165.99 L458.31,165.99 L458.8,166 L459.28,166 L459.76,166 L460.24,166 L460.72,166 L461.2,166 L461.69,166 L462.17,166 L462.65,166 L463.13,166 L463.61,166 L464.09,166 L464.57,166 L465.06,166 L465.54,166 L466.02,166 L466.5,166 L466.98,166 L467.46,166 L467.94,166 L468.43,166 L468.91,166 L469.39,166 L469.87,166 L470.35,166 L470.83,166 L471.32,166 L471.8,166 L472.28,166 L472.76,166 L473.24,166 L473.72,166 L474.2,166 L474.69,166 L475.17,166 L475.65,166 L476.13,166 L476.61,166 L477.09,166 L477.57,166 L478.06,166 L478.54,166 L479.02,166 L479.5,166 L479.98,166 L480.46,166 L480.95,166 L481.43,166 L481.91,166 L482.39,166 L482.87,166 L483.35,166 L483.83,166 L484.32,166 L484.8,166 L485.28,166 L485.76,166 L486.24,166 L486.72,166 L487.21,166 L487.69,166 L488.17,166 L488.65,166 L489.13,166 L489.61,166 L490.09,166 L490.58,166 L491.06,166 L491.54,166 L492.02,166 L492.02,166 L357.2,166 Z" fill="#55a868" fill-opacity="0.3" stroke="#55a868" stroke-opacity="0.4" stroke-width="0.5"/>
<path d="M357.2,166 L357.68,166 L358.16,166 L358.64,166 L359.13,166 L359.61,166 L360.09,166 L360.57,166 L361.05,166 L361.53,166 L362.01,166 L362.5,166 L362.98,166 L363.46,166 L363.94,166 L364.42,166 L364.9,166 L365.39,166 L365.87,166 L366.35,166 L366.83,166 L367.31,166 L367.79,166 L368.27,166 L368.76,166 L369.24,166 L369.72,166 L370.2,166 L370.68,166 L371.16,166 L371.64,166 L372.13,166 L372.61,166 L373.09,166 L373.57,166 L374.05,166 L374.53,166 L375.02,166 L375.5,166 L375.98,166 L376.46,166 L376.94,166 L377.42,166 L377.9,166 L378.39,166 L378.87,166 L379.35,166 L379.83,166 L380.31,166 L380.79,166 L381.27,166 L381.76,166 L382.24,166 L382.72,166 L383.2,166 L383.68,166 L384.16,166 L384.65,166 L385.13,166 L385.61,166 L386.09,166 L386.57,166 L387.05,166 L387.53,166 L388.02,166 L388.5,166 L388.98,166 L389.46,166 L389.94,166 L390.42,166 L390.9,166 L391.39,166 L391.87,166 L392.35,166 L392.83,166 L393.31,166 L393.79,166 L394.28,166 L394.76,166 L395.24,166 L395.72,166 L396.2,166 L396.68,166 L397.16,166 L397.65,166 L398.13,166 L398.61,166 L399.09,166 L399.57,166 L400.05,166 L400.53,166 L401.02,166 L401.5,166 L401.98,166 L402.46,166 L402.94,166 L403.42,166 L403.91,166 L404.39,166 L404.87,166 L405.35,166 L405.83,166 L406.31,166 L406.79,166 L407.28,166 L407.76,166 L408.24,166 L408.72,166 L409.2,166 L409.68,166 L410.16,166 L410.65,166 L411.13,166 L411.61,166 L412.09,166 L412.57,166 L413.05,166 L413.54,166 L414.02,166 L414.5,166 L414.98,166 L415.46,166 L415.94,166 L416.42,166 L416.91,166 L417.39,166 L417.87,166 L418.35,166 L418.83,166 L419.31,166 L419.8,166 L420.28,166 L420.76,165.99 L421.24,165.99 L421.72,165.99 L422.2,165.99 L422.68,165.99 L423.17,165.99 L423.65,165.99 L424.13,165.98 L424.61,165.98 L425.09,165.98 L425.57,165.97 L426.05,165.97 L426.54,165.97 L427.02,165.96 L427.5,165.95 L427.98,165.95 L428.46,165.94 L428.94,165.93 L429.43,165.92 L429.91,165.91 L430.39,165.9 L430.87,165.89 L431.35,165.88 L431.83,165.86 L432.31,165.85 L432.8,165.83 L433.28,165.81 L433.76,165.79 L434.24,165.77 L434.72,165.74 L435.2,165.72 L435.68,165.69 L436.17,165.66 L436.65,165.63 L437.13,165.59 L437.61,165.56 L438.09,165.52 L438.57,165.48 L439.06,165.44 L439.54,165.4 L440.02,165.35 L440.5,165.31 L440.98,165.26 L441.46,165.21 L441.94,165.16 L442.43,165.11 L442.91,165.06 L443.39,165.01 L443.87,164.95 L444.35,164.9 L444.83,164.85 L445.31,164.8 L445.8,164.75 L446.28,164.7 L446.76,164.65 L447.24,164.6 L447.72,164.56 L448.2,164.52 L448.69,164.48 L449.17,164.44 L449.65,164.41 L450.13,164.38 L450.61,164.35 L451.09,164.33 L451.57,164.31 L452.06,164.29 L452.54,164.28 L453.02,164.28 L453.5,164.28 L453.98,164.28 L454.46,164.28 L454.94,164.29 L455.43,164.31 L455.91,164.33 L456.39,164.35 L456.87,164.38 L457.35,164.41 L457.83,164.44 L458.31,164.48 L458.8,164.52 L459.28,164.56 L459.76,164.6 L460.24,164.65 L460.72,164.7 L461.2,164.75 L461.69,164.8 L462.17,164.85 L462.65,164.9 L463.13,164.95 L463.61,165.01 L464.09,165.06 L464.57,165.11 L465.06,165.16 L465.54,165.21 L466.02,165.26 L466.5,165.31 L466.98,165.35 L467.46,165.4 L467.94,165.44 L468.43,165.48 L468.91,165.52 L469.39,165.56 L469.87,165.59 L470.35,165.63 L470.83,165.66 L471.32,165.69 L471.8,165.72 L472.28,165.74 L472.76,165.77 L473.24,165.79 L473.72,165.81 L474.2,165.83 L474.69,165.85 L475.17,165.86 L475.65,165.88 L476.13,165.89 L476.61,165.9 L477.09,165.91 L477.57,165.92 L478.06,165.93 L478.54,165.94 L479.02,165.95 L479.5,165.95 L479.98,165.96 L480.46,165.97 L480.95,165.97 L481.43,165.97 L481.91,165.98 L482.39,165.98 L482.87,165.98 L483.35,165.99 L483.83,165.99 L484.32,165.99 L484.8,165.99 L485.28,165.99 L485.76,165.99 L486.24,165.99 L486.72,166 L487.21,166 L487.69,166 L488.17,166 L488.65,166 L489.13,166 L489.61,166 L490.09,166 L490.58,166 L491.06,166 L491.54,166 L492.02,166 L492.02,166 L357.2,166 Z" fill="#937860" fill-opacity="0.3" stroke="#937860" stroke-opacity="0.4" stroke-width="0.5"/>
<path d="M357.2,166 L357.68,166 L358.16,166 L358.64,166 L359.13,166 L359.61,166 L360.09,166 L360.57,166 L361.05,166 L361.53,166 L362.01,166 L362.5,166 L362.98,166 L363.46,166 L363.94,166 L364.42,166 L364.9,166 L365.39,166 L365.87,166 L366.35,166 L366.83,166 L367.31,166 L367.79,166 L368.27,166 L368.76,166 L369.24,166 L369.72,166 L370.2,166 L370.68,166 L371.16,166 L371.64,166 L372.13,166 L372.61,166 L373.09,166 L373.57,166 L374.05,166 L374.53,166 L375.02,166 L375.5,166 L375.98,166 L376.46,166 L376.94,166 L377.42,166 L377.9,166 L378.39,166 L378.87,166 L379.35,165.99 L379.83,165.99 L380.31,165.99 L380.79,165.99 L381.27,165.99 L381.76,165.99 L382.24,165.99 L382.72,165.99 L383.2,165.98 L383.68,165.98 L384.16,165.98 L384.65,165.98 L385.13,165.97 L385.61,165.97 L386.09,165.96 L386.57,165.96 L387.05,165.95 L387.53,165.95 L388.02,165.94 L388.5,165.93 L388.98,165.93 L389.46,165.92 L389.94,165.91 L390.42,165.9 L390.9,165.88 L391.39,165.87 L391.87,165.85 L392.35,165.84 L392.83,165.82 L393.31,165.8 L393.79,165.78 L394.28,165.75 L394.76,165.73 L395.24,165.7 L395.72,165.67 L396.2,165.63 L396.68,165.59 L397.16,165.55 L397.65,165.51 L398.13,165.46 L398.61,165.41 L399.09,165.35 L399.57,165.29 L400.05,165.22 L400.53,165.15 L401.02,165.07 L401.5,164.99 L401.98,164.9 L402.46,164.81 L402.94,164.71 L403.42,164.6 L403.91,164.49 L404.39,164.37 L404.87,164.24 L405.35,164.1 L405.83,163.96 L406.31,163.81 L406.79,163.64 L407.28,163.47 L407.76,163.3 L408.24,163.11 L408.72,162.91 L409.2,162.71 L409.68,162.49 L410.16,162.27 L410.65,162.04 L411.13,161.79 L411.61,161.54 L412.09,161.28 L412.57,161.01 L413.05,160.74 L413.54,160.45 L414.02,160.16 L414.5,159.85 L414.98,159.54 L415.46,159.23 L415.94,158.9 L416.42,158.58 L416.91,158.24 L417.39,157.9 L417.87,157.56 L418.35,157.21 L418.83,156.87 L419.31,156.52 L419.8,156.17 L420.28,155.81 L420.76,155.46 L421.24,155.12 L421.72,154.77 L422.2,154.43 L422.68,154.09 L423.17,153.76 L423.65,153.44 L424.13,153.12 L424.61,152.81 L425.09,152.51 L425.57,152.23 L426.05,151.95 L426.54,151.69 L427.02,151.44 L427.5,151.21 L427.98,150.99 L428.46,150.79 L428.94,150.6 L429.43,150.43 L429.91,150.28 L430.39,150.15 L430.87,150.04 L431.35,149.95 L431.83,149.88 L432.31,149.83 L432.8,149.8 L433.28,149.78 L433.76,149.8 L434.24,149.85 L434.72,149.94 L435.2,150.05 L435.68,150.2 L436.17,150.38 L436.65,150.59 L437.13,150.82 L437.61,151.09 L438.09,151.38 L438.57,151.69 L439.06,152.03 L439.54,152.38 L440.02,152.76 L440.5,153.15 L440.98,153.55 L441.46,153.97 L441.94,154.4 L442.43,154.83 L442.91,155.27 L443.39,155.72 L443.87,156.17 L444.35,156.61 L444.83,157.06 L445.31,157.5 L445.8,157.93 L446.28,158.36 L446.76,158.79 L447.24,159.2 L447.72,159.6 L448.2,159.99 L448.69,160.37 L449.17,160.74 L449.65,161.09 L450.13,161.43 L450.61,161.75 L451.09,162.06 L451.57,162.35 L452.06,162.63 L452.54,162.89 L453.02,163.14 L453.5,163.38 L453.98,163.6 L454.46,163.81 L454.94,164 L455.43,164.18 L455.91,164.34 L456.39,164.5 L456.87,164.64 L457.35,164.77 L457.83,164.9 L458.31,165.01 L458.8,165.11 L459.28,165.2 L459.76,165.29 L460.24,165.36 L460.72,165.43 L461.2,165.5 L461.69,165.56 L462.17,165.61 L462.65,165.65 L463.13,165.69 L463.61,165.73 L464.09,165.76 L464.57,165.79 L465.06,165.82 L465.54,165.84 L466.02,165.86 L466.5,165.88 L466.98,165.9 L467.46,165.91 L467.94,165.92 L468.43,165.93 L468.91,165.94 L469.39,165.95 L469.87,165.96 L470.35,165.96 L470.83,165.97 L471.32,165.97 L471.8,165.98 L472.28,165.98 L472.76,165.98 L473.24,165.99 L473.72,165.99 L474.2,165.99 L474.69,165.99 L475.17,165.99 L475.65,165.99 L476.13,166 L476.61,166 L477.09,166 L477.57,166 L478.06,166 L478.54,166 L479.02,166 L479.5,166 L479.98,166 L480.46,166 L480.95,166 L481.43,166 L481.91,166 L482.39,166 L482.87,166 L483.35,166 L483.83,166 L484.32,166 L484.8,166 L485.28,166 L485.76,166 L486.24,166 L486.72,166 L487.21,166 L487.69,166 L488.17,166 L488.65,166 L489.13,166 L489.61,166 L490.09,166 L490.58,166 L491.06,166 L491.54,166 L492.02,166 L492.02,166 L357.2,166 Z" fill="#8172b3" fill-opacity="0.3" stroke="#8172b3" stroke-opacity="0.4" stroke-width="0.5"/>
<path d="M357.2,166 L357.68,166 L358.16,166 L358.64,165.99 L359.13,165.99 L359.61,165.99 L360.09,165.99 L360.57,165.99 L361.05,165.99 L361.53,165.98 L362.01,165.98 L362.5,165.98 L362.98,165.97 L363.46,165.97 L363.94,165.96 L364.42,165.96 L364.9,165.95 L365.39,165.94 L365.87,165.93 L366.35,165.92 L366.83,165.91 L367.31,165.89 L367.79,165.87 L368.27,165.85 L368.76,165.83 L369.24,165.81 L369.72,165.78 L370.2,165.75 L370.68,165.71 L371.16,165.67 L371.64,165.62 L372.13,165.57 L372.61,165.51 L373.09,165.45 L373.57,165.38 L374.05,165.3 L374.53,165.21 L375.02,165.11 L375.5,165 L375.98,164.89 L376.46,164.75 L376.94,164.61 L377.42,164.45 L377.9,164.28 L378.39,164.1 L378.87,163.89 L379.35,163.67 L379.83,163.43 L380.31,163.18 L380.79,162.9 L381.27,162.6 L381.76,162.28 L382.24,161.94 L382.72,161.57 L383.2,161.19 L383.68,160.77 L384.16,160.34 L384.65,159.88 L385.13,159.39 L385.61,158.88 L386.09,158.34 L386.57,157.78 L387.05,157.2 L387.53,156.59 L388.02,155.96 L388.5,155.31 L388.98,154.64 L389.46,153.95 L389.94,153.24 L390.42,152.51 L390.9,151.77 L391.39,151.03 L391.87,150.27 L392.35,149.5 L392.83,148.73 L393.31,147.96 L393.79,147.19 L394.28,146.43 L394.76,145.67 L395.24,144.93 L395.72,144.2 L396.2,143.48 L396.68,142.79 L397.16,142.13 L397.65,141.49 L398.13,140.89 L398.61,140.31 L399.09,139.78 L399.57,139.29 L400.05,138.83 L400.53,138.43 L401.02,138.07 L401.5,137.76 L401.98,137.51 L402.46,137.3 L402.94,137.15 L403.42,137.06 L403.91,137.02 L404.39,137.04 L404.87,137.11 L405.35,137.24 L405.83,137.42 L406.31,137.66 L406.79,137.94 L407.28,138.28 L407.76,138.67 L408.24,139.1 L408.72,139.58 L409.2,140.1 L409.68,140.65 L410.16,141.25 L410.65,141.87 L411.13,142.53 L411.61,143.21 L412.09,143.91 L412.57,144.63 L413.05,145.37 L413.54,146.12 L414.02,146.88 L414.5,147.65 L414.98,148.42 L415.46,149.19 L415.94,149.96 L416.42,150.72 L416.91,151.48 L417.39,152.22 L417.87,152.95 L418.35,153.66 L418.83,154.36 L419.31,155.04 L419.8,155.7 L420.28,156.34 L420.76,156.96 L421.24,157.55 L421.72,158.12 L422.2,158.67 L422.68,159.19 L423.17,159.68 L423.65,160.16 L424.13,160.6 L424.61,161.02 L425.09,161.42 L425.57,161.8 L426.05,162.15 L426.54,162.47 L427.02,162.78 L427.5,163.07 L427.98,163.33 L428.46,163.58 L428.94,163.81 L429.43,164.02 L429.91,164.21 L430.39,164.39 L430.87,164.55 L431.35,164.7 L431.83,164.83 L432.31,164.96 L432.8,165.07 L433.28,165.17 L433.76,165.26 L434.24,165.35 L434.72,165.42 L435.2,165.49 L435.68,165.55 L436.17,165.6 L436.65,165.65 L437.13,165.69 L437.61,165.73 L438.09,165.77 L438.57,165.8 L439.06,165.82 L439.54,165.85 L440.02,165.87 L440.5,165.88 L440.98,165.9 L441.46,165.91 L441.94,165.93 L442.43,165.94 L442.91,165.95 L443.39,165.95 L443.87,165.96 L444.35,165.97 L444.83,165.97 L445.31,165.98 L445.8,165.98 L446.28,165.98 L446.76,165.99 L447.24,165.99 L447.72,165.99 L448.2,165.99 L448.69,165.99 L449.17,165.99 L449.65,165.99 L450.13,166 L450.61,166 L451.09,166 L451.57,166 L452.06,166 L452.54,166 L453.02,166 L453.5,166 L453.98,166 L454.46,166 L454.94,166 L455.43,166 L455.91,166 L456.39,166 L456.87,166 L457.35,166 L457.83,166 L458.31,166 L458.8,166 L459.28,166 L459.76,166 L460.24,166 L460.72,166 L461.2,166 L461.69,166 L462.17,166 L462.65,166 L463.13,166 L463.61,166 L464.09,166 L464.57,166 L465.06,166 L465.54,166 L466.02,166 L466.5,166 L466.98,166 L467.46,166 L467.94,166 L468.43,166 L468.91,166 L469.39,166 L469.87,166 L470.35,166 L470.83,166 L471.32,166 L471.8,166 L472.28,166 L472.76,166 L473.24,166 L473.72,166 L474.2,166 L474.69,166 L475.17,166 L475.65,166 L476.13,166 L476.61,166 L477.09,166 L477.57,166 L478.06,166 L478.54,166 L479.02,166 L479.5,166 L479.98,166 L480.46,166 L480.95,166 L481.43,166 L481.91,166 L482.39,166 L482.87,166 L483.35,166 L483.83,166 L484.32,166 L484.8,166 L485.28,166 L485.76,166 L486.24,166 L486.72,166 L487.21,166 L487.69,166 L488.17,166 L488.65,166 L489.13,166 L489.61,166 L490.09,166 L490.58,166 L491.06,166 L491.54,166 L492.02,166 L492.02,166 L357.2,166 Z" fill="#c44e52" fill-opacity="0.3" stroke="#c44e52" stroke-opacity="0.4" stroke-width="0.5"/>
<path d="M357.2,165.98 L357.68,165.98 L358.16,165.97 L358.64,165.97 L359.13,165.96 L359.61,165.96 L360.09,165.95 L360.57,165.95 L361.05,165.94 L361.53,165.93 L362.01,165.92 L362.5,165.91 L362.98,165.89 L363.46,165.88 L363.94,165.86 L364.42,165.84 L364.9,165.82 L365.39,165.8 L365.87,165.77 L366.35,165.74 L366.83,165.71 L367.31,165.67 L367.79,165.63 L368.27,165.59 L368.76,165.54 L369.24,165.48 L369.72,165.42 L370.2,165.35 L370.68,165.28 L371.16,165.2 L371.64,165.11 L372.13,165.01 L372.61,164.91 L373.09,164.79 L373.57,164.67 L374.05,164.53 L374.53,164.38 L375.02,164.22 L375.5,164.05 L375.98,163.87 L376.46,163.67 L376.94,163.45 L377.42,163.23 L377.9,162.98 L378.39,162.72 L378.87,162.44 L379.35,162.15 L379.83,161.83 L380.31,161.5 L380.79,161.15 L381.27,160.78 L381.76,160.39 L382.24,159.97 L382.72,159.54 L383.2,159.09 L383.68,158.62 L384.16,158.13 L384.65,157.61 L385.13,157.08 L385.61,156.52 L386.09,155.95 L386.57,155.35 L387.05,154.74 L387.53,154.11 L388.02,153.45 L388.5,152.78 L388.98,152.1 L389.46,151.39 L389.94,150.67 L390.42,149.94 L390.9,149.19 L391.39,148.42 L391.87,147.65 L392.35,146.87 L392.83,146.08 L393.31,145.28 L393.79,144.48 L394.28,143.68 L394.76,142.88 L395.24,142.08 L395.72,141.29 L396.2,140.52 L396.68,139.76 L397.16,139.02 L397.65,138.3 L398.13,137.61 L398.61,136.95 L399.09,136.33 L399.57,135.75 L400.05,135.22 L400.53,134.74 L401.02,134.3 L401.5,133.93 L401.98,133.61 L402.46,133.35 L402.94,133.15 L403.42,133.01 L403.91,132.94 L404.39,132.92 L404.87,132.96 L405.35,133.06 L405.83,133.21 L406.31,133.41 L406.79,133.66 L407.28,133.95 L407.76,134.28 L408.24,134.64 L408.72,135.03 L409.2,135.44 L409.68,135.87 L410.16,136.32 L410.65,136.78 L411.13,137.24 L411.61,137.71 L412.09,138.18 L412.57,138.64 L413.05,139.1 L413.54,139.55 L414.02,139.99 L414.5,140.41 L414.98,140.82 L415.46,141.22 L415.94,141.6 L416.42,141.96 L416.91,142.31 L417.39,142.64 L417.87,142.95 L418.35,143.25 L418.83,143.53 L419.31,143.79 L419.8,144.03 L420.28,144.26 L420.76,144.48 L421.24,144.68 L421.72,144.87 L422.2,145.04 L422.68,145.21 L423.17,145.36 L423.65,145.51 L424.13,145.65 L424.61,145.79 L425.09,145.92 L425.57,146.05 L426.05,146.17 L426.54,146.3 L427.02,146.43 L427.5,146.57 L427.98,146.7 L428.46,146.85 L428.94,147 L429.43,147.16 L429.91,147.33 L430.39,147.51 L430.87,147.7 L431.35,147.9 L431.83,148.12 L432.31,148.35 L432.8,148.59 L433.28,148.84 L433.76,149.11 L434.24,149.39 L434.72,149.69 L435.2,150 L435.68,150.32 L436.17,150.65 L436.65,150.99 L437.13,151.35 L437.61,151.71 L438.09,152.08 L438.57,152.46 L439.06,152.84 L439.54,153.23 L440.02,153.62 L440.5,154.01 L440.98,154.41 L441.46,154.8 L441.94,155.19 L442.43,155.58 L442.91,155.97 L443.39,156.34 L443.87,156.72 L444.35,157.08 L444.83,157.43 L445.31,157.78 L445.8,158.11 L446.28,158.44 L446.76,158.75 L447.24,159.04 L447.72,159.33 L448.2,159.6 L448.69,159.86 L449.17,160.1 L449.65,160.33 L450.13,160.55 L450.61,160.75 L451.09,160.94 L451.57,161.12 L452.06,161.29 L452.54,161.45 L453.02,161.59 L453.5,161.73 L453.98,161.86 L454.46,161.98 L454.94,162.1 L455.43,162.21 L455.91,162.31 L456.39,162.41 L456.87,162.51 L457.35,162.6 L457.83,162.69 L458.31,162.78 L458.8,162.88 L459.28,162.97 L459.76,163.06 L460.24,163.15 L460.72,163.24 L461.2,163.34 L461.69,163.43 L462.17,163.53 L462.65,163.63 L463.13,163.73 L463.61,163.83 L464.09,163.93 L464.57,164.03 L465.06,164.13 L465.54,164.23 L466.02,164.33 L466.5,164.42 L466.98,164.52 L467.46,164.62 L467.94,164.71 L468.43,164.8 L468.91,164.89 L469.39,164.97 L469.87,165.05 L470.35,165.13 L470.83,165.2 L471.32,165.27 L471.8,165.34 L472.28,165.4 L472.76,165.46 L473.24,165.51 L473.72,165.56 L474.2,165.61 L474.69,165.65 L475.17,165.69 L475.65,165.72 L476.13,165.76 L476.61,165.79 L477.09,165.81 L477.57,165.84 L478.06,165.86 L478.54,165.88 L479.02,165.89 L479.5,165.91 L479.98,165.92 L480.46,165.93 L480.95,165.94 L481.43,165.95 L481.91,165.96 L482.39,165.96 L482.87,165.97 L483.35,165.98 L483.83,165.98 L484.32,165.98 L484.8,165.99 L485.28,165.99 L485.76,165.99 L486.24,165.99 L486.72,165.99 L487.21,165.99 L487.69,166 L488.17,166 L488.65,166 L489.13,166 L489.61,166 L490.09,166 L490.58,166 L491.06,166 L491.54,166 L492.02,166" fill="none" stroke="#5b9cc0" stroke-opacity="0.9" stroke-width="0.65"/>
<line x1="204" y1="131.5" x2="204" y2="166" stroke="#333333" stroke-width="0.8" />
<line x1="204" y1="166" x2="338.7" y2="166" stroke="#333333" stroke-width="0.8" />
<line x1="204" y1="166" x2="204" y2="168" stroke="#333333" stroke-width="0.7" />
<text x="204" y="173.43" font-size="4.8" text-anchor="middle" fill="#000" textLength="7.08" lengthAdjust="spacingAndGlyphs" >−3</text>
<line x1="223.2" y1="166" x2="223.2" y2="168" stroke="#333333" stroke-width="0.7" />
<text x="223.2" y="173.43" font-size="4.8" text-anchor="middle" fill="#000" textLength="7.08" lengthAdjust="spacingAndGlyphs" >−2</text>
<line x1="242.4" y1="166" x2="242.4" y2="168" stroke="#333333" stroke-width="0.7" />
<text x="242.4" y="173.43" font-size="4.8" text-anchor="middle" fill="#000" textLength="7.08" lengthAdjust="spacingAndGlyphs" >−1</text>
<line x1="261.6" y1="166" x2="261.6" y2="168" stroke="#333333" stroke-width="0.7" />
<text x="261.6" y="173.43" font-size="4.8" text-anchor="middle" fill="#000" textLength="3.05" lengthAdjust="spacingAndGlyphs" >0</text>
<line x1="280.8" y1="166" x2="280.8" y2="168" stroke="#333333" stroke-width="0.7" />
<text x="280.8" y="173.43" font-size="4.8" text-anchor="middle" fill="#000" textLength="3.05" lengthAdjust="spacingAndGlyphs" >1</text>
<line x1="300" y1="166" x2="300" y2="168" stroke="#333333" stroke-width="0.7" />
<text x="300" y="173.43" font-size="4.8" text-anchor="middle" fill="#000" textLength="3.05" lengthAdjust="spacingAndGlyphs" >2</text>
<line x1="319.2" y1="166" x2="319.2" y2="168" stroke="#333333" stroke-width="0.7" />
<text x="319.2" y="173.43" font-size="4.8" text-anchor="middle" fill="#000" textLength="3.05" lengthAdjust="spacingAndGlyphs" >3</text>
<line x1="338.4" y1="166" x2="338.4" y2="168" stroke="#333333" stroke-width="0.7" />
<text x="338.4" y="173.43" font-size="4.8" text-anchor="middle" fill="#000" textLength="3.05" lengthAdjust="spacingAndGlyphs" >4</text>
<line x1="357.2" y1="131.5" x2="357.2" y2="166" stroke="#b8b8b8" stroke-width="0.8" />
<line x1="357.2" y1="166" x2="492.32" y2="166" stroke="#333333" stroke-width="0.8" />
<line x1="357.2" y1="166" x2="357.2" y2="168" stroke="#333333" stroke-width="0.7" />
<text x="357.2" y="173.43" font-size="4.8" text-anchor="middle" fill="#000" textLength="7.08" lengthAdjust="spacingAndGlyphs" >−3</text>
<line x1="376.46" y1="166" x2="376.46" y2="168" stroke="#333333" stroke-width="0.7" />
<text x="376.46" y="173.43" font-size="4.8" text-anchor="middle" fill="#000" textLength="7.08" lengthAdjust="spacingAndGlyphs" >−2</text>
<line x1="395.72" y1="166" x2="395.72" y2="168" stroke="#333333" stroke-width="0.7" />
<text x="395.72" y="173.43" font-size="4.8" text-anchor="middle" fill="#000" textLength="7.08" lengthAdjust="spacingAndGlyphs" >−1</text>
<line x1="414.98" y1="166" x2="414.98" y2="168" stroke="#333333" stroke-width="0.7" />
<text x="414.98" y="173.43" font-size="4.8" text-anchor="middle" fill="#000" textLength="3.05" lengthAdjust="spacingAndGlyphs" >0</text>
<line x1="434.24" y1="166" x2="434.24" y2="168" stroke="#333333" stroke-width="0.7" />
<text x="434.24" y="173.43" font-size="4.8" text-anchor="middle" fill="#000" textLength="3.05" lengthAdjust="spacingAndGlyphs" >1</text>
<line x1="453.5" y1="166" x2="453.5" y2="168" stroke="#333333" stroke-width="0.7" />
<text x="453.5" y="173.43" font-size="4.8" text-anchor="middle" fill="#000" textLength="3.05" lengthAdjust="spacingAndGlyphs" >2</text>
<line x1="472.76" y1="166" x2="472.76" y2="168" stroke="#333333" stroke-width="0.7" />
<text x="472.76" y="173.43" font-size="4.8" text-anchor="middle" fill="#000" textLength="3.05" lengthAdjust="spacingAndGlyphs" >3</text>
<line x1="492.02" y1="166" x2="492.02" y2="168" stroke="#333333" stroke-width="0.7" />
<text x="492.02" y="173.43" font-size="4.8" text-anchor="middle" fill="#000" textLength="3.05" lengthAdjust="spacingAndGlyphs" >4</text>
<text transform="translate(199.1,148.75) rotate(-90)" x="0" y="1.8" font-size="5" text-anchor="middle" fill="#000" textLength="9.66" lengthAdjust="spacingAndGlyphs" >PRS</text>
<text transform="translate(352.6,148.75) rotate(-90)" x="0" y="1.8" font-size="5" text-anchor="middle" fill="#000" textLength="9.66" lengthAdjust="spacingAndGlyphs" >PRS</text>
<text x="191.4" y="130.52" font-size="5.9" text-anchor="middle" fill="#000" font-weight="bold" textLength="4.00" lengthAdjust="spacingAndGlyphs" >e</text>
<path d="M204,222.4 L204.48,222.4 L204.96,222.4 L205.44,222.4 L205.92,222.4 L206.4,222.4 L206.88,222.4 L207.36,222.4 L207.84,222.4 L208.32,222.4 L208.8,222.39 L209.28,222.39 L209.76,222.39 L210.24,222.39 L210.72,222.39 L211.2,222.39 L211.68,222.38 L212.16,222.38 L212.64,222.38 L213.12,222.37 L213.6,222.37 L214.08,222.36 L214.56,222.35 L215.04,222.34 L215.52,222.33 L216,222.32 L216.48,222.31 L216.96,222.29 L217.44,222.27 L217.92,222.25 L218.4,222.23 L218.88,222.2 L219.36,222.17 L219.84,222.13 L220.32,222.08 L220.8,222.04 L221.28,221.98 L221.76,221.91 L222.24,221.84 L222.72,221.76 L223.2,221.66 L223.68,221.56 L224.16,221.44 L224.64,221.3 L225.12,221.15 L225.6,220.98 L226.08,220.78 L226.56,220.57 L227.04,220.33 L227.52,220.06 L228,219.76 L228.48,219.43 L228.96,219.06 L229.44,218.66 L229.92,218.22 L230.4,217.74 L230.88,217.21 L231.36,216.65 L231.84,216.03 L232.32,215.37 L232.8,214.66 L233.28,213.9 L233.76,213.1 L234.24,212.25 L234.72,211.36 L235.2,210.43 L235.68,209.47 L236.16,208.47 L236.64,207.44 L237.12,206.4 L237.6,205.33 L238.08,204.26 L238.56,203.18 L239.04,202.11 L239.52,201.05 L240,200 L240.48,198.98 L240.96,198 L241.44,197.05 L241.92,196.15 L242.4,195.29 L242.88,194.49 L243.36,193.75 L243.84,193.07 L244.32,192.45 L244.8,191.9 L245.28,191.41 L245.76,190.99 L246.24,190.64 L246.72,190.35 L247.2,190.12 L247.68,189.96 L248.16,189.86 L248.64,189.82 L249.12,189.84 L249.6,189.91 L250.08,190.04 L250.56,190.22 L251.04,190.45 L251.52,190.72 L252,191.04 L252.48,191.4 L252.96,191.8 L253.44,192.24 L253.92,192.72 L254.4,193.23 L254.88,193.78 L255.36,194.35 L255.84,194.95 L256.32,195.57 L256.8,196.21 L257.28,196.86 L257.76,197.53 L258.24,198.21 L258.72,198.89 L259.2,199.57 L259.68,200.25 L260.16,200.93 L260.64,201.58 L261.12,202.23 L261.6,202.85 L262.08,203.45 L262.56,204.02 L263.04,204.57 L263.52,205.07 L264,205.54 L264.48,205.98 L264.96,206.37 L265.44,206.71 L265.92,207.02 L266.4,207.27 L266.88,207.49 L267.36,207.66 L267.84,207.78 L268.32,207.86 L268.8,207.9 L269.28,207.91 L269.76,207.87 L270.24,207.8 L270.72,207.71 L271.2,207.58 L271.68,207.43 L272.16,207.26 L272.64,207.08 L273.12,206.89 L273.6,206.69 L274.08,206.49 L274.56,206.3 L275.04,206.11 L275.52,205.93 L276,205.77 L276.48,205.63 L276.96,205.51 L277.44,205.42 L277.92,205.36 L278.4,205.33 L278.88,205.33 L279.36,205.37 L279.84,205.45 L280.32,205.56 L280.8,205.71 L281.28,205.9 L281.76,206.13 L282.24,206.39 L282.72,206.68 L283.2,207.01 L283.68,207.37 L284.16,207.75 L284.64,208.17 L285.12,208.6 L285.6,209.05 L286.08,209.52 L286.56,210 L287.04,210.49 L287.52,210.98 L288,211.47 L288.48,211.97 L288.96,212.46 L289.44,212.94 L289.92,213.41 L290.4,213.87 L290.88,214.32 L291.36,214.74 L291.84,215.15 L292.32,215.53 L292.8,215.9 L293.28,216.24 L293.76,216.56 L294.24,216.85 L294.72,217.12 L295.2,217.36 L295.68,217.59 L296.16,217.78 L296.64,217.96 L297.12,218.12 L297.6,218.25 L298.08,218.37 L298.56,218.47 L299.04,218.56 L299.52,218.64 L300,218.7 L300.48,218.75 L300.96,218.8 L301.44,218.84 L301.92,218.87 L302.4,218.9 L302.88,218.93 L303.36,218.96 L303.84,219 L304.32,219.03 L304.8,219.07 L305.28,219.11 L305.76,219.16 L306.24,219.21 L306.72,219.27 L307.2,219.34 L307.68,219.41 L308.16,219.49 L308.64,219.57 L309.12,219.66 L309.6,219.75 L310.08,219.85 L310.56,219.95 L311.04,220.06 L311.52,220.17 L312,220.28 L312.48,220.39 L312.96,220.5 L313.44,220.61 L313.92,220.72 L314.4,220.83 L314.88,220.94 L315.36,221.04 L315.84,221.14 L316.32,221.24 L316.8,221.34 L317.28,221.42 L317.76,221.51 L318.24,221.59 L318.72,221.67 L319.2,221.74 L319.68,221.8 L320.16,221.87 L320.64,221.92 L321.12,221.97 L321.6,222.02 L322.08,222.07 L322.56,222.11 L323.04,222.14 L323.52,222.17 L324,222.2 L324.48,222.23 L324.96,222.25 L325.44,222.27 L325.92,222.29 L326.4,222.31 L326.88,222.32 L327.36,222.33 L327.84,222.34 L328.32,222.35 L328.8,222.36 L329.28,222.37 L329.76,222.37 L330.24,222.38 L330.72,222.38 L331.2,222.38 L331.68,222.39 L332.16,222.39 L332.64,222.39 L333.12,222.39 L333.6,222.39 L334.08,222.4 L334.56,222.4 L335.04,222.4 L335.52,222.4 L336,222.4 L336.48,222.4 L336.96,222.4 L337.44,222.4 L337.92,222.4 L338.4,222.4 L338.4,222.4 L204,222.4 Z" fill="#78a8c0"/>
<path d="M357.2,222.4 L357.68,222.4 L358.16,222.4 L358.64,222.4 L359.13,222.4 L359.61,222.4 L360.09,222.4 L360.57,222.4 L361.05,222.4 L361.53,222.4 L362.01,222.39 L362.5,222.39 L362.98,222.39 L363.46,222.39 L363.94,222.39 L364.42,222.39 L364.9,222.38 L365.39,222.38 L365.87,222.38 L366.35,222.37 L366.83,222.37 L367.31,222.36 L367.79,222.35 L368.27,222.34 L368.76,222.33 L369.24,222.32 L369.72,222.31 L370.2,222.29 L370.68,222.27 L371.16,222.25 L371.64,222.23 L372.13,222.2 L372.61,222.17 L373.09,222.13 L373.57,222.08 L374.05,222.04 L374.53,221.98 L375.02,221.91 L375.5,221.84 L375.98,221.76 L376.46,221.66 L376.94,221.56 L377.42,221.44 L377.9,221.3 L378.39,221.15 L378.87,220.98 L379.35,220.78 L379.83,220.57 L380.31,220.33 L380.79,220.06 L381.27,219.76 L381.76,219.43 L382.24,219.06 L382.72,218.66 L383.2,218.22 L383.68,217.74 L384.16,217.21 L384.65,216.65 L385.13,216.03 L385.61,215.37 L386.09,214.66 L386.57,213.9 L387.05,213.1 L387.53,212.25 L388.02,211.36 L388.5,210.43 L388.98,209.47 L389.46,208.47 L389.94,207.44 L390.42,206.4 L390.9,205.33 L391.39,204.26 L391.87,203.18 L392.35,202.11 L392.83,201.05 L393.31,200 L393.79,198.98 L394.28,198 L394.76,197.05 L395.24,196.15 L395.72,195.29 L396.2,194.49 L396.68,193.75 L397.16,193.07 L397.65,192.45 L398.13,191.9 L398.61,191.41 L399.09,190.99 L399.57,190.64 L400.05,190.35 L400.53,190.12 L401.02,189.96 L401.5,189.86 L401.98,189.82 L402.46,189.84 L402.94,189.91 L403.42,190.04 L403.91,190.22 L404.39,190.45 L404.87,190.72 L405.35,191.04 L405.83,191.4 L406.31,191.8 L406.79,192.24 L407.28,192.72 L407.76,193.23 L408.24,193.78 L408.72,194.35 L409.2,194.95 L409.68,195.57 L410.16,196.21 L410.65,196.86 L411.13,197.53 L411.61,198.21 L412.09,198.89 L412.57,199.57 L413.05,200.25 L413.54,200.93 L414.02,201.58 L414.5,202.23 L414.98,202.85 L415.46,203.45 L415.94,204.02 L416.42,204.57 L416.91,205.07 L417.39,205.54 L417.87,205.98 L418.35,206.37 L418.83,206.71 L419.31,207.02 L419.8,207.27 L420.28,207.49 L420.76,207.66 L421.24,207.78 L421.72,207.86 L422.2,207.9 L422.68,207.91 L423.17,207.87 L423.65,207.8 L424.13,207.71 L424.61,207.58 L425.09,207.43 L425.57,207.26 L426.05,207.08 L426.54,206.89 L427.02,206.69 L427.5,206.49 L427.98,206.3 L428.46,206.11 L428.94,205.93 L429.43,205.77 L429.91,205.63 L430.39,205.51 L430.87,205.42 L431.35,205.36 L431.83,205.33 L432.31,205.33 L432.8,205.37 L433.28,205.45 L433.76,205.56 L434.24,205.71 L434.72,205.9 L435.2,206.13 L435.68,206.39 L436.17,206.68 L436.65,207.01 L437.13,207.37 L437.61,207.75 L438.09,208.17 L438.57,208.6 L439.06,209.05 L439.54,209.52 L440.02,210 L440.5,210.49 L440.98,210.98 L441.46,211.47 L441.94,211.97 L442.43,212.46 L442.91,212.94 L443.39,213.41 L443.87,213.87 L444.35,214.32 L444.83,214.74 L445.31,215.15 L445.8,215.53 L446.28,215.9 L446.76,216.24 L447.24,216.56 L447.72,216.85 L448.2,217.12 L448.69,217.36 L449.17,217.59 L449.65,217.78 L450.13,217.96 L450.61,218.12 L451.09,218.25 L451.57,218.37 L452.06,218.47 L452.54,218.56 L453.02,218.64 L453.5,218.7 L453.98,218.75 L454.46,218.8 L454.94,218.84 L455.43,218.87 L455.91,218.9 L456.39,218.93 L456.87,218.96 L457.35,219 L457.83,219.03 L458.31,219.07 L458.8,219.11 L459.28,219.16 L459.76,219.21 L460.24,219.27 L460.72,219.34 L461.2,219.41 L461.69,219.49 L462.17,219.57 L462.65,219.66 L463.13,219.75 L463.61,219.85 L464.09,219.95 L464.57,220.06 L465.06,220.17 L465.54,220.28 L466.02,220.39 L466.5,220.5 L466.98,220.61 L467.46,220.72 L467.94,220.83 L468.43,220.94 L468.91,221.04 L469.39,221.14 L469.87,221.24 L470.35,221.34 L470.83,221.42 L471.32,221.51 L471.8,221.59 L472.28,221.67 L472.76,221.74 L473.24,221.8 L473.72,221.87 L474.2,221.92 L474.69,221.97 L475.17,222.02 L475.65,222.07 L476.13,222.11 L476.61,222.14 L477.09,222.17 L477.57,222.2 L478.06,222.23 L478.54,222.25 L479.02,222.27 L479.5,222.29 L479.98,222.31 L480.46,222.32 L480.95,222.33 L481.43,222.34 L481.91,222.35 L482.39,222.36 L482.87,222.37 L483.35,222.37 L483.83,222.38 L484.32,222.38 L484.8,222.38 L485.28,222.39 L485.76,222.39 L486.24,222.39 L486.72,222.39 L487.21,222.39 L487.69,222.4 L488.17,222.4 L488.65,222.4 L489.13,222.4 L489.61,222.4 L490.09,222.4 L490.58,222.4 L491.06,222.4 L491.54,222.4 L492.02,222.4 L492.02,222.4 L357.2,222.4 Z" fill="#e7f0f3"/>
<path d="M357.2,222.4 L357.68,222.4 L358.16,222.4 L358.64,222.4 L359.13,222.4 L359.61,222.4 L360.09,222.4 L360.57,222.4 L361.05,222.4 L361.53,222.4 L362.01,222.4 L362.5,222.4 L362.98,222.4 L363.46,222.4 L363.94,222.4 L364.42,222.4 L364.9,222.4 L365.39,222.4 L365.87,222.4 L366.35,222.4 L366.83,222.4 L367.31,222.4 L367.79,222.4 L368.27,222.4 L368.76,222.4 L369.24,222.4 L369.72,222.4 L370.2,222.4 L370.68,222.4 L371.16,222.4 L371.64,222.39 L372.13,222.39 L372.61,222.39 L373.09,222.39 L373.57,222.39 L374.05,222.39 L374.53,222.38 L375.02,222.38 L375.5,222.38 L375.98,222.37 L376.46,222.37 L376.94,222.37 L377.42,222.36 L377.9,222.35 L378.39,222.35 L378.87,222.34 L379.35,222.33 L379.83,222.32 L380.31,222.31 L380.79,222.3 L381.27,222.28 L381.76,222.27 L382.24,222.25 L382.72,222.24 L383.2,222.22 L383.68,222.2 L384.16,222.18 L384.65,222.16 L385.13,222.14 L385.61,222.11 L386.09,222.09 L386.57,222.06 L387.05,222.04 L387.53,222.01 L388.02,221.99 L388.5,221.96 L388.98,221.93 L389.46,221.91 L389.94,221.89 L390.42,221.86 L390.9,221.84 L391.39,221.82 L391.87,221.8 L392.35,221.78 L392.83,221.76 L393.31,221.75 L393.79,221.74 L394.28,221.73 L394.76,221.72 L395.24,221.72 L395.72,221.72 L396.2,221.72 L396.68,221.72 L397.16,221.73 L397.65,221.74 L398.13,221.75 L398.61,221.76 L399.09,221.78 L399.57,221.8 L400.05,221.82 L400.53,221.84 L401.02,221.86 L401.5,221.89 L401.98,221.91 L402.46,221.93 L402.94,221.96 L403.42,221.99 L403.91,222.01 L404.39,222.04 L404.87,222.06 L405.35,222.09 L405.83,222.11 L406.31,222.14 L406.79,222.16 L407.28,222.18 L407.76,222.2 L408.24,222.22 L408.72,222.24 L409.2,222.25 L409.68,222.27 L410.16,222.28 L410.65,222.3 L411.13,222.31 L411.61,222.32 L412.09,222.33 L412.57,222.34 L413.05,222.35 L413.54,222.35 L414.02,222.36 L414.5,222.37 L414.98,222.37 L415.46,222.37 L415.94,222.38 L416.42,222.38 L416.91,222.38 L417.39,222.39 L417.87,222.39 L418.35,222.39 L418.83,222.39 L419.31,222.39 L419.8,222.39 L420.28,222.4 L420.76,222.4 L421.24,222.4 L421.72,222.4 L422.2,222.4 L422.68,222.4 L423.17,222.4 L423.65,222.4 L424.13,222.4 L424.61,222.4 L425.09,222.4 L425.57,222.4 L426.05,222.4 L426.54,222.4 L427.02,222.4 L427.5,222.4 L427.98,222.4 L428.46,222.4 L428.94,222.4 L429.43,222.4 L429.91,222.4 L430.39,222.4 L430.87,222.4 L431.35,222.4 L431.83,222.4 L432.31,222.4 L432.8,222.4 L433.28,222.4 L433.76,222.4 L434.24,222.4 L434.72,222.4 L435.2,222.4 L435.68,222.4 L436.17,222.4 L436.65,222.4 L437.13,222.4 L437.61,222.4 L438.09,222.4 L438.57,222.4 L439.06,222.4 L439.54,222.4 L440.02,222.4 L440.5,222.4 L440.98,222.4 L441.46,222.4 L441.94,222.4 L442.43,222.4 L442.91,222.4 L443.39,222.4 L443.87,222.4 L444.35,222.4 L444.83,222.4 L445.31,222.4 L445.8,222.4 L446.28,222.4 L446.76,222.4 L447.24,222.4 L447.72,222.4 L448.2,222.4 L448.69,222.4 L449.17,222.4 L449.65,222.4 L450.13,222.4 L450.61,222.4 L451.09,222.4 L451.57,222.4 L452.06,222.4 L452.54,222.4 L453.02,222.4 L453.5,222.4 L453.98,222.4 L454.46,222.4 L454.94,222.4 L455.43,222.4 L455.91,222.4 L456.39,222.4 L456.87,222.4 L457.35,222.4 L457.83,222.4 L458.31,222.4 L458.8,222.4 L459.28,222.4 L459.76,222.4 L460.24,222.4 L460.72,222.4 L461.2,222.4 L461.69,222.4 L462.17,222.4 L462.65,222.4 L463.13,222.4 L463.61,222.4 L464.09,222.4 L464.57,222.4 L465.06,222.4 L465.54,222.4 L466.02,222.4 L466.5,222.4 L466.98,222.4 L467.46,222.4 L467.94,222.4 L468.43,222.4 L468.91,222.4 L469.39,222.4 L469.87,222.4 L470.35,222.4 L470.83,222.4 L471.32,222.4 L471.8,222.4 L472.28,222.4 L472.76,222.4 L473.24,222.4 L473.72,222.4 L474.2,222.4 L474.69,222.4 L475.17,222.4 L475.65,222.4 L476.13,222.4 L476.61,222.4 L477.09,222.4 L477.57,222.4 L478.06,222.4 L478.54,222.4 L479.02,222.4 L479.5,222.4 L479.98,222.4 L480.46,222.4 L480.95,222.4 L481.43,222.4 L481.91,222.4 L482.39,222.4 L482.87,222.4 L483.35,222.4 L483.83,222.4 L484.32,222.4 L484.8,222.4 L485.28,222.4 L485.76,222.4 L486.24,222.4 L486.72,222.4 L487.21,222.4 L487.69,222.4 L488.17,222.4 L488.65,222.4 L489.13,222.4 L489.61,222.4 L490.09,222.4 L490.58,222.4 L491.06,222.4 L491.54,222.4 L492.02,222.4 L492.02,222.4 L357.2,222.4 Z" fill="#4c72b0" fill-opacity="0.3" stroke="#4c72b0" stroke-opacity="0.4" stroke-width="0.5"/>
<path d="M357.2,222.4 L357.68,222.4 L358.16,222.4 L358.64,222.4 L359.13,222.4 L359.61,222.4 L360.09,222.4 L360.57,222.4 L361.05,222.4 L361.53,222.4 L362.01,222.4 L362.5,222.4 L362.98,222.4 L363.46,222.4 L363.94,222.4 L364.42,222.4 L364.9,222.4 L365.39,222.4 L365.87,222.4 L366.35,222.4 L366.83,222.4 L367.31,222.4 L367.79,222.39 L368.27,222.39 L368.76,222.39 L369.24,222.39 L369.72,222.39 L370.2,222.38 L370.68,222.38 L371.16,222.38 L371.64,222.37 L372.13,222.37 L372.61,222.36 L373.09,222.35 L373.57,222.34 L374.05,222.33 L374.53,222.32 L375.02,222.3 L375.5,222.29 L375.98,222.27 L376.46,222.24 L376.94,222.22 L377.42,222.19 L377.9,222.16 L378.39,222.12 L378.87,222.08 L379.35,222.04 L379.83,221.99 L380.31,221.93 L380.79,221.87 L381.27,221.8 L381.76,221.73 L382.24,221.65 L382.72,221.56 L383.2,221.47 L383.68,221.37 L384.16,221.26 L384.65,221.15 L385.13,221.03 L385.61,220.9 L386.09,220.77 L386.57,220.63 L387.05,220.49 L387.53,220.35 L388.02,220.2 L388.5,220.05 L388.98,219.9 L389.46,219.74 L389.94,219.59 L390.42,219.44 L390.9,219.29 L391.39,219.15 L391.87,219.01 L392.35,218.88 L392.83,218.76 L393.31,218.65 L393.79,218.54 L394.28,218.45 L394.76,218.37 L395.24,218.3 L395.72,218.25 L396.2,218.21 L396.68,218.18 L397.16,218.17 L397.65,218.18 L398.13,218.2 L398.61,218.23 L399.09,218.28 L399.57,218.34 L400.05,218.42 L400.53,218.5 L401.02,218.6 L401.5,218.71 L401.98,218.83 L402.46,218.96 L402.94,219.1 L403.42,219.24 L403.91,219.38 L404.39,219.53 L404.87,219.68 L405.35,219.84 L405.83,219.99 L406.31,220.14 L406.79,220.29 L407.28,220.44 L407.76,220.58 L408.24,220.72 L408.72,220.85 L409.2,220.98 L409.68,221.1 L410.16,221.22 L410.65,221.32 L411.13,221.43 L411.61,221.52 L412.09,221.61 L412.57,221.7 L413.05,221.77 L413.54,221.84 L414.02,221.91 L414.5,221.96 L414.98,222.02 L415.46,222.06 L415.94,222.11 L416.42,222.14 L416.91,222.18 L417.39,222.21 L417.87,222.24 L418.35,222.26 L418.83,222.28 L419.31,222.3 L419.8,222.31 L420.28,222.33 L420.76,222.34 L421.24,222.35 L421.72,222.36 L422.2,222.36 L422.68,222.37 L423.17,222.37 L423.65,222.38 L424.13,222.38 L424.61,222.39 L425.09,222.39 L425.57,222.39 L426.05,222.39 L426.54,222.39 L427.02,222.4 L427.5,222.4 L427.98,222.4 L428.46,222.4 L428.94,222.4 L429.43,222.4 L429.91,222.4 L430.39,222.4 L430.87,222.4 L431.35,222.4 L431.83,222.4 L432.31,222.4 L432.8,222.4 L433.28,222.4 L433.76,222.4 L434.24,222.4 L434.72,222.4 L435.2,222.4 L435.68,222.4 L436.17,222.4 L436.65,222.4 L437.13,222.4 L437.61,222.4 L438.09,222.4 L438.57,222.4 L439.06,222.4 L439.54,222.4 L440.02,222.4 L440.5,222.4 L440.98,222.4 L441.46,222.4 L441.94,222.4 L442.43,222.4 L442.91,222.4 L443.39,222.4 L443.87,222.4 L444.35,222.4 L444.83,222.4 L445.31,222.4 L445.8,222.4 L446.28,222.4 L446.76,222.4 L447.24,222.4 L447.72,222.4 L448.2,222.4 L448.69,222.4 L449.17,222.4 L449.65,222.4 L450.13,222.4 L450.61,222.4 L451.09,222.4 L451.57,222.4 L452.06,222.4 L452.54,222.4 L453.02,222.4 L453.5,222.4 L453.98,222.4 L454.46,222.4 L454.94,222.4 L455.43,222.4 L455.91,222.4 L456.39,222.4 L456.87,222.4 L457.35,222.4 L457.83,222.4 L458.31,222.4 L458.8,222.4 L459.28,222.4 L459.76,222.4 L460.24,222.4 L460.72,222.4 L461.2,222.4 L461.69,222.4 L462.17,222.4 L462.65,222.4 L463.13,222.4 L463.61,222.4 L464.09,222.4 L464.57,222.4 L465.06,222.4 L465.54,222.4 L466.02,222.4 L466.5,222.4 L466.98,222.4 L467.46,222.4 L467.94,222.4 L468.43,222.4 L468.91,222.4 L469.39,222.4 L469.87,222.4 L470.35,222.4 L470.83,222.4 L471.32,222.4 L471.8,222.4 L472.28,222.4 L472.76,222.4 L473.24,222.4 L473.72,222.4 L474.2,222.4 L474.69,222.4 L475.17,222.4 L475.65,222.4 L476.13,222.4 L476.61,222.4 L477.09,222.4 L477.57,222.4 L478.06,222.4 L478.54,222.4 L479.02,222.4 L479.5,222.4 L479.98,222.4 L480.46,222.4 L480.95,222.4 L481.43,222.4 L481.91,222.4 L482.39,222.4 L482.87,222.4 L483.35,222.4 L483.83,222.4 L484.32,222.4 L484.8,222.4 L485.28,222.4 L485.76,222.4 L486.24,222.4 L486.72,222.4 L487.21,222.4 L487.69,222.4 L488.17,222.4 L488.65,222.4 L489.13,222.4 L489.61,222.4 L490.09,222.4 L490.58,222.4 L491.06,222.4 L491.54,222.4 L492.02,222.4 L492.02,222.4 L357.2,222.4 Z" fill="#dd8452" fill-opacity="0.3" stroke="#dd8452" stroke-opacity="0.4" stroke-width="0.5"/>
<path d="M357.2,222.4 L357.68,222.4 L358.16,222.4 L358.64,222.4 L359.13,222.4 L359.61,222.4 L360.09,222.4 L360.57,222.4 L361.05,222.4 L361.53,222.4 L362.01,222.4 L362.5,222.4 L362.98,222.4 L363.46,222.4 L363.94,222.4 L364.42,222.4 L364.9,222.4 L365.39,222.4 L365.87,222.4 L366.35,222.4 L366.83,222.4 L367.31,222.4 L367.79,222.4 L368.27,222.4 L368.76,222.4 L369.24,222.4 L369.72,222.4 L370.2,222.4 L370.68,222.4 L371.16,222.4 L371.64,222.4 L372.13,222.4 L372.61,222.4 L373.09,222.4 L373.57,222.4 L374.05,222.4 L374.53,222.4 L375.02,222.4 L375.5,222.4 L375.98,222.4 L376.46,222.4 L376.94,222.4 L377.42,222.4 L377.9,222.4 L378.39,222.4 L378.87,222.4 L379.35,222.4 L379.83,222.4 L380.31,222.4 L380.79,222.4 L381.27,222.4 L381.76,222.4 L382.24,222.4 L382.72,222.4 L383.2,222.4 L383.68,222.4 L384.16,222.4 L384.65,222.4 L385.13,222.4 L385.61,222.4 L386.09,222.4 L386.57,222.4 L387.05,222.4 L387.53,222.4 L388.02,222.4 L388.5,222.4 L388.98,222.4 L389.46,222.4 L389.94,222.4 L390.42,222.4 L390.9,222.4 L391.39,222.4 L391.87,222.4 L392.35,222.4 L392.83,222.4 L393.31,222.4 L393.79,222.4 L394.28,222.4 L394.76,222.4 L395.24,222.4 L395.72,222.4 L396.2,222.4 L396.68,222.4 L397.16,222.4 L397.65,222.4 L398.13,222.4 L398.61,222.4 L399.09,222.4 L399.57,222.4 L400.05,222.4 L400.53,222.4 L401.02,222.4 L401.5,222.4 L401.98,222.4 L402.46,222.4 L402.94,222.4 L403.42,222.4 L403.91,222.4 L404.39,222.4 L404.87,222.4 L405.35,222.4 L405.83,222.4 L406.31,222.4 L406.79,222.4 L407.28,222.4 L407.76,222.4 L408.24,222.4 L408.72,222.4 L409.2,222.4 L409.68,222.4 L410.16,222.39 L410.65,222.39 L411.13,222.39 L411.61,222.39 L412.09,222.39 L412.57,222.39 L413.05,222.38 L413.54,222.38 L414.02,222.38 L414.5,222.37 L414.98,222.37 L415.46,222.37 L415.94,222.36 L416.42,222.35 L416.91,222.35 L417.39,222.34 L417.87,222.33 L418.35,222.32 L418.83,222.31 L419.31,222.3 L419.8,222.28 L420.28,222.27 L420.76,222.25 L421.24,222.24 L421.72,222.22 L422.2,222.2 L422.68,222.18 L423.17,222.16 L423.65,222.14 L424.13,222.11 L424.61,222.09 L425.09,222.06 L425.57,222.04 L426.05,222.01 L426.54,221.99 L427.02,221.96 L427.5,221.93 L427.98,221.91 L428.46,221.89 L428.94,221.86 L429.43,221.84 L429.91,221.82 L430.39,221.8 L430.87,221.78 L431.35,221.76 L431.83,221.75 L432.31,221.74 L432.8,221.73 L433.28,221.72 L433.76,221.72 L434.24,221.72 L434.72,221.72 L435.2,221.72 L435.68,221.73 L436.17,221.74 L436.65,221.75 L437.13,221.76 L437.61,221.78 L438.09,221.8 L438.57,221.82 L439.06,221.84 L439.54,221.86 L440.02,221.89 L440.5,221.91 L440.98,221.93 L441.46,221.96 L441.94,221.99 L442.43,222.01 L442.91,222.04 L443.39,222.06 L443.87,222.09 L444.35,222.11 L444.83,222.14 L445.31,222.16 L445.8,222.18 L446.28,222.2 L446.76,222.22 L447.24,222.24 L447.72,222.25 L448.2,222.27 L448.69,222.28 L449.17,222.3 L449.65,222.31 L450.13,222.32 L450.61,222.33 L451.09,222.34 L451.57,222.35 L452.06,222.35 L452.54,222.36 L453.02,222.37 L453.5,222.37 L453.98,222.37 L454.46,222.38 L454.94,222.38 L455.43,222.38 L455.91,222.39 L456.39,222.39 L456.87,222.39 L457.35,222.39 L457.83,222.39 L458.31,222.39 L458.8,222.4 L459.28,222.4 L459.76,222.4 L460.24,222.4 L460.72,222.4 L461.2,222.4 L461.69,222.4 L462.17,222.4 L462.65,222.4 L463.13,222.4 L463.61,222.4 L464.09,222.4 L464.57,222.4 L465.06,222.4 L465.54,222.4 L466.02,222.4 L466.5,222.4 L466.98,222.4 L467.46,222.4 L467.94,222.4 L468.43,222.4 L468.91,222.4 L469.39,222.4 L469.87,222.4 L470.35,222.4 L470.83,222.4 L471.32,222.4 L471.8,222.4 L472.28,222.4 L472.76,222.4 L473.24,222.4 L473.72,222.4 L474.2,222.4 L474.69,222.4 L475.17,222.4 L475.65,222.4 L476.13,222.4 L476.61,222.4 L477.09,222.4 L477.57,222.4 L478.06,222.4 L478.54,222.4 L479.02,222.4 L479.5,222.4 L479.98,222.4 L480.46,222.4 L480.95,222.4 L481.43,222.4 L481.91,222.4 L482.39,222.4 L482.87,222.4 L483.35,222.4 L483.83,222.4 L484.32,222.4 L484.8,222.4 L485.28,222.4 L485.76,222.4 L486.24,222.4 L486.72,222.4 L487.21,222.4 L487.69,222.4 L488.17,222.4 L488.65,222.4 L489.13,222.4 L489.61,222.4 L490.09,222.4 L490.58,222.4 L491.06,222.4 L491.54,222.4 L492.02,222.4 L492.02,222.4 L357.2,222.4 Z" fill="#55a868" fill-opacity="0.3" stroke="#55a868" stroke-opacity="0.4" stroke-width="0.5"/>
<path d="M357.2,222.4 L357.68,222.4 L358.16,222.4 L358.64,222.4 L359.13,222.4 L359.61,222.4 L360.09,222.4 L360.57,222.4 L361.05,222.4 L361.53,222.4 L362.01,222.4 L362.5,222.4 L362.98,222.4 L363.46,222.4 L363.94,222.4 L364.42,222.4 L364.9,222.4 L365.39,222.4 L365.87,222.4 L366.35,222.4 L366.83,222.4 L367.31,222.4 L367.79,222.4 L368.27,222.4 L368.76,222.4 L369.24,222.4 L369.72,222.4 L370.2,222.4 L370.68,222.4 L371.16,222.4 L371.64,222.4 L372.13,222.4 L372.61,222.4 L373.09,222.4 L373.57,222.4 L374.05,222.4 L374.53,222.4 L375.02,222.4 L375.5,222.4 L375.98,222.4 L376.46,222.4 L376.94,222.4 L377.42,222.4 L377.9,222.4 L378.39,222.4 L378.87,222.4 L379.35,222.4 L379.83,222.4 L380.31,222.4 L380.79,222.4 L381.27,222.4 L381.76,222.4 L382.24,222.4 L382.72,222.4 L383.2,222.4 L383.68,222.4 L384.16,222.4 L384.65,222.4 L385.13,222.4 L385.61,222.4 L386.09,222.4 L386.57,222.4 L387.05,222.4 L387.53,222.4 L388.02,222.4 L388.5,222.4 L388.98,222.4 L389.46,222.4 L389.94,222.4 L390.42,222.4 L390.9,222.4 L391.39,222.4 L391.87,222.4 L392.35,222.4 L392.83,222.4 L393.31,222.4 L393.79,222.4 L394.28,222.4 L394.76,222.4 L395.24,222.4 L395.72,222.4 L396.2,222.4 L396.68,222.4 L397.16,222.4 L397.65,222.4 L398.13,222.4 L398.61,222.4 L399.09,222.4 L399.57,222.4 L400.05,222.4 L400.53,222.4 L401.02,222.4 L401.5,222.4 L401.98,222.4 L402.46,222.4 L402.94,222.4 L403.42,222.4 L403.91,222.4 L404.39,222.4 L404.87,222.4 L405.35,222.4 L405.83,222.4 L406.31,222.4 L406.79,222.4 L407.28,222.4 L407.76,222.4 L408.24,222.4 L408.72,222.4 L409.2,222.4 L409.68,222.4 L410.16,222.4 L410.65,222.4 L411.13,222.4 L411.61,222.4 L412.09,222.4 L412.57,222.4 L413.05,222.4 L413.54,222.4 L414.02,222.4 L414.5,222.4 L414.98,222.4 L415.46,222.4 L415.94,222.4 L416.42,222.4 L416.91,222.4 L417.39,222.4 L417.87,222.4 L418.35,222.4 L418.83,222.4 L419.31,222.4 L419.8,222.4 L420.28,222.4 L420.76,222.4 L421.24,222.4 L421.72,222.4 L422.2,222.4 L422.68,222.4 L423.17,222.4 L423.65,222.4 L424.13,222.4 L424.61,222.39 L425.09,222.39 L425.57,222.39 L426.05,222.39 L426.54,222.39 L427.02,222.39 L427.5,222.39 L427.98,222.38 L428.46,222.38 L428.94,222.38 L429.43,222.37 L429.91,222.37 L430.39,222.37 L430.87,222.36 L431.35,222.36 L431.83,222.35 L432.31,222.34 L432.8,222.33 L433.28,222.33 L433.76,222.32 L434.24,222.3 L434.72,222.29 L435.2,222.28 L435.68,222.26 L436.17,222.25 L436.65,222.23 L437.13,222.21 L437.61,222.19 L438.09,222.17 L438.57,222.15 L439.06,222.12 L439.54,222.09 L440.02,222.06 L440.5,222.03 L440.98,222 L441.46,221.96 L441.94,221.93 L442.43,221.89 L442.91,221.85 L443.39,221.8 L443.87,221.76 L444.35,221.71 L444.83,221.67 L445.31,221.62 L445.8,221.57 L446.28,221.52 L446.76,221.47 L447.24,221.42 L447.72,221.37 L448.2,221.31 L448.69,221.26 L449.17,221.21 L449.65,221.16 L450.13,221.11 L450.61,221.07 L451.09,221.02 L451.57,220.98 L452.06,220.93 L452.54,220.9 L453.02,220.86 L453.5,220.83 L453.98,220.8 L454.46,220.77 L454.94,220.75 L455.43,220.73 L455.91,220.71 L456.39,220.7 L456.87,220.7 L457.35,220.69 L457.83,220.7 L458.31,220.7 L458.8,220.71 L459.28,220.73 L459.76,220.75 L460.24,220.77 L460.72,220.8 L461.2,220.83 L461.69,220.86 L462.17,220.9 L462.65,220.93 L463.13,220.98 L463.61,221.02 L464.09,221.07 L464.57,221.11 L465.06,221.16 L465.54,221.21 L466.02,221.26 L466.5,221.31 L466.98,221.37 L467.46,221.42 L467.94,221.47 L468.43,221.52 L468.91,221.57 L469.39,221.62 L469.87,221.67 L470.35,221.71 L470.83,221.76 L471.32,221.8 L471.8,221.85 L472.28,221.89 L472.76,221.93 L473.24,221.96 L473.72,222 L474.2,222.03 L474.69,222.06 L475.17,222.09 L475.65,222.12 L476.13,222.15 L476.61,222.17 L477.09,222.19 L477.57,222.21 L478.06,222.23 L478.54,222.25 L479.02,222.26 L479.5,222.28 L479.98,222.29 L480.46,222.3 L480.95,222.32 L481.43,222.33 L481.91,222.33 L482.39,222.34 L482.87,222.35 L483.35,222.36 L483.83,222.36 L484.32,222.37 L484.8,222.37 L485.28,222.37 L485.76,222.38 L486.24,222.38 L486.72,222.38 L487.21,222.39 L487.69,222.39 L488.17,222.39 L488.65,222.39 L489.13,222.39 L489.61,222.39 L490.09,222.39 L490.58,222.4 L491.06,222.4 L491.54,222.4 L492.02,222.4 L492.02,222.4 L357.2,222.4 Z" fill="#937860" fill-opacity="0.3" stroke="#937860" stroke-opacity="0.4" stroke-width="0.5"/>
<path d="M357.2,222.4 L357.68,222.4 L358.16,222.4 L358.64,222.4 L359.13,222.4 L359.61,222.4 L360.09,222.4 L360.57,222.4 L361.05,222.4 L361.53,222.4 L362.01,222.4 L362.5,222.4 L362.98,222.4 L363.46,222.4 L363.94,222.4 L364.42,222.4 L364.9,222.4 L365.39,222.4 L365.87,222.4 L366.35,222.4 L366.83,222.4 L367.31,222.4 L367.79,222.4 L368.27,222.4 L368.76,222.4 L369.24,222.4 L369.72,222.4 L370.2,222.4 L370.68,222.4 L371.16,222.4 L371.64,222.4 L372.13,222.4 L372.61,222.4 L373.09,222.4 L373.57,222.4 L374.05,222.4 L374.53,222.4 L375.02,222.4 L375.5,222.4 L375.98,222.4 L376.46,222.4 L376.94,222.4 L377.42,222.4 L377.9,222.4 L378.39,222.4 L378.87,222.4 L379.35,222.4 L379.83,222.4 L380.31,222.4 L380.79,222.4 L381.27,222.4 L381.76,222.4 L382.24,222.4 L382.72,222.4 L383.2,222.4 L383.68,222.4 L384.16,222.4 L384.65,222.4 L385.13,222.4 L385.61,222.4 L386.09,222.4 L386.57,222.4 L387.05,222.4 L387.53,222.4 L388.02,222.39 L388.5,222.39 L388.98,222.39 L389.46,222.39 L389.94,222.39 L390.42,222.39 L390.9,222.39 L391.39,222.38 L391.87,222.38 L392.35,222.38 L392.83,222.37 L393.31,222.37 L393.79,222.37 L394.28,222.36 L394.76,222.35 L395.24,222.35 L395.72,222.34 L396.2,222.33 L396.68,222.32 L397.16,222.31 L397.65,222.3 L398.13,222.28 L398.61,222.26 L399.09,222.25 L399.57,222.23 L400.05,222.2 L400.53,222.18 L401.02,222.15 L401.5,222.12 L401.98,222.08 L402.46,222.04 L402.94,222 L403.42,221.95 L403.91,221.9 L404.39,221.84 L404.87,221.78 L405.35,221.71 L405.83,221.64 L406.31,221.55 L406.79,221.47 L407.28,221.37 L407.76,221.26 L408.24,221.15 L408.72,221.03 L409.2,220.9 L409.68,220.76 L410.16,220.61 L410.65,220.45 L411.13,220.28 L411.61,220.09 L412.09,219.9 L412.57,219.7 L413.05,219.48 L413.54,219.25 L414.02,219.01 L414.5,218.75 L414.98,218.49 L415.46,218.21 L415.94,217.92 L416.42,217.62 L416.91,217.31 L417.39,216.98 L417.87,216.65 L418.35,216.31 L418.83,215.95 L419.31,215.59 L419.8,215.22 L420.28,214.84 L420.76,214.46 L421.24,214.07 L421.72,213.68 L422.2,213.28 L422.68,212.89 L423.17,212.49 L423.65,212.09 L424.13,211.7 L424.61,211.32 L425.09,210.93 L425.57,210.56 L426.05,210.19 L426.54,209.84 L427.02,209.5 L427.5,209.17 L427.98,208.85 L428.46,208.56 L428.94,208.28 L429.43,208.02 L429.91,207.78 L430.39,207.56 L430.87,207.37 L431.35,207.2 L431.83,207.05 L432.31,206.93 L432.8,206.84 L433.28,206.77 L433.76,206.73 L434.24,206.71 L434.72,206.73 L435.2,206.79 L435.68,206.89 L436.17,207.02 L436.65,207.2 L437.13,207.4 L437.61,207.65 L438.09,207.92 L438.57,208.22 L439.06,208.56 L439.54,208.92 L440.02,209.3 L440.5,209.7 L440.98,210.12 L441.46,210.56 L441.94,211.01 L442.43,211.47 L442.91,211.94 L443.39,212.41 L443.87,212.89 L444.35,213.36 L444.83,213.83 L445.31,214.3 L445.8,214.76 L446.28,215.22 L446.76,215.66 L447.24,216.09 L447.72,216.51 L448.2,216.92 L448.69,217.31 L449.17,217.68 L449.65,218.04 L450.13,218.38 L450.61,218.7 L451.09,219.01 L451.57,219.3 L452.06,219.57 L452.54,219.82 L453.02,220.06 L453.5,220.28 L453.98,220.48 L454.46,220.67 L454.94,220.84 L455.43,221.01 L455.91,221.15 L456.39,221.29 L456.87,221.41 L457.35,221.52 L457.83,221.62 L458.31,221.71 L458.8,221.79 L459.28,221.87 L459.76,221.93 L460.24,221.99 L460.72,222.04 L461.2,222.09 L461.69,222.13 L462.17,222.17 L462.65,222.2 L463.13,222.23 L463.61,222.25 L464.09,222.27 L464.57,222.29 L465.06,222.31 L465.54,222.32 L466.02,222.33 L466.5,222.34 L466.98,222.35 L467.46,222.36 L467.94,222.37 L468.43,222.37 L468.91,222.38 L469.39,222.38 L469.87,222.38 L470.35,222.39 L470.83,222.39 L471.32,222.39 L471.8,222.39 L472.28,222.39 L472.76,222.39 L473.24,222.4 L473.72,222.4 L474.2,222.4 L474.69,222.4 L475.17,222.4 L475.65,222.4 L476.13,222.4 L476.61,222.4 L477.09,222.4 L477.57,222.4 L478.06,222.4 L478.54,222.4 L479.02,222.4 L479.5,222.4 L479.98,222.4 L480.46,222.4 L480.95,222.4 L481.43,222.4 L481.91,222.4 L482.39,222.4 L482.87,222.4 L483.35,222.4 L483.83,222.4 L484.32,222.4 L484.8,222.4 L485.28,222.4 L485.76,222.4 L486.24,222.4 L486.72,222.4 L487.21,222.4 L487.69,222.4 L488.17,222.4 L488.65,222.4 L489.13,222.4 L489.61,222.4 L490.09,222.4 L490.58,222.4 L491.06,222.4 L491.54,222.4 L492.02,222.4 L492.02,222.4 L357.2,222.4 Z" fill="#8172b3" fill-opacity="0.3" stroke="#8172b3" stroke-opacity="0.4" stroke-width="0.5"/>
<path d="M357.2,222.4 L357.68,222.4 L358.16,222.4 L358.64,222.4 L359.13,222.4 L359.61,222.4 L360.09,222.4 L360.57,222.4 L361.05,222.4 L361.53,222.4 L362.01,222.4 L362.5,222.4 L362.98,222.4 L363.46,222.4 L363.94,222.4 L364.42,222.4 L364.9,222.4 L365.39,222.4 L365.87,222.4 L366.35,222.4 L366.83,222.4 L367.31,222.4 L367.79,222.4 L368.27,222.4 L368.76,222.4 L369.24,222.4 L369.72,222.4 L370.2,222.4 L370.68,222.39 L371.16,222.39 L371.64,222.39 L372.13,222.39 L372.61,222.39 L373.09,222.38 L373.57,222.37 L374.05,222.37 L374.53,222.36 L375.02,222.35 L375.5,222.33 L375.98,222.32 L376.46,222.3 L376.94,222.27 L377.42,222.24 L377.9,222.2 L378.39,222.15 L378.87,222.1 L379.35,222.03 L379.83,221.95 L380.31,221.86 L380.79,221.75 L381.27,221.62 L381.76,221.48 L382.24,221.31 L382.72,221.11 L383.2,220.89 L383.68,220.63 L384.16,220.34 L384.65,220.02 L385.13,219.66 L385.61,219.26 L386.09,218.81 L386.57,218.32 L387.05,217.79 L387.53,217.21 L388.02,216.58 L388.5,215.91 L388.98,215.19 L389.46,214.42 L389.94,213.61 L390.42,212.76 L390.9,211.88 L391.39,210.96 L391.87,210.01 L392.35,209.04 L392.83,208.05 L393.31,207.05 L393.79,206.05 L394.28,205.04 L394.76,204.04 L395.24,203.06 L395.72,202.09 L396.2,201.15 L396.68,200.24 L397.16,199.37 L397.65,198.55 L398.13,197.77 L398.61,197.04 L399.09,196.37 L399.57,195.76 L400.05,195.21 L400.53,194.73 L401.02,194.3 L401.5,193.95 L401.98,193.67 L402.46,193.45 L402.94,193.3 L403.42,193.23 L403.91,193.22 L404.39,193.28 L404.87,193.41 L405.35,193.62 L405.83,193.89 L406.31,194.23 L406.79,194.64 L407.28,195.11 L407.76,195.65 L408.24,196.25 L408.72,196.91 L409.2,197.62 L409.68,198.39 L410.16,199.21 L410.65,200.07 L411.13,200.97 L411.61,201.9 L412.09,202.86 L412.57,203.84 L413.05,204.84 L413.54,205.84 L414.02,206.85 L414.5,207.85 L414.98,208.85 L415.46,209.82 L415.94,210.77 L416.42,211.7 L416.91,212.59 L417.39,213.45 L417.87,214.26 L418.35,215.04 L418.83,215.77 L419.31,216.45 L419.8,217.09 L420.28,217.68 L420.76,218.22 L421.24,218.72 L421.72,219.17 L422.2,219.58 L422.68,219.95 L423.17,220.28 L423.65,220.58 L424.13,220.84 L424.61,221.07 L425.09,221.27 L425.57,221.44 L426.05,221.6 L426.54,221.73 L427.02,221.84 L427.5,221.94 L427.98,222.02 L428.46,222.08 L428.94,222.14 L429.43,222.19 L429.91,222.23 L430.39,222.26 L430.87,222.29 L431.35,222.31 L431.83,222.33 L432.31,222.35 L432.8,222.36 L433.28,222.37 L433.76,222.37 L434.24,222.38 L434.72,222.38 L435.2,222.39 L435.68,222.39 L436.17,222.39 L436.65,222.39 L437.13,222.4 L437.61,222.4 L438.09,222.4 L438.57,222.4 L439.06,222.4 L439.54,222.4 L440.02,222.4 L440.5,222.4 L440.98,222.4 L441.46,222.4 L441.94,222.4 L442.43,222.4 L442.91,222.4 L443.39,222.4 L443.87,222.4 L444.35,222.4 L444.83,222.4 L445.31,222.4 L445.8,222.4 L446.28,222.4 L446.76,222.4 L447.24,222.4 L447.72,222.4 L448.2,222.4 L448.69,222.4 L449.17,222.4 L449.65,222.4 L450.13,222.4 L450.61,222.4 L451.09,222.4 L451.57,222.4 L452.06,222.4 L452.54,222.4 L453.02,222.4 L453.5,222.4 L453.98,222.4 L454.46,222.4 L454.94,222.4 L455.43,222.4 L455.91,222.4 L456.39,222.4 L456.87,222.4 L457.35,222.4 L457.83,222.4 L458.31,222.4 L458.8,222.4 L459.28,222.4 L459.76,222.4 L460.24,222.4 L460.72,222.4 L461.2,222.4 L461.69,222.4 L462.17,222.4 L462.65,222.4 L463.13,222.4 L463.61,222.4 L464.09,222.4 L464.57,222.4 L465.06,222.4 L465.54,222.4 L466.02,222.4 L466.5,222.4 L466.98,222.4 L467.46,222.4 L467.94,222.4 L468.43,222.4 L468.91,222.4 L469.39,222.4 L469.87,222.4 L470.35,222.4 L470.83,222.4 L471.32,222.4 L471.8,222.4 L472.28,222.4 L472.76,222.4 L473.24,222.4 L473.72,222.4 L474.2,222.4 L474.69,222.4 L475.17,222.4 L475.65,222.4 L476.13,222.4 L476.61,222.4 L477.09,222.4 L477.57,222.4 L478.06,222.4 L478.54,222.4 L479.02,222.4 L479.5,222.4 L479.98,222.4 L480.46,222.4 L480.95,222.4 L481.43,222.4 L481.91,222.4 L482.39,222.4 L482.87,222.4 L483.35,222.4 L483.83,222.4 L484.32,222.4 L484.8,222.4 L485.28,222.4 L485.76,222.4 L486.24,222.4 L486.72,222.4 L487.21,222.4 L487.69,222.4 L488.17,222.4 L488.65,222.4 L489.13,222.4 L489.61,222.4 L490.09,222.4 L490.58,222.4 L491.06,222.4 L491.54,222.4 L492.02,222.4 L492.02,222.4 L357.2,222.4 Z" fill="#c44e52" fill-opacity="0.3" stroke="#c44e52" stroke-opacity="0.4" stroke-width="0.5"/>
<path d="M357.2,222.4 L357.68,222.4 L358.16,222.4 L358.64,222.4 L359.13,222.4 L359.61,222.4 L360.09,222.4 L360.57,222.4 L361.05,222.4 L361.53,222.4 L362.01,222.39 L362.5,222.39 L362.98,222.39 L363.46,222.39 L363.94,222.39 L364.42,222.39 L364.9,222.38 L365.39,222.38 L365.87,222.38 L366.35,222.37 L366.83,222.37 L367.31,222.36 L367.79,222.35 L368.27,222.34 L368.76,222.33 L369.24,222.32 L369.72,222.31 L370.2,222.29 L370.68,222.27 L371.16,222.25 L371.64,222.23 L372.13,222.2 L372.61,222.17 L373.09,222.13 L373.57,222.08 L374.05,222.04 L374.53,221.98 L375.02,221.91 L375.5,221.84 L375.98,221.76 L376.46,221.66 L376.94,221.56 L377.42,221.44 L377.9,221.3 L378.39,221.15 L378.87,220.98 L379.35,220.78 L379.83,220.57 L380.31,220.33 L380.79,220.06 L381.27,219.76 L381.76,219.43 L382.24,219.06 L382.72,218.66 L383.2,218.22 L383.68,217.74 L384.16,217.21 L384.65,216.65 L385.13,216.03 L385.61,215.37 L386.09,214.66 L386.57,213.9 L387.05,213.1 L387.53,212.25 L388.02,211.36 L388.5,210.43 L388.98,209.47 L389.46,208.47 L389.94,207.44 L390.42,206.4 L390.9,205.33 L391.39,204.26 L391.87,203.18 L392.35,202.11 L392.83,201.05 L393.31,200 L393.79,198.98 L394.28,198 L394.76,197.05 L395.24,196.15 L395.72,195.29 L396.2,194.49 L396.68,193.75 L397.16,193.07 L397.65,192.45 L398.13,191.9 L398.61,191.41 L399.09,190.99 L399.57,190.64 L400.05,190.35 L400.53,190.12 L401.02,189.96 L401.5,189.86 L401.98,189.82 L402.46,189.84 L402.94,189.91 L403.42,190.04 L403.91,190.22 L404.39,190.45 L404.87,190.72 L405.35,191.04 L405.83,191.4 L406.31,191.8 L406.79,192.24 L407.28,192.72 L407.76,193.23 L408.24,193.78 L408.72,194.35 L409.2,194.95 L409.68,195.57 L410.16,196.21 L410.65,196.86 L411.13,197.53 L411.61,198.21 L412.09,198.89 L412.57,199.57 L413.05,200.25 L413.54,200.93 L414.02,201.58 L414.5,202.23 L414.98,202.85 L415.46,203.45 L415.94,204.02 L416.42,204.57 L416.91,205.07 L417.39,205.54 L417.87,205.98 L418.35,206.37 L418.83,206.71 L419.31,207.02 L419.8,207.27 L420.28,207.49 L420.76,207.66 L421.24,207.78 L421.72,207.86 L422.2,207.9 L422.68,207.91 L423.17,207.87 L423.65,207.8 L424.13,207.71 L424.61,207.58 L425.09,207.43 L425.57,207.26 L426.05,207.08 L426.54,206.89 L427.02,206.69 L427.5,206.49 L427.98,206.3 L428.46,206.11 L428.94,205.93 L429.43,205.77 L429.91,205.63 L430.39,205.51 L430.87,205.42 L431.35,205.36 L431.83,205.33 L432.31,205.33 L432.8,205.37 L433.28,205.45 L433.76,205.56 L434.24,205.71 L434.72,205.9 L435.2,206.13 L435.68,206.39 L436.17,206.68 L436.65,207.01 L437.13,207.37 L437.61,207.75 L438.09,208.17 L438.57,208.6 L439.06,209.05 L439.54,209.52 L440.02,210 L440.5,210.49 L440.98,210.98 L441.46,211.47 L441.94,211.97 L442.43,212.46 L442.91,212.94 L443.39,213.41 L443.87,213.87 L444.35,214.32 L444.83,214.74 L445.31,215.15 L445.8,215.53 L446.28,215.9 L446.76,216.24 L447.24,216.56 L447.72,216.85 L448.2,217.12 L448.69,217.36 L449.17,217.59 L449.65,217.78 L450.13,217.96 L450.61,218.12 L451.09,218.25 L451.57,218.37 L452.06,218.47 L452.54,218.56 L453.02,218.64 L453.5,218.7 L453.98,218.75 L454.46,218.8 L454.94,218.84 L455.43,218.87 L455.91,218.9 L456.39,218.93 L456.87,218.96 L457.35,219 L457.83,219.03 L458.31,219.07 L458.8,219.11 L459.28,219.16 L459.76,219.21 L460.24,219.27 L460.72,219.34 L461.2,219.41 L461.69,219.49 L462.17,219.57 L462.65,219.66 L463.13,219.75 L463.61,219.85 L464.09,219.95 L464.57,220.06 L465.06,220.17 L465.54,220.28 L466.02,220.39 L466.5,220.5 L466.98,220.61 L467.46,220.72 L467.94,220.83 L468.43,220.94 L468.91,221.04 L469.39,221.14 L469.87,221.24 L470.35,221.34 L470.83,221.42 L471.32,221.51 L471.8,221.59 L472.28,221.67 L472.76,221.74 L473.24,221.8 L473.72,221.87 L474.2,221.92 L474.69,221.97 L475.17,222.02 L475.65,222.07 L476.13,222.11 L476.61,222.14 L477.09,222.17 L477.57,222.2 L478.06,222.23 L478.54,222.25 L479.02,222.27 L479.5,222.29 L479.98,222.31 L480.46,222.32 L480.95,222.33 L481.43,222.34 L481.91,222.35 L482.39,222.36 L482.87,222.37 L483.35,222.37 L483.83,222.38 L484.32,222.38 L484.8,222.38 L485.28,222.39 L485.76,222.39 L486.24,222.39 L486.72,222.39 L487.21,222.39 L487.69,222.4 L488.17,222.4 L488.65,222.4 L489.13,222.4 L489.61,222.4 L490.09,222.4 L490.58,222.4 L491.06,222.4 L491.54,222.4 L492.02,222.4" fill="none" stroke="#5b9cc0" stroke-opacity="0.9" stroke-width="0.65"/>
<line x1="204" y1="188.3" x2="204" y2="222.4" stroke="#333333" stroke-width="0.8" />
<line x1="204" y1="222.4" x2="338.7" y2="222.4" stroke="#333333" stroke-width="0.8" />
<line x1="204" y1="222.4" x2="204" y2="224.4" stroke="#333333" stroke-width="0.7" />
<text x="204" y="229.83" font-size="4.8" text-anchor="middle" fill="#000" textLength="7.08" lengthAdjust="spacingAndGlyphs" >−3</text>
<line x1="223.2" y1="222.4" x2="223.2" y2="224.4" stroke="#333333" stroke-width="0.7" />
<text x="223.2" y="229.83" font-size="4.8" text-anchor="middle" fill="#000" textLength="7.08" lengthAdjust="spacingAndGlyphs" >−2</text>
<line x1="242.4" y1="222.4" x2="242.4" y2="224.4" stroke="#333333" stroke-width="0.7" />
<text x="242.4" y="229.83" font-size="4.8" text-anchor="middle" fill="#000" textLength="7.08" lengthAdjust="spacingAndGlyphs" >−1</text>
<line x1="261.6" y1="222.4" x2="261.6" y2="224.4" stroke="#333333" stroke-width="0.7" />
<text x="261.6" y="229.83" font-size="4.8" text-anchor="middle" fill="#000" textLength="3.05" lengthAdjust="spacingAndGlyphs" >0</text>
<line x1="280.8" y1="222.4" x2="280.8" y2="224.4" stroke="#333333" stroke-width="0.7" />
<text x="280.8" y="229.83" font-size="4.8" text-anchor="middle" fill="#000" textLength="3.05" lengthAdjust="spacingAndGlyphs" >1</text>
<line x1="300" y1="222.4" x2="300" y2="224.4" stroke="#333333" stroke-width="0.7" />
<text x="300" y="229.83" font-size="4.8" text-anchor="middle" fill="#000" textLength="3.05" lengthAdjust="spacingAndGlyphs" >2</text>
<line x1="319.2" y1="222.4" x2="319.2" y2="224.4" stroke="#333333" stroke-width="0.7" />
<text x="319.2" y="229.83" font-size="4.8" text-anchor="middle" fill="#000" textLength="3.05" lengthAdjust="spacingAndGlyphs" >3</text>
<line x1="338.4" y1="222.4" x2="338.4" y2="224.4" stroke="#333333" stroke-width="0.7" />
<text x="338.4" y="229.83" font-size="4.8" text-anchor="middle" fill="#000" textLength="3.05" lengthAdjust="spacingAndGlyphs" >4</text>
<line x1="357.2" y1="188.3" x2="357.2" y2="222.4" stroke="#b8b8b8" stroke-width="0.8" />
<line x1="357.2" y1="222.4" x2="492.32" y2="222.4" stroke="#333333" stroke-width="0.8" />
<line x1="357.2" y1="222.4" x2="357.2" y2="224.4" stroke="#333333" stroke-width="0.7" />
<text x="357.2" y="229.83" font-size="4.8" text-anchor="middle" fill="#000" textLength="7.08" lengthAdjust="spacingAndGlyphs" >−3</text>
<line x1="376.46" y1="222.4" x2="376.46" y2="224.4" stroke="#333333" stroke-width="0.7" />
<text x="376.46" y="229.83" font-size="4.8" text-anchor="middle" fill="#000" textLength="7.08" lengthAdjust="spacingAndGlyphs" >−2</text>
<line x1="395.72" y1="222.4" x2="395.72" y2="224.4" stroke="#333333" stroke-width="0.7" />
<text x="395.72" y="229.83" font-size="4.8" text-anchor="middle" fill="#000" textLength="7.08" lengthAdjust="spacingAndGlyphs" >−1</text>
<line x1="414.98" y1="222.4" x2="414.98" y2="224.4" stroke="#333333" stroke-width="0.7" />
<text x="414.98" y="229.83" font-size="4.8" text-anchor="middle" fill="#000" textLength="3.05" lengthAdjust="spacingAndGlyphs" >0</text>
<line x1="434.24" y1="222.4" x2="434.24" y2="224.4" stroke="#333333" stroke-width="0.7" />
<text x="434.24" y="229.83" font-size="4.8" text-anchor="middle" fill="#000" textLength="3.05" lengthAdjust="spacingAndGlyphs" >1</text>
<line x1="453.5" y1="222.4" x2="453.5" y2="224.4" stroke="#333333" stroke-width="0.7" />
<text x="453.5" y="229.83" font-size="4.8" text-anchor="middle" fill="#000" textLength="3.05" lengthAdjust="spacingAndGlyphs" >2</text>
<line x1="472.76" y1="222.4" x2="472.76" y2="224.4" stroke="#333333" stroke-width="0.7" />
<text x="472.76" y="229.83" font-size="4.8" text-anchor="middle" fill="#000" textLength="3.05" lengthAdjust="spacingAndGlyphs" >3</text>
<line x1="492.02" y1="222.4" x2="492.02" y2="224.4" stroke="#333333" stroke-width="0.7" />
<text x="492.02" y="229.83" font-size="4.8" text-anchor="middle" fill="#000" textLength="3.05" lengthAdjust="spacingAndGlyphs" >4</text>
<text transform="translate(199.1,205.35) rotate(-90)" x="0" y="1.8" font-size="5" text-anchor="middle" fill="#000" textLength="32.37" lengthAdjust="spacingAndGlyphs" >MB-MDRC 1d</text>
<text transform="translate(352.6,205.35) rotate(-90)" x="0" y="1.8" font-size="5" text-anchor="middle" fill="#000" textLength="32.37" lengthAdjust="spacingAndGlyphs" >MB-MDRC 1d</text>
<text x="191.4" y="187.12" font-size="5.9" text-anchor="middle" fill="#000" font-weight="bold" textLength="2.57" lengthAdjust="spacingAndGlyphs" >f</text>
<text x="270.8" y="30.1" font-size="5" text-anchor="middle" fill="#000" textLength="44.05" lengthAdjust="spacingAndGlyphs" >Model Predictions</text>
<text x="424.5" y="30.1" font-size="5" text-anchor="middle" fill="#000" textLength="84.41" lengthAdjust="spacingAndGlyphs" >Model Predictions by <tspan font-style="italic">APOE</tspan> Status</text>
<text x="271.4" y="236.7" font-size="5" text-anchor="middle" fill="#000" textLength="27.44" lengthAdjust="spacingAndGlyphs" >Predictions</text>
<text x="481.5" y="182.2" font-size="3.9" text-anchor="middle" fill="#000" textLength="23.78" lengthAdjust="spacingAndGlyphs" ><tspan font-style="italic">APOE</tspan> status</text>
<rect x="473" y="185" width="9.3" height="3" fill="#4c72b0" fill-opacity="0.5"/>
<text x="484.2" y="187.9" font-size="3.9" text-anchor="start" fill="#000" textLength="4.96" lengthAdjust="spacingAndGlyphs" >22</text>
<rect x="473" y="190.83" width="9.3" height="3" fill="#dd8452" fill-opacity="0.5"/>
<text x="484.2" y="193.73" font-size="3.9" text-anchor="start" fill="#000" textLength="4.96" lengthAdjust="spacingAndGlyphs" >23</text>
<rect x="473" y="196.66" width="9.3" height="3" fill="#55a868" fill-opacity="0.5"/>
<text x="484.2" y="199.56" font-size="3.9" text-anchor="start" fill="#000" textLength="4.96" lengthAdjust="spacingAndGlyphs" >24</text>
<rect x="473" y="202.49" width="9.3" height="3" fill="#c44e52" fill-opacity="0.5"/>
<text x="484.2" y="205.39" font-size="3.9" text-anchor="start" fill="#000" textLength="4.96" lengthAdjust="spacingAndGlyphs" >33</text>
<rect x="473" y="208.32" width="9.3" height="3" fill="#8172b3" fill-opacity="0.5"/>
<text x="484.2" y="211.22" font-size="3.9" text-anchor="start" fill="#000" textLength="4.96" lengthAdjust="spacingAndGlyphs" >34</text>
<rect x="473" y="214.15" width="9.3" height="3" fill="#937860" fill-opacity="0.5"/>
<text x="484.2" y="217.05" font-size="3.9" text-anchor="start" fill="#000" textLength="4.96" lengthAdjust="spacingAndGlyphs" >44</text>
<text x="498.5" y="28.52" font-size="5.9" text-anchor="middle" fill="#000" font-weight="bold" textLength="4.22" lengthAdjust="spacingAndGlyphs" >g</text>
<text x="578" y="30.5" font-size="5" text-anchor="middle" fill="#000" textLength="126.45" lengthAdjust="spacingAndGlyphs" >Individuals in the Extreme Tails of GBM Predictions</text>
<path d="M520.88,66.36 L521.35,66.35 L521.82,66.33 L522.29,66.32 L522.76,66.31 L523.23,66.3 L523.7,66.28 L524.17,66.27 L524.64,66.25 L525.11,66.23 L525.58,66.21 L526.05,66.19 L526.52,66.16 L526.99,66.14 L527.46,66.1 L527.93,66.07 L528.4,66.03 L528.87,65.98 L529.34,65.93 L529.81,65.87 L530.28,65.8 L530.75,65.72 L531.22,65.63 L531.69,65.52 L532.16,65.4 L532.63,65.26 L533.1,65.1 L533.57,64.92 L534.04,64.72 L534.51,64.48 L534.98,64.22 L535.45,63.93 L535.92,63.59 L536.39,63.22 L536.86,62.81 L537.33,62.35 L537.8,61.84 L538.27,61.29 L538.74,60.68 L539.21,60.01 L539.68,59.3 L540.15,58.53 L540.62,57.7 L541.09,56.82 L541.56,55.88 L542.03,54.9 L542.5,53.86 L542.97,52.79 L543.44,51.67 L543.91,50.53 L544.38,49.36 L544.85,48.18 L545.32,46.99 L545.79,45.8 L546.26,44.63 L546.73,43.48 L547.2,42.36 L547.67,41.29 L548.14,40.28 L548.61,39.34 L549.08,38.47 L549.55,37.69 L550.02,37.01 L550.49,36.43 L550.96,35.97 L551.43,35.62 L551.9,35.4 L552.37,35.3 L552.84,35.32 L553.31,35.47 L553.78,35.75 L554.25,36.15 L554.72,36.66 L555.19,37.28 L555.66,38.01 L556.13,38.82 L556.6,39.73 L557.07,40.7 L557.54,41.74 L558.01,42.84 L558.48,43.97 L558.95,45.13 L559.42,46.32 L559.89,47.51 L560.36,48.7 L560.83,49.87 L561.3,51.03 L561.77,52.16 L562.24,53.25 L562.71,54.3 L563.18,55.3 L563.65,56.25 L564.12,57.14 L564.59,57.98 L565.06,58.74 L565.53,59.45 L566,60.09 L566.47,60.66 L566.94,61.17 L567.41,61.6 L567.88,61.97 L568.35,62.28 L568.82,62.51 L569.29,62.68 L569.76,62.78 L570.23,62.81 L570.7,62.78 L571.17,62.68 L571.64,62.52 L572.11,62.29 L572.58,61.99 L573.05,61.63 L573.52,61.21 L573.99,60.73 L574.46,60.2 L574.93,59.61 L575.4,58.97 L575.87,58.28 L576.34,57.56 L576.81,56.8 L577.28,56.01 L577.75,55.21 L578.22,54.41 L578.69,53.6 L579.16,52.8 L579.63,52.03 L580.1,51.28 L580.57,50.58 L581.04,49.93 L581.51,49.35 L581.98,48.83 L582.45,48.4 L582.92,48.05 L583.39,47.8 L583.86,47.64 L584.33,47.58 L584.8,47.62 L585.27,47.75 L585.74,47.99 L586.21,48.32 L586.68,48.74 L587.15,49.25 L587.62,49.82 L588.09,50.47 L588.56,51.17 L589.03,51.91 L589.5,52.7 L589.97,53.51 L590.44,54.33 L590.91,55.16 L591.38,55.99 L591.85,56.81 L592.32,57.6 L592.79,58.37 L593.26,59.1 L593.73,59.8 L594.2,60.45 L594.67,61.05 L595.14,61.6 L595.61,62.1 L596.08,62.55 L596.55,62.95 L597.02,63.3 L597.49,63.59 L597.96,63.84 L598.43,64.04 L598.9,64.19 L599.37,64.3 L599.84,64.38 L600.31,64.42 L600.78,64.43 L601.25,64.41 L601.72,64.37 L602.19,64.31 L602.66,64.23 L603.13,64.15 L603.6,64.05 L604.07,63.96 L604.54,63.86 L605.01,63.77 L605.48,63.69 L605.95,63.62 L606.42,63.56 L606.89,63.51 L607.36,63.48 L607.83,63.47 L608.3,63.48 L608.77,63.51 L609.24,63.56 L609.71,63.63 L610.18,63.71 L610.65,63.81 L611.12,63.92 L611.59,64.05 L612.06,64.18 L612.53,64.32 L613,64.47 L613.47,64.62 L613.94,64.77 L614.41,64.92 L614.88,65.07 L615.35,65.21 L615.82,65.35 L616.29,65.47 L616.76,65.6 L617.23,65.71 L617.7,65.81 L618.17,65.9 L618.64,65.99 L619.11,66.06 L619.58,66.13 L620.05,66.19 L620.52,66.24 L620.99,66.28 L621.46,66.32 L621.93,66.35 L622.4,66.38 L622.87,66.4 L623.34,66.42 L623.81,66.44 L624.28,66.45 L624.75,66.46 L625.22,66.47 L625.69,66.48 L626.16,66.48 L626.63,66.49 L627.1,66.49 L627.57,66.49 L628.04,66.49 L628.51,66.5 L628.98,66.5 L629.45,66.5 L629.92,66.5 L629.92,66.5 L520.88,66.5 Z" fill="#e3e7ea"/>
<path d="M520.88,66.36 L521.35,66.35 L521.82,66.33 L522.29,66.32 L522.76,66.31 L523.23,66.3 L523.7,66.28 L524.17,66.27 L524.64,66.25 L525.11,66.23 L525.58,66.21 L526.05,66.19 L526.52,66.16 L526.99,66.14 L527.46,66.1 L527.93,66.07 L528.4,66.03 L528.87,65.98 L529.34,65.93 L529.81,65.87 L530.28,65.8 L530.75,65.72 L531.22,65.63 L531.69,65.52 L532.16,65.4 L532.63,65.26 L533.1,65.1 L533.57,64.92 L534.04,64.72 L534.51,64.48 L534.98,64.22 L535.45,63.93 L535.92,63.59 L536.39,63.22 L536.86,62.81 L537.33,62.35 L537.8,61.84 L538.27,61.29 L538.74,60.68 L539.21,60.01 L539.68,59.3 L540.15,58.53 L540.62,57.7 L541.09,56.82 L541.56,55.88 L542.03,54.9 L542.5,53.86 L542.97,52.79 L542.97,66.5 L520.88,66.5 Z" fill="#d4706a"/>
<path d="M598.43,64.04 L598.9,64.19 L599.37,64.3 L599.84,64.38 L600.31,64.42 L600.78,64.43 L601.25,64.41 L601.72,64.37 L602.19,64.31 L602.66,64.23 L603.13,64.15 L603.6,64.05 L604.07,63.96 L604.54,63.86 L605.01,63.77 L605.48,63.69 L605.95,63.62 L606.42,63.56 L606.89,63.51 L607.36,63.48 L607.83,63.47 L608.3,63.48 L608.77,63.51 L609.24,63.56 L609.71,63.63 L610.18,63.71 L610.65,63.81 L611.12,63.92 L611.59,64.05 L612.06,64.18 L612.53,64.32 L613,64.47 L613.47,64.62 L613.94,64.77 L614.41,64.92 L614.88,65.07 L615.35,65.21 L615.82,65.35 L616.29,65.47 L616.76,65.6 L617.23,65.71 L617.7,65.81 L618.17,65.9 L618.64,65.99 L619.11,66.06 L619.58,66.13 L620.05,66.19 L620.52,66.24 L620.99,66.28 L621.46,66.32 L621.93,66.35 L622.4,66.38 L622.87,66.4 L623.34,66.42 L623.81,66.44 L624.28,66.45 L624.75,66.46 L625.22,66.47 L625.69,66.48 L626.16,66.48 L626.63,66.49 L627.1,66.49 L627.57,66.49 L628.04,66.49 L628.51,66.5 L628.98,66.5 L629.45,66.5 L629.92,66.5 L629.92,66.5 L598.43,66.5 Z" fill="#5b9bd5"/>
<polyline points="528.7,66.5 532.2,118.0 546.6,170.0 556.0,222.3" fill="none" stroke="#fee9df" stroke-width="0.4" stroke-opacity="0.36"/>
<polyline points="527.3,66.5 533.1,118.0 540.3,170.0 550.3,222.3" fill="none" stroke="#fee9df" stroke-width="0.4" stroke-opacity="0.36"/>
<polyline points="527.0,66.5 544.5,118.0 545.6,170.0 551.1,222.3" fill="none" stroke="#fee9df" stroke-width="0.4" stroke-opacity="0.36"/>
<polyline points="528.0,66.5 542.7,118.0 522.5,170.0 550.9,222.3" fill="none" stroke="#fee9df" stroke-width="0.4" stroke-opacity="0.36"/>
<polyline points="527.4,66.5 526.5,118.0 539.7,170.0 536.5,222.3" fill="none" stroke="#fee9df" stroke-width="0.4" stroke-opacity="0.36"/>
<polyline points="527.2,66.5 543.9,118.0 551.9,170.0 549.3,222.3" fill="none" stroke="#fee9df" stroke-width="0.4" stroke-opacity="0.36"/>
<polyline points="528.6,66.5 534.3,118.0 545.6,170.0 565.1,222.3" fill="none" stroke="#fee9df" stroke-width="0.4" stroke-opacity="0.36"/>
<polyline points="528.3,66.5 539.1,118.0 535.9,170.0 536.3,222.3" fill="none" stroke="#fee9df" stroke-width="0.4" stroke-opacity="0.36"/>
<polyline points="527.8,66.5 546.3,118.0 518.0,170.0 548.2,222.3" fill="none" stroke="#fee9df" stroke-width="0.4" stroke-opacity="0.36"/>
<polyline points="528.6,66.5 529.7,118.0 517.0,170.0 532.5,222.3" fill="none" stroke="#fee9df" stroke-width="0.4" stroke-opacity="0.36"/>
<polyline points="527.2,66.5 541.9,118.0 547.6,170.0 540.9,222.3" fill="none" stroke="#fee9df" stroke-width="0.4" stroke-opacity="0.36"/>
<polyline points="528.7,66.5 547.4,118.0 533.0,170.0 553.7,222.3" fill="none" stroke="#fee9df" stroke-width="0.4" stroke-opacity="0.36"/>
<polyline points="528.2,66.5 545.4,118.0 546.6,170.0 568.4,222.3" fill="none" stroke="#fee9df" stroke-width="0.4" stroke-opacity="0.36"/>
<polyline points="526.8,66.5 528.1,118.0 542.7,170.0 555.0,222.3" fill="none" stroke="#fee9df" stroke-width="0.4" stroke-opacity="0.36"/>
<polyline points="528.1,66.5 530.0,118.0 516.7,170.0 568.4,222.3" fill="none" stroke="#fee9df" stroke-width="0.4" stroke-opacity="0.36"/>
<polyline points="527.8,66.5 541.6,118.0 535.4,170.0 545.7,222.3" fill="none" stroke="#fee9df" stroke-width="0.4" stroke-opacity="0.36"/>
<polyline points="527.0,66.5 526.5,118.0 537.8,170.0 527.5,222.3" fill="none" stroke="#fee9df" stroke-width="0.4" stroke-opacity="0.36"/>
<polyline points="527.6,66.5 533.9,118.0 543.7,170.0 536.8,222.3" fill="none" stroke="#fee9df" stroke-width="0.4" stroke-opacity="0.36"/>
<polyline points="528.5,66.5 542.7,118.0 553.2,170.0 547.5,222.3" fill="none" stroke="#fee9df" stroke-width="0.4" stroke-opacity="0.36"/>
<polyline points="527.9,66.5 541.8,118.0 531.2,170.0 527.5,222.3" fill="none" stroke="#fee9df" stroke-width="0.4" stroke-opacity="0.36"/>
<polyline points="526.7,66.5 527.9,118.0 541.3,170.0 532.8,222.3" fill="none" stroke="#fee9df" stroke-width="0.4" stroke-opacity="0.36"/>
<polyline points="527.4,66.5 568.0,118.0 553.2,170.0 546.9,222.3" fill="none" stroke="#fee9df" stroke-width="0.4" stroke-opacity="0.36"/>
<polyline points="527.8,66.5 528.3,118.0 529.4,170.0 536.8,222.3" fill="none" stroke="#fee9df" stroke-width="0.4" stroke-opacity="0.36"/>
<polyline points="527.4,66.5 540.0,118.0 552.9,170.0 539.7,222.3" fill="none" stroke="#fee9df" stroke-width="0.4" stroke-opacity="0.36"/>
<polyline points="527.5,66.5 535.1,118.0 535.6,170.0 541.8,222.3" fill="none" stroke="#fee9df" stroke-width="0.4" stroke-opacity="0.36"/>
<polyline points="527.9,66.5 539.7,118.0 549.0,170.0 557.6,222.3" fill="none" stroke="#fee9df" stroke-width="0.4" stroke-opacity="0.36"/>
<polyline points="527.6,66.5 542.4,118.0 534.4,170.0 568.4,222.3" fill="none" stroke="#fee9df" stroke-width="0.4" stroke-opacity="0.36"/>
<polyline points="526.8,66.5 532.0,118.0 540.5,170.0 550.3,222.3" fill="none" stroke="#fee9df" stroke-width="0.4" stroke-opacity="0.36"/>
<polyline points="528.6,66.5 539.0,118.0 554.8,170.0 568.4,222.3" fill="none" stroke="#fee9df" stroke-width="0.4" stroke-opacity="0.36"/>
<polyline points="528.5,66.5 541.0,118.0 531.3,170.0 527.5,222.3" fill="none" stroke="#fee9df" stroke-width="0.4" stroke-opacity="0.36"/>
<polyline points="534.2,66.5 544.3,118.0 526.8,170.0 544.1,222.3" fill="none" stroke="#fee4d8" stroke-width="0.4" stroke-opacity="0.36"/>
<polyline points="529.1,66.5 526.8,118.0 541.1,170.0 544.6,222.3" fill="none" stroke="#fee4d8" stroke-width="0.4" stroke-opacity="0.36"/>
<polyline points="542.5,66.5 560.4,118.0 540.0,170.0 544.3,222.3" fill="none" stroke="#fee3d7" stroke-width="0.4" stroke-opacity="0.36"/>
<polyline points="533.4,66.5 543.2,118.0 529.1,170.0 545.4,222.3" fill="none" stroke="#fee3d7" stroke-width="0.4" stroke-opacity="0.36"/>
<polyline points="536.6,66.5 536.0,118.0 522.1,170.0 544.5,222.3" fill="none" stroke="#fee3d7" stroke-width="0.4" stroke-opacity="0.36"/>
<polyline points="534.0,66.5 526.5,118.0 564.1,170.0 537.0,222.3" fill="none" stroke="#fee3d6" stroke-width="0.4" stroke-opacity="0.36"/>
<polyline points="538.9,66.5 546.7,118.0 561.5,170.0 568.4,222.3" fill="none" stroke="#fee3d6" stroke-width="0.4" stroke-opacity="0.36"/>
<polyline points="538.5,66.5 554.8,118.0 540.3,170.0 527.8,222.3" fill="none" stroke="#fee3d6" stroke-width="0.4" stroke-opacity="0.36"/>
<polyline points="535.7,66.5 547.2,118.0 539.9,170.0 530.6,222.3" fill="none" stroke="#fee3d6" stroke-width="0.4" stroke-opacity="0.36"/>
<polyline points="532.2,66.5 534.0,118.0 539.7,170.0 546.6,222.3" fill="none" stroke="#fee3d6" stroke-width="0.4" stroke-opacity="0.36"/>
<polyline points="528.9,66.5 526.5,118.0 538.4,170.0 551.5,222.3" fill="none" stroke="#fee2d5" stroke-width="0.4" stroke-opacity="0.36"/>
<polyline points="537.1,66.5 555.1,118.0 526.7,170.0 538.2,222.3" fill="none" stroke="#fee1d4" stroke-width="0.4" stroke-opacity="0.36"/>
<polyline points="531.8,66.5 538.3,118.0 551.8,170.0 541.8,222.3" fill="none" stroke="#fee1d4" stroke-width="0.4" stroke-opacity="0.36"/>
<polyline points="542.1,66.5 551.4,118.0 550.8,170.0 550.4,222.3" fill="none" stroke="#fee1d4" stroke-width="0.4" stroke-opacity="0.36"/>
<polyline points="541.6,66.5 543.6,118.0 524.5,170.0 554.6,222.3" fill="none" stroke="#fee1d4" stroke-width="0.4" stroke-opacity="0.36"/>
<polyline points="531.6,66.5 536.4,118.0 529.3,170.0 560.9,222.3" fill="none" stroke="#fee1d3" stroke-width="0.4" stroke-opacity="0.36"/>
<polyline points="542.0,66.5 548.5,118.0 541.8,170.0 547.1,222.3" fill="none" stroke="#fee1d3" stroke-width="0.4" stroke-opacity="0.36"/>
<polyline points="541.4,66.5 553.7,118.0 523.1,170.0 528.0,222.3" fill="none" stroke="#fee1d3" stroke-width="0.4" stroke-opacity="0.36"/>
<polyline points="541.1,66.5 547.0,118.0 547.9,170.0 557.4,222.3" fill="none" stroke="#fee1d3" stroke-width="0.4" stroke-opacity="0.36"/>
<polyline points="538.4,66.5 544.3,118.0 551.0,170.0 540.8,222.3" fill="none" stroke="#fee0d2" stroke-width="0.4" stroke-opacity="0.36"/>
<polyline points="530.5,66.5 535.2,118.0 539.0,170.0 536.2,222.3" fill="none" stroke="#fee0d2" stroke-width="0.4" stroke-opacity="0.36"/>
<polyline points="530.6,66.5 548.9,118.0 549.2,170.0 539.3,222.3" fill="none" stroke="#fee0d2" stroke-width="0.4" stroke-opacity="0.36"/>
<polyline points="529.5,66.5 536.1,118.0 539.1,170.0 558.9,222.3" fill="none" stroke="#fee0d2" stroke-width="0.4" stroke-opacity="0.36"/>
<polyline points="537.4,66.5 536.2,118.0 526.3,170.0 550.1,222.3" fill="none" stroke="#fedfd0" stroke-width="0.4" stroke-opacity="0.36"/>
<polyline points="537.0,66.5 554.8,118.0 564.1,170.0 537.2,222.3" fill="none" stroke="#fedfd0" stroke-width="0.4" stroke-opacity="0.36"/>
<polyline points="533.9,66.5 584.6,118.0 553.8,170.0 558.7,222.3" fill="none" stroke="#fedfd0" stroke-width="0.4" stroke-opacity="0.36"/>
<polyline points="532.0,66.5 541.9,118.0 542.2,170.0 552.9,222.3" fill="none" stroke="#fedecf" stroke-width="0.4" stroke-opacity="0.36"/>
<polyline points="532.2,66.5 537.2,118.0 538.1,170.0 562.5,222.3" fill="none" stroke="#fedecf" stroke-width="0.4" stroke-opacity="0.36"/>
<polyline points="532.7,66.5 554.0,118.0 525.1,170.0 553.4,222.3" fill="none" stroke="#fedecf" stroke-width="0.4" stroke-opacity="0.36"/>
<polyline points="532.6,66.5 540.6,118.0 541.0,170.0 557.5,222.3" fill="none" stroke="#fedecf" stroke-width="0.4" stroke-opacity="0.36"/>
<polyline points="541.9,66.5 545.0,118.0 523.0,170.0 558.2,222.3" fill="none" stroke="#fedbcc" stroke-width="0.4" stroke-opacity="0.36"/>
<polyline points="536.0,66.5 530.6,118.0 539.5,170.0 539.4,222.3" fill="none" stroke="#fedbcc" stroke-width="0.4" stroke-opacity="0.36"/>
<polyline points="535.1,66.5 562.6,118.0 552.5,170.0 562.0,222.3" fill="none" stroke="#fedbcc" stroke-width="0.4" stroke-opacity="0.36"/>
<polyline points="534.7,66.5 538.1,118.0 555.9,170.0 561.6,222.3" fill="none" stroke="#fedbcc" stroke-width="0.4" stroke-opacity="0.36"/>
<polyline points="532.9,66.5 545.0,118.0 561.3,170.0 557.2,222.3" fill="none" stroke="#fedbcc" stroke-width="0.4" stroke-opacity="0.36"/>
<polyline points="531.6,66.5 562.3,118.0 561.2,170.0 541.3,222.3" fill="none" stroke="#fedbcc" stroke-width="0.4" stroke-opacity="0.36"/>
<polyline points="541.8,66.5 564.4,118.0 573.4,170.0 553.6,222.3" fill="none" stroke="#fedbcc" stroke-width="0.4" stroke-opacity="0.36"/>
<polyline points="531.3,66.5 567.7,118.0 578.4,170.0 556.2,222.3" fill="none" stroke="#fedbcc" stroke-width="0.4" stroke-opacity="0.36"/>
<polyline points="540.0,66.5 583.7,118.0 553.7,170.0 560.3,222.3" fill="none" stroke="#fedbcc" stroke-width="0.4" stroke-opacity="0.36"/>
<polyline points="541.0,66.5 539.6,118.0 558.4,170.0 544.2,222.3" fill="none" stroke="#fedaca" stroke-width="0.4" stroke-opacity="0.36"/>
<polyline points="540.0,66.5 536.6,118.0 523.6,170.0 550.6,222.3" fill="none" stroke="#fed9c9" stroke-width="0.4" stroke-opacity="0.36"/>
<polyline points="542.2,66.5 548.4,118.0 539.3,170.0 530.5,222.3" fill="none" stroke="#fed9c9" stroke-width="0.4" stroke-opacity="0.36"/>
<polyline points="541.1,66.5 552.4,118.0 548.2,170.0 540.5,222.3" fill="none" stroke="#fed8c7" stroke-width="0.4" stroke-opacity="0.36"/>
<polyline points="541.4,66.5 546.9,118.0 533.0,170.0 550.4,222.3" fill="none" stroke="#fdd7c6" stroke-width="0.4" stroke-opacity="0.36"/>
<polyline points="532.4,66.5 528.3,118.0 528.4,170.0 561.0,222.3" fill="none" stroke="#fdd7c6" stroke-width="0.4" stroke-opacity="0.36"/>
<polyline points="535.9,66.5 541.6,118.0 522.9,170.0 552.7,222.3" fill="none" stroke="#fdd5c4" stroke-width="0.4" stroke-opacity="0.36"/>
<polyline points="536.1,66.5 549.3,118.0 517.4,170.0 543.5,222.3" fill="none" stroke="#fdd5c4" stroke-width="0.4" stroke-opacity="0.36"/>
<polyline points="538.3,66.5 535.1,118.0 564.1,170.0 542.1,222.3" fill="none" stroke="#fdd5c4" stroke-width="0.4" stroke-opacity="0.36"/>
<polyline points="542.9,66.5 543.3,118.0 521.4,170.0 540.0,222.3" fill="none" stroke="#fdd4c2" stroke-width="0.4" stroke-opacity="0.36"/>
<polyline points="533.3,66.5 539.1,118.0 545.6,170.0 528.7,222.3" fill="none" stroke="#fdd4c2" stroke-width="0.4" stroke-opacity="0.36"/>
<polyline points="542.3,66.5 540.2,118.0 527.0,170.0 557.5,222.3" fill="none" stroke="#fdd3c1" stroke-width="0.4" stroke-opacity="0.36"/>
<polyline points="534.9,66.5 532.1,118.0 524.9,170.0 548.6,222.3" fill="none" stroke="#fdd3c1" stroke-width="0.4" stroke-opacity="0.36"/>
<polyline points="533.6,66.5 539.0,118.0 539.5,170.0 540.8,222.3" fill="none" stroke="#fdd3c1" stroke-width="0.4" stroke-opacity="0.36"/>
<polyline points="539.8,66.5 550.2,118.0 550.4,170.0 568.1,222.3" fill="none" stroke="#fdd3c1" stroke-width="0.4" stroke-opacity="0.36"/>
<polyline points="535.8,66.5 539.8,118.0 548.5,170.0 554.2,222.3" fill="none" stroke="#fdd3c1" stroke-width="0.4" stroke-opacity="0.36"/>
<polyline points="533.6,66.5 548.4,118.0 530.7,170.0 537.2,222.3" fill="none" stroke="#fdd3c1" stroke-width="0.4" stroke-opacity="0.36"/>
<polyline points="539.9,66.5 526.5,118.0 550.9,170.0 567.1,222.3" fill="none" stroke="#fdd3c1" stroke-width="0.4" stroke-opacity="0.36"/>
<polyline points="540.1,66.5 544.8,118.0 521.3,170.0 542.4,222.3" fill="none" stroke="#fdd2bf" stroke-width="0.4" stroke-opacity="0.36"/>
<polyline points="535.2,66.5 538.4,118.0 545.2,170.0 539.1,222.3" fill="none" stroke="#fdd2bf" stroke-width="0.4" stroke-opacity="0.36"/>
<polyline points="530.1,66.5 530.8,118.0 544.6,170.0 542.8,222.3" fill="none" stroke="#fdd1be" stroke-width="0.4" stroke-opacity="0.36"/>
<polyline points="538.7,66.5 539.3,118.0 531.1,170.0 557.8,222.3" fill="none" stroke="#fdd1be" stroke-width="0.4" stroke-opacity="0.36"/>
<polyline points="539.2,66.5 532.4,118.0 521.6,170.0 535.7,222.3" fill="none" stroke="#fdd0bc" stroke-width="0.4" stroke-opacity="0.36"/>
<polyline points="530.2,66.5 559.9,118.0 547.1,170.0 544.9,222.3" fill="none" stroke="#fdd0bc" stroke-width="0.4" stroke-opacity="0.36"/>
<polyline points="533.8,66.5 534.1,118.0 516.7,170.0 545.4,222.3" fill="none" stroke="#fdd0bc" stroke-width="0.4" stroke-opacity="0.36"/>
<polyline points="528.9,66.5 541.3,118.0 540.3,170.0 544.5,222.3" fill="none" stroke="#fdd0bc" stroke-width="0.4" stroke-opacity="0.36"/>
<polyline points="542.7,66.5 549.0,118.0 528.0,170.0 534.8,222.3" fill="none" stroke="#fdd0bc" stroke-width="0.4" stroke-opacity="0.36"/>
<polyline points="536.8,66.5 539.4,118.0 544.9,170.0 555.1,222.3" fill="none" stroke="#fdcebb" stroke-width="0.4" stroke-opacity="0.36"/>
<polyline points="530.8,66.5 541.0,118.0 542.6,170.0 546.3,222.3" fill="none" stroke="#fdcebb" stroke-width="0.4" stroke-opacity="0.36"/>
<polyline points="529.1,66.5 541.7,118.0 528.8,170.0 557.2,222.3" fill="none" stroke="#fdcebb" stroke-width="0.4" stroke-opacity="0.36"/>
<polyline points="538.3,66.5 560.4,118.0 546.7,170.0 562.0,222.3" fill="none" stroke="#fdcdb9" stroke-width="0.4" stroke-opacity="0.36"/>
<polyline points="533.3,66.5 545.4,118.0 540.3,170.0 551.4,222.3" fill="none" stroke="#fdccb8" stroke-width="0.4" stroke-opacity="0.36"/>
<polyline points="534.0,66.5 533.4,118.0 532.7,170.0 534.2,222.3" fill="none" stroke="#fdccb8" stroke-width="0.4" stroke-opacity="0.36"/>
<polyline points="536.2,66.5 547.6,118.0 527.6,170.0 538.5,222.3" fill="none" stroke="#fdcbb6" stroke-width="0.4" stroke-opacity="0.36"/>
<polyline points="530.5,66.5 542.3,118.0 526.1,170.0 560.0,222.3" fill="none" stroke="#fdcbb6" stroke-width="0.4" stroke-opacity="0.36"/>
<polyline points="529.6,66.5 536.7,118.0 554.0,170.0 548.6,222.3" fill="none" stroke="#fdcbb6" stroke-width="0.4" stroke-opacity="0.36"/>
<polyline points="533.4,66.5 542.0,118.0 543.7,170.0 551.3,222.3" fill="none" stroke="#fdcbb6" stroke-width="0.4" stroke-opacity="0.36"/>
<polyline points="529.8,66.5 549.1,118.0 532.1,170.0 540.2,222.3" fill="none" stroke="#fdcbb6" stroke-width="0.4" stroke-opacity="0.36"/>
<polyline points="532.0,66.5 545.1,118.0 542.6,170.0 549.6,222.3" fill="none" stroke="#fdcab5" stroke-width="0.4" stroke-opacity="0.36"/>
<polyline points="541.7,66.5 551.5,118.0 564.1,170.0 564.7,222.3" fill="none" stroke="#fdc9b3" stroke-width="0.4" stroke-opacity="0.36"/>
<polyline points="539.3,66.5 549.1,118.0 531.7,170.0 543.8,222.3" fill="none" stroke="#fdc9b3" stroke-width="0.4" stroke-opacity="0.36"/>
<polyline points="531.9,66.5 548.4,118.0 559.4,170.0 550.0,222.3" fill="none" stroke="#fdc9b3" stroke-width="0.4" stroke-opacity="0.36"/>
<polyline points="540.6,66.5 544.1,118.0 529.8,170.0 547.4,222.3" fill="none" stroke="#fdc9b3" stroke-width="0.4" stroke-opacity="0.36"/>
<polyline points="542.1,66.5 536.4,118.0 549.8,170.0 541.3,222.3" fill="none" stroke="#fdc9b3" stroke-width="0.4" stroke-opacity="0.36"/>
<polyline points="535.5,66.5 549.2,118.0 553.0,170.0 562.1,222.3" fill="none" stroke="#fdc9b3" stroke-width="0.4" stroke-opacity="0.36"/>
<polyline points="538.7,66.5 536.8,118.0 539.2,170.0 534.7,222.3" fill="none" stroke="#fdc7b2" stroke-width="0.4" stroke-opacity="0.36"/>
<polyline points="529.8,66.5 528.8,118.0 555.3,170.0 548.0,222.3" fill="none" stroke="#fdc7b2" stroke-width="0.4" stroke-opacity="0.36"/>
<polyline points="542.9,66.5 536.6,118.0 527.3,170.0 538.6,222.3" fill="none" stroke="#fdc7b2" stroke-width="0.4" stroke-opacity="0.36"/>
<polyline points="528.9,66.5 539.6,118.0 537.0,170.0 539.4,222.3" fill="none" stroke="#fdc7b2" stroke-width="0.4" stroke-opacity="0.36"/>
<polyline points="529.4,66.5 535.8,118.0 547.7,170.0 545.9,222.3" fill="none" stroke="#fdc7b2" stroke-width="0.4" stroke-opacity="0.36"/>
<polyline points="533.2,66.5 536.0,118.0 537.3,170.0 539.9,222.3" fill="none" stroke="#fdc7b2" stroke-width="0.4" stroke-opacity="0.36"/>
<polyline points="536.7,66.5 548.9,118.0 546.6,170.0 554.1,222.3" fill="none" stroke="#fdc6b0" stroke-width="0.4" stroke-opacity="0.36"/>
<polyline points="541.6,66.5 547.5,118.0 546.1,170.0 546.5,222.3" fill="none" stroke="#fdc6b0" stroke-width="0.4" stroke-opacity="0.36"/>
<polyline points="529.0,66.5 534.3,118.0 560.7,170.0 559.3,222.3" fill="none" stroke="#fdc6b0" stroke-width="0.4" stroke-opacity="0.36"/>
<polyline points="530.5,66.5 557.6,118.0 530.8,170.0 551.9,222.3" fill="none" stroke="#fdc6b0" stroke-width="0.4" stroke-opacity="0.36"/>
<polyline points="538.3,66.5 539.8,118.0 561.3,170.0 532.7,222.3" fill="none" stroke="#fdc6b0" stroke-width="0.4" stroke-opacity="0.36"/>
<polyline points="531.5,66.5 543.5,118.0 541.7,170.0 554.3,222.3" fill="none" stroke="#fdc5ae" stroke-width="0.4" stroke-opacity="0.36"/>
<polyline points="528.8,66.5 541.3,118.0 542.9,170.0 554.9,222.3" fill="none" stroke="#fdc5ae" stroke-width="0.4" stroke-opacity="0.36"/>
<polyline points="530.7,66.5 532.8,118.0 541.7,170.0 539.8,222.3" fill="none" stroke="#fcc4ad" stroke-width="0.4" stroke-opacity="0.36"/>
<polyline points="535.5,66.5 546.2,118.0 531.7,170.0 550.8,222.3" fill="none" stroke="#fcc4ad" stroke-width="0.4" stroke-opacity="0.36"/>
<polyline points="539.6,66.5 546.3,118.0 534.5,170.0 552.5,222.3" fill="none" stroke="#fcc4ad" stroke-width="0.4" stroke-opacity="0.36"/>
<polyline points="530.4,66.5 541.4,118.0 542.1,170.0 540.1,222.3" fill="none" stroke="#fcc4ad" stroke-width="0.4" stroke-opacity="0.36"/>
<polyline points="535.7,66.5 544.2,118.0 521.8,170.0 545.2,222.3" fill="none" stroke="#fcc4ad" stroke-width="0.4" stroke-opacity="0.36"/>
<polyline points="534.0,66.5 526.5,118.0 556.0,170.0 549.3,222.3" fill="none" stroke="#fcc4ad" stroke-width="0.4" stroke-opacity="0.36"/>
<polyline points="532.5,66.5 541.3,118.0 539.4,170.0 565.6,222.3" fill="none" stroke="#fcc3ab" stroke-width="0.4" stroke-opacity="0.36"/>
<polyline points="534.1,66.5 545.2,118.0 554.1,170.0 530.9,222.3" fill="none" stroke="#fcc3ab" stroke-width="0.4" stroke-opacity="0.36"/>
<polyline points="541.5,66.5 553.1,118.0 554.9,170.0 545.8,222.3" fill="none" stroke="#fcc2aa" stroke-width="0.4" stroke-opacity="0.36"/>
<polyline points="532.2,66.5 545.6,118.0 516.7,170.0 556.8,222.3" fill="none" stroke="#fcc2aa" stroke-width="0.4" stroke-opacity="0.36"/>
<polyline points="534.5,66.5 537.9,118.0 546.4,170.0 566.3,222.3" fill="none" stroke="#fcc2aa" stroke-width="0.4" stroke-opacity="0.36"/>
<polyline points="535.8,66.5 540.9,118.0 549.2,170.0 553.4,222.3" fill="none" stroke="#fcc1a8" stroke-width="0.4" stroke-opacity="0.36"/>
<polyline points="529.0,66.5 526.5,118.0 528.3,170.0 547.5,222.3" fill="none" stroke="#fcc1a8" stroke-width="0.4" stroke-opacity="0.36"/>
<polyline points="538.4,66.5 556.0,118.0 546.3,170.0 538.5,222.3" fill="none" stroke="#fcc1a8" stroke-width="0.4" stroke-opacity="0.36"/>
<polyline points="531.2,66.5 547.3,118.0 529.2,170.0 542.7,222.3" fill="none" stroke="#fcbfa7" stroke-width="0.4" stroke-opacity="0.36"/>
<polyline points="533.2,66.5 537.7,118.0 550.8,170.0 558.7,222.3" fill="none" stroke="#fcbfa7" stroke-width="0.4" stroke-opacity="0.36"/>
<polyline points="536.2,66.5 541.5,118.0 524.7,170.0 567.1,222.3" fill="none" stroke="#fcbfa7" stroke-width="0.4" stroke-opacity="0.36"/>
<polyline points="535.8,66.5 541.1,118.0 534.1,170.0 550.8,222.3" fill="none" stroke="#fcbea5" stroke-width="0.4" stroke-opacity="0.36"/>
<polyline points="542.9,66.5 545.5,118.0 539.2,170.0 545.6,222.3" fill="none" stroke="#fcbda4" stroke-width="0.4" stroke-opacity="0.36"/>
<polyline points="533.0,66.5 545.7,118.0 538.8,170.0 537.3,222.3" fill="none" stroke="#fcbda4" stroke-width="0.4" stroke-opacity="0.36"/>
<polyline points="538.2,66.5 544.6,118.0 526.2,170.0 547.3,222.3" fill="none" stroke="#fcbda4" stroke-width="0.4" stroke-opacity="0.36"/>
<polyline points="534.1,66.5 535.4,118.0 542.2,170.0 552.2,222.3" fill="none" stroke="#fcbda4" stroke-width="0.4" stroke-opacity="0.36"/>
<polyline points="534.1,66.5 538.0,118.0 562.3,170.0 555.1,222.3" fill="none" stroke="#fcbca2" stroke-width="0.4" stroke-opacity="0.36"/>
<polyline points="542.7,66.5 548.9,118.0 552.8,170.0 532.9,222.3" fill="none" stroke="#fcbca2" stroke-width="0.4" stroke-opacity="0.36"/>
<polyline points="536.2,66.5 537.3,118.0 529.1,170.0 541.5,222.3" fill="none" stroke="#fcbca2" stroke-width="0.4" stroke-opacity="0.36"/>
<polyline points="528.9,66.5 533.5,118.0 541.4,170.0 554.5,222.3" fill="none" stroke="#fcbba1" stroke-width="0.4" stroke-opacity="0.36"/>
<polyline points="539.1,66.5 538.8,118.0 551.1,170.0 553.8,222.3" fill="none" stroke="#fcb99f" stroke-width="0.4" stroke-opacity="0.36"/>
<polyline points="537.4,66.5 538.0,118.0 526.1,170.0 550.0,222.3" fill="none" stroke="#fcb99f" stroke-width="0.4" stroke-opacity="0.36"/>
<polyline points="536.9,66.5 543.6,118.0 540.1,170.0 548.0,222.3" fill="none" stroke="#fcb99f" stroke-width="0.4" stroke-opacity="0.36"/>
<polyline points="542.7,66.5 548.7,118.0 553.3,170.0 568.4,222.3" fill="none" stroke="#fcb99f" stroke-width="0.4" stroke-opacity="0.36"/>
<polyline points="533.1,66.5 534.3,118.0 516.7,170.0 551.1,222.3" fill="none" stroke="#fcb99f" stroke-width="0.4" stroke-opacity="0.36"/>
<polyline points="541.7,66.5 549.4,118.0 542.8,170.0 532.5,222.3" fill="none" stroke="#fcb99f" stroke-width="0.4" stroke-opacity="0.36"/>
<polyline points="532.7,66.5 549.6,118.0 544.0,170.0 531.3,222.3" fill="none" stroke="#fcb99f" stroke-width="0.4" stroke-opacity="0.36"/>
<polyline points="528.8,66.5 538.3,118.0 552.0,170.0 531.9,222.3" fill="none" stroke="#fcb89e" stroke-width="0.4" stroke-opacity="0.36"/>
<polyline points="538.0,66.5 548.7,118.0 552.7,170.0 559.7,222.3" fill="none" stroke="#fcb79c" stroke-width="0.4" stroke-opacity="0.36"/>
<polyline points="534.3,66.5 527.2,118.0 543.2,170.0 553.6,222.3" fill="none" stroke="#fcb79c" stroke-width="0.4" stroke-opacity="0.36"/>
<polyline points="534.9,66.5 547.4,118.0 549.8,170.0 535.2,222.3" fill="none" stroke="#fcb79c" stroke-width="0.4" stroke-opacity="0.36"/>
<polyline points="539.9,66.5 560.4,118.0 552.1,170.0 539.6,222.3" fill="none" stroke="#fcb79c" stroke-width="0.4" stroke-opacity="0.36"/>
<polyline points="529.6,66.5 535.9,118.0 545.0,170.0 547.0,222.3" fill="none" stroke="#fcb69b" stroke-width="0.4" stroke-opacity="0.36"/>
<polyline points="541.4,66.5 543.1,118.0 537.5,170.0 560.4,222.3" fill="none" stroke="#fcb398" stroke-width="0.4" stroke-opacity="0.36"/>
<polyline points="533.9,66.5 531.8,118.0 549.5,170.0 541.9,222.3" fill="none" stroke="#fcb398" stroke-width="0.4" stroke-opacity="0.36"/>
<polyline points="536.8,66.5 531.7,118.0 549.5,170.0 562.8,222.3" fill="none" stroke="#fcb398" stroke-width="0.4" stroke-opacity="0.36"/>
<polyline points="539.5,66.5 556.4,118.0 554.0,170.0 530.3,222.3" fill="none" stroke="#fcb296" stroke-width="0.4" stroke-opacity="0.36"/>
<polyline points="540.0,66.5 543.7,118.0 544.5,170.0 540.8,222.3" fill="none" stroke="#fcb296" stroke-width="0.4" stroke-opacity="0.36"/>
<polyline points="529.2,66.5 526.7,118.0 559.1,170.0 553.7,222.3" fill="none" stroke="#fcb296" stroke-width="0.4" stroke-opacity="0.36"/>
<polyline points="534.1,66.5 534.0,118.0 516.7,170.0 541.4,222.3" fill="none" stroke="#fc8d6d" stroke-width="0.4" stroke-opacity="0.36"/>
<polyline points="533.3,66.5 558.9,118.0 539.2,170.0 562.2,222.3" fill="none" stroke="#fc8d6d" stroke-width="0.4" stroke-opacity="0.36"/>
<polyline points="534.0,66.5 552.4,118.0 564.1,170.0 528.0,222.3" fill="none" stroke="#fc8d6d" stroke-width="0.4" stroke-opacity="0.36"/>
<polyline points="533.5,66.5 526.5,118.0 541.3,170.0 534.2,222.3" fill="none" stroke="#fc8d6d" stroke-width="0.4" stroke-opacity="0.36"/>
<polyline points="534.5,66.5 543.8,118.0 541.4,170.0 541.7,222.3" fill="none" stroke="#fc8d6d" stroke-width="0.4" stroke-opacity="0.36"/>
<polyline points="534.0,66.5 550.1,118.0 521.9,170.0 547.5,222.3" fill="none" stroke="#fc8b6b" stroke-width="0.4" stroke-opacity="0.36"/>
<polyline points="532.9,66.5 544.9,118.0 535.7,170.0 551.5,222.3" fill="none" stroke="#fc8b6b" stroke-width="0.4" stroke-opacity="0.36"/>
<polyline points="531.5,66.5 544.9,118.0 554.2,170.0 543.7,222.3" fill="none" stroke="#fc8b6b" stroke-width="0.4" stroke-opacity="0.36"/>
<polyline points="530.3,66.5 545.2,118.0 525.1,170.0 568.1,222.3" fill="none" stroke="#fc8b6b" stroke-width="0.4" stroke-opacity="0.36"/>
<polyline points="534.8,66.5 544.6,118.0 517.7,170.0 539.0,222.3" fill="none" stroke="#fc8b6b" stroke-width="0.4" stroke-opacity="0.36"/>
<polyline points="532.2,66.5 558.0,118.0 554.9,170.0 554.1,222.3" fill="none" stroke="#fc8a6a" stroke-width="0.4" stroke-opacity="0.36"/>
<polyline points="533.4,66.5 540.4,118.0 516.7,170.0 553.1,222.3" fill="none" stroke="#fc8a6a" stroke-width="0.4" stroke-opacity="0.36"/>
<polyline points="533.6,66.5 540.6,118.0 548.0,170.0 540.8,222.3" fill="none" stroke="#fc8a6a" stroke-width="0.4" stroke-opacity="0.36"/>
<polyline points="533.1,66.5 533.6,118.0 535.0,170.0 551.2,222.3" fill="none" stroke="#fc8969" stroke-width="0.4" stroke-opacity="0.36"/>
<polyline points="535.8,66.5 548.4,118.0 516.7,170.0 550.6,222.3" fill="none" stroke="#fc8666" stroke-width="0.4" stroke-opacity="0.36"/>
<polyline points="532.4,66.5 534.3,118.0 548.0,170.0 551.4,222.3" fill="none" stroke="#fc8565" stroke-width="0.4" stroke-opacity="0.36"/>
<polyline points="533.7,66.5 534.6,118.0 541.6,170.0 542.9,222.3" fill="none" stroke="#fc8262" stroke-width="0.4" stroke-opacity="0.36"/>
<polyline points="535.5,66.5 542.7,118.0 519.4,170.0 568.4,222.3" fill="none" stroke="#fc8262" stroke-width="0.4" stroke-opacity="0.36"/>
<polyline points="531.9,66.5 542.6,118.0 519.7,170.0 553.1,222.3" fill="none" stroke="#fc8161" stroke-width="0.4" stroke-opacity="0.36"/>
<polyline points="533.9,66.5 534.8,118.0 546.1,170.0 550.2,222.3" fill="none" stroke="#fc8161" stroke-width="0.4" stroke-opacity="0.36"/>
<polyline points="534.5,66.5 538.2,118.0 539.9,170.0 548.3,222.3" fill="none" stroke="#fc8060" stroke-width="0.4" stroke-opacity="0.36"/>
<polyline points="535.9,66.5 526.5,118.0 549.1,170.0 547.5,222.3" fill="none" stroke="#fc8060" stroke-width="0.4" stroke-opacity="0.36"/>
<polyline points="530.4,66.5 539.2,118.0 563.1,170.0 538.6,222.3" fill="none" stroke="#fc8060" stroke-width="0.4" stroke-opacity="0.36"/>
<polyline points="533.9,66.5 550.5,118.0 564.1,170.0 547.8,222.3" fill="none" stroke="#fb7d5d" stroke-width="0.4" stroke-opacity="0.36"/>
<polyline points="531.9,66.5 528.7,118.0 536.5,170.0 530.3,222.3" fill="none" stroke="#fb7d5d" stroke-width="0.4" stroke-opacity="0.36"/>
<polyline points="532.8,66.5 560.4,118.0 527.8,170.0 541.1,222.3" fill="none" stroke="#fb7d5d" stroke-width="0.4" stroke-opacity="0.36"/>
<polyline points="533.8,66.5 552.2,118.0 525.0,170.0 554.1,222.3" fill="none" stroke="#fb7d5d" stroke-width="0.4" stroke-opacity="0.36"/>
<polyline points="531.3,66.5 529.3,118.0 519.9,170.0 553.4,222.3" fill="none" stroke="#fb7c5c" stroke-width="0.4" stroke-opacity="0.36"/>
<polyline points="533.3,66.5 539.1,118.0 544.4,170.0 527.5,222.3" fill="none" stroke="#fb7c5c" stroke-width="0.4" stroke-opacity="0.36"/>
<polyline points="531.3,66.5 552.5,118.0 536.9,170.0 564.0,222.3" fill="none" stroke="#fb7c5c" stroke-width="0.4" stroke-opacity="0.36"/>
<polyline points="533.1,66.5 533.5,118.0 530.0,170.0 553.3,222.3" fill="none" stroke="#fb7b5b" stroke-width="0.4" stroke-opacity="0.36"/>
<polyline points="534.3,66.5 556.6,118.0 537.0,170.0 531.9,222.3" fill="none" stroke="#fb7a5a" stroke-width="0.4" stroke-opacity="0.36"/>
<polyline points="530.6,66.5 527.2,118.0 564.1,170.0 538.8,222.3" fill="none" stroke="#fb7a5a" stroke-width="0.4" stroke-opacity="0.36"/>
<polyline points="531.6,66.5 541.8,118.0 526.2,170.0 545.0,222.3" fill="none" stroke="#fb7a5a" stroke-width="0.4" stroke-opacity="0.36"/>
<polyline points="535.1,66.5 550.2,118.0 548.7,170.0 545.4,222.3" fill="none" stroke="#fb7a5a" stroke-width="0.4" stroke-opacity="0.36"/>
<polyline points="534.2,66.5 538.7,118.0 516.7,170.0 544.9,222.3" fill="none" stroke="#fb7858" stroke-width="0.4" stroke-opacity="0.36"/>
<polyline points="531.5,66.5 547.9,118.0 520.8,170.0 551.9,222.3" fill="none" stroke="#fb7858" stroke-width="0.4" stroke-opacity="0.36"/>
<polyline points="534.0,66.5 537.0,118.0 543.5,170.0 530.7,222.3" fill="none" stroke="#fb7858" stroke-width="0.4" stroke-opacity="0.36"/>
<polyline points="531.1,66.5 543.4,118.0 545.6,170.0 534.5,222.3" fill="none" stroke="#fb7656" stroke-width="0.4" stroke-opacity="0.36"/>
<polyline points="533.7,66.5 526.5,118.0 564.1,170.0 557.4,222.3" fill="none" stroke="#fb7656" stroke-width="0.4" stroke-opacity="0.36"/>
<polyline points="534.5,66.5 526.5,118.0 522.5,170.0 556.9,222.3" fill="none" stroke="#fb7555" stroke-width="0.4" stroke-opacity="0.36"/>
<polyline points="533.4,66.5 542.5,118.0 554.3,170.0 555.1,222.3" fill="none" stroke="#fb7555" stroke-width="0.4" stroke-opacity="0.36"/>
<polyline points="535.0,66.5 553.1,118.0 544.1,170.0 546.3,222.3" fill="none" stroke="#fb7353" stroke-width="0.4" stroke-opacity="0.36"/>
<polyline points="535.7,66.5 546.5,118.0 557.8,170.0 558.7,222.3" fill="none" stroke="#fb7353" stroke-width="0.4" stroke-opacity="0.36"/>
<polyline points="532.5,66.5 534.3,118.0 549.1,170.0 536.9,222.3" fill="none" stroke="#fb7252" stroke-width="0.4" stroke-opacity="0.36"/>
<polyline points="534.1,66.5 537.5,118.0 527.2,170.0 551.7,222.3" fill="none" stroke="#fb7151" stroke-width="0.4" stroke-opacity="0.36"/>
<polyline points="535.2,66.5 542.0,118.0 560.4,170.0 564.6,222.3" fill="none" stroke="#fb7050" stroke-width="0.4" stroke-opacity="0.36"/>
<polyline points="535.6,66.5 553.1,118.0 520.4,170.0 562.1,222.3" fill="none" stroke="#fb7050" stroke-width="0.4" stroke-opacity="0.36"/>
<polyline points="533.7,66.5 534.7,118.0 535.4,170.0 532.6,222.3" fill="none" stroke="#fb7050" stroke-width="0.4" stroke-opacity="0.36"/>
<polyline points="535.6,66.5 540.5,118.0 516.7,170.0 549.0,222.3" fill="none" stroke="#fb6e4e" stroke-width="0.4" stroke-opacity="0.36"/>
<polyline points="534.0,66.5 546.5,118.0 523.8,170.0 552.4,222.3" fill="none" stroke="#fb6d4d" stroke-width="0.4" stroke-opacity="0.36"/>
<polyline points="530.0,66.5 530.6,118.0 547.5,170.0 550.6,222.3" fill="none" stroke="#fb6d4d" stroke-width="0.4" stroke-opacity="0.36"/>
<polyline points="533.9,66.5 526.5,118.0 528.3,170.0 556.3,222.3" fill="none" stroke="#fb6d4d" stroke-width="0.4" stroke-opacity="0.36"/>
<polyline points="531.4,66.5 529.3,118.0 546.0,170.0 543.4,222.3" fill="none" stroke="#fb6d4d" stroke-width="0.4" stroke-opacity="0.36"/>
<polyline points="532.9,66.5 534.0,118.0 545.8,170.0 546.3,222.3" fill="none" stroke="#fb6c4c" stroke-width="0.4" stroke-opacity="0.36"/>
<polyline points="534.0,66.5 538.8,118.0 544.1,170.0 560.6,222.3" fill="none" stroke="#fb6b4b" stroke-width="0.4" stroke-opacity="0.36"/>
<polyline points="533.5,66.5 541.0,118.0 560.1,170.0 554.4,222.3" fill="none" stroke="#fb694a" stroke-width="0.4" stroke-opacity="0.36"/>
<polyline points="533.3,66.5 545.5,118.0 520.5,170.0 536.7,222.3" fill="none" stroke="#fa6849" stroke-width="0.4" stroke-opacity="0.36"/>
<polyline points="534.8,66.5 539.6,118.0 526.7,170.0 544.2,222.3" fill="none" stroke="#fa6849" stroke-width="0.4" stroke-opacity="0.36"/>
<polyline points="535.6,66.5 540.4,118.0 564.1,170.0 554.2,222.3" fill="none" stroke="#fa6648" stroke-width="0.4" stroke-opacity="0.36"/>
<polyline points="534.2,66.5 541.0,118.0 550.5,170.0 545.5,222.3" fill="none" stroke="#fa6648" stroke-width="0.4" stroke-opacity="0.36"/>
<polyline points="533.4,66.5 541.2,118.0 538.9,170.0 554.4,222.3" fill="none" stroke="#fa6648" stroke-width="0.4" stroke-opacity="0.36"/>
<polyline points="534.6,66.5 553.8,118.0 527.7,170.0 564.7,222.3" fill="none" stroke="#fa6547" stroke-width="0.4" stroke-opacity="0.36"/>
<polyline points="529.1,66.5 533.8,118.0 552.5,170.0 548.6,222.3" fill="none" stroke="#fa6547" stroke-width="0.4" stroke-opacity="0.36"/>
<polyline points="533.8,66.5 540.3,118.0 550.6,170.0 536.6,222.3" fill="none" stroke="#f96346" stroke-width="0.4" stroke-opacity="0.36"/>
<polyline points="532.6,66.5 537.2,118.0 543.5,170.0 560.0,222.3" fill="none" stroke="#f96245" stroke-width="0.4" stroke-opacity="0.36"/>
<polyline points="533.5,66.5 536.4,118.0 540.3,170.0 566.8,222.3" fill="none" stroke="#f96044" stroke-width="0.4" stroke-opacity="0.36"/>
<polyline points="530.7,66.5 526.5,118.0 538.6,170.0 542.7,222.3" fill="none" stroke="#f85f43" stroke-width="0.4" stroke-opacity="0.36"/>
<polyline points="532.8,66.5 548.6,118.0 544.0,170.0 546.7,222.3" fill="none" stroke="#f85d42" stroke-width="0.4" stroke-opacity="0.36"/>
<polyline points="531.3,66.5 544.1,118.0 547.2,170.0 538.5,222.3" fill="none" stroke="#f85d42" stroke-width="0.4" stroke-opacity="0.36"/>
<polyline points="535.7,66.5 546.1,118.0 534.1,170.0 538.0,222.3" fill="none" stroke="#f75c41" stroke-width="0.4" stroke-opacity="0.36"/>
<polyline points="532.4,66.5 544.6,118.0 525.4,170.0 527.5,222.3" fill="none" stroke="#f6583e" stroke-width="0.4" stroke-opacity="0.36"/>
<polyline points="533.0,66.5 531.1,118.0 560.0,170.0 566.4,222.3" fill="none" stroke="#f6563d" stroke-width="0.4" stroke-opacity="0.36"/>
<polyline points="531.3,66.5 545.1,118.0 521.1,170.0 556.8,222.3" fill="none" stroke="#f6563d" stroke-width="0.4" stroke-opacity="0.36"/>
<polyline points="535.1,66.5 537.9,118.0 564.1,170.0 553.8,222.3" fill="none" stroke="#f6563d" stroke-width="0.4" stroke-opacity="0.36"/>
<polyline points="534.3,66.5 550.8,118.0 525.2,170.0 559.3,222.3" fill="none" stroke="#f6553c" stroke-width="0.4" stroke-opacity="0.36"/>
<polyline points="534.0,66.5 546.5,118.0 546.1,170.0 529.8,222.3" fill="none" stroke="#f6553c" stroke-width="0.4" stroke-opacity="0.36"/>
<polyline points="533.0,66.5 532.4,118.0 556.8,170.0 553.3,222.3" fill="none" stroke="#f5533b" stroke-width="0.4" stroke-opacity="0.36"/>
<polyline points="535.6,66.5 536.6,118.0 554.2,170.0 533.9,222.3" fill="none" stroke="#f5533b" stroke-width="0.4" stroke-opacity="0.36"/>
<polyline points="532.8,66.5 555.3,118.0 550.7,170.0 558.6,222.3" fill="none" stroke="#f4503a" stroke-width="0.4" stroke-opacity="0.36"/>
<polyline points="533.7,66.5 539.9,118.0 536.7,170.0 544.8,222.3" fill="none" stroke="#f4503a" stroke-width="0.4" stroke-opacity="0.36"/>
<polyline points="531.7,66.5 538.9,118.0 516.7,170.0 556.1,222.3" fill="none" stroke="#f4503a" stroke-width="0.4" stroke-opacity="0.36"/>
<polyline points="533.6,66.5 542.0,118.0 535.4,170.0 528.7,222.3" fill="none" stroke="#f44f39" stroke-width="0.4" stroke-opacity="0.36"/>
<polyline points="530.5,66.5 526.5,118.0 537.3,170.0 557.8,222.3" fill="none" stroke="#f44f39" stroke-width="0.4" stroke-opacity="0.36"/>
<polyline points="533.5,66.5 545.8,118.0 523.8,170.0 549.7,222.3" fill="none" stroke="#f44d38" stroke-width="0.4" stroke-opacity="0.36"/>
<polyline points="533.6,66.5 551.6,118.0 544.4,170.0 542.4,222.3" fill="none" stroke="#f34c37" stroke-width="0.4" stroke-opacity="0.36"/>
<polyline points="534.6,66.5 542.5,118.0 538.8,170.0 560.4,222.3" fill="none" stroke="#f34c37" stroke-width="0.4" stroke-opacity="0.36"/>
<polyline points="534.7,66.5 546.9,118.0 560.9,170.0 558.6,222.3" fill="none" stroke="#f34c37" stroke-width="0.4" stroke-opacity="0.36"/>
<polyline points="620.2,66.5 609.0,118.0 582.3,170.0 605.8,222.3" fill="none" stroke="#e5eff9" stroke-width="0.4" stroke-opacity="0.45"/>
<polyline points="619.8,66.5 608.7,118.0 612.4,170.0 605.3,222.3" fill="none" stroke="#e5eff9" stroke-width="0.4" stroke-opacity="0.45"/>
<polyline points="620.4,66.5 604.6,118.0 623.7,170.0 602.9,222.3" fill="none" stroke="#e5eff9" stroke-width="0.4" stroke-opacity="0.45"/>
<polyline points="620.1,66.5 605.4,118.0 620.5,170.0 612.1,222.3" fill="none" stroke="#e5eff9" stroke-width="0.4" stroke-opacity="0.45"/>
<polyline points="621.6,66.5 602.7,118.0 627.8,170.0 608.9,222.3" fill="none" stroke="#e5eff9" stroke-width="0.4" stroke-opacity="0.45"/>
<polyline points="620.8,66.5 609.7,118.0 597.1,170.0 596.2,222.3" fill="none" stroke="#e5eff9" stroke-width="0.4" stroke-opacity="0.45"/>
<polyline points="619.8,66.5 597.6,118.0 612.4,170.0 596.9,222.3" fill="none" stroke="#e5eff9" stroke-width="0.4" stroke-opacity="0.45"/>
<polyline points="620.6,66.5 607.6,118.0 602.4,170.0 601.1,222.3" fill="none" stroke="#e5eff9" stroke-width="0.4" stroke-opacity="0.45"/>
<polyline points="620.8,66.5 614.9,118.0 605.6,170.0 620.2,222.3" fill="none" stroke="#e5eff9" stroke-width="0.4" stroke-opacity="0.45"/>
<polyline points="620.8,66.5 599.2,118.0 615.4,170.0 599.1,222.3" fill="none" stroke="#e5eff9" stroke-width="0.4" stroke-opacity="0.45"/>
<polyline points="621.9,66.5 607.1,118.0 596.7,170.0 592.2,222.3" fill="none" stroke="#e5eff9" stroke-width="0.4" stroke-opacity="0.45"/>
<polyline points="619.6,66.5 604.7,118.0 622.9,170.0 602.7,222.3" fill="none" stroke="#e5eff9" stroke-width="0.4" stroke-opacity="0.45"/>
<polyline points="620.7,66.5 614.8,118.0 604.7,170.0 606.6,222.3" fill="none" stroke="#e5eff9" stroke-width="0.4" stroke-opacity="0.45"/>
<polyline points="619.7,66.5 606.6,118.0 630.9,170.0 591.4,222.3" fill="none" stroke="#e5eff9" stroke-width="0.4" stroke-opacity="0.45"/>
<polyline points="616.0,66.5 607.1,118.0 593.7,170.0 602.7,222.3" fill="none" stroke="#dae8f6" stroke-width="0.4" stroke-opacity="0.45"/>
<polyline points="609.3,66.5 596.0,118.0 594.4,170.0 602.3,222.3" fill="none" stroke="#d9e8f5" stroke-width="0.4" stroke-opacity="0.45"/>
<polyline points="606.3,66.5 601.7,118.0 596.4,170.0 617.6,222.3" fill="none" stroke="#d9e8f5" stroke-width="0.4" stroke-opacity="0.45"/>
<polyline points="610.1,66.5 599.1,118.0 630.9,170.0 605.8,222.3" fill="none" stroke="#d8e7f5" stroke-width="0.4" stroke-opacity="0.45"/>
<polyline points="618.7,66.5 608.3,118.0 606.5,170.0 613.0,222.3" fill="none" stroke="#d8e7f5" stroke-width="0.4" stroke-opacity="0.45"/>
<polyline points="606.3,66.5 600.8,118.0 600.4,170.0 605.5,222.3" fill="none" stroke="#d7e6f5" stroke-width="0.4" stroke-opacity="0.45"/>
<polyline points="606.0,66.5 595.3,118.0 607.0,170.0 591.1,222.3" fill="none" stroke="#d7e6f5" stroke-width="0.4" stroke-opacity="0.45"/>
<polyline points="599.5,66.5 590.3,118.0 609.6,170.0 617.0,222.3" fill="none" stroke="#d7e6f5" stroke-width="0.4" stroke-opacity="0.45"/>
<polyline points="608.4,66.5 601.7,118.0 594.9,170.0 606.7,222.3" fill="none" stroke="#d7e6f5" stroke-width="0.4" stroke-opacity="0.45"/>
<polyline points="607.7,66.5 600.8,118.0 615.4,170.0 612.3,222.3" fill="none" stroke="#d7e6f5" stroke-width="0.4" stroke-opacity="0.45"/>
<polyline points="619.4,66.5 602.7,118.0 596.3,170.0 606.3,222.3" fill="none" stroke="#d6e6f4" stroke-width="0.4" stroke-opacity="0.45"/>
<polyline points="619.1,66.5 573.7,118.0 574.2,170.0 588.5,222.3" fill="none" stroke="#d6e5f4" stroke-width="0.4" stroke-opacity="0.45"/>
<polyline points="613.5,66.5 603.5,118.0 586.8,170.0 587.3,222.3" fill="none" stroke="#d6e5f4" stroke-width="0.4" stroke-opacity="0.45"/>
<polyline points="598.6,66.5 587.1,118.0 591.1,170.0 589.6,222.3" fill="none" stroke="#d6e5f4" stroke-width="0.4" stroke-opacity="0.45"/>
<polyline points="616.7,66.5 597.1,118.0 605.4,170.0 628.5,222.3" fill="none" stroke="#d6e5f4" stroke-width="0.4" stroke-opacity="0.45"/>
<polyline points="601.5,66.5 598.8,118.0 617.4,170.0 599.5,222.3" fill="none" stroke="#d6e5f4" stroke-width="0.4" stroke-opacity="0.45"/>
<polyline points="599.3,66.5 596.6,118.0 586.7,170.0 595.0,222.3" fill="none" stroke="#d5e5f4" stroke-width="0.4" stroke-opacity="0.45"/>
<polyline points="619.4,66.5 604.6,118.0 616.8,170.0 620.0,222.3" fill="none" stroke="#d5e5f4" stroke-width="0.4" stroke-opacity="0.45"/>
<polyline points="611.5,66.5 601.4,118.0 602.1,170.0 588.6,222.3" fill="none" stroke="#d5e5f4" stroke-width="0.4" stroke-opacity="0.45"/>
<polyline points="607.7,66.5 601.8,118.0 630.9,170.0 606.3,222.3" fill="none" stroke="#d5e5f4" stroke-width="0.4" stroke-opacity="0.45"/>
<polyline points="617.5,66.5 595.6,118.0 597.2,170.0 582.5,222.3" fill="none" stroke="#d5e5f4" stroke-width="0.4" stroke-opacity="0.45"/>
<polyline points="600.2,66.5 599.3,118.0 589.9,170.0 619.2,222.3" fill="none" stroke="#d5e5f4" stroke-width="0.4" stroke-opacity="0.45"/>
<polyline points="614.7,66.5 608.4,118.0 587.1,170.0 595.3,222.3" fill="none" stroke="#d5e5f4" stroke-width="0.4" stroke-opacity="0.45"/>
<polyline points="618.5,66.5 607.0,118.0 581.0,170.0 596.2,222.3" fill="none" stroke="#d5e5f4" stroke-width="0.4" stroke-opacity="0.45"/>
<polyline points="604.5,66.5 600.7,118.0 584.8,170.0 621.5,222.3" fill="none" stroke="#d5e5f4" stroke-width="0.4" stroke-opacity="0.45"/>
<polyline points="616.3,66.5 584.4,118.0 602.6,170.0 580.8,222.3" fill="none" stroke="#d4e4f4" stroke-width="0.4" stroke-opacity="0.45"/>
<polyline points="614.7,66.5 577.2,118.0 590.2,170.0 567.9,222.3" fill="none" stroke="#d4e4f4" stroke-width="0.4" stroke-opacity="0.45"/>
<polyline points="616.4,66.5 569.3,118.0 602.8,170.0 571.5,222.3" fill="none" stroke="#d4e4f4" stroke-width="0.4" stroke-opacity="0.45"/>
<polyline points="617.3,66.5 581.5,118.0 567.5,170.0 570.6,222.3" fill="none" stroke="#d4e4f4" stroke-width="0.4" stroke-opacity="0.45"/>
<polyline points="617.6,66.5 577.0,118.0 598.0,170.0 578.2,222.3" fill="none" stroke="#d4e4f4" stroke-width="0.4" stroke-opacity="0.45"/>
<polyline points="613.7,66.5 603.3,118.0 581.0,170.0 575.4,222.3" fill="none" stroke="#d4e4f4" stroke-width="0.4" stroke-opacity="0.45"/>
<polyline points="599.6,66.5 592.0,118.0 593.3,170.0 584.0,222.3" fill="none" stroke="#d3e4f3" stroke-width="0.4" stroke-opacity="0.45"/>
<polyline points="609.4,66.5 598.5,118.0 599.7,170.0 611.6,222.3" fill="none" stroke="#d3e4f3" stroke-width="0.4" stroke-opacity="0.45"/>
<polyline points="603.2,66.5 599.5,118.0 590.8,170.0 626.1,222.3" fill="none" stroke="#d3e4f3" stroke-width="0.4" stroke-opacity="0.45"/>
<polyline points="604.5,66.5 605.8,118.0 623.9,170.0 604.4,222.3" fill="none" stroke="#d3e3f3" stroke-width="0.4" stroke-opacity="0.45"/>
<polyline points="618.6,66.5 610.4,118.0 599.5,170.0 618.9,222.3" fill="none" stroke="#d3e3f3" stroke-width="0.4" stroke-opacity="0.45"/>
<polyline points="612.5,66.5 601.0,118.0 598.4,170.0 625.8,222.3" fill="none" stroke="#d3e3f3" stroke-width="0.4" stroke-opacity="0.45"/>
<polyline points="609.7,66.5 605.1,118.0 605.9,170.0 627.8,222.3" fill="none" stroke="#d2e3f3" stroke-width="0.4" stroke-opacity="0.45"/>
<polyline points="612.1,66.5 605.5,118.0 611.7,170.0 625.1,222.3" fill="none" stroke="#d2e3f3" stroke-width="0.4" stroke-opacity="0.45"/>
<polyline points="605.2,66.5 610.3,118.0 613.1,170.0 617.5,222.3" fill="none" stroke="#d2e3f3" stroke-width="0.4" stroke-opacity="0.45"/>
<polyline points="617.1,66.5 604.1,118.0 606.1,170.0 599.3,222.3" fill="none" stroke="#d2e3f3" stroke-width="0.4" stroke-opacity="0.45"/>
<polyline points="615.6,66.5 603.9,118.0 597.8,170.0 613.8,222.3" fill="none" stroke="#d1e2f3" stroke-width="0.4" stroke-opacity="0.45"/>
<polyline points="602.3,66.5 592.7,118.0 585.1,170.0 629.4,222.3" fill="none" stroke="#d0e1f2" stroke-width="0.4" stroke-opacity="0.45"/>
<polyline points="607.8,66.5 603.3,118.0 621.6,170.0 584.0,222.3" fill="none" stroke="#d0e1f2" stroke-width="0.4" stroke-opacity="0.45"/>
<polyline points="616.9,66.5 609.5,118.0 603.4,170.0 600.1,222.3" fill="none" stroke="#d0e1f2" stroke-width="0.4" stroke-opacity="0.45"/>
<polyline points="600.1,66.5 597.0,118.0 607.9,170.0 575.4,222.3" fill="none" stroke="#d0e1f2" stroke-width="0.4" stroke-opacity="0.45"/>
<polyline points="607.0,66.5 595.7,118.0 618.7,170.0 602.0,222.3" fill="none" stroke="#d0e1f2" stroke-width="0.4" stroke-opacity="0.45"/>
<polyline points="612.4,66.5 611.5,118.0 583.8,170.0 611.1,222.3" fill="none" stroke="#d0e1f2" stroke-width="0.4" stroke-opacity="0.45"/>
<polyline points="599.4,66.5 598.1,118.0 595.1,170.0 622.7,222.3" fill="none" stroke="#d0e1f2" stroke-width="0.4" stroke-opacity="0.45"/>
<polyline points="618.1,66.5 612.4,118.0 583.4,170.0 593.4,222.3" fill="none" stroke="#cfe1f2" stroke-width="0.4" stroke-opacity="0.45"/>
<polyline points="614.5,66.5 601.8,118.0 610.5,170.0 602.3,222.3" fill="none" stroke="#cfe1f2" stroke-width="0.4" stroke-opacity="0.45"/>
<polyline points="611.5,66.5 606.6,118.0 626.9,170.0 613.8,222.3" fill="none" stroke="#cee0f2" stroke-width="0.4" stroke-opacity="0.45"/>
<polyline points="610.5,66.5 597.1,118.0 597.7,170.0 593.9,222.3" fill="none" stroke="#cde0f1" stroke-width="0.4" stroke-opacity="0.45"/>
<polyline points="617.0,66.5 602.4,118.0 607.9,170.0 595.1,222.3" fill="none" stroke="#cde0f1" stroke-width="0.4" stroke-opacity="0.45"/>
<polyline points="602.9,66.5 597.3,118.0 603.8,170.0 621.0,222.3" fill="none" stroke="#cde0f1" stroke-width="0.4" stroke-opacity="0.45"/>
<polyline points="611.6,66.5 602.3,118.0 611.4,170.0 611.9,222.3" fill="none" stroke="#cddff1" stroke-width="0.4" stroke-opacity="0.45"/>
<polyline points="612.1,66.5 601.6,118.0 598.3,170.0 615.1,222.3" fill="none" stroke="#ccdff1" stroke-width="0.4" stroke-opacity="0.45"/>
<polyline points="608.6,66.5 608.8,118.0 609.7,170.0 599.5,222.3" fill="none" stroke="#ccdff1" stroke-width="0.4" stroke-opacity="0.45"/>
<polyline points="614.6,66.5 601.5,118.0 628.5,170.0 631.7,222.3" fill="none" stroke="#cbdef1" stroke-width="0.4" stroke-opacity="0.45"/>
<polyline points="617.1,66.5 608.3,118.0 625.4,170.0 620.8,222.3" fill="none" stroke="#cbdef1" stroke-width="0.4" stroke-opacity="0.45"/>
<polyline points="615.5,66.5 609.8,118.0 588.1,170.0 606.9,222.3" fill="none" stroke="#cbdef1" stroke-width="0.4" stroke-opacity="0.45"/>
<polyline points="611.8,66.5 600.1,118.0 626.1,170.0 617.2,222.3" fill="none" stroke="#cadef0" stroke-width="0.4" stroke-opacity="0.45"/>
<polyline points="615.4,66.5 601.5,118.0 599.9,170.0 618.2,222.3" fill="none" stroke="#cadef0" stroke-width="0.4" stroke-opacity="0.45"/>
<polyline points="617.8,66.5 605.3,118.0 594.5,170.0 609.8,222.3" fill="none" stroke="#cadef0" stroke-width="0.4" stroke-opacity="0.45"/>
<polyline points="613.8,66.5 598.2,118.0 581.0,170.0 617.1,222.3" fill="none" stroke="#cadef0" stroke-width="0.4" stroke-opacity="0.45"/>
<polyline points="605.4,66.5 606.9,118.0 602.6,170.0 593.5,222.3" fill="none" stroke="#cadef0" stroke-width="0.4" stroke-opacity="0.45"/>
<polyline points="617.8,66.5 599.7,118.0 606.5,170.0 600.2,222.3" fill="none" stroke="#cadef0" stroke-width="0.4" stroke-opacity="0.45"/>
<polyline points="608.9,66.5 601.0,118.0 615.4,170.0 606.9,222.3" fill="none" stroke="#caddf0" stroke-width="0.4" stroke-opacity="0.45"/>
<polyline points="617.3,66.5 603.3,118.0 607.8,170.0 613.8,222.3" fill="none" stroke="#caddf0" stroke-width="0.4" stroke-opacity="0.45"/>
<polyline points="616.6,66.5 612.3,118.0 581.0,170.0 593.0,222.3" fill="none" stroke="#caddf0" stroke-width="0.4" stroke-opacity="0.45"/>
<polyline points="611.3,66.5 602.7,118.0 605.2,170.0 621.4,222.3" fill="none" stroke="#caddf0" stroke-width="0.4" stroke-opacity="0.45"/>
<polyline points="619.3,66.5 606.3,118.0 630.9,170.0 602.5,222.3" fill="none" stroke="#caddf0" stroke-width="0.4" stroke-opacity="0.45"/>
<polyline points="601.5,66.5 592.6,118.0 599.2,170.0 626.1,222.3" fill="none" stroke="#c9ddf0" stroke-width="0.4" stroke-opacity="0.45"/>
<polyline points="598.7,66.5 595.5,118.0 611.8,170.0 623.1,222.3" fill="none" stroke="#c8dcf0" stroke-width="0.4" stroke-opacity="0.45"/>
<polyline points="610.9,66.5 608.1,118.0 596.0,170.0 592.9,222.3" fill="none" stroke="#c8dcf0" stroke-width="0.4" stroke-opacity="0.45"/>
<polyline points="598.8,66.5 599.9,118.0 601.7,170.0 613.9,222.3" fill="none" stroke="#c8dcf0" stroke-width="0.4" stroke-opacity="0.45"/>
<polyline points="611.8,66.5 604.6,118.0 605.1,170.0 610.4,222.3" fill="none" stroke="#c8dcf0" stroke-width="0.4" stroke-opacity="0.45"/>
<polyline points="604.1,66.5 599.3,118.0 590.2,170.0 618.5,222.3" fill="none" stroke="#c7dcef" stroke-width="0.4" stroke-opacity="0.45"/>
<polyline points="617.4,66.5 613.6,118.0 604.6,170.0 599.5,222.3" fill="none" stroke="#c7dcef" stroke-width="0.4" stroke-opacity="0.45"/>
<polyline points="600.7,66.5 596.6,118.0 605.5,170.0 610.8,222.3" fill="none" stroke="#c7dbef" stroke-width="0.4" stroke-opacity="0.45"/>
<polyline points="618.7,66.5 601.3,118.0 593.0,170.0 598.8,222.3" fill="none" stroke="#c6dbef" stroke-width="0.4" stroke-opacity="0.45"/>
<polyline points="614.3,66.5 603.6,118.0 593.7,170.0 593.1,222.3" fill="none" stroke="#c6dbef" stroke-width="0.4" stroke-opacity="0.45"/>
<polyline points="600.0,66.5 593.9,118.0 599.5,170.0 575.4,222.3" fill="none" stroke="#c4daee" stroke-width="0.4" stroke-opacity="0.45"/>
<polyline points="610.0,66.5 607.6,118.0 584.7,170.0 597.7,222.3" fill="none" stroke="#c3daee" stroke-width="0.4" stroke-opacity="0.45"/>
<polyline points="603.8,66.5 598.3,118.0 587.3,170.0 599.2,222.3" fill="none" stroke="#c3daee" stroke-width="0.4" stroke-opacity="0.45"/>
<polyline points="607.8,66.5 604.0,118.0 597.2,170.0 596.2,222.3" fill="none" stroke="#c3daee" stroke-width="0.4" stroke-opacity="0.45"/>
<polyline points="616.5,66.5 607.3,118.0 613.3,170.0 600.6,222.3" fill="none" stroke="#c3daee" stroke-width="0.4" stroke-opacity="0.45"/>
<polyline points="616.3,66.5 608.6,118.0 599.6,170.0 575.4,222.3" fill="none" stroke="#c3daee" stroke-width="0.4" stroke-opacity="0.45"/>
<polyline points="616.7,66.5 604.4,118.0 616.8,170.0 585.5,222.3" fill="none" stroke="#c2d9ee" stroke-width="0.4" stroke-opacity="0.45"/>
<polyline points="619.5,66.5 605.9,118.0 616.0,170.0 624.6,222.3" fill="none" stroke="#c2d9ee" stroke-width="0.4" stroke-opacity="0.45"/>
<polyline points="610.1,66.5 599.8,118.0 603.8,170.0 583.5,222.3" fill="none" stroke="#c1d9ed" stroke-width="0.4" stroke-opacity="0.45"/>
<polyline points="605.0,66.5 598.8,118.0 599.2,170.0 599.9,222.3" fill="none" stroke="#c1d9ed" stroke-width="0.4" stroke-opacity="0.45"/>
<polyline points="598.5,66.5 595.8,118.0 608.7,170.0 619.6,222.3" fill="none" stroke="#bfd8ed" stroke-width="0.4" stroke-opacity="0.45"/>
<polyline points="610.1,66.5 609.1,118.0 613.2,170.0 592.1,222.3" fill="none" stroke="#bed8ec" stroke-width="0.4" stroke-opacity="0.45"/>
<polyline points="617.4,66.5 608.9,118.0 615.7,170.0 629.0,222.3" fill="none" stroke="#bed8ec" stroke-width="0.4" stroke-opacity="0.45"/>
<polyline points="616.9,66.5 614.9,118.0 613.7,170.0 600.0,222.3" fill="none" stroke="#bed8ec" stroke-width="0.4" stroke-opacity="0.45"/>
<polyline points="601.0,66.5 599.8,118.0 593.9,170.0 616.3,222.3" fill="none" stroke="#bdd7ec" stroke-width="0.4" stroke-opacity="0.45"/>
<polyline points="604.2,66.5 597.0,118.0 603.7,170.0 616.0,222.3" fill="none" stroke="#bdd7ec" stroke-width="0.4" stroke-opacity="0.45"/>
<polyline points="601.8,66.5 598.2,118.0 625.7,170.0 634.8,222.3" fill="none" stroke="#bad6eb" stroke-width="0.4" stroke-opacity="0.45"/>
<polyline points="614.3,66.5 606.0,118.0 616.1,170.0 634.8,222.3" fill="none" stroke="#b9d6ea" stroke-width="0.4" stroke-opacity="0.45"/>
<polyline points="615.6,66.5 609.2,118.0 618.3,170.0 630.0,222.3" fill="none" stroke="#b9d6ea" stroke-width="0.4" stroke-opacity="0.45"/>
<polyline points="604.5,66.5 592.1,118.0 604.0,170.0 605.5,222.3" fill="none" stroke="#b9d6ea" stroke-width="0.4" stroke-opacity="0.45"/>
<polyline points="603.5,66.5 600.6,118.0 613.4,170.0 603.7,222.3" fill="none" stroke="#b9d6ea" stroke-width="0.4" stroke-opacity="0.45"/>
<polyline points="613.3,66.5 600.9,118.0 598.8,170.0 598.2,222.3" fill="none" stroke="#b8d5ea" stroke-width="0.4" stroke-opacity="0.45"/>
<polyline points="602.3,66.5 599.2,118.0 595.2,170.0 601.9,222.3" fill="none" stroke="#b7d4ea" stroke-width="0.4" stroke-opacity="0.45"/>
<polyline points="609.1,66.5 605.8,118.0 595.2,170.0 607.6,222.3" fill="none" stroke="#b7d4ea" stroke-width="0.4" stroke-opacity="0.45"/>
<polyline points="613.1,66.5 605.1,118.0 616.9,170.0 587.6,222.3" fill="none" stroke="#b7d4ea" stroke-width="0.4" stroke-opacity="0.45"/>
<polyline points="598.7,66.5 595.0,118.0 605.2,170.0 603.4,222.3" fill="none" stroke="#b5d4e9" stroke-width="0.4" stroke-opacity="0.45"/>
<polyline points="598.7,66.5 588.6,118.0 615.6,170.0 634.8,222.3" fill="none" stroke="#b5d4e9" stroke-width="0.4" stroke-opacity="0.45"/>
<polyline points="619.3,66.5 611.0,118.0 624.1,170.0 607.0,222.3" fill="none" stroke="#b5d4e9" stroke-width="0.4" stroke-opacity="0.45"/>
<polyline points="605.4,66.5 598.4,118.0 590.3,170.0 603.4,222.3" fill="none" stroke="#b4d3e9" stroke-width="0.4" stroke-opacity="0.45"/>
<polyline points="617.5,66.5 600.0,118.0 630.9,170.0 598.7,222.3" fill="none" stroke="#b3d3e8" stroke-width="0.4" stroke-opacity="0.45"/>
<polyline points="619.3,66.5 604.0,118.0 620.9,170.0 587.8,222.3" fill="none" stroke="#b2d2e8" stroke-width="0.4" stroke-opacity="0.45"/>
<polyline points="617.4,66.5 600.5,118.0 590.4,170.0 591.9,222.3" fill="none" stroke="#b2d2e8" stroke-width="0.4" stroke-opacity="0.45"/>
<polyline points="612.1,66.5 609.6,118.0 604.6,170.0 613.4,222.3" fill="none" stroke="#b2d2e8" stroke-width="0.4" stroke-opacity="0.45"/>
<polyline points="608.3,66.5 590.3,118.0 610.7,170.0 600.5,222.3" fill="none" stroke="#b2d2e8" stroke-width="0.4" stroke-opacity="0.45"/>
<polyline points="614.0,66.5 608.5,118.0 600.6,170.0 627.0,222.3" fill="none" stroke="#b2d2e8" stroke-width="0.4" stroke-opacity="0.45"/>
<polyline points="616.7,66.5 597.6,118.0 601.0,170.0 601.3,222.3" fill="none" stroke="#b0d2e7" stroke-width="0.4" stroke-opacity="0.45"/>
<polyline points="614.7,66.5 614.9,118.0 608.6,170.0 599.7,222.3" fill="none" stroke="#b0d2e7" stroke-width="0.4" stroke-opacity="0.45"/>
<polyline points="606.3,66.5 599.2,118.0 586.9,170.0 612.3,222.3" fill="none" stroke="#b0d2e7" stroke-width="0.4" stroke-opacity="0.45"/>
<polyline points="609.8,66.5 598.4,118.0 596.7,170.0 611.2,222.3" fill="none" stroke="#b0d2e7" stroke-width="0.4" stroke-opacity="0.45"/>
<polyline points="611.0,66.5 604.5,118.0 585.2,170.0 606.8,222.3" fill="none" stroke="#b0d2e7" stroke-width="0.4" stroke-opacity="0.45"/>
<polyline points="610.8,66.5 594.2,118.0 610.9,170.0 614.3,222.3" fill="none" stroke="#b0d2e7" stroke-width="0.4" stroke-opacity="0.45"/>
<polyline points="605.8,66.5 595.4,118.0 603.2,170.0 603.2,222.3" fill="none" stroke="#afd1e7" stroke-width="0.4" stroke-opacity="0.45"/>
<polyline points="619.5,66.5 605.6,118.0 601.5,170.0 628.3,222.3" fill="none" stroke="#afd1e7" stroke-width="0.4" stroke-opacity="0.45"/>
<polyline points="616.2,66.5 608.3,118.0 630.9,170.0 604.5,222.3" fill="none" stroke="#afd1e7" stroke-width="0.4" stroke-opacity="0.45"/>
<polyline points="612.7,66.5 613.2,118.0 608.5,170.0 620.9,222.3" fill="none" stroke="#afd1e7" stroke-width="0.4" stroke-opacity="0.45"/>
<polyline points="603.9,66.5 590.8,118.0 583.2,170.0 607.4,222.3" fill="none" stroke="#afd1e7" stroke-width="0.4" stroke-opacity="0.45"/>
<polyline points="618.2,66.5 601.8,118.0 592.7,170.0 605.4,222.3" fill="none" stroke="#aed1e7" stroke-width="0.4" stroke-opacity="0.45"/>
<polyline points="608.8,66.5 603.3,118.0 602.7,170.0 589.4,222.3" fill="none" stroke="#add0e6" stroke-width="0.4" stroke-opacity="0.45"/>
<polyline points="601.1,66.5 586.7,118.0 606.2,170.0 611.5,222.3" fill="none" stroke="#abd0e6" stroke-width="0.4" stroke-opacity="0.45"/>
<polyline points="618.1,66.5 614.3,118.0 585.2,170.0 584.4,222.3" fill="none" stroke="#abd0e6" stroke-width="0.4" stroke-opacity="0.45"/>
<polyline points="617.7,66.5 605.9,118.0 613.9,170.0 587.3,222.3" fill="none" stroke="#aacfe5" stroke-width="0.4" stroke-opacity="0.45"/>
<polyline points="613.6,66.5 603.9,118.0 593.0,170.0 603.5,222.3" fill="none" stroke="#aacfe5" stroke-width="0.4" stroke-opacity="0.45"/>
<polyline points="616.2,66.5 606.3,118.0 609.2,170.0 587.6,222.3" fill="none" stroke="#a9cfe5" stroke-width="0.4" stroke-opacity="0.45"/>
<polyline points="602.7,66.5 595.2,118.0 599.6,170.0 604.0,222.3" fill="none" stroke="#a8cee4" stroke-width="0.4" stroke-opacity="0.45"/>
<polyline points="610.4,66.5 599.5,118.0 581.0,170.0 584.2,222.3" fill="none" stroke="#a8cee4" stroke-width="0.4" stroke-opacity="0.45"/>
<polyline points="613.1,66.5 605.3,118.0 581.0,170.0 618.1,222.3" fill="none" stroke="#a6cee4" stroke-width="0.4" stroke-opacity="0.45"/>
<polyline points="619.5,66.5 606.9,118.0 609.7,170.0 607.4,222.3" fill="none" stroke="#a6cee4" stroke-width="0.4" stroke-opacity="0.45"/>
<polyline points="614.6,66.5 603.3,118.0 597.6,170.0 623.7,222.3" fill="none" stroke="#a6cee4" stroke-width="0.4" stroke-opacity="0.45"/>
<polyline points="605.2,66.5 605.5,118.0 581.0,170.0 629.6,222.3" fill="none" stroke="#a5cde3" stroke-width="0.4" stroke-opacity="0.45"/>
<polyline points="610.1,66.5 599.8,118.0 608.7,170.0 606.7,222.3" fill="none" stroke="#a5cde3" stroke-width="0.4" stroke-opacity="0.45"/>
<polyline points="612.3,66.5 608.3,118.0 601.7,170.0 608.6,222.3" fill="none" stroke="#a5cde3" stroke-width="0.4" stroke-opacity="0.45"/>
<polyline points="617.3,66.5 605.5,118.0 622.0,170.0 617.7,222.3" fill="none" stroke="#a3cce3" stroke-width="0.4" stroke-opacity="0.45"/>
<polyline points="615.7,66.5 610.7,118.0 611.9,170.0 622.8,222.3" fill="none" stroke="#a3cce3" stroke-width="0.4" stroke-opacity="0.45"/>
<polyline points="606.7,66.5 601.6,118.0 594.7,170.0 612.4,222.3" fill="none" stroke="#a0cbe2" stroke-width="0.4" stroke-opacity="0.45"/>
<polyline points="601.4,66.5 599.1,118.0 630.9,170.0 607.2,222.3" fill="none" stroke="#a0cbe2" stroke-width="0.4" stroke-opacity="0.45"/>
<polyline points="616.9,66.5 609.9,118.0 592.7,170.0 604.4,222.3" fill="none" stroke="#9dcae1" stroke-width="0.4" stroke-opacity="0.45"/>
<polyline points="600.1,66.5 599.0,118.0 611.0,170.0 620.7,222.3" fill="none" stroke="#9cc9e1" stroke-width="0.4" stroke-opacity="0.45"/>
<polyline points="618.4,66.5 605.3,118.0 620.6,170.0 614.3,222.3" fill="none" stroke="#9ac8e0" stroke-width="0.4" stroke-opacity="0.45"/>
<polyline points="603.0,66.5 607.4,118.0 616.8,170.0 615.5,222.3" fill="none" stroke="#9ac8e0" stroke-width="0.4" stroke-opacity="0.45"/>
<polyline points="604.0,66.5 606.1,118.0 602.4,170.0 584.6,222.3" fill="none" stroke="#9ac8e0" stroke-width="0.4" stroke-opacity="0.45"/>
<polyline points="603.7,66.5 600.2,118.0 603.1,170.0 618.8,222.3" fill="none" stroke="#9ac8e0" stroke-width="0.4" stroke-opacity="0.45"/>
<polyline points="618.3,66.5 614.9,118.0 622.7,170.0 628.1,222.3" fill="none" stroke="#99c7e0" stroke-width="0.4" stroke-opacity="0.45"/>
<polyline points="599.5,66.5 597.3,118.0 615.9,170.0 581.4,222.3" fill="none" stroke="#99c7e0" stroke-width="0.4" stroke-opacity="0.45"/>
<polyline points="601.3,66.5 586.7,118.0 581.0,170.0 628.4,222.3" fill="none" stroke="#99c7e0" stroke-width="0.4" stroke-opacity="0.45"/>
<polyline points="612.5,66.5 604.3,118.0 598.3,170.0 607.0,222.3" fill="none" stroke="#99c7e0" stroke-width="0.4" stroke-opacity="0.45"/>
<polyline points="619.2,66.5 599.8,118.0 615.9,170.0 600.0,222.3" fill="none" stroke="#99c7e0" stroke-width="0.4" stroke-opacity="0.45"/>
<polyline points="599.6,66.5 593.8,118.0 618.6,170.0 630.7,222.3" fill="none" stroke="#97c6df" stroke-width="0.4" stroke-opacity="0.45"/>
<polyline points="616.6,66.5 603.4,118.0 630.9,170.0 617.1,222.3" fill="none" stroke="#97c6df" stroke-width="0.4" stroke-opacity="0.45"/>
<polyline points="609.1,66.5 602.6,118.0 620.4,170.0 604.9,222.3" fill="none" stroke="#97c6df" stroke-width="0.4" stroke-opacity="0.45"/>
<polyline points="602.4,66.5 602.5,118.0 615.5,170.0 594.9,222.3" fill="none" stroke="#97c6df" stroke-width="0.4" stroke-opacity="0.45"/>
<polyline points="602.6,66.5 595.0,118.0 609.4,170.0 585.9,222.3" fill="none" stroke="#97c6df" stroke-width="0.4" stroke-opacity="0.45"/>
<polyline points="614.5,66.5 604.8,118.0 598.5,170.0 605.0,222.3" fill="none" stroke="#95c5df" stroke-width="0.4" stroke-opacity="0.45"/>
<polyline points="616.8,66.5 609.4,118.0 610.7,170.0 591.8,222.3" fill="none" stroke="#95c5df" stroke-width="0.4" stroke-opacity="0.45"/>
<polyline points="615.4,66.5 613.4,118.0 614.8,170.0 615.2,222.3" fill="none" stroke="#79b5d9" stroke-width="0.4" stroke-opacity="0.45"/>
<polyline points="614.4,66.5 601.3,118.0 594.6,170.0 593.0,222.3" fill="none" stroke="#77b5d9" stroke-width="0.4" stroke-opacity="0.45"/>
<polyline points="615.4,66.5 610.9,118.0 590.6,170.0 608.5,222.3" fill="none" stroke="#77b5d9" stroke-width="0.4" stroke-opacity="0.45"/>
<polyline points="613.8,66.5 602.8,118.0 596.1,170.0 626.5,222.3" fill="none" stroke="#77b5d9" stroke-width="0.4" stroke-opacity="0.45"/>
<polyline points="614.2,66.5 597.5,118.0 602.7,170.0 599.0,222.3" fill="none" stroke="#75b4d8" stroke-width="0.4" stroke-opacity="0.45"/>
<polyline points="615.7,66.5 611.0,118.0 596.8,170.0 618.4,222.3" fill="none" stroke="#72b2d8" stroke-width="0.4" stroke-opacity="0.45"/>
<polyline points="617.5,66.5 599.1,118.0 595.8,170.0 614.6,222.3" fill="none" stroke="#72b2d8" stroke-width="0.4" stroke-opacity="0.45"/>
<polyline points="617.5,66.5 613.0,118.0 611.4,170.0 620.2,222.3" fill="none" stroke="#72b2d8" stroke-width="0.4" stroke-opacity="0.45"/>
<polyline points="613.7,66.5 610.4,118.0 614.9,170.0 603.5,222.3" fill="none" stroke="#72b2d8" stroke-width="0.4" stroke-opacity="0.45"/>
<polyline points="615.6,66.5 601.7,118.0 601.5,170.0 606.6,222.3" fill="none" stroke="#72b2d8" stroke-width="0.4" stroke-opacity="0.45"/>
<polyline points="612.1,66.5 600.9,118.0 595.5,170.0 597.3,222.3" fill="none" stroke="#71b1d7" stroke-width="0.4" stroke-opacity="0.45"/>
<polyline points="616.2,66.5 614.2,118.0 600.2,170.0 582.9,222.3" fill="none" stroke="#71b1d7" stroke-width="0.4" stroke-opacity="0.45"/>
<polyline points="612.0,66.5 604.3,118.0 621.2,170.0 634.8,222.3" fill="none" stroke="#71b1d7" stroke-width="0.4" stroke-opacity="0.45"/>
<polyline points="614.4,66.5 605.5,118.0 601.1,170.0 601.3,222.3" fill="none" stroke="#6fb0d7" stroke-width="0.4" stroke-opacity="0.45"/>
<polyline points="613.3,66.5 595.8,118.0 602.4,170.0 608.1,222.3" fill="none" stroke="#6fb0d7" stroke-width="0.4" stroke-opacity="0.45"/>
<polyline points="617.0,66.5 609.5,118.0 624.7,170.0 605.5,222.3" fill="none" stroke="#6caed6" stroke-width="0.4" stroke-opacity="0.45"/>
<polyline points="615.1,66.5 602.7,118.0 591.4,170.0 618.6,222.3" fill="none" stroke="#6caed6" stroke-width="0.4" stroke-opacity="0.45"/>
<polyline points="617.1,66.5 597.4,118.0 598.2,170.0 613.3,222.3" fill="none" stroke="#69add5" stroke-width="0.4" stroke-opacity="0.45"/>
<polyline points="616.8,66.5 606.7,118.0 626.5,170.0 601.4,222.3" fill="none" stroke="#68acd5" stroke-width="0.4" stroke-opacity="0.45"/>
<polyline points="612.2,66.5 610.9,118.0 619.0,170.0 615.8,222.3" fill="none" stroke="#68acd5" stroke-width="0.4" stroke-opacity="0.45"/>
<polyline points="616.0,66.5 603.0,118.0 605.2,170.0 601.9,222.3" fill="none" stroke="#65aad4" stroke-width="0.4" stroke-opacity="0.45"/>
<polyline points="612.6,66.5 608.3,118.0 601.4,170.0 589.0,222.3" fill="none" stroke="#65aad4" stroke-width="0.4" stroke-opacity="0.45"/>
<polyline points="616.7,66.5 596.6,118.0 595.3,170.0 596.9,222.3" fill="none" stroke="#65aad4" stroke-width="0.4" stroke-opacity="0.45"/>
<polyline points="614.8,66.5 610.6,118.0 591.2,170.0 626.8,222.3" fill="none" stroke="#5fa6d1" stroke-width="0.4" stroke-opacity="0.45"/>
<polyline points="615.0,66.5 595.2,118.0 608.2,170.0 594.4,222.3" fill="none" stroke="#5fa6d1" stroke-width="0.4" stroke-opacity="0.45"/>
<polyline points="615.4,66.5 609.8,118.0 599.9,170.0 612.5,222.3" fill="none" stroke="#5da5d1" stroke-width="0.4" stroke-opacity="0.45"/>
<polyline points="614.9,66.5 598.6,118.0 616.6,170.0 580.7,222.3" fill="none" stroke="#5da5d1" stroke-width="0.4" stroke-opacity="0.45"/>
<polyline points="613.0,66.5 607.6,118.0 596.0,170.0 610.3,222.3" fill="none" stroke="#5ca4d0" stroke-width="0.4" stroke-opacity="0.45"/>
<polyline points="612.7,66.5 613.2,118.0 624.9,170.0 598.7,222.3" fill="none" stroke="#5ba3d0" stroke-width="0.4" stroke-opacity="0.45"/>
<polyline points="615.4,66.5 602.3,118.0 612.4,170.0 613.9,222.3" fill="none" stroke="#5ba3d0" stroke-width="0.4" stroke-opacity="0.45"/>
<polyline points="616.1,66.5 600.2,118.0 630.9,170.0 608.4,222.3" fill="none" stroke="#5ba3d0" stroke-width="0.4" stroke-opacity="0.45"/>
<polyline points="616.8,66.5 605.2,118.0 604.2,170.0 609.6,222.3" fill="none" stroke="#5aa2cf" stroke-width="0.4" stroke-opacity="0.45"/>
<polyline points="615.3,66.5 612.4,118.0 594.7,170.0 603.7,222.3" fill="none" stroke="#58a1cf" stroke-width="0.4" stroke-opacity="0.45"/>
<polyline points="616.8,66.5 611.2,118.0 608.8,170.0 609.4,222.3" fill="none" stroke="#58a1cf" stroke-width="0.4" stroke-opacity="0.45"/>
<polyline points="615.2,66.5 602.4,118.0 621.0,170.0 606.8,222.3" fill="none" stroke="#57a0ce" stroke-width="0.4" stroke-opacity="0.45"/>
<polyline points="615.3,66.5 610.5,118.0 630.9,170.0 613.2,222.3" fill="none" stroke="#57a0ce" stroke-width="0.4" stroke-opacity="0.45"/>
<polyline points="616.2,66.5 606.7,118.0 609.2,170.0 612.0,222.3" fill="none" stroke="#57a0ce" stroke-width="0.4" stroke-opacity="0.45"/>
<polyline points="616.4,66.5 603.1,118.0 617.7,170.0 606.0,222.3" fill="none" stroke="#56a0ce" stroke-width="0.4" stroke-opacity="0.45"/>
<polyline points="615.6,66.5 605.9,118.0 608.5,170.0 580.2,222.3" fill="none" stroke="#549fcd" stroke-width="0.4" stroke-opacity="0.45"/>
<polyline points="618.0,66.5 606.7,118.0 615.4,170.0 628.1,222.3" fill="none" stroke="#539ecd" stroke-width="0.4" stroke-opacity="0.45"/>
<polyline points="616.3,66.5 608.9,118.0 607.5,170.0 606.9,222.3" fill="none" stroke="#529dcc" stroke-width="0.4" stroke-opacity="0.45"/>
<polyline points="617.1,66.5 601.5,118.0 594.7,170.0 583.4,222.3" fill="none" stroke="#529dcc" stroke-width="0.4" stroke-opacity="0.45"/>
<polyline points="615.1,66.5 606.9,118.0 598.8,170.0 618.4,222.3" fill="none" stroke="#529dcc" stroke-width="0.4" stroke-opacity="0.45"/>
<polyline points="613.7,66.5 603.0,118.0 603.8,170.0 609.9,222.3" fill="none" stroke="#519ccc" stroke-width="0.4" stroke-opacity="0.45"/>
<polyline points="615.5,66.5 605.7,118.0 585.0,170.0 625.8,222.3" fill="none" stroke="#4f9bcb" stroke-width="0.4" stroke-opacity="0.45"/>
<polyline points="617.5,66.5 604.2,118.0 601.1,170.0 585.7,222.3" fill="none" stroke="#4f9bcb" stroke-width="0.4" stroke-opacity="0.45"/>
<polyline points="613.7,66.5 602.5,118.0 581.0,170.0 584.5,222.3" fill="none" stroke="#4e9acb" stroke-width="0.4" stroke-opacity="0.45"/>
<polyline points="618.9,66.5 605.7,118.0 617.7,170.0 600.4,222.3" fill="none" stroke="#4d99ca" stroke-width="0.4" stroke-opacity="0.45"/>
<polyline points="615.2,66.5 607.6,118.0 581.0,170.0 630.5,222.3" fill="none" stroke="#4b98ca" stroke-width="0.4" stroke-opacity="0.45"/>
<polyline points="615.3,66.5 602.5,118.0 617.5,170.0 598.1,222.3" fill="none" stroke="#4a98c9" stroke-width="0.4" stroke-opacity="0.45"/>
<polyline points="615.3,66.5 607.2,118.0 581.0,170.0 622.5,222.3" fill="none" stroke="#4a98c9" stroke-width="0.4" stroke-opacity="0.45"/>
<polyline points="616.6,66.5 600.0,118.0 586.7,170.0 614.1,222.3" fill="none" stroke="#4a98c9" stroke-width="0.4" stroke-opacity="0.45"/>
<polyline points="617.0,66.5 605.2,118.0 600.2,170.0 601.5,222.3" fill="none" stroke="#4896c8" stroke-width="0.4" stroke-opacity="0.45"/>
<polyline points="612.4,66.5 605.6,118.0 630.9,170.0 623.4,222.3" fill="none" stroke="#4695c8" stroke-width="0.4" stroke-opacity="0.45"/>
<polyline points="612.3,66.5 596.3,118.0 608.7,170.0 609.6,222.3" fill="none" stroke="#4594c7" stroke-width="0.4" stroke-opacity="0.45"/>
<polyline points="611.8,66.5 602.0,118.0 615.4,170.0 605.2,222.3" fill="none" stroke="#4594c7" stroke-width="0.4" stroke-opacity="0.45"/>
<polyline points="615.5,66.5 590.5,118.0 605.8,170.0 609.7,222.3" fill="none" stroke="#4594c7" stroke-width="0.4" stroke-opacity="0.45"/>
<polyline points="612.8,66.5 607.9,118.0 581.2,170.0 634.8,222.3" fill="none" stroke="#4493c7" stroke-width="0.4" stroke-opacity="0.45"/>
<polyline points="613.7,66.5 600.5,118.0 609.3,170.0 629.3,222.3" fill="none" stroke="#4493c7" stroke-width="0.4" stroke-opacity="0.45"/>
<polyline points="614.1,66.5 611.1,118.0 620.9,170.0 584.4,222.3" fill="none" stroke="#4493c7" stroke-width="0.4" stroke-opacity="0.45"/>
<polyline points="613.9,66.5 609.5,118.0 630.9,170.0 613.4,222.3" fill="none" stroke="#4493c7" stroke-width="0.4" stroke-opacity="0.45"/>
<polyline points="614.8,66.5 614.2,118.0 613.6,170.0 599.1,222.3" fill="none" stroke="#4292c6" stroke-width="0.4" stroke-opacity="0.45"/>
<polyline points="619.3,66.5 608.7,118.0 622.6,170.0 588.3,222.3" fill="none" stroke="#4191c6" stroke-width="0.4" stroke-opacity="0.45"/>
<polyline points="612.8,66.5 600.3,118.0 602.3,170.0 609.8,222.3" fill="none" stroke="#4191c6" stroke-width="0.4" stroke-opacity="0.45"/>
<polyline points="615.6,66.5 596.6,118.0 606.3,170.0 614.4,222.3" fill="none" stroke="#4090c5" stroke-width="0.4" stroke-opacity="0.45"/>
<polyline points="611.7,66.5 606.3,118.0 620.5,170.0 575.4,222.3" fill="none" stroke="#3f8fc5" stroke-width="0.4" stroke-opacity="0.45"/>
<polyline points="615.0,66.5 610.2,118.0 607.1,170.0 615.9,222.3" fill="none" stroke="#3e8ec4" stroke-width="0.4" stroke-opacity="0.45"/>
<polyline points="613.5,66.5 602.2,118.0 611.3,170.0 593.3,222.3" fill="none" stroke="#3d8dc4" stroke-width="0.4" stroke-opacity="0.45"/>
<polyline points="613.0,66.5 602.9,118.0 581.0,170.0 584.8,222.3" fill="none" stroke="#3d8dc4" stroke-width="0.4" stroke-opacity="0.45"/>
<polyline points="612.6,66.5 605.7,118.0 606.3,170.0 634.8,222.3" fill="none" stroke="#3c8cc3" stroke-width="0.4" stroke-opacity="0.45"/>
<polyline points="614.4,66.5 609.5,118.0 600.7,170.0 609.9,222.3" fill="none" stroke="#3c8cc3" stroke-width="0.4" stroke-opacity="0.45"/>
<polyline points="615.8,66.5 603.7,118.0 624.8,170.0 591.0,222.3" fill="none" stroke="#3c8cc3" stroke-width="0.4" stroke-opacity="0.45"/>
<polyline points="614.5,66.5 601.8,118.0 602.3,170.0 599.6,222.3" fill="none" stroke="#3b8bc2" stroke-width="0.4" stroke-opacity="0.45"/>
<polyline points="616.5,66.5 601.1,118.0 588.6,170.0 600.8,222.3" fill="none" stroke="#3989c1" stroke-width="0.4" stroke-opacity="0.45"/>
<polyline points="613.3,66.5 600.8,118.0 586.5,170.0 594.3,222.3" fill="none" stroke="#3888c1" stroke-width="0.4" stroke-opacity="0.45"/>
<polyline points="617.2,66.5 602.0,118.0 581.4,170.0 579.4,222.3" fill="none" stroke="#3888c1" stroke-width="0.4" stroke-opacity="0.45"/>
<polyline points="617.0,66.5 604.5,118.0 603.2,170.0 590.6,222.3" fill="none" stroke="#3787c0" stroke-width="0.4" stroke-opacity="0.45"/>
<polyline points="614.6,66.5 607.0,118.0 607.6,170.0 579.8,222.3" fill="none" stroke="#3585bf" stroke-width="0.4" stroke-opacity="0.45"/>
<polyline points="616.5,66.5 603.8,118.0 630.9,170.0 600.0,222.3" fill="none" stroke="#3585bf" stroke-width="0.4" stroke-opacity="0.45"/>
<polyline points="616.6,66.5 614.9,118.0 611.6,170.0 593.6,222.3" fill="none" stroke="#3383be" stroke-width="0.4" stroke-opacity="0.45"/>
<polyline points="615.1,66.5 610.9,118.0 622.6,170.0 609.2,222.3" fill="none" stroke="#3383be" stroke-width="0.4" stroke-opacity="0.45"/>
<line x1="510.5" y1="222.3" x2="645" y2="222.3" stroke="#333333" stroke-width="0.8" />
<line x1="528.4" y1="222.3" x2="528.4" y2="224.3" stroke="#333333" stroke-width="0.7" />
<text x="528.4" y="229.93" font-size="4.8" text-anchor="middle" fill="#000" textLength="7.08" lengthAdjust="spacingAndGlyphs" >−2</text>
<line x1="547.2" y1="222.3" x2="547.2" y2="224.3" stroke="#333333" stroke-width="0.7" />
<text x="547.2" y="229.93" font-size="4.8" text-anchor="middle" fill="#000" textLength="7.08" lengthAdjust="spacingAndGlyphs" >−1</text>
<line x1="566" y1="222.3" x2="566" y2="224.3" stroke="#333333" stroke-width="0.7" />
<text x="566" y="229.93" font-size="4.8" text-anchor="middle" fill="#000" textLength="3.05" lengthAdjust="spacingAndGlyphs" >0</text>
<line x1="584.8" y1="222.3" x2="584.8" y2="224.3" stroke="#333333" stroke-width="0.7" />
<text x="584.8" y="229.93" font-size="4.8" text-anchor="middle" fill="#000" textLength="3.05" lengthAdjust="spacingAndGlyphs" >1</text>
<line x1="603.6" y1="222.3" x2="603.6" y2="224.3" stroke="#333333" stroke-width="0.7" />
<text x="603.6" y="229.93" font-size="4.8" text-anchor="middle" fill="#000" textLength="3.05" lengthAdjust="spacingAndGlyphs" >2</text>
<line x1="622.4" y1="222.3" x2="622.4" y2="224.3" stroke="#333333" stroke-width="0.7" />
<text x="622.4" y="229.93" font-size="4.8" text-anchor="middle" fill="#000" textLength="3.05" lengthAdjust="spacingAndGlyphs" >3</text>
<line x1="641.2" y1="222.3" x2="641.2" y2="224.3" stroke="#333333" stroke-width="0.7" />
<text x="641.2" y="229.93" font-size="4.8" text-anchor="middle" fill="#000" textLength="3.05" lengthAdjust="spacingAndGlyphs" >4</text>
<text transform="translate(508.4,46) rotate(-90)" x="0" y="1.8" font-size="5" text-anchor="middle" fill="#000" textLength="45.20" lengthAdjust="spacingAndGlyphs" >Gradient Boosting</text>
<text transform="translate(508.4,98.5) rotate(-90)" x="0" y="1.8" font-size="5" text-anchor="middle" fill="#000" textLength="38.96" lengthAdjust="spacingAndGlyphs" >Neural Network</text>
<text transform="translate(508.4,150.5) rotate(-90)" x="0" y="1.8" font-size="5" text-anchor="middle" fill="#000" textLength="9.66" lengthAdjust="spacingAndGlyphs" >PRS</text>
<text transform="translate(508.4,204.5) rotate(-90)" x="0" y="1.8" font-size="5" text-anchor="middle" fill="#000" textLength="32.37" lengthAdjust="spacingAndGlyphs" >MB-MDRC 1d</text>
<rect x="657.4" y="80.1" width="5.3" height="107" fill="url(#gB)" stroke="#222" stroke-width="0.6"/>
<line x1="662.7" y1="87.14" x2="664.4" y2="87.14" stroke="#333333" stroke-width="0.6" />
<text x="665.8" y="88.87" font-size="4.8" text-anchor="start" fill="#000" textLength="7.63" lengthAdjust="spacingAndGlyphs" >3.0</text>
<line x1="662.7" y1="103.15" x2="664.4" y2="103.15" stroke="#333333" stroke-width="0.6" />
<text x="665.8" y="104.88" font-size="4.8" text-anchor="start" fill="#000" textLength="7.63" lengthAdjust="spacingAndGlyphs" >2.8</text>
<line x1="662.7" y1="119.15" x2="664.4" y2="119.15" stroke="#333333" stroke-width="0.6" />
<text x="665.8" y="120.88" font-size="4.8" text-anchor="start" fill="#000" textLength="7.63" lengthAdjust="spacingAndGlyphs" >2.6</text>
<line x1="662.7" y1="135.16" x2="664.4" y2="135.16" stroke="#333333" stroke-width="0.6" />
<text x="665.8" y="136.89" font-size="4.8" text-anchor="start" fill="#000" textLength="7.63" lengthAdjust="spacingAndGlyphs" >2.4</text>
<line x1="662.7" y1="151.17" x2="664.4" y2="151.17" stroke="#333333" stroke-width="0.6" />
<text x="665.8" y="152.89" font-size="4.8" text-anchor="start" fill="#000" textLength="7.63" lengthAdjust="spacingAndGlyphs" >2.2</text>
<line x1="662.7" y1="167.17" x2="664.4" y2="167.17" stroke="#333333" stroke-width="0.6" />
<text x="665.8" y="168.9" font-size="4.8" text-anchor="start" fill="#000" textLength="7.63" lengthAdjust="spacingAndGlyphs" >2.0</text>
<line x1="662.7" y1="183.18" x2="664.4" y2="183.18" stroke="#333333" stroke-width="0.6" />
<text x="665.8" y="184.91" font-size="4.8" text-anchor="start" fill="#000" textLength="7.63" lengthAdjust="spacingAndGlyphs" >1.8</text>
<text transform="translate(678.3,134) rotate(-90)" x="0" y="1.8" font-size="5" text-anchor="middle" fill="#000" textLength="48.15" lengthAdjust="spacingAndGlyphs" >Upper Tail Intensity</text>
<rect x="657.2" y="201.4" width="5.3" height="106.6" fill="url(#gR)" stroke="#222" stroke-width="0.6"/>
<line x1="662.5" y1="211.49" x2="664.2" y2="211.49" stroke="#333333" stroke-width="0.6" />
<text x="665.6" y="213.82" font-size="4.8" text-anchor="start" fill="#000" textLength="11.66" lengthAdjust="spacingAndGlyphs" >−1.3</text>
<line x1="662.5" y1="223.94" x2="664.2" y2="223.94" stroke="#333333" stroke-width="0.6" />
<text x="665.6" y="226.27" font-size="4.8" text-anchor="start" fill="#000" textLength="11.66" lengthAdjust="spacingAndGlyphs" >−1.4</text>
<line x1="662.5" y1="236.39" x2="664.2" y2="236.39" stroke="#333333" stroke-width="0.6" />
<text x="665.6" y="238.72" font-size="4.8" text-anchor="start" fill="#000" textLength="11.66" lengthAdjust="spacingAndGlyphs" >−1.5</text>
<line x1="662.5" y1="248.85" x2="664.2" y2="248.85" stroke="#333333" stroke-width="0.6" />
<text x="665.6" y="251.17" font-size="4.8" text-anchor="start" fill="#000" textLength="11.66" lengthAdjust="spacingAndGlyphs" >−1.6</text>
<line x1="662.5" y1="261.3" x2="664.2" y2="261.3" stroke="#333333" stroke-width="0.6" />
<text x="665.6" y="263.63" font-size="4.8" text-anchor="start" fill="#000" textLength="11.66" lengthAdjust="spacingAndGlyphs" >−1.7</text>
<line x1="662.5" y1="273.75" x2="664.2" y2="273.75" stroke="#333333" stroke-width="0.6" />
<text x="665.6" y="276.08" font-size="4.8" text-anchor="start" fill="#000" textLength="11.66" lengthAdjust="spacingAndGlyphs" >−1.8</text>
<line x1="662.5" y1="286.21" x2="664.2" y2="286.21" stroke="#333333" stroke-width="0.6" />
<text x="665.6" y="288.53" font-size="4.8" text-anchor="start" fill="#000" textLength="11.66" lengthAdjust="spacingAndGlyphs" >−1.9</text>
<line x1="662.5" y1="298.66" x2="664.2" y2="298.66" stroke="#333333" stroke-width="0.6" />
<text x="665.6" y="300.99" font-size="4.8" text-anchor="start" fill="#000" textLength="11.66" lengthAdjust="spacingAndGlyphs" >−2.0</text>
<text transform="translate(682,256.2) rotate(-90)" x="0" y="1.8" font-size="5" text-anchor="middle" fill="#000" textLength="47.99" lengthAdjust="spacingAndGlyphs" >Lower Tail Intensity</text>
<text x="341.6" y="237.62" font-size="5.9" text-anchor="middle" fill="#000" font-weight="bold" textLength="2.02" lengthAdjust="spacingAndGlyphs" >i</text>
<line x1="357" y1="235.6" x2="357" y2="344.9" stroke="#333333" stroke-width="0.8" />
<line x1="357" y1="344.9" x2="489.8" y2="344.9" stroke="#333333" stroke-width="0.8" />
<line x1="355" y1="344.9" x2="357" y2="344.9" stroke="#333333" stroke-width="0.7" />
<text x="353.7" y="346.93" font-size="4.8" text-anchor="end" fill="#000" textLength="10.69" lengthAdjust="spacingAndGlyphs" >50.0</text>
<line x1="355" y1="331.25" x2="357" y2="331.25" stroke="#333333" stroke-width="0.7" />
<text x="353.7" y="333.28" font-size="4.8" text-anchor="end" fill="#000" textLength="10.69" lengthAdjust="spacingAndGlyphs" >52.5</text>
<line x1="355" y1="317.6" x2="357" y2="317.6" stroke="#333333" stroke-width="0.7" />
<text x="353.7" y="319.63" font-size="4.8" text-anchor="end" fill="#000" textLength="10.69" lengthAdjust="spacingAndGlyphs" >55.0</text>
<line x1="355" y1="303.95" x2="357" y2="303.95" stroke="#333333" stroke-width="0.7" />
<text x="353.7" y="305.98" font-size="4.8" text-anchor="end" fill="#000" textLength="10.69" lengthAdjust="spacingAndGlyphs" >57.5</text>
<line x1="355" y1="290.3" x2="357" y2="290.3" stroke="#333333" stroke-width="0.7" />
<text x="353.7" y="292.33" font-size="4.8" text-anchor="end" fill="#000" textLength="10.69" lengthAdjust="spacingAndGlyphs" >60.0</text>
<line x1="355" y1="276.65" x2="357" y2="276.65" stroke="#333333" stroke-width="0.7" />
<text x="353.7" y="278.68" font-size="4.8" text-anchor="end" fill="#000" textLength="10.69" lengthAdjust="spacingAndGlyphs" >62.5</text>
<line x1="355" y1="263" x2="357" y2="263" stroke="#333333" stroke-width="0.7" />
<text x="353.7" y="265.03" font-size="4.8" text-anchor="end" fill="#000" textLength="10.69" lengthAdjust="spacingAndGlyphs" >65.0</text>
<line x1="355" y1="249.35" x2="357" y2="249.35" stroke="#333333" stroke-width="0.7" />
<text x="353.7" y="251.38" font-size="4.8" text-anchor="end" fill="#000" textLength="10.69" lengthAdjust="spacingAndGlyphs" >67.5</text>
<line x1="355" y1="235.7" x2="357" y2="235.7" stroke="#333333" stroke-width="0.7" />
<text x="353.7" y="237.73" font-size="4.8" text-anchor="end" fill="#000" textLength="10.69" lengthAdjust="spacingAndGlyphs" >70.0</text>
<text transform="translate(337.6,291) rotate(-90)" x="0" y="1.8" font-size="5" text-anchor="middle" fill="#000" textLength="24.42" lengthAdjust="spacingAndGlyphs" >% Female</text>
<rect x="360.4" y="299.58" width="10.4" height="45.32" fill="#accce3" />
<rect x="370.8" y="289.75" width="10.4" height="55.15" fill="#3e80b7" />
<line x1="370.8" y1="344.9" x2="370.8" y2="346.9" stroke="#333333" stroke-width="0.7" />
<text x="370.8" y="352.23" font-size="4.8" text-anchor="middle" fill="#000" textLength="9.28" lengthAdjust="spacingAndGlyphs" >PRS</text>
<rect x="387.05" y="295.76" width="10.4" height="49.14" fill="#accce3" />
<rect x="397.45" y="294.12" width="10.4" height="50.78" fill="#3e80b7" />
<line x1="397.45" y1="344.9" x2="397.45" y2="346.9" stroke="#333333" stroke-width="0.7" />
<text x="397.45" y="352.23" font-size="4.8" text-anchor="middle" fill="#000" textLength="11.15" lengthAdjust="spacingAndGlyphs" >GBM</text>
<rect x="413.7" y="311.05" width="10.4" height="33.85" fill="#accce3" />
<rect x="424.1" y="278.29" width="10.4" height="66.61" fill="#3e80b7" />
<line x1="424.1" y1="344.9" x2="424.1" y2="346.9" stroke="#333333" stroke-width="0.7" />
<text x="424.1" y="352.23" font-size="4.8" text-anchor="middle" fill="#000" textLength="7.18" lengthAdjust="spacingAndGlyphs" >NN</text>
<rect x="440.35" y="300.67" width="10.4" height="44.23" fill="#accce3" />
<rect x="450.75" y="288.66" width="10.4" height="56.24" fill="#3e80b7" />
<line x1="450.75" y1="344.9" x2="450.75" y2="346.9" stroke="#333333" stroke-width="0.7" />
<text x="450.75" y="352.23" font-size="4.8" text-anchor="middle" fill="#000" textLength="24.71" lengthAdjust="spacingAndGlyphs" >MBMDR1d</text>
<rect x="467" y="301.77" width="10.4" height="43.13" fill="#accce3" />
<rect x="477.4" y="287.57" width="10.4" height="57.33" fill="#3e80b7" />
<line x1="477.4" y1="344.9" x2="477.4" y2="346.9" stroke="#333333" stroke-width="0.7" />
<text x="477.4" y="352.23" font-size="4.8" text-anchor="middle" fill="#000" textLength="24.71" lengthAdjust="spacingAndGlyphs" >MBMDR2d</text>
<text x="424.2" y="358.5" font-size="5" text-anchor="middle" fill="#000" textLength="15.01" lengthAdjust="spacingAndGlyphs" >Model</text>
<rect x="470.8" y="241" width="10" height="3.2" fill="#accce3" />
<text x="485.2" y="244.23" font-size="4.8" text-anchor="start" fill="#000" textLength="3.05" lengthAdjust="spacingAndGlyphs" >0</text>
<rect x="470.8" y="248.3" width="10" height="3.3" fill="#3e80b7" />
<text x="485.2" y="251.63" font-size="4.8" text-anchor="start" fill="#000" textLength="3.05" lengthAdjust="spacingAndGlyphs" >1</text>
<text x="494.6" y="238.12" font-size="5.9" text-anchor="middle" fill="#000" font-weight="bold" textLength="2.02" lengthAdjust="spacingAndGlyphs" >j</text>
<line x1="510.4" y1="236" x2="510.4" y2="344.4" stroke="#333333" stroke-width="0.8" />
<line x1="510.4" y1="344.4" x2="640" y2="344.4" stroke="#333333" stroke-width="0.8" />
<line x1="508.4" y1="321.6" x2="510.4" y2="321.6" stroke="#333333" stroke-width="0.7" />
<text x="507.8" y="323.33" font-size="4.8" text-anchor="end" fill="#000" textLength="6.11" lengthAdjust="spacingAndGlyphs" >40</text>
<line x1="508.4" y1="298.1" x2="510.4" y2="298.1" stroke="#333333" stroke-width="0.7" />
<text x="507.8" y="299.83" font-size="4.8" text-anchor="end" fill="#000" textLength="6.11" lengthAdjust="spacingAndGlyphs" >60</text>
<line x1="508.4" y1="274.6" x2="510.4" y2="274.6" stroke="#333333" stroke-width="0.7" />
<text x="507.8" y="276.33" font-size="4.8" text-anchor="end" fill="#000" textLength="6.11" lengthAdjust="spacingAndGlyphs" >80</text>
<line x1="508.4" y1="251.1" x2="510.4" y2="251.1" stroke="#333333" stroke-width="0.7" />
<text x="507.8" y="252.83" font-size="4.8" text-anchor="end" fill="#000" textLength="9.16" lengthAdjust="spacingAndGlyphs" >100</text>
<text transform="translate(495.2,291.5) rotate(-90)" x="0" y="1.8" font-size="5" text-anchor="middle" fill="#000" textLength="36.36" lengthAdjust="spacingAndGlyphs" >Age (Baseline)</text>
<path d="M518.60,240.70 L518.65,241.97 L518.71,243.23 L518.76,244.50 L518.82,245.77 L518.87,247.04 L518.93,248.30 L518.98,249.57 L519.03,250.84 L519.08,252.10 L519.13,253.37 L519.18,254.64 L519.23,255.91 L519.30,257.17 L519.38,258.44 L519.52,259.71 L519.69,260.97 L519.88,262.24 L520.08,263.51 L520.30,264.77 L520.55,266.04 L520.82,267.31 L521.15,268.58 L521.52,269.84 L521.88,271.11 L522.19,272.38 L522.47,273.64 L522.73,274.91 L522.92,276.18 L523.10,277.45 L523.24,278.71 L523.30,279.98 L523.28,281.25 L523.24,282.51 L523.18,283.78 L523.10,285.05 L522.95,286.32 L522.72,287.58 L522.45,288.85 L522.18,290.12 L521.88,291.38 L521.55,292.65 L521.22,293.92 L520.89,295.18 L520.56,296.45 L520.26,297.72 L520.00,298.99 L519.75,300.25 L519.56,301.52 L519.42,302.79 L519.31,304.05 L519.23,305.32 L519.18,306.59 L519.15,307.86 L519.13,309.12 L519.11,310.39 L519.10,311.66 L519.10,312.92 L519.10,314.19 L519.10,315.46 L519.10,316.73 L519.10,317.99 L519.15,319.26 L519.27,320.53 L519.38,321.79 L519.48,323.06 L519.59,324.33 L519.68,325.59 L519.74,326.86 L519.73,328.13 L519.60,329.40 L519.42,330.66 L519.26,331.93 L519.15,333.20 L519.06,334.46 L518.97,335.73 L518.88,337.00 L518.78,338.27 L518.69,339.53 L518.60,340.80 L518.60,340.80 L518.51,339.53 L518.42,338.27 L518.32,337.00 L518.23,335.73 L518.14,334.46 L518.05,333.20 L517.94,331.93 L517.78,330.66 L517.60,329.40 L517.47,328.13 L517.46,326.86 L517.52,325.59 L517.61,324.33 L517.72,323.06 L517.82,321.79 L517.93,320.53 L518.05,319.26 L518.10,317.99 L518.10,316.73 L518.10,315.46 L518.10,314.19 L518.10,312.92 L518.10,311.66 L518.09,310.39 L518.07,309.12 L518.05,307.86 L518.02,306.59 L517.97,305.32 L517.89,304.05 L517.78,302.79 L517.64,301.52 L517.45,300.25 L517.20,298.99 L516.94,297.72 L516.64,296.45 L516.31,295.18 L515.98,293.92 L515.65,292.65 L515.32,291.38 L515.02,290.12 L514.75,288.85 L514.48,287.58 L514.25,286.32 L514.10,285.05 L514.02,283.78 L513.96,282.51 L513.92,281.25 L513.90,279.98 L513.96,278.71 L514.10,277.45 L514.28,276.18 L514.47,274.91 L514.73,273.64 L515.01,272.38 L515.32,271.11 L515.68,269.84 L516.05,268.58 L516.38,267.31 L516.65,266.04 L516.90,264.77 L517.12,263.51 L517.32,262.24 L517.51,260.97 L517.68,259.71 L517.82,258.44 L517.90,257.17 L517.97,255.91 L518.02,254.64 L518.07,253.37 L518.12,252.10 L518.17,250.84 L518.22,249.57 L518.27,248.30 L518.33,247.04 L518.38,245.77 L518.44,244.50 L518.49,243.23 L518.55,241.97 L518.60,240.70 Z" fill="#accce3" stroke="#383838" stroke-width="0.85"/>
<path d="M529.40,243.80 L529.46,245.00 L529.53,246.20 L529.59,247.41 L529.66,248.61 L529.72,249.81 L529.79,251.01 L529.86,252.21 L529.93,253.42 L529.98,254.62 L530.04,255.82 L530.11,257.02 L530.19,258.22 L530.29,259.42 L530.44,260.63 L530.72,261.83 L531.08,263.03 L531.48,264.23 L532.02,265.43 L532.57,266.64 L532.95,267.84 L533.28,269.04 L533.56,270.24 L533.80,271.44 L534.01,272.65 L534.23,273.85 L534.44,275.05 L534.60,276.25 L534.69,277.45 L534.70,278.66 L534.66,279.86 L534.61,281.06 L534.53,282.26 L534.44,283.46 L534.33,284.66 L534.13,285.87 L533.86,287.07 L533.55,288.27 L533.23,289.47 L532.93,290.67 L532.59,291.88 L532.25,293.08 L531.93,294.28 L531.61,295.48 L531.30,296.68 L531.02,297.89 L530.76,299.09 L530.51,300.29 L530.31,301.49 L530.18,302.69 L530.06,303.89 L529.98,305.10 L529.95,306.30 L529.93,307.50 L529.92,308.70 L529.91,309.90 L529.91,311.11 L529.90,312.31 L529.89,313.51 L529.88,314.71 L529.87,315.91 L529.86,317.12 L529.85,318.32 L529.85,319.52 L529.85,320.72 L529.85,321.92 L529.85,323.13 L529.85,324.33 L529.85,325.53 L529.85,326.73 L529.85,327.93 L529.85,329.13 L529.83,330.34 L529.81,331.54 L529.78,332.74 L529.75,333.94 L529.70,335.14 L529.62,336.35 L529.52,337.55 L529.40,338.75 L529.40,338.75 L529.28,337.55 L529.18,336.35 L529.10,335.14 L529.05,333.94 L529.02,332.74 L528.99,331.54 L528.97,330.34 L528.95,329.13 L528.95,327.93 L528.95,326.73 L528.95,325.53 L528.95,324.33 L528.95,323.13 L528.95,321.92 L528.95,320.72 L528.95,319.52 L528.95,318.32 L528.94,317.12 L528.93,315.91 L528.92,314.71 L528.91,313.51 L528.90,312.31 L528.89,311.11 L528.89,309.90 L528.88,308.70 L528.87,307.50 L528.85,306.30 L528.82,305.10 L528.74,303.89 L528.62,302.69 L528.49,301.49 L528.29,300.29 L528.04,299.09 L527.78,297.89 L527.50,296.68 L527.19,295.48 L526.87,294.28 L526.55,293.08 L526.21,291.88 L525.87,290.67 L525.57,289.47 L525.25,288.27 L524.94,287.07 L524.67,285.87 L524.47,284.66 L524.36,283.46 L524.27,282.26 L524.19,281.06 L524.14,279.86 L524.10,278.66 L524.11,277.45 L524.20,276.25 L524.36,275.05 L524.57,273.85 L524.79,272.65 L525.00,271.44 L525.24,270.24 L525.52,269.04 L525.85,267.84 L526.23,266.64 L526.78,265.43 L527.32,264.23 L527.72,263.03 L528.08,261.83 L528.36,260.63 L528.51,259.42 L528.61,258.22 L528.69,257.02 L528.76,255.82 L528.82,254.62 L528.87,253.42 L528.94,252.21 L529.01,251.01 L529.08,249.81 L529.14,248.61 L529.21,247.41 L529.27,246.20 L529.34,245.00 L529.40,243.80 Z" fill="#3e80b7" stroke="#383838" stroke-width="0.85"/>
<line x1="518.6" y1="258" x2="518.6" y2="312" stroke="#3d3d3d" stroke-width="0.6" />
<rect x="517.6" y="274.1" width="2" height="20.7" fill="#3d3d3d" />
<circle cx="518.60" cy="283.3" r="0.55" fill="#ffffff"/>
<line x1="529.4" y1="258" x2="529.4" y2="309" stroke="#3d3d3d" stroke-width="0.6" />
<rect x="528.4" y="274" width="2" height="17" fill="#3d3d3d" />
<circle cx="529.40" cy="282.6" r="0.55" fill="#ffffff"/>
<line x1="524" y1="344.4" x2="524" y2="346.4" stroke="#333333" stroke-width="0.7" />
<text x="524" y="352.33" font-size="4.8" text-anchor="middle" fill="#000" textLength="11.15" lengthAdjust="spacingAndGlyphs" >GBM</text>
<path d="M545.55,240.70 L545.60,241.97 L545.66,243.23 L545.71,244.50 L545.77,245.77 L545.82,247.04 L545.88,248.30 L545.93,249.57 L545.98,250.84 L546.03,252.10 L546.08,253.37 L546.13,254.64 L546.18,255.91 L546.25,257.17 L546.33,258.44 L546.47,259.71 L546.64,260.97 L546.83,262.24 L547.03,263.51 L547.25,264.77 L547.50,266.04 L547.77,267.31 L548.10,268.58 L548.47,269.84 L548.83,271.11 L549.14,272.38 L549.42,273.64 L549.68,274.91 L549.87,276.18 L550.05,277.45 L550.19,278.71 L550.25,279.98 L550.23,281.25 L550.19,282.51 L550.13,283.78 L550.05,285.05 L549.90,286.32 L549.67,287.58 L549.40,288.85 L549.13,290.12 L548.83,291.38 L548.50,292.65 L548.17,293.92 L547.84,295.18 L547.51,296.45 L547.21,297.72 L546.95,298.99 L546.70,300.25 L546.51,301.52 L546.37,302.79 L546.26,304.05 L546.18,305.32 L546.13,306.59 L546.10,307.86 L546.08,309.12 L546.06,310.39 L546.05,311.66 L546.05,312.92 L546.05,314.19 L546.05,315.46 L546.05,316.73 L546.05,317.99 L546.10,319.26 L546.22,320.53 L546.33,321.79 L546.43,323.06 L546.54,324.33 L546.63,325.59 L546.69,326.86 L546.68,328.13 L546.55,329.40 L546.37,330.66 L546.21,331.93 L546.10,333.20 L546.01,334.46 L545.92,335.73 L545.83,337.00 L545.73,338.27 L545.64,339.53 L545.55,340.80 L545.55,340.80 L545.46,339.53 L545.37,338.27 L545.27,337.00 L545.18,335.73 L545.09,334.46 L545.00,333.20 L544.89,331.93 L544.73,330.66 L544.55,329.40 L544.42,328.13 L544.41,326.86 L544.47,325.59 L544.56,324.33 L544.67,323.06 L544.77,321.79 L544.88,320.53 L545.00,319.26 L545.05,317.99 L545.05,316.73 L545.05,315.46 L545.05,314.19 L545.05,312.92 L545.05,311.66 L545.04,310.39 L545.02,309.12 L545.00,307.86 L544.97,306.59 L544.92,305.32 L544.84,304.05 L544.73,302.79 L544.59,301.52 L544.40,300.25 L544.15,298.99 L543.89,297.72 L543.59,296.45 L543.26,295.18 L542.93,293.92 L542.60,292.65 L542.27,291.38 L541.97,290.12 L541.70,288.85 L541.43,287.58 L541.20,286.32 L541.05,285.05 L540.97,283.78 L540.91,282.51 L540.87,281.25 L540.85,279.98 L540.91,278.71 L541.05,277.45 L541.23,276.18 L541.42,274.91 L541.68,273.64 L541.96,272.38 L542.27,271.11 L542.63,269.84 L543.00,268.58 L543.33,267.31 L543.60,266.04 L543.85,264.77 L544.07,263.51 L544.27,262.24 L544.46,260.97 L544.63,259.71 L544.77,258.44 L544.85,257.17 L544.92,255.91 L544.97,254.64 L545.02,253.37 L545.07,252.10 L545.12,250.84 L545.17,249.57 L545.22,248.30 L545.28,247.04 L545.33,245.77 L545.39,244.50 L545.44,243.23 L545.50,241.97 L545.55,240.70 Z" fill="#accce3" stroke="#383838" stroke-width="0.85"/>
<path d="M556.35,243.80 L556.41,245.00 L556.48,246.20 L556.54,247.41 L556.61,248.61 L556.67,249.81 L556.74,251.01 L556.81,252.21 L556.88,253.42 L556.93,254.62 L556.99,255.82 L557.06,257.02 L557.14,258.22 L557.24,259.42 L557.39,260.63 L557.67,261.83 L558.03,263.03 L558.43,264.23 L558.97,265.43 L559.52,266.64 L559.90,267.84 L560.23,269.04 L560.51,270.24 L560.75,271.44 L560.96,272.65 L561.18,273.85 L561.39,275.05 L561.55,276.25 L561.64,277.45 L561.65,278.66 L561.61,279.86 L561.56,281.06 L561.48,282.26 L561.39,283.46 L561.28,284.66 L561.08,285.87 L560.81,287.07 L560.50,288.27 L560.18,289.47 L559.88,290.67 L559.54,291.88 L559.20,293.08 L558.88,294.28 L558.56,295.48 L558.25,296.68 L557.97,297.89 L557.71,299.09 L557.46,300.29 L557.26,301.49 L557.13,302.69 L557.01,303.89 L556.93,305.10 L556.90,306.30 L556.88,307.50 L556.87,308.70 L556.86,309.90 L556.86,311.11 L556.85,312.31 L556.84,313.51 L556.83,314.71 L556.82,315.91 L556.81,317.12 L556.80,318.32 L556.80,319.52 L556.80,320.72 L556.80,321.92 L556.80,323.13 L556.80,324.33 L556.80,325.53 L556.80,326.73 L556.80,327.93 L556.80,329.13 L556.78,330.34 L556.76,331.54 L556.73,332.74 L556.70,333.94 L556.65,335.14 L556.57,336.35 L556.47,337.55 L556.35,338.75 L556.35,338.75 L556.23,337.55 L556.13,336.35 L556.05,335.14 L556.00,333.94 L555.97,332.74 L555.94,331.54 L555.92,330.34 L555.90,329.13 L555.90,327.93 L555.90,326.73 L555.90,325.53 L555.90,324.33 L555.90,323.13 L555.90,321.92 L555.90,320.72 L555.90,319.52 L555.90,318.32 L555.89,317.12 L555.88,315.91 L555.87,314.71 L555.86,313.51 L555.85,312.31 L555.84,311.11 L555.84,309.90 L555.83,308.70 L555.82,307.50 L555.80,306.30 L555.77,305.10 L555.69,303.89 L555.57,302.69 L555.44,301.49 L555.24,300.29 L554.99,299.09 L554.73,297.89 L554.45,296.68 L554.14,295.48 L553.82,294.28 L553.50,293.08 L553.16,291.88 L552.82,290.67 L552.52,289.47 L552.20,288.27 L551.89,287.07 L551.62,285.87 L551.42,284.66 L551.31,283.46 L551.22,282.26 L551.14,281.06 L551.09,279.86 L551.05,278.66 L551.06,277.45 L551.15,276.25 L551.31,275.05 L551.52,273.85 L551.74,272.65 L551.95,271.44 L552.19,270.24 L552.47,269.04 L552.80,267.84 L553.18,266.64 L553.73,265.43 L554.27,264.23 L554.67,263.03 L555.03,261.83 L555.31,260.63 L555.46,259.42 L555.56,258.22 L555.64,257.02 L555.71,255.82 L555.77,254.62 L555.82,253.42 L555.89,252.21 L555.96,251.01 L556.03,249.81 L556.09,248.61 L556.16,247.41 L556.22,246.20 L556.29,245.00 L556.35,243.80 Z" fill="#3e80b7" stroke="#383838" stroke-width="0.85"/>
<line x1="545.55" y1="258" x2="545.55" y2="312" stroke="#3d3d3d" stroke-width="0.6" />
<rect x="544.55" y="274.1" width="2" height="20.7" fill="#3d3d3d" />
<circle cx="545.55" cy="283.3" r="0.55" fill="#ffffff"/>
<line x1="556.35" y1="258" x2="556.35" y2="309" stroke="#3d3d3d" stroke-width="0.6" />
<rect x="555.35" y="274" width="2" height="17" fill="#3d3d3d" />
<circle cx="556.35" cy="282.6" r="0.55" fill="#ffffff"/>
<line x1="550.95" y1="344.4" x2="550.95" y2="346.4" stroke="#333333" stroke-width="0.7" />
<text x="550.95" y="352.33" font-size="4.8" text-anchor="middle" fill="#000" textLength="9.28" lengthAdjust="spacingAndGlyphs" >PRS</text>
<path d="M572.50,240.70 L572.55,241.97 L572.61,243.23 L572.66,244.50 L572.72,245.77 L572.77,247.04 L572.83,248.30 L572.88,249.57 L572.93,250.84 L572.98,252.10 L573.03,253.37 L573.08,254.64 L573.13,255.91 L573.20,257.17 L573.28,258.44 L573.42,259.71 L573.59,260.97 L573.78,262.24 L573.98,263.51 L574.20,264.77 L574.45,266.04 L574.72,267.31 L575.05,268.58 L575.42,269.84 L575.78,271.11 L576.09,272.38 L576.37,273.64 L576.63,274.91 L576.82,276.18 L577.00,277.45 L577.14,278.71 L577.20,279.98 L577.18,281.25 L577.14,282.51 L577.08,283.78 L577.00,285.05 L576.85,286.32 L576.62,287.58 L576.35,288.85 L576.08,290.12 L575.78,291.38 L575.45,292.65 L575.12,293.92 L574.79,295.18 L574.46,296.45 L574.16,297.72 L573.90,298.99 L573.65,300.25 L573.46,301.52 L573.32,302.79 L573.21,304.05 L573.13,305.32 L573.08,306.59 L573.05,307.86 L573.03,309.12 L573.01,310.39 L573.00,311.66 L573.00,312.92 L573.00,314.19 L573.00,315.46 L573.00,316.73 L573.00,317.99 L573.05,319.26 L573.17,320.53 L573.28,321.79 L573.38,323.06 L573.49,324.33 L573.58,325.59 L573.64,326.86 L573.63,328.13 L573.50,329.40 L573.32,330.66 L573.16,331.93 L573.05,333.20 L572.96,334.46 L572.87,335.73 L572.78,337.00 L572.68,338.27 L572.59,339.53 L572.50,340.80 L572.50,340.80 L572.41,339.53 L572.32,338.27 L572.22,337.00 L572.13,335.73 L572.04,334.46 L571.95,333.20 L571.84,331.93 L571.68,330.66 L571.50,329.40 L571.37,328.13 L571.36,326.86 L571.42,325.59 L571.51,324.33 L571.62,323.06 L571.72,321.79 L571.83,320.53 L571.95,319.26 L572.00,317.99 L572.00,316.73 L572.00,315.46 L572.00,314.19 L572.00,312.92 L572.00,311.66 L571.99,310.39 L571.97,309.12 L571.95,307.86 L571.92,306.59 L571.87,305.32 L571.79,304.05 L571.68,302.79 L571.54,301.52 L571.35,300.25 L571.10,298.99 L570.84,297.72 L570.54,296.45 L570.21,295.18 L569.88,293.92 L569.55,292.65 L569.22,291.38 L568.92,290.12 L568.65,288.85 L568.38,287.58 L568.15,286.32 L568.00,285.05 L567.92,283.78 L567.86,282.51 L567.82,281.25 L567.80,279.98 L567.86,278.71 L568.00,277.45 L568.18,276.18 L568.37,274.91 L568.63,273.64 L568.91,272.38 L569.22,271.11 L569.58,269.84 L569.95,268.58 L570.28,267.31 L570.55,266.04 L570.80,264.77 L571.02,263.51 L571.22,262.24 L571.41,260.97 L571.58,259.71 L571.72,258.44 L571.80,257.17 L571.87,255.91 L571.92,254.64 L571.97,253.37 L572.02,252.10 L572.07,250.84 L572.12,249.57 L572.17,248.30 L572.23,247.04 L572.28,245.77 L572.34,244.50 L572.39,243.23 L572.45,241.97 L572.50,240.70 Z" fill="#accce3" stroke="#383838" stroke-width="0.85"/>
<path d="M583.30,243.80 L583.36,245.00 L583.43,246.20 L583.49,247.41 L583.56,248.61 L583.62,249.81 L583.69,251.01 L583.76,252.21 L583.83,253.42 L583.88,254.62 L583.94,255.82 L584.01,257.02 L584.09,258.22 L584.19,259.42 L584.34,260.63 L584.62,261.83 L584.98,263.03 L585.38,264.23 L585.92,265.43 L586.47,266.64 L586.85,267.84 L587.18,269.04 L587.46,270.24 L587.70,271.44 L587.91,272.65 L588.13,273.85 L588.34,275.05 L588.50,276.25 L588.59,277.45 L588.60,278.66 L588.56,279.86 L588.51,281.06 L588.43,282.26 L588.34,283.46 L588.23,284.66 L588.03,285.87 L587.76,287.07 L587.45,288.27 L587.13,289.47 L586.83,290.67 L586.49,291.88 L586.15,293.08 L585.83,294.28 L585.51,295.48 L585.20,296.68 L584.92,297.89 L584.66,299.09 L584.41,300.29 L584.21,301.49 L584.08,302.69 L583.96,303.89 L583.88,305.10 L583.85,306.30 L583.83,307.50 L583.82,308.70 L583.81,309.90 L583.81,311.11 L583.80,312.31 L583.79,313.51 L583.78,314.71 L583.77,315.91 L583.76,317.12 L583.75,318.32 L583.75,319.52 L583.75,320.72 L583.75,321.92 L583.75,323.13 L583.75,324.33 L583.75,325.53 L583.75,326.73 L583.75,327.93 L583.75,329.13 L583.73,330.34 L583.71,331.54 L583.68,332.74 L583.65,333.94 L583.60,335.14 L583.52,336.35 L583.42,337.55 L583.30,338.75 L583.30,338.75 L583.18,337.55 L583.08,336.35 L583.00,335.14 L582.95,333.94 L582.92,332.74 L582.89,331.54 L582.87,330.34 L582.85,329.13 L582.85,327.93 L582.85,326.73 L582.85,325.53 L582.85,324.33 L582.85,323.13 L582.85,321.92 L582.85,320.72 L582.85,319.52 L582.85,318.32 L582.84,317.12 L582.83,315.91 L582.82,314.71 L582.81,313.51 L582.80,312.31 L582.79,311.11 L582.79,309.90 L582.78,308.70 L582.77,307.50 L582.75,306.30 L582.72,305.10 L582.64,303.89 L582.52,302.69 L582.39,301.49 L582.19,300.29 L581.94,299.09 L581.68,297.89 L581.40,296.68 L581.09,295.48 L580.77,294.28 L580.45,293.08 L580.11,291.88 L579.77,290.67 L579.47,289.47 L579.15,288.27 L578.84,287.07 L578.57,285.87 L578.37,284.66 L578.26,283.46 L578.17,282.26 L578.09,281.06 L578.04,279.86 L578.00,278.66 L578.01,277.45 L578.10,276.25 L578.26,275.05 L578.47,273.85 L578.69,272.65 L578.90,271.44 L579.14,270.24 L579.42,269.04 L579.75,267.84 L580.13,266.64 L580.68,265.43 L581.22,264.23 L581.62,263.03 L581.98,261.83 L582.26,260.63 L582.41,259.42 L582.51,258.22 L582.59,257.02 L582.66,255.82 L582.72,254.62 L582.77,253.42 L582.84,252.21 L582.91,251.01 L582.98,249.81 L583.04,248.61 L583.11,247.41 L583.17,246.20 L583.24,245.00 L583.30,243.80 Z" fill="#3e80b7" stroke="#383838" stroke-width="0.85"/>
<line x1="572.5" y1="258" x2="572.5" y2="312" stroke="#3d3d3d" stroke-width="0.6" />
<rect x="571.5" y="274.1" width="2" height="20.7" fill="#3d3d3d" />
<circle cx="572.50" cy="283.3" r="0.55" fill="#ffffff"/>
<line x1="583.3" y1="258" x2="583.3" y2="309" stroke="#3d3d3d" stroke-width="0.6" />
<rect x="582.3" y="274" width="2" height="17" fill="#3d3d3d" />
<circle cx="583.30" cy="282.6" r="0.55" fill="#ffffff"/>
<line x1="577.9" y1="344.4" x2="577.9" y2="346.4" stroke="#333333" stroke-width="0.7" />
<text x="577.9" y="352.33" font-size="4.8" text-anchor="middle" fill="#000" textLength="7.18" lengthAdjust="spacingAndGlyphs" >NN</text>
<path d="M599.45,240.70 L599.50,241.97 L599.56,243.23 L599.61,244.50 L599.67,245.77 L599.72,247.04 L599.78,248.30 L599.83,249.57 L599.88,250.84 L599.93,252.10 L599.98,253.37 L600.03,254.64 L600.08,255.91 L600.15,257.17 L600.23,258.44 L600.37,259.71 L600.54,260.97 L600.73,262.24 L600.93,263.51 L601.15,264.77 L601.40,266.04 L601.67,267.31 L602.00,268.58 L602.37,269.84 L602.73,271.11 L603.04,272.38 L603.32,273.64 L603.58,274.91 L603.77,276.18 L603.95,277.45 L604.09,278.71 L604.15,279.98 L604.13,281.25 L604.09,282.51 L604.03,283.78 L603.95,285.05 L603.80,286.32 L603.57,287.58 L603.30,288.85 L603.03,290.12 L602.73,291.38 L602.40,292.65 L602.07,293.92 L601.74,295.18 L601.41,296.45 L601.11,297.72 L600.85,298.99 L600.60,300.25 L600.41,301.52 L600.27,302.79 L600.16,304.05 L600.08,305.32 L600.03,306.59 L600.00,307.86 L599.98,309.12 L599.96,310.39 L599.95,311.66 L599.95,312.92 L599.95,314.19 L599.95,315.46 L599.95,316.73 L599.95,317.99 L600.00,319.26 L600.12,320.53 L600.23,321.79 L600.33,323.06 L600.44,324.33 L600.53,325.59 L600.59,326.86 L600.58,328.13 L600.45,329.40 L600.27,330.66 L600.11,331.93 L600.00,333.20 L599.91,334.46 L599.82,335.73 L599.73,337.00 L599.63,338.27 L599.54,339.53 L599.45,340.80 L599.45,340.80 L599.36,339.53 L599.27,338.27 L599.17,337.00 L599.08,335.73 L598.99,334.46 L598.90,333.20 L598.79,331.93 L598.63,330.66 L598.45,329.40 L598.32,328.13 L598.31,326.86 L598.37,325.59 L598.46,324.33 L598.57,323.06 L598.67,321.79 L598.78,320.53 L598.90,319.26 L598.95,317.99 L598.95,316.73 L598.95,315.46 L598.95,314.19 L598.95,312.92 L598.95,311.66 L598.94,310.39 L598.92,309.12 L598.90,307.86 L598.87,306.59 L598.82,305.32 L598.74,304.05 L598.63,302.79 L598.49,301.52 L598.30,300.25 L598.05,298.99 L597.79,297.72 L597.49,296.45 L597.16,295.18 L596.83,293.92 L596.50,292.65 L596.17,291.38 L595.87,290.12 L595.60,288.85 L595.33,287.58 L595.10,286.32 L594.95,285.05 L594.87,283.78 L594.81,282.51 L594.77,281.25 L594.75,279.98 L594.81,278.71 L594.95,277.45 L595.13,276.18 L595.32,274.91 L595.58,273.64 L595.86,272.38 L596.17,271.11 L596.53,269.84 L596.90,268.58 L597.23,267.31 L597.50,266.04 L597.75,264.77 L597.97,263.51 L598.17,262.24 L598.36,260.97 L598.53,259.71 L598.67,258.44 L598.75,257.17 L598.82,255.91 L598.87,254.64 L598.92,253.37 L598.97,252.10 L599.02,250.84 L599.07,249.57 L599.12,248.30 L599.18,247.04 L599.23,245.77 L599.29,244.50 L599.34,243.23 L599.40,241.97 L599.45,240.70 Z" fill="#accce3" stroke="#383838" stroke-width="0.85"/>
<path d="M610.25,243.80 L610.31,245.00 L610.38,246.20 L610.44,247.41 L610.51,248.61 L610.57,249.81 L610.64,251.01 L610.71,252.21 L610.78,253.42 L610.83,254.62 L610.89,255.82 L610.96,257.02 L611.04,258.22 L611.14,259.42 L611.29,260.63 L611.57,261.83 L611.93,263.03 L612.33,264.23 L612.87,265.43 L613.42,266.64 L613.80,267.84 L614.13,269.04 L614.41,270.24 L614.65,271.44 L614.86,272.65 L615.08,273.85 L615.29,275.05 L615.45,276.25 L615.54,277.45 L615.55,278.66 L615.51,279.86 L615.46,281.06 L615.38,282.26 L615.29,283.46 L615.18,284.66 L614.98,285.87 L614.71,287.07 L614.40,288.27 L614.08,289.47 L613.78,290.67 L613.44,291.88 L613.10,293.08 L612.78,294.28 L612.46,295.48 L612.15,296.68 L611.87,297.89 L611.61,299.09 L611.36,300.29 L611.16,301.49 L611.03,302.69 L610.91,303.89 L610.83,305.10 L610.80,306.30 L610.78,307.50 L610.77,308.70 L610.76,309.90 L610.76,311.11 L610.75,312.31 L610.74,313.51 L610.73,314.71 L610.72,315.91 L610.71,317.12 L610.70,318.32 L610.70,319.52 L610.70,320.72 L610.70,321.92 L610.70,323.13 L610.70,324.33 L610.70,325.53 L610.70,326.73 L610.70,327.93 L610.70,329.13 L610.68,330.34 L610.66,331.54 L610.63,332.74 L610.60,333.94 L610.55,335.14 L610.47,336.35 L610.37,337.55 L610.25,338.75 L610.25,338.75 L610.13,337.55 L610.03,336.35 L609.95,335.14 L609.90,333.94 L609.87,332.74 L609.84,331.54 L609.82,330.34 L609.80,329.13 L609.80,327.93 L609.80,326.73 L609.80,325.53 L609.80,324.33 L609.80,323.13 L609.80,321.92 L609.80,320.72 L609.80,319.52 L609.80,318.32 L609.79,317.12 L609.78,315.91 L609.77,314.71 L609.76,313.51 L609.75,312.31 L609.74,311.11 L609.74,309.90 L609.73,308.70 L609.72,307.50 L609.70,306.30 L609.67,305.10 L609.59,303.89 L609.47,302.69 L609.34,301.49 L609.14,300.29 L608.89,299.09 L608.63,297.89 L608.35,296.68 L608.04,295.48 L607.72,294.28 L607.40,293.08 L607.06,291.88 L606.72,290.67 L606.42,289.47 L606.10,288.27 L605.79,287.07 L605.52,285.87 L605.32,284.66 L605.21,283.46 L605.12,282.26 L605.04,281.06 L604.99,279.86 L604.95,278.66 L604.96,277.45 L605.05,276.25 L605.21,275.05 L605.42,273.85 L605.64,272.65 L605.85,271.44 L606.09,270.24 L606.37,269.04 L606.70,267.84 L607.08,266.64 L607.63,265.43 L608.17,264.23 L608.57,263.03 L608.93,261.83 L609.21,260.63 L609.36,259.42 L609.46,258.22 L609.54,257.02 L609.61,255.82 L609.67,254.62 L609.72,253.42 L609.79,252.21 L609.86,251.01 L609.93,249.81 L609.99,248.61 L610.06,247.41 L610.12,246.20 L610.19,245.00 L610.25,243.80 Z" fill="#3e80b7" stroke="#383838" stroke-width="0.85"/>
<line x1="599.45" y1="258" x2="599.45" y2="312" stroke="#3d3d3d" stroke-width="0.6" />
<rect x="598.45" y="274.1" width="2" height="20.7" fill="#3d3d3d" />
<circle cx="599.45" cy="283.3" r="0.55" fill="#ffffff"/>
<line x1="610.25" y1="258" x2="610.25" y2="309" stroke="#3d3d3d" stroke-width="0.6" />
<rect x="609.25" y="274" width="2" height="17" fill="#3d3d3d" />
<circle cx="610.25" cy="282.6" r="0.55" fill="#ffffff"/>
<line x1="604.85" y1="344.4" x2="604.85" y2="346.4" stroke="#333333" stroke-width="0.7" />
<text x="604.85" y="352.33" font-size="4.8" text-anchor="middle" fill="#000" textLength="25.36" lengthAdjust="spacingAndGlyphs" >MBMDR1D</text>
<path d="M626.40,240.70 L626.45,241.97 L626.51,243.23 L626.56,244.50 L626.62,245.77 L626.67,247.04 L626.73,248.30 L626.78,249.57 L626.83,250.84 L626.88,252.10 L626.93,253.37 L626.98,254.64 L627.03,255.91 L627.10,257.17 L627.18,258.44 L627.32,259.71 L627.49,260.97 L627.68,262.24 L627.88,263.51 L628.10,264.77 L628.35,266.04 L628.62,267.31 L628.95,268.58 L629.32,269.84 L629.68,271.11 L629.99,272.38 L630.27,273.64 L630.53,274.91 L630.72,276.18 L630.90,277.45 L631.04,278.71 L631.10,279.98 L631.08,281.25 L631.04,282.51 L630.98,283.78 L630.90,285.05 L630.75,286.32 L630.52,287.58 L630.25,288.85 L629.98,290.12 L629.68,291.38 L629.35,292.65 L629.02,293.92 L628.69,295.18 L628.36,296.45 L628.06,297.72 L627.80,298.99 L627.55,300.25 L627.36,301.52 L627.22,302.79 L627.11,304.05 L627.03,305.32 L626.98,306.59 L626.95,307.86 L626.93,309.12 L626.91,310.39 L626.90,311.66 L626.90,312.92 L626.90,314.19 L626.90,315.46 L626.90,316.73 L626.90,317.99 L626.95,319.26 L627.07,320.53 L627.18,321.79 L627.28,323.06 L627.39,324.33 L627.48,325.59 L627.54,326.86 L627.53,328.13 L627.40,329.40 L627.22,330.66 L627.06,331.93 L626.95,333.20 L626.86,334.46 L626.77,335.73 L626.68,337.00 L626.58,338.27 L626.49,339.53 L626.40,340.80 L626.40,340.80 L626.31,339.53 L626.22,338.27 L626.12,337.00 L626.03,335.73 L625.94,334.46 L625.85,333.20 L625.74,331.93 L625.58,330.66 L625.40,329.40 L625.27,328.13 L625.26,326.86 L625.32,325.59 L625.41,324.33 L625.52,323.06 L625.62,321.79 L625.73,320.53 L625.85,319.26 L625.90,317.99 L625.90,316.73 L625.90,315.46 L625.90,314.19 L625.90,312.92 L625.90,311.66 L625.89,310.39 L625.87,309.12 L625.85,307.86 L625.82,306.59 L625.77,305.32 L625.69,304.05 L625.58,302.79 L625.44,301.52 L625.25,300.25 L625.00,298.99 L624.74,297.72 L624.44,296.45 L624.11,295.18 L623.78,293.92 L623.45,292.65 L623.12,291.38 L622.82,290.12 L622.55,288.85 L622.28,287.58 L622.05,286.32 L621.90,285.05 L621.82,283.78 L621.76,282.51 L621.72,281.25 L621.70,279.98 L621.76,278.71 L621.90,277.45 L622.08,276.18 L622.27,274.91 L622.53,273.64 L622.81,272.38 L623.12,271.11 L623.48,269.84 L623.85,268.58 L624.18,267.31 L624.45,266.04 L624.70,264.77 L624.92,263.51 L625.12,262.24 L625.31,260.97 L625.48,259.71 L625.62,258.44 L625.70,257.17 L625.77,255.91 L625.82,254.64 L625.87,253.37 L625.92,252.10 L625.97,250.84 L626.02,249.57 L626.07,248.30 L626.13,247.04 L626.18,245.77 L626.24,244.50 L626.29,243.23 L626.35,241.97 L626.40,240.70 Z" fill="#accce3" stroke="#383838" stroke-width="0.85"/>
<path d="M637.20,243.80 L637.26,245.00 L637.33,246.20 L637.39,247.41 L637.46,248.61 L637.52,249.81 L637.59,251.01 L637.66,252.21 L637.73,253.42 L637.78,254.62 L637.84,255.82 L637.91,257.02 L637.99,258.22 L638.09,259.42 L638.24,260.63 L638.52,261.83 L638.88,263.03 L639.28,264.23 L639.82,265.43 L640.37,266.64 L640.75,267.84 L641.08,269.04 L641.36,270.24 L641.60,271.44 L641.81,272.65 L642.03,273.85 L642.24,275.05 L642.40,276.25 L642.49,277.45 L642.50,278.66 L642.46,279.86 L642.41,281.06 L642.33,282.26 L642.24,283.46 L642.13,284.66 L641.93,285.87 L641.66,287.07 L641.35,288.27 L641.03,289.47 L640.73,290.67 L640.39,291.88 L640.05,293.08 L639.73,294.28 L639.41,295.48 L639.10,296.68 L638.82,297.89 L638.56,299.09 L638.31,300.29 L638.11,301.49 L637.98,302.69 L637.86,303.89 L637.78,305.10 L637.75,306.30 L637.73,307.50 L637.72,308.70 L637.71,309.90 L637.71,311.11 L637.70,312.31 L637.69,313.51 L637.68,314.71 L637.67,315.91 L637.66,317.12 L637.65,318.32 L637.65,319.52 L637.65,320.72 L637.65,321.92 L637.65,323.13 L637.65,324.33 L637.65,325.53 L637.65,326.73 L637.65,327.93 L637.65,329.13 L637.63,330.34 L637.61,331.54 L637.58,332.74 L637.55,333.94 L637.50,335.14 L637.42,336.35 L637.32,337.55 L637.20,338.75 L637.20,338.75 L637.08,337.55 L636.98,336.35 L636.90,335.14 L636.85,333.94 L636.82,332.74 L636.79,331.54 L636.77,330.34 L636.75,329.13 L636.75,327.93 L636.75,326.73 L636.75,325.53 L636.75,324.33 L636.75,323.13 L636.75,321.92 L636.75,320.72 L636.75,319.52 L636.75,318.32 L636.74,317.12 L636.73,315.91 L636.72,314.71 L636.71,313.51 L636.70,312.31 L636.69,311.11 L636.69,309.90 L636.68,308.70 L636.67,307.50 L636.65,306.30 L636.62,305.10 L636.54,303.89 L636.42,302.69 L636.29,301.49 L636.09,300.29 L635.84,299.09 L635.58,297.89 L635.30,296.68 L634.99,295.48 L634.67,294.28 L634.35,293.08 L634.01,291.88 L633.67,290.67 L633.37,289.47 L633.05,288.27 L632.74,287.07 L632.47,285.87 L632.27,284.66 L632.16,283.46 L632.07,282.26 L631.99,281.06 L631.94,279.86 L631.90,278.66 L631.91,277.45 L632.00,276.25 L632.16,275.05 L632.37,273.85 L632.59,272.65 L632.80,271.44 L633.04,270.24 L633.32,269.04 L633.65,267.84 L634.03,266.64 L634.58,265.43 L635.12,264.23 L635.52,263.03 L635.88,261.83 L636.16,260.63 L636.31,259.42 L636.41,258.22 L636.49,257.02 L636.56,255.82 L636.62,254.62 L636.67,253.42 L636.74,252.21 L636.81,251.01 L636.88,249.81 L636.94,248.61 L637.01,247.41 L637.07,246.20 L637.14,245.00 L637.20,243.80 Z" fill="#3e80b7" stroke="#383838" stroke-width="0.85"/>
<line x1="626.4" y1="258" x2="626.4" y2="312" stroke="#3d3d3d" stroke-width="0.6" />
<rect x="625.4" y="274.1" width="2" height="20.7" fill="#3d3d3d" />
<circle cx="626.40" cy="283.3" r="0.55" fill="#ffffff"/>
<line x1="637.2" y1="258" x2="637.2" y2="309" stroke="#3d3d3d" stroke-width="0.6" />
<rect x="636.2" y="274" width="2" height="17" fill="#3d3d3d" />
<circle cx="637.20" cy="282.6" r="0.55" fill="#ffffff"/>
<line x1="631.8" y1="344.4" x2="631.8" y2="346.4" stroke="#333333" stroke-width="0.7" />
<text x="631.8" y="352.33" font-size="4.8" text-anchor="middle" fill="#000" textLength="25.36" lengthAdjust="spacingAndGlyphs" >MBMDR2D</text>
<text x="575" y="358.6" font-size="5" text-anchor="middle" fill="#000" textLength="15.01" lengthAdjust="spacingAndGlyphs" >Model</text>
<rect x="623.1" y="241.1" width="11.1" height="3" fill="#accce3" stroke="#555" stroke-width="0.4"/>
<text x="637.6" y="244.93" font-size="4.8" text-anchor="start" fill="#000" textLength="3.05" lengthAdjust="spacingAndGlyphs" >0</text>
<rect x="623.1" y="248.2" width="11.1" height="3" fill="#3e80b7" stroke="#555" stroke-width="0.4"/>
<text x="637.6" y="252.03" font-size="4.8" text-anchor="start" fill="#000" textLength="3.05" lengthAdjust="spacingAndGlyphs" >1</text>
</svg>
</body></html>
